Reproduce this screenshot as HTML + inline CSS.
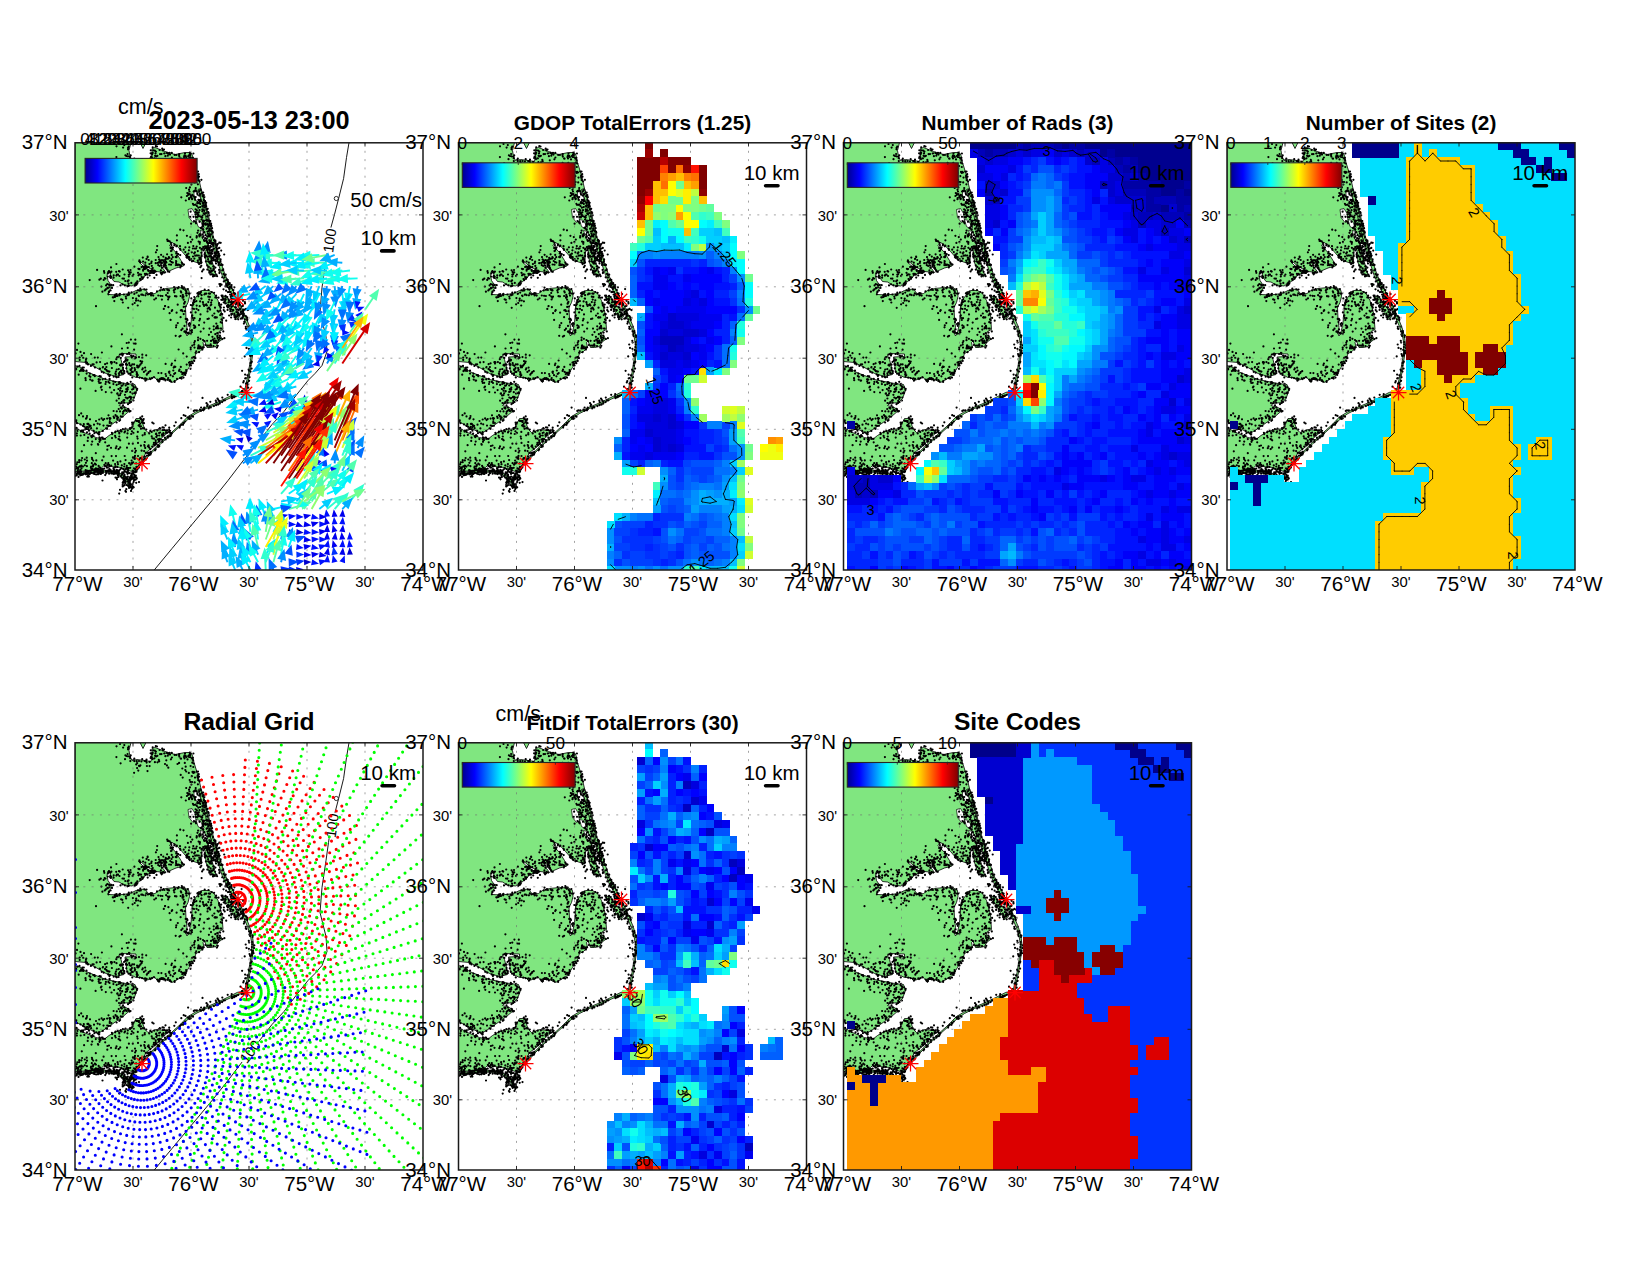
<!DOCTYPE html><html><head><meta charset="utf-8"><title>HFR totals</title><style>html,body{margin:0;padding:0;background:#fff}svg{display:block}text{font-family:"Liberation Sans", sans-serif;fill:#000}</style></head><body><svg width="1650" height="1275" viewBox="0 0 1650 1275"><defs><linearGradient id="jet" x1="0" x2="1" y1="0" y2="0"><stop offset="0.0000" stop-color="#00008f"/><stop offset="0.1094" stop-color="#0000ff"/><stop offset="0.3594" stop-color="#00ffff"/><stop offset="0.6094" stop-color="#ffff00"/><stop offset="0.8594" stop-color="#ff0000"/><stop offset="1.0000" stop-color="#7f0000"/></linearGradient><g id="land"><path d="M65,0 71,0 68,6Z M0,0 56,0 54,8 55,14 57,18 62,17 70,18 76,19 77,12 77,6 80,5 90,9 100,12 110,10 116,10 117.5,13 119,20 123,33 126,46 130,62 134,80 137.5,95 136,99 133,100 135,112 139,125 141,133 140,134.5 134,129 131,120 130,108 128,104 127,108 126.5,119 125.5,121 120,119.5 114,117 107,109 101,102.5 97,100 94.5,103 101,110 106,118 108.5,123.5 101,125.5 93,129 90,124 86,119 84,119.5 88,126 91,130 81,129 75,126 70,123 65,118.5 63.5,119 69,124.5 75,128 80,130 71,132 69,135 63,140 57,143.5 49,142.5 44,139.5 39,139 35.5,134 35,129 33,128.5 32,133 33,138 37,144 34,149 33,151 34,152 43,152.5 55,151 61,148 69,146.5 72,149 74,152 80,151 84,148 91,146 101,145 110,145.5 114,148 114.5,154 113,160 110.5,165 111,176 112,185 110.5,190 112,193.5 114,190 116,180 117,170 117,162 120,156 123,152 122.5,150 127,148 134,148 139,151 143,158 145,165 147,172 147.5,180 148,187 144,189 143,192 146,194 147,197 143,200 141,204 136,205 132,205 129.5,198.5 128,200 129,205 125,209 121,211 119,217 114,225 109,233 101,238 97,240 91,237 86,236 84,240 79,234 74,237 70,238 67,235 61,235 57,233 52,230 51,220 50,214.5 61,214 61,211.5 46,211 44,213 46,217 48,225 49,232 41,234 31,231 21,225 11,220 0,219Z M0,223 6,225 11,229 21,233 31,237 41,239 51,241 60,242 62,248 59,256 55,260 46,261 44,263 51,265 55,268 48,274 41,279 31,286 23,291 11,285 0,279Z M0,285 9,290 21,295 29,297 34,293 41,289 49,287 57,286 59,280 61,276 67,276 68,282 70,287 73,290 81,287 91,288 93,290 86,296 79,304 71,310 67,318 61,326 57,329 50,327 46,325 40,324.5 29,323 27,325 28,327.5 20,328 10,328.5 0,329Z M147,153.5 152,155 156,160 162,168 165,174 161,177 157,170 153,163 149,157Z M126,46 131,62 135,80 141,105 146,120 150,132 154,141 158,148 163,158 167,166 171,175 175,185 177.5,194 178.5,202 178,210 176.5,220 175,230 173,240 171.5,250 163,252 153,256.5 141,262 131,266 121,271 114,276 106,283 96,292 86,301 76,311 69,319 61,327.5 57,333 55,340 54,346 53.5,345.9 53.4,339.6 55.8,332.4 60.1,326.7 68.1,318.2 75.1,310.2 85.2,300.1 95.2,291.1 105.2,282.1 112.6,274.3 120.2,269.7 130.5,264.8 140.4,260.7 152.3,255 162.3,249.9 169.6,248.4 171.4,239.7 173.6,229.8 175.1,219.8 176.5,209.8 176.9,202 175.7,194.4 173.1,185.6 169,175.9 164.8,167 160.7,159.2 155.3,149.4 151.3,142.3 147.2,133.1 143.2,120.9 138.1,105.8 132.1,80.7 128.1,62.8 123.1,46.9Z M54,346 52,340 49,336 44,332.5 36,330 26,329.5 16,330.5 8,331.5 0,333 -0.4,331 7.7,329.5 15.8,328.5 26,327.5 36.3,328 44.8,330.7 50.5,334.4 53.8,339.1 54.5,345.8Z" fill="#80e680" stroke="#000" stroke-width="0.8" stroke-linejoin="round"/><path d="M119,49 124,50 126,58 125,61 121,58 119,54Z M113,67 117,66 120,71 121,78 118,80 114,75Z M121,77 125,78 129,85 128,87 123,84Z M125,88 129,89 133,97 132,100 128,97Z" fill="#fff" stroke="#000" stroke-width="0.7"/><path d="M53.7,4.2h.01M45,1.5h.01M48.1,5.1h.01M53.1,5.3h.01M49.3,2.6h.01M53,6.8h.01M41.5,3.8h.01M53,13.8h.01M52.6,11.5h.01M41.4,14.6h.01M55.7,12.9h.01M51.4,13.5h.01M50.4,12.8h.01M58.4,17.4h.01M55.2,15.7h.01M50,16.7h.01M45.6,20.8h.01M55.3,18.6h.01M54.9,14.3h.01M59.1,30.3h.01M61.7,18.7h.01M61.2,21.9h.01M62.2,20.5h.01M59.3,18.6h.01M59.3,16.2h.01M65.4,22.8h.01M64.7,23.7h.01M67.2,16.7h.01M69.6,18.5h.01M64,18.5h.01M66.4,19h.01M62.2,20.6h.01M62.1,25.6h.01M63.9,23.3h.01M63.3,28.1h.01M71.9,23.5h.01M71.5,17h.01M72.5,28.6h.01M74.6,23.6h.01M71.2,18.4h.01M71.6,20.1h.01M74.6,19.4h.01M80.1,13.3h.01M84.2,18.8h.01M76.9,14.9h.01M79.9,19.7h.01M90,21.5h.01M90.4,13.7h.01M76.1,14.1h.01M79.4,15.8h.01M77.5,16.6h.01M77,10.5h.01M86.5,11.6h.01M75.8,7.8h.01M77.1,11.8h.01M80.2,8.5h.01M75.6,10.8h.01M87.2,6.2h.01M77.7,10.4h.01M77.7,4.8h.01M80.5,10.9h.01M78.2,7.8h.01M81.2,14h.01M82.4,13.3h.01M84.6,7.5h.01M79.8,8h.01M89.6,10.8h.01M80.9,9h.01M82.5,19.8h.01M85.1,11.7h.01M80.8,3.7h.01M82,4h.01M75.6,15.5h.01M83.8,17.4h.01M89,7h.01M87.9,8h.01M92.8,13.2h.01M91.9,10.4h.01M93.3,11.3h.01M94.5,10.3h.01M91.3,17.8h.01M95.9,16.8h.01M91.9,22.9h.01M93.3,25.2h.01M96.8,10.4h.01M95,12.1h.01M99.7,12.4h.01M96.9,15h.01M89.2,11h.01M104.1,20.4h.01M105.6,16.1h.01M108.9,14.5h.01M109.4,13h.01M104.2,11.7h.01M111.2,29h.01M101.4,12.5h.01M110.7,24.2h.01M104,12.6h.01M102.5,21.5h.01M106,16.2h.01M104.3,14.1h.01M110,11h.01M114.8,10.1h.01M110.3,27.5h.01M114.9,11.1h.01M115.3,11.4h.01M113.3,13.5h.01M112.5,16.9h.01M111.4,14.6h.01M118.4,11h.01M110.6,14.1h.01M114.4,12.4h.01M110.6,13.3h.01M115.4,12.6h.01M114.1,14.5h.01M116.7,15.8h.01M118.1,17.9h.01M117.9,15.3h.01M118.1,17.9h.01M109.8,20.4h.01M115.3,14.5h.01M117.9,17.5h.01M109.5,16h.01M117.5,29.4h.01M121.7,29.1h.01M113.8,30.4h.01M118.9,29.4h.01M115.6,23.5h.01M119.5,30h.01M123.7,31.7h.01M117.3,20.2h.01M105.7,32.4h.01M123,29.1h.01M116.8,33.7h.01M107.7,35.1h.01M118.6,29.8h.01M118.7,21h.01M118.3,30.4h.01M118.3,24.5h.01M107.3,26h.01M119.7,39.9h.01M114.7,37.5h.01M122.9,35.4h.01M124,34.2h.01M124.6,39h.01M117.1,39.5h.01M126.4,37.3h.01M120,35.1h.01M123.8,37.8h.01M115.4,39.4h.01M123.1,37.6h.01M122.9,41.8h.01M120.7,45.6h.01M122.6,33.2h.01M111.2,45.5h.01M116.4,42.1h.01M122.5,34.5h.01M115.9,53.1h.01M122.5,52.1h.01M122.7,59.7h.01M128.1,60.6h.01M126,58.5h.01M124.9,58.4h.01M128.8,52.7h.01M120.7,54.5h.01M117,53.1h.01M128,61h.01M125,51.5h.01M130.7,60.3h.01M120.7,47.7h.01M121.7,48.7h.01M106.3,54.8h.01M119.8,55.3h.01M127.6,53.7h.01M129.1,60h.01M113.3,52.3h.01M117.4,52.3h.01M132.5,77.9h.01M120.6,66.8h.01M127.3,66.9h.01M129,62.8h.01M125.1,73.8h.01M132.1,73.9h.01M128.4,67.9h.01M115.6,69.2h.01M130.3,80.8h.01M115.2,74.3h.01M123.8,73.5h.01M133.8,78.1h.01M123.3,65.2h.01M134.2,72.8h.01M131,70.5h.01M131.5,66.8h.01M131.2,63.7h.01M131.3,77.7h.01M128.7,70.8h.01M132.7,78.3h.01M131.9,77.3h.01M130.7,62.1h.01M134.7,80.7h.01M130.1,95.7h.01M135.9,82.1h.01M129.8,81.2h.01M125.9,85.3h.01M132.3,81.5h.01M127.7,95.1h.01M128.3,94h.01M134.7,87.5h.01M124.1,92.6h.01M121.7,93.7h.01M131.6,86.3h.01M133.8,88.5h.01M135.4,91.9h.01M131.7,86.2h.01M121.6,95.1h.01M132.4,89h.01M121.8,94.2h.01M125.3,92.7h.01M122.5,90.3h.01M134.9,98.9h.01M134.9,98h.01M137.9,94.6h.01M135.8,100.6h.01M132.5,94.1h.01M128.1,80.2h.01M134.5,98.1h.01M136.2,110.8h.01M129.6,112.2h.01M124.8,101.3h.01M121.9,112.8h.01M131.7,106.5h.01M133.6,111.2h.01M132.8,100.9h.01M117.9,106h.01M133.1,103.1h.01M132.5,108.3h.01M126.3,110.3h.01M131.9,107.5h.01M130,103.8h.01M114.3,104.8h.01M132.7,104.1h.01M138.2,123.9h.01M135.1,121.1h.01M134.3,119.9h.01M133.1,116.7h.01M133.1,118.8h.01M128.3,127.2h.01M136.7,115.8h.01M130.9,118.9h.01M134.3,119.4h.01M135.6,126.1h.01M134,114.1h.01M124.5,117h.01M136.5,117.6h.01M126,120.7h.01M133.1,116.6h.01M126.3,123.3h.01M134.5,128.3h.01M138.1,127.8h.01M138,133.9h.01M126.6,135.6h.01M127.1,128.9h.01M139.5,132.9h.01M140.1,129.3h.01M128.6,127.1h.01M136.6,129.1h.01M137.4,131.8h.01M139.5,132.8h.01M142.1,133.7h.01M135.6,129.3h.01M134.5,128.8h.01M136.1,132h.01M135.4,132h.01M136.8,128.1h.01M137.7,128h.01M134.3,130.2h.01M144.1,127.4h.01M134.7,130.3h.01M138.8,132.3h.01M145.5,118.6h.01M132.3,127.1h.01M143.8,121.2h.01M133.8,124.4h.01M138.8,123.9h.01M135.6,125.8h.01M132.3,122.9h.01M140.4,125.1h.01M136.8,121.2h.01M142.3,118.5h.01M146.3,121.8h.01M137.2,117.8h.01M129.7,113.8h.01M134.8,113.9h.01M135.3,113.1h.01M138.8,117.8h.01M142.7,109.2h.01M137.2,108.4h.01M137.1,111.2h.01M131.2,113.3h.01M130,115.1h.01M129.8,110.7h.01M133.9,113.9h.01M130.5,113.6h.01M135.2,119.2h.01M131.4,113.2h.01M128.4,104.5h.01M130.5,105.4h.01M131.1,103.8h.01M136.2,101h.01M136,104.2h.01M126.5,107h.01M126.8,106.3h.01M120,106.1h.01M118.3,103.6h.01M124.9,105.3h.01M119.2,110.9h.01M119.4,116.1h.01M120.2,113.2h.01M124.3,115.3h.01M121.3,113h.01M122.8,108.6h.01M128.5,107.9h.01M126.6,113.7h.01M119.9,109.9h.01M126.6,112.9h.01M125.5,116.6h.01M125,115.2h.01M125.8,118.8h.01M122.7,118h.01M126.5,119.9h.01M123,119.9h.01M123.8,113h.01M124.1,121.6h.01M129.2,106.2h.01M123.9,120.3h.01M125.6,117.4h.01M116.9,118.8h.01M121.1,106h.01M116.2,116.6h.01M118.2,118.4h.01M114.7,117.6h.01M122.4,113h.01M118,114h.01M123.6,99.1h.01M121.7,104h.01M113.4,111.2h.01M116.8,109.8h.01M113.5,114.5h.01M108.7,107.2h.01M114,116.6h.01M111.4,114.6h.01M111.6,112.8h.01M112.3,113.3h.01M110.3,109.6h.01M112,115.3h.01M113.9,107.8h.01M111.9,112h.01M114.2,114.7h.01M115.9,99.4h.01M101.3,103.8h.01M110.4,104.8h.01M111.9,93.3h.01M112.9,100.4h.01M115.3,94.6h.01M101.8,103.1h.01M105.4,107.3h.01M117.3,97.1h.01M105.1,106.3h.01M105,103.7h.01M101.9,92.9h.01M99.3,102.8h.01M105.2,87.2h.01M99.5,101.9h.01M108.5,87.8h.01M101.9,97.8h.01M92.2,97.1h.01M92.6,98.5h.01M96,100.4h.01M93.3,98.3h.01M94.7,98.9h.01M97.5,106.6h.01M96.5,108.2h.01M95.6,105.6h.01M96,108.6h.01M92.1,111.8h.01M86.1,112.3h.01M97,104.8h.01M92.1,116.3h.01M98,105h.01M93.9,114.6h.01M96.7,112.4h.01M96.4,102.6h.01M101.5,109.3h.01M89,123.3h.01M101.2,118.9h.01M101.2,111h.01M97.7,114.7h.01M100.8,114.6h.01M97.8,120.1h.01M103.2,111.6h.01M100.6,114.5h.01M96.5,116.5h.01M88.6,119.1h.01M86.6,122.9h.01M102.5,122.7h.01M105.7,122.8h.01M104.9,122.6h.01M108.8,122.1h.01M109,122.1h.01M107.3,121.2h.01M102.7,122.1h.01M100.8,122.6h.01M101.5,114.7h.01M103.6,122.2h.01M106.2,123.6h.01M101.9,113.3h.01M106.8,120.1h.01M105.3,124.9h.01M105.2,112.6h.01M101,120.6h.01M92.8,129h.01M90.4,119h.01M94.1,122h.01M88.3,114.1h.01M92.6,127.7h.01M95.2,118.5h.01M93.5,116.1h.01M94.3,129.3h.01M96,122.2h.01M90.8,123.1h.01M91,119.2h.01M102,121.8h.01M91.6,126.6h.01M101,118.5h.01M90.7,125.4h.01M96.5,119.5h.01M91.6,125.9h.01M91.3,125h.01M91.4,120h.01M89.4,121.8h.01M86.8,120.3h.01M90.3,117h.01M89.3,120.3h.01M94.3,115.3h.01M101.6,110.4h.01M86.2,120.8h.01M83.5,114.6h.01M82.2,103.6h.01M84.1,117.1h.01M79.6,129.2h.01M80.7,120.7h.01M75.1,128.5h.01M86.9,125.3h.01M84.5,119.4h.01M76.8,128.6h.01M78.8,129.8h.01M84.7,123.5h.01M83.5,120.1h.01M81.5,132.4h.01M79.3,135.3h.01M88.2,129.4h.01M86.6,131.8h.01M85.9,127.9h.01M87.6,130.8h.01M88.6,117.8h.01M85.5,118.8h.01M88.8,124.2h.01M85.1,117.8h.01M87,117.6h.01M85.8,130.4h.01M87.3,130.4h.01M84.3,117.1h.01M80.7,129.1h.01M82.8,120.4h.01M89.7,130.1h.01M90.7,115.3h.01M90.2,121.1h.01M77.8,125.5h.01M76.8,123.4h.01M78.2,128h.01M83.2,122.6h.01M80.7,117.5h.01M79.4,128h.01M77.2,126h.01M76.6,127.9h.01M81.9,107.5h.01M80.9,109.8h.01M71.6,124.2h.01M76.3,120.5h.01M71.1,124.2h.01M68.9,125.4h.01M76.6,119.1h.01M72.7,114.6h.01M72.6,114h.01M67.8,115.1h.01M70.3,122.8h.01M64.7,119.1h.01M71.5,116.4h.01M68.1,119h.01M65.1,119.8h.01M64.4,117.9h.01M49.5,132h.01M59.4,124.2h.01M66.6,124.6h.01M64.6,126.5h.01M63.4,126.3h.01M68.1,124.1h.01M64.4,118.6h.01M64.2,126.7h.01M55.5,127.5h.01M68.2,127.1h.01M69.3,124.7h.01M69.9,126.4h.01M62.3,141.1h.01M73.4,128.5h.01M65,136.5h.01M72.1,124.9h.01M70.6,126.2h.01M68.1,128.2h.01M77.7,129.5h.01M78.5,128.9h.01M74.7,133h.01M76.3,130h.01M79.8,128.4h.01M72.7,135.1h.01M71.2,131.3h.01M70.3,120.2h.01M72.9,127.5h.01M78.1,130.4h.01M73.8,124.6h.01M74.4,121.6h.01M73.7,117.5h.01M79,130.4h.01M74.8,130.6h.01M69.9,131.3h.01M70.3,132.5h.01M68.3,134.8h.01M72.3,132.2h.01M66,132.2h.01M64.7,131.8h.01M66.6,134.5h.01M65.6,137.7h.01M67.5,136.3h.01M62.3,138.8h.01M57.6,133.4h.01M65.4,136.6h.01M63,130.3h.01M63.5,132.8h.01M60.5,141.1h.01M61.4,142.3h.01M61.3,141.5h.01M56.3,140.4h.01M60.3,141.5h.01M54.2,129.7h.01M61.3,140h.01M59.8,143.3h.01M53.8,134h.01M53.1,138.1h.01M52.5,143.8h.01M53.8,143.3h.01M53.6,141.2h.01M52.7,138.8h.01M49.8,142.8h.01M58.4,132h.01M53.6,137.9h.01M47.6,141.8h.01M53.8,132.1h.01M48.9,136.2h.01M55.7,129.9h.01M50.3,138.5h.01M54.6,131.8h.01M47.5,136h.01M45.5,142.9h.01M44.4,128.8h.01M41.4,133.1h.01M44.7,129.1h.01M43,132.1h.01M44,128.7h.01M41.4,121.5h.01M35.7,135.4h.01M44.5,133.5h.01M38.6,135.2h.01M36.2,134.3h.01M47.7,127h.01M53.1,127.8h.01M42,132h.01M35.4,133.3h.01M35.3,130.2h.01M38.7,132.8h.01M35,134.5h.01M41.2,129.3h.01M36.4,129.2h.01M34,128.7h.01M33.7,129.3h.01M36,124.9h.01M22.1,127.4h.01M34.4,129.5h.01M29.3,130.3h.01M29,128.7h.01M32.9,130.9h.01M25.8,136.2h.01M30.5,136.1h.01M24.4,137.2h.01M32.8,134h.01M28.7,137.4h.01M29.7,135.6h.01M14.7,137.6h.01M34,142.2h.01M38.2,142.7h.01M29.8,147.9h.01M32.8,145.7h.01M27.4,149.2h.01M32.5,145.3h.01M34.7,143.4h.01M36.2,142.4h.01M33.9,149.2h.01M37,145.4h.01M31.1,142.9h.01M32.3,141.5h.01M26.4,144.1h.01M35.6,148h.01M34.5,144.7h.01M32.4,145.8h.01M30.8,146.9h.01M33.9,149.7h.01M21,163.7h.01M33.4,151.8h.01M40.3,152.1h.01M40.9,153.5h.01M41.6,151.7h.01M39.3,158.6h.01M39.7,153.1h.01M41.9,153.2h.01M40,154.5h.01M37.8,154.8h.01M38.5,154.8h.01M42.5,153.5h.01M44.9,151.3h.01M48.9,152h.01M53.2,165.3h.01M44.6,152.8h.01M44.2,151.9h.01M52.8,152.7h.01M52.6,152.3h.01M52.3,152.3h.01M53.8,150.2h.01M46.1,156.8h.01M50.8,154h.01M47.8,160h.01M51.1,155.9h.01M47.3,157.3h.01M54,152.2h.01M57.9,155.6h.01M61.2,156.2h.01M62.7,163h.01M59.7,160.5h.01M56.5,149.9h.01M59.3,151.5h.01M61.7,150.1h.01M59.5,151h.01M64,153.6h.01M63.6,153.1h.01M65.3,146h.01M65.4,158.8h.01M69.4,146.9h.01M65.8,148h.01M64.4,148.2h.01M63,147.8h.01M68.1,152.6h.01M67.3,152h.01M66.3,152.2h.01M71.5,147h.01M63.2,158h.01M57.6,161.8h.01M61,158.2h.01M73,151.9h.01M71.3,150.8h.01M70.4,152.8h.01M78.2,153.1h.01M74.7,151.3h.01M79.3,157h.01M75.9,151.3h.01M77.2,150.9h.01M76,150.7h.01M81,155.8h.01M76.1,152.9h.01M90,163.7h.01M87.4,153.5h.01M85.6,153.3h.01M82,148.9h.01M83.3,153h.01M86.9,157.1h.01M92.7,150.5h.01M86,145.2h.01M85.2,147.9h.01M87.5,147.3h.01M93.4,164.7h.01M90.1,163.6h.01M88.5,146.5h.01M89.4,147.5h.01M91.1,152.7h.01M92.8,154.1h.01M100.3,146.6h.01M99.3,149.8h.01M93.8,147.6h.01M99.1,144.5h.01M94.5,154.1h.01M98.8,148h.01M99.3,147.2h.01M102.7,162.2h.01M93.1,156.9h.01M93.4,148h.01M94,147.9h.01M92.2,147.2h.01M103.7,144.5h.01M109.1,145.2h.01M105.8,148.8h.01M106.8,143.6h.01M103.3,145.2h.01M102.8,145.8h.01M106.9,145.2h.01M108.4,145.2h.01M108.3,146.3h.01M107.8,144.6h.01M111.6,150.5h.01M111.3,148.5h.01M108.6,157.2h.01M110.3,147.4h.01M112.9,146.6h.01M105.6,153.5h.01M114.7,151.1h.01M100,153.7h.01M110.9,151h.01M106.2,149.9h.01M111.2,149.3h.01M113.5,151.1h.01M111.5,153.1h.01M107.8,152.3h.01M101.4,153.9h.01M116.3,155.9h.01M108.5,154.3h.01M107.9,153.9h.01M107.5,155.2h.01M108.4,153.9h.01M110.6,164h.01M109.5,160.3h.01M109.1,161.2h.01M109.9,159.4h.01M93.9,155.1h.01M109.6,160.3h.01M108.7,164.4h.01M107.5,168.7h.01M88.8,166.4h.01M109.9,168.7h.01M97.2,167.7h.01M105.8,167.8h.01M110.7,176.4h.01M94.6,170.7h.01M105.6,174.7h.01M108.7,171.6h.01M96.7,168.6h.01M101.6,170.2h.01M106.8,167.6h.01M95.6,177.4h.01M113.5,181.6h.01M109.5,183.4h.01M111.5,179.6h.01M112.5,177.6h.01M102.8,180.6h.01M101,184.8h.01M107.5,186.2h.01M111.9,176.4h.01M101.3,182.8h.01M106.3,187.6h.01M109.4,189.2h.01M109.8,188.8h.01M112.1,186.9h.01M111.3,189h.01M110.2,189.5h.01M104.4,194.1h.01M105.6,193.3h.01M105.1,193.5h.01M110.8,190.1h.01M100.7,193.3h.01M123,197.7h.01M115.8,191.2h.01M113.6,190.4h.01M113.7,191.1h.01M123.1,195.2h.01M125.7,189.1h.01M119.2,185.5h.01M116.9,189.7h.01M116,188.2h.01M124,182.6h.01M118.8,182.9h.01M120.2,184.9h.01M115.2,181.5h.01M114.6,180.5h.01M120.1,183.8h.01M114.2,183.3h.01M112.4,190.5h.01M116.9,187.7h.01M118.3,177.5h.01M119.5,175.7h.01M129.2,180.1h.01M117,173.6h.01M120.6,169.9h.01M125,176.4h.01M132.5,176.5h.01M125.5,171.9h.01M117.3,172.9h.01M117.7,175.5h.01M124.4,178h.01M135.1,167.1h.01M132.5,168.9h.01M115.9,169.9h.01M117.7,166h.01M121.5,166.3h.01M123.4,167.6h.01M121.7,163.1h.01M115.8,162.5h.01M117.6,163h.01M119,166.5h.01M118.2,159.8h.01M119.7,159.3h.01M118.3,160.3h.01M118.3,161.7h.01M125.1,158.9h.01M121.4,158.6h.01M124.7,163.7h.01M119.7,156.8h.01M118.7,157.7h.01M130.6,162.3h.01M134.6,166.1h.01M123.3,153.8h.01M119.3,154.5h.01M134,165.1h.01M126.5,156.2h.01M140,165.2h.01M122.4,150.9h.01M123.6,151.7h.01M125.3,150.8h.01M129.4,152h.01M126,149.4h.01M126.2,156h.01M125.1,151.1h.01M123.7,150h.01M129.1,163.5h.01M129.7,147.2h.01M133.5,147.6h.01M126.6,152.7h.01M133.3,159.6h.01M131.2,151.2h.01M130.1,151h.01M127.9,159.5h.01M133.8,151h.01M136.8,149.5h.01M133.3,154.2h.01M127.9,159.9h.01M135.1,151.1h.01M134.4,151.2h.01M131.3,161.8h.01M134.2,157.1h.01M143.5,155.2h.01M141.1,153h.01M139.1,150.3h.01M141.4,155h.01M128.4,161.9h.01M136.1,160.1h.01M134.9,154.4h.01M136.8,157.8h.01M140.3,154.9h.01M131.9,163h.01M144.1,161.5h.01M144.3,162.8h.01M144.1,160.7h.01M136.3,162.1h.01M145.3,164h.01M132.7,166.2h.01M135.7,162.8h.01M146.2,162.1h.01M139.3,171h.01M137.5,173.1h.01M142.6,168.3h.01M143.5,169.2h.01M133.8,176.1h.01M145.8,165.2h.01M145.2,168.1h.01M145.2,172.6h.01M147.2,177.5h.01M141.8,174.9h.01M147.2,171.7h.01M146.5,176.9h.01M148.6,175.4h.01M140.2,175.2h.01M139.6,175h.01M146.5,177.1h.01M145.7,179.7h.01M141,185.9h.01M143,185.7h.01M147,180.3h.01M128.6,186.1h.01M141.3,181.1h.01M142.5,183.4h.01M138.7,183.8h.01M141.4,184.9h.01M145.4,186h.01M145.1,190.1h.01M142.6,183.8h.01M140.1,174.6h.01M148.3,188.9h.01M143,186h.01M146.2,186.1h.01M142.3,190.7h.01M134.5,186.1h.01M140.3,191.7h.01M142.3,190.5h.01M142.3,193.4h.01M144.9,193.2h.01M139.8,199.1h.01M144.4,195.2h.01M142.6,195.6h.01M143.8,197.5h.01M147.4,196.6h.01M140.9,198.1h.01M140,199.6h.01M138.8,187.1h.01M144.7,195.3h.01M136,189.6h.01M142.8,199.8h.01M142.4,194.4h.01M145.1,196h.01M136,198.4h.01M142.8,203.3h.01M139.1,200.4h.01M141.8,205.1h.01M139.5,199.3h.01M136.1,203.3h.01M133.9,192.3h.01M140.9,200.4h.01M137.4,194.3h.01M138.5,203.6h.01M142,204.9h.01M132.1,198.3h.01M135.7,201.9h.01M134.9,203.2h.01M132.5,203.1h.01M138.9,199.1h.01M143.4,197.7h.01M137.8,197.2h.01M133.8,203.1h.01M139.5,196h.01M130.4,202.5h.01M141,199.4h.01M149.4,195.7h.01M138.7,198.1h.01M128,197.5h.01M129.5,198.7h.01M125.4,196.3h.01M115.7,206.8h.01M128.6,204.8h.01M125.3,204.2h.01M115.7,205h.01M117.3,203.1h.01M123.4,203.5h.01M124.3,205.8h.01M127.4,207.1h.01M123.2,205h.01M119.2,202.1h.01M125.9,205.7h.01M127.5,204.9h.01M123.6,202.9h.01M119.9,198.6h.01M119.3,200h.01M119.5,205.1h.01M123,205.9h.01M124,209.7h.01M121.2,208.8h.01M103.6,207h.01M118.9,214.6h.01M117.5,215.1h.01M119.3,214.5h.01M120.6,210.3h.01M120.4,215.7h.01M120.3,215.2h.01M117,215.6h.01M108.2,210.9h.01M115.6,221h.01M114.6,222.5h.01M116.7,219h.01M117.8,220.7h.01M111.7,222.1h.01M119.2,218.4h.01M115.5,226.3h.01M111.7,214.1h.01M114,220.2h.01M116,222.9h.01M114.8,219.6h.01M111.1,227.6h.01M110.2,232.4h.01M111.4,229.1h.01M106.2,229.4h.01M110.8,230.8h.01M96.4,222.6h.01M109.2,231.4h.01M107.2,231.6h.01M109.7,230.2h.01M108.1,230.4h.01M100.1,218h.01M105.8,224.4h.01M105,235.6h.01M98.7,225.1h.01M104.5,227.2h.01M104.1,228.4h.01M102,236.4h.01M108.5,235.1h.01M98.3,228h.01M106.6,236.1h.01M99.4,224.5h.01M100.3,224.3h.01M96.9,221.1h.01M106.1,235.1h.01M94.4,229h.01M95.5,232.7h.01M97.9,233.8h.01M99.6,239.5h.01M94.4,230.5h.01M99.7,238.5h.01M92.8,237.1h.01M96.1,239.1h.01M99.3,224.2h.01M92.9,236.8h.01M93.2,235.5h.01M94.9,237.7h.01M99.2,231.4h.01M95,238.3h.01M100.2,230.6h.01M88.4,237h.01M86.4,230.6h.01M89.3,236.3h.01M90.4,237.9h.01M90.6,221.4h.01M90.6,231.5h.01M84.3,238.7h.01M84.8,236.6h.01M85,236.4h.01M67.3,227h.01M83.2,238.6h.01M87.9,235.7h.01M86.4,235.7h.01M86.6,236.5h.01M79.1,234.8h.01M83.4,230.5h.01M86.2,236.2h.01M91.1,233.5h.01M82.3,237h.01M93.9,229.5h.01M79.1,234.8h.01M83.8,237.7h.01M73.7,229.6h.01M70.1,225.1h.01M75.5,236.6h.01M75.2,228.7h.01M77,235.7h.01M74.8,235.9h.01M73.3,230.5h.01M71.6,236.3h.01M70.6,228.1h.01M67.8,225.8h.01M70.4,238.2h.01M68.9,229.4h.01M71.8,232.2h.01M70.1,235.8h.01M69.3,236h.01M67.1,235.7h.01M71.4,236.8h.01M72.4,231h.01M62.1,223.1h.01M64.4,223.2h.01M62,233.9h.01M62.3,224.8h.01M62.8,232.6h.01M64.7,235.2h.01M61.6,229.6h.01M67.2,219.1h.01M61.7,231.9h.01M57.3,234.9h.01M66.7,220.5h.01M65.5,218.7h.01M59.8,228.1h.01M65.5,221.9h.01M55.5,230.8h.01M57.8,229.4h.01M59.1,221.9h.01M55.5,226.9h.01M60.1,227.2h.01M55.5,232.5h.01M53.6,231.2h.01M51.3,222.1h.01M56.3,226.6h.01M63.5,224.8h.01M56.9,229.3h.01M52.1,222.3h.01M51.3,221.2h.01M55.9,223.3h.01M51.2,222.2h.01M52.3,229.2h.01M51.3,225.8h.01M50.9,221.6h.01M63.9,223.8h.01M49,219.5h.01M52.5,217.3h.01M50.9,216.1h.01M67.3,215.2h.01M52.3,217.9h.01M61.1,215.1h.01M52.1,218.1h.01M57.1,225.4h.01M59.9,215.9h.01M57.2,213.8h.01M56.8,215.1h.01M56.1,213h.01M57.3,221.9h.01M59.6,225.5h.01M54.6,222.6h.01M62,230.9h.01M51.1,222.2h.01M54.2,220.7h.01M50.3,218.1h.01M50.3,218.3h.01M55.7,227.7h.01M71.2,212.8h.01M64,214.6h.01M67.3,212.2h.01M48.1,211.5h.01M46.9,191.8h.01M58.5,213.5h.01M47.7,211.4h.01M53.8,200.1h.01M60.3,197.2h.01M60.6,201.2h.01M47,206h.01M58.9,201h.01M47.5,213.1h.01M55.9,197.1h.01M54,210.3h.01M54.2,211.6h.01M51.7,200.5h.01M52.1,211.5h.01M59.1,207.2h.01M46.3,211.7h.01M52.7,205.4h.01M54.4,210.6h.01M44.9,212.1h.01M36.4,203.9h.01M47.1,211.1h.01M43.1,214.5h.01M41.9,215.2h.01M42,215h.01M41.3,216.7h.01M45.8,215.4h.01M46.5,222h.01M45,222.7h.01M45.9,223.2h.01M41.7,227h.01M48,222.2h.01M47.8,221.9h.01M41.5,220.7h.01M28,224.5h.01M39.4,219.6h.01M45.6,222h.01M46,228.2h.01M46.4,229.5h.01M48,227.5h.01M34.4,229.1h.01M45.1,229.3h.01M49.3,228.7h.01M48,225.4h.01M49.4,230.5h.01M47.5,231.2h.01M41,234.3h.01M41.7,234.8h.01M43.8,226.6h.01M40.9,229h.01M45.9,222.6h.01M43.6,234.5h.01M43.9,230.9h.01M46.7,231.2h.01M44.1,232.5h.01M34.4,233.6h.01M34.9,232.7h.01M36.5,221.1h.01M36.9,219.9h.01M36.9,225.5h.01M40.4,230.9h.01M33.3,228.8h.01M32.3,228.7h.01M38.7,234.2h.01M33.2,231.9h.01M34.7,233.2h.01M40.8,232.2h.01M25.1,219.6h.01M27.8,225h.01M35.9,219.7h.01M31.5,227.6h.01M31.4,224.5h.01M30.1,221.7h.01M25,226.3h.01M32.1,220.8h.01M26.7,229.3h.01M30.2,226.3h.01M20,225h.01M36.6,219.6h.01M24.7,226.2h.01M28.7,230.2h.01M30,226.6h.01M18.6,221.9h.01M16.1,211.6h.01M22.8,215.1h.01M19.8,215.1h.01M19.9,224.9h.01M13,221.9h.01M11.3,221.1h.01M15.9,223.4h.01M26.9,210h.01M17.5,221.9h.01M21.6,219.9h.01M12,220h.01M4.7,217.4h.01M11.3,216h.01M6.8,213.1h.01M5.5,209.4h.01M4.7,215h.01M10.7,219.2h.01M9,210.7h.01M3.4,201.1h.01M0.6,210.9h.01M2,207.4h.01M11,217.2h.01M8.2,215.3h.01M1.1,226.2h.01M4.5,223.4h.01M1.2,226.8h.01M2.5,224.2h.01M4.9,228.6h.01M6.8,228.2h.01M8.8,225h.01M8.2,227.3h.01M6.8,226.5h.01M6.1,226.9h.01M7.5,225h.01M8.5,228.5h.01M3.7,232.2h.01M15.2,237.1h.01M11.6,231.1h.01M17.1,238.2h.01M11.5,228.2h.01M17.6,238.1h.01M14.9,231.2h.01M19.4,232.5h.01M10.5,235.7h.01M5.4,246.2h.01M15.4,234.3h.01M14.3,233.6h.01M18.2,232.5h.01M19.8,233.7h.01M10.7,237.7h.01M25.7,233.9h.01M30.3,236.4h.01M24.4,233.7h.01M24.9,237.1h.01M27.7,236.8h.01M26.5,244h.01M25.9,244.9h.01M23.7,239h.01M23.6,236.9h.01M26.8,247.3h.01M24.3,240.5h.01M23.8,236.8h.01M20.6,248.4h.01M25.7,240.3h.01M40.2,239.5h.01M36.5,250h.01M34.6,236.3h.01M33.4,239.4h.01M34.5,240.5h.01M34.6,237.1h.01M30.8,249.6h.01M38.4,241.6h.01M30.9,239.4h.01M34.9,244.9h.01M39.1,247.6h.01M30.5,241.5h.01M38.3,239.1h.01M45.1,239.8h.01M44.1,239.7h.01M45.7,245.8h.01M47.1,249h.01M45.6,240.9h.01M41.6,242.4h.01M46.6,243.3h.01M45.4,245.4h.01M42.5,250.8h.01M42.2,251.2h.01M47.5,243h.01M43.4,246.5h.01M43.7,241.5h.01M48.3,258.1h.01M52.8,245h.01M50.8,255h.01M57.6,241.3h.01M58.5,243.9h.01M52.3,240.3h.01M53.2,241.4h.01M55.7,239.3h.01M57.2,242.9h.01M55.5,254.3h.01M52.4,241.6h.01M58.6,245.5h.01M51.3,246.7h.01M62.2,246.4h.01M58.3,246.5h.01M61.9,247.4h.01M43.6,252.9h.01M47.2,248.7h.01M60.6,244.8h.01M60.5,250.6h.01M55.3,249.7h.01M60.3,249.8h.01M49.9,252.3h.01M59.4,250.7h.01M57.1,247h.01M54.5,254.4h.01M58.8,255h.01M57.5,251.1h.01M50.7,242.9h.01M52.3,256h.01M55.8,256.4h.01M56.4,254.9h.01M54.7,260.5h.01M58.5,258h.01M54.7,258.4h.01M56.1,259.5h.01M45.6,250.8h.01M53,261.7h.01M49.1,260.1h.01M49.3,257.7h.01M52.7,246.9h.01M50.7,249.4h.01M45,248.2h.01M52,248.8h.01M48.4,241.4h.01M45,252.6h.01M52.8,255.5h.01M45.9,260.8h.01M41.6,258.2h.01M44,260.5h.01M46.9,265.8h.01M48.9,268.4h.01M49.3,264.9h.01M48.1,269.3h.01M46.8,265.5h.01M41.8,268.8h.01M43.7,266.5h.01M48,262.8h.01M53,266.4h.01M45.8,273.9h.01M55.5,268.6h.01M53.4,266.6h.01M42.2,276.6h.01M50.3,267h.01M47.7,274.1h.01M46.8,259.7h.01M53.8,267.9h.01M43.9,256h.01M47.9,271.2h.01M50.7,267.4h.01M51.8,268.5h.01M46.8,266.1h.01M51.3,268.4h.01M45,268.9h.01M45.9,265.3h.01M54.5,269.1h.01M43.1,275.2h.01M42.2,276.2h.01M41.4,273.9h.01M42,273.9h.01M45.1,277.6h.01M41.6,280h.01M38.6,274.1h.01M38.6,268.5h.01M40.5,272.6h.01M39.1,275.4h.01M44.3,278.3h.01M35.4,283.3h.01M32.1,276.1h.01M36.4,280.5h.01M34.8,278.8h.01M32.2,283h.01M35.4,275.9h.01M34.7,280.4h.01M33.5,272.8h.01M34.5,275.7h.01M32,286.3h.01M34.8,276.6h.01M28.1,277.6h.01M33.5,283.4h.01M31.1,285.8h.01M29.2,276.5h.01M24.7,281.8h.01M19,282.2h.01M24.2,277h.01M27.8,288.4h.01M15,276.8h.01M24.3,291.6h.01M22.6,281.1h.01M24,292.1h.01M21.9,285.9h.01M21,278.5h.01M28.5,283.1h.01M24.1,289.7h.01M19.4,290.7h.01M21.4,289.8h.01M15.6,283.4h.01M13.9,284.6h.01M18.7,288.4h.01M13.3,281.3h.01M14.3,282.7h.01M26.6,275.9h.01M13.3,286.8h.01M23,291.1h.01M16.1,285.7h.01M14,288.2h.01M11.1,285.5h.01M12.1,284.4h.01M11.6,286.5h.01M11.7,275.3h.01M6.2,270.9h.01M5.5,281.9h.01M10,286.9h.01M2,280.7h.01M8,273.9h.01M4,272.7h.01M1.3,277.8h.01M8,283.4h.01M11,276.2h.01M12,273.5h.01M8.8,281.7h.01M5.5,282h.01M9.4,284.2h.01M12.4,281.4h.01M1.1,278.9h.01M8.1,287.8h.01M5.7,293h.01M1.6,285.4h.01M6.4,288.1h.01M6,289.1h.01M2.4,288.4h.01M1.9,290.8h.01M1.9,293.1h.01M6.8,308.8h.01M12.7,298.4h.01M14.6,291.2h.01M12,289.8h.01M17.6,292.7h.01M18.5,293.5h.01M9.1,302.7h.01M16.8,294.7h.01M16.5,302.1h.01M9.3,292.4h.01M16.3,293.8h.01M13,295.2h.01M8.1,289.5h.01M17.2,299.1h.01M20.8,296.6h.01M24.5,299.3h.01M23.2,302.2h.01M27.5,295h.01M25.2,295.5h.01M25.5,297.6h.01M22.9,301.6h.01M26.9,295h.01M24.4,297.1h.01M24.4,294.9h.01M36,305.3h.01M30,296.3h.01M34,303h.01M28.1,296.2h.01M30.2,299.8h.01M37,295.6h.01M40.8,305.7h.01M43.6,306.5h.01M41.5,303.9h.01M40.7,295h.01M43.5,296.5h.01M40.1,293.4h.01M36.9,290.3h.01M40.2,289.8h.01M37.2,291.6h.01M40.5,289.1h.01M45.2,297.8h.01M44.5,297.2h.01M46.5,289h.01M49.5,289.9h.01M44.2,290.1h.01M45.6,288.3h.01M44.3,290.9h.01M45.8,287.5h.01M42.7,288.5h.01M47.9,286.5h.01M44.3,294h.01M50.1,288.8h.01M52,305.2h.01M55,285.5h.01M52.8,288h.01M52.5,290.9h.01M56.2,291.5h.01M50.3,286.5h.01M52.2,295.1h.01M55.1,286.6h.01M50.5,286.2h.01M53.9,301.2h.01M64.4,283.4h.01M63.6,283.1h.01M64.1,282.5h.01M67.9,285.7h.01M57.5,283.7h.01M58.8,286.3h.01M58.5,280.1h.01M56.6,285h.01M62.4,278.4h.01M60.9,278h.01M63.9,279.4h.01M61.3,278.5h.01M65.7,276.4h.01M67,277.6h.01M63.8,279.4h.01M67.2,273.9h.01M64.3,283h.01M65.3,275.1h.01M64.3,278.5h.01M63.4,278.7h.01M66.9,279.6h.01M68.1,280.6h.01M57.1,280.2h.01M68.2,278.2h.01M68.7,276.6h.01M65.3,281.1h.01M57.4,281.7h.01M69,280.7h.01M58.4,290.4h.01M56.9,288.8h.01M65,284.1h.01M69.2,285.9h.01M66,283.8h.01M66,286.3h.01M62.8,289.4h.01M69.8,290.5h.01M62.6,296.1h.01M71.3,287h.01M69.7,291.8h.01M57.8,301.2h.01M78.6,302h.01M80.9,291.6h.01M76.7,289.5h.01M79.2,288.2h.01M78.9,300.3h.01M81.2,291.1h.01M82.1,293.1h.01M74.2,290.9h.01M77.3,295.8h.01M75.3,288.4h.01M87,291.8h.01M84.1,290.5h.01M87.9,287.6h.01M81.4,294.6h.01M84.2,293h.01M89.5,287.3h.01M82.3,288h.01M85.3,286h.01M84.2,303.9h.01M82.8,302.9h.01M89.5,287.5h.01M83.8,286.7h.01M92.4,290.2h.01M92.1,287.7h.01M87.1,293.3h.01M77.3,280.1h.01M88.4,290.5h.01M78.6,281h.01M88.4,292.5h.01M91,290.4h.01M88.7,291.3h.01M90.9,288.3h.01M85.1,290h.01M88.8,285.1h.01M84.8,285.7h.01M87.5,284.9h.01M84,298.1h.01M80.7,297.8h.01M79.6,302.8h.01M85.7,296.8h.01M81.3,294.4h.01M84.2,298h.01M69.8,292h.01M79,296.2h.01M84.1,298.2h.01M83.9,299.3h.01M80.7,299.7h.01M76.7,293.8h.01M84.4,296.3h.01M70.2,305.4h.01M69.6,303.5h.01M74,310h.01M67.6,292.8h.01M75.3,306.6h.01M62.2,294.1h.01M72.9,303.8h.01M70.8,310.4h.01M69.2,302.5h.01M63,300.4h.01M69.8,299.5h.01M65.9,303.2h.01M73.6,302.8h.01M60.9,308.3h.01M63,313.5h.01M72.5,310.6h.01M57.2,308.4h.01M72,313h.01M66.6,308.2h.01M60.1,309.9h.01M67,317.1h.01M67.8,317.3h.01M65.2,315.6h.01M69.4,314h.01M61.1,320.9h.01M49.7,313.5h.01M56.4,320.6h.01M57.2,321h.01M58.2,319.8h.01M60,313.4h.01M58.4,315.7h.01M65.1,322.2h.01M61.4,324.4h.01M63.2,325.2h.01M64.5,320.8h.01M63.9,325.1h.01M55.6,322.2h.01M57.6,328.2h.01M61.1,326.8h.01M58.9,325.8h.01M55.2,325.3h.01M60.6,326.8h.01M53.3,327.6h.01M53.5,325.7h.01M52.4,325.3h.01M59.8,316.4h.01M57.9,314.8h.01M56.6,318.1h.01M59.2,315.5h.01M51.4,325.7h.01M54.1,320.7h.01M46.8,322.9h.01M49.2,324h.01M49.4,321.6h.01M50.6,317.6h.01M50.5,326.7h.01M51.8,323.4h.01M42.6,319.7h.01M43.7,306.6h.01M45.2,304.9h.01M43,321.7h.01M41,313.6h.01M40.2,324.7h.01M45.4,318.9h.01M29.4,322.3h.01M31.8,325.1h.01M32.4,322.3h.01M34.5,324h.01M33.3,320.6h.01M38.1,318.1h.01M40.4,323.6h.01M33.2,321.6h.01M32.4,303.5h.01M36.6,313.6h.01M34.1,322.4h.01M32.3,307.2h.01M38.5,325.7h.01M31.3,324h.01M21.3,317.9h.01M16.9,315.3h.01M17.2,316.7h.01M27.4,328.4h.01M23.1,327.3h.01M27.1,327.5h.01M24.7,327.1h.01M20.9,322.1h.01M25.6,326.5h.01M27.2,317.8h.01M22.4,328.1h.01M27.1,328.2h.01M27,327h.01M20.8,310.7h.01M24.6,327.8h.01M19.8,321.2h.01M24.5,324.9h.01M16.8,320.7h.01M18,323.8h.01M17.1,326.3h.01M10.9,320.3h.01M17.4,326.5h.01M9.8,317h.01M11.7,315.2h.01M12,318.2h.01M18.1,322.7h.01M18.2,318.1h.01M16.8,327.4h.01M18.1,327.7h.01M3.7,328.9h.01M7.1,315.5h.01M1.1,324h.01M2.3,319.8h.01M6.4,317.9h.01M2.3,330.8h.01M7.9,324.1h.01M6.4,323h.01M1.7,321.7h.01M10.9,330.1h.01M6,323.7h.01M4.2,317.7h.01M146.3,157.3h.01M147.8,155.6h.01M150.6,153.4h.01M146.6,153.1h.01M150.3,158.1h.01M149.5,159.4h.01M156.5,158.7h.01M148.9,165h.01M154,159.5h.01M150.4,157.2h.01M150.3,160.9h.01M150.3,156.1h.01M153.9,157.7h.01M161.6,167.2h.01M156.3,164.6h.01M146.1,171.3h.01M154.1,173h.01M157.8,168.3h.01M155.3,168.5h.01M152.6,167.4h.01M148.7,167.6h.01M152.1,164.1h.01M157.7,161.6h.01M153.3,162.7h.01M158.3,167.7h.01M149.7,168.9h.01M159.8,172.6h.01M157,171.6h.01M151.2,178.2h.01M156.1,175h.01M164,172.8h.01M153.4,160h.01M163.2,176.8h.01M159.3,171.2h.01M156.2,171.5h.01M159.5,174.5h.01M162.5,173.9h.01M156.4,172.3h.01M161.1,174.4h.01M160.3,176.6h.01M162.5,172.7h.01M165.8,169.7h.01M167.2,168.5h.01M164,171.5h.01M172.9,167.6h.01M160.7,162.1h.01M153.3,163.8h.01M162,160h.01M170,160.9h.01M168,158.3h.01M154.5,163.3h.01M155.2,166.6h.01M153,165h.01M155.3,168.8h.01M155.9,162.2h.01M150.8,156.8h.01M148,157.4h.01M148.7,160h.01M150.5,160.8h.01M153.7,159.5h.01M156.3,155.8h.01M156.3,160.2h.01M157.2,159.7h.01M166.6,146.6h.01M152.3,154.6h.01M152.9,149.6h.01M148.3,156.7h.01M150.3,153.7h.01M147.6,153.2h.01M125.2,47.5h.01M130.1,58.7h.01M125.6,52.1h.01M123.4,57.4h.01M126.7,50.5h.01M111.9,53.5h.01M124.2,53.1h.01M129.4,54.6h.01M130.7,60.4h.01M119.1,48.6h.01M128.2,50.1h.01M124.4,48.8h.01M128.7,57.6h.01M128.4,53.4h.01M131.2,60.3h.01M129.3,78.3h.01M119,78.6h.01M134.4,78.4h.01M129.8,64.8h.01M130.4,63.2h.01M127.5,64.1h.01M127.2,63.5h.01M135.3,78.5h.01M133.7,70.5h.01M132.7,66.3h.01M133.2,69.6h.01M129.4,71.7h.01M122.3,74.4h.01M128.1,78h.01M129.3,68.2h.01M116.1,81.2h.01M127.7,91.8h.01M133.5,93.9h.01M133.7,81.9h.01M132.1,99.3h.01M139.1,98.1h.01M135.9,92h.01M135.6,83.3h.01M141.2,104.9h.01M140.2,98h.01M137.1,85.7h.01M137.8,90.2h.01M127.7,81.9h.01M137.5,89h.01M136.4,83.4h.01M136.1,88.4h.01M133.7,82.7h.01M133.3,83.9h.01M134.7,86.1h.01M139.5,97.3h.01M138.2,102.4h.01M136.4,88.1h.01M124.5,94h.01M140.5,99.4h.01M138.8,101.3h.01M141.6,107.3h.01M141,121h.01M143,114.5h.01M141.9,108.8h.01M142.8,112.8h.01M141.2,113.1h.01M143.2,119.6h.01M145.6,116.9h.01M143.4,113.2h.01M141.6,106.9h.01M125.4,124.7h.01M143.9,111.4h.01M144.2,113h.01M143.8,111.2h.01M144,114h.01M147,122.5h.01M144.4,130.6h.01M147.5,122.4h.01M148.2,126.8h.01M143.5,122.5h.01M148.1,127.6h.01M148.5,131.4h.01M147.2,127.8h.01M141.4,132.1h.01M145.5,122.5h.01M144.6,129.7h.01M150.7,132.2h.01M153.1,139.3h.01M152.5,140.6h.01M151.9,136.9h.01M149.5,132.6h.01M152.9,137.5h.01M149.6,134.9h.01M150.6,138h.01M147.2,134.8h.01M158.4,147.6h.01M150.5,143.5h.01M157.8,147.4h.01M154,145h.01M154.5,146.4h.01M147.1,154.1h.01M154.7,140.7h.01M160.1,151.2h.01M160.4,153.4h.01M152.1,163.2h.01M162.1,157.4h.01M161.3,157h.01M155.7,149.5h.01M162.3,155.7h.01M158.2,156h.01M158.8,150.4h.01M155.7,159.6h.01M164.8,162.1h.01M162.2,166.9h.01M163,160.7h.01M164.3,161.2h.01M166.7,164h.01M161.5,160.9h.01M164.3,162.4h.01M163.7,160h.01M165.8,176.2h.01M168.8,173.3h.01M168.1,172.7h.01M167.4,175.9h.01M167.3,174.9h.01M168.6,171.4h.01M163.1,172.6h.01M170.8,173.5h.01M171.3,174.1h.01M172.1,175.1h.01M168.9,181.1h.01M172.3,176.9h.01M170.8,184.3h.01M170.8,186.1h.01M172.2,177.6h.01M169.3,179.3h.01M174.1,184.1h.01M171.4,186.4h.01M169.4,179.4h.01M175.1,193.6h.01M175.1,191.3h.01M174.1,188.9h.01M177.5,192.9h.01M174.4,192.1h.01M175.9,189.9h.01M175.9,188.5h.01M177.9,193.2h.01M174.1,200h.01M177.5,194.5h.01M170.7,202h.01M177.2,199.5h.01M173.8,198.3h.01M177.2,201.9h.01M174.2,200h.01M179.1,205.6h.01M177.3,209.7h.01M176.2,207.4h.01M179.3,202.9h.01M171.5,205.4h.01M173.9,206.3h.01M176.9,204.6h.01M178.1,208.4h.01M176.8,219.3h.01M177.1,211.4h.01M175,212.8h.01M175.3,213.7h.01M174.5,211.5h.01M176.6,219.1h.01M169.7,213.9h.01M178.5,210.7h.01M176.9,212.9h.01M176.4,220.1h.01M176,220.2h.01M175.4,223.1h.01M176.6,226.1h.01M173.6,227.1h.01M175.4,220.5h.01M167.1,228.3h.01M175.5,229.1h.01M173.9,228h.01M170.2,235.9h.01M174.5,234.7h.01M174.1,238.3h.01M170.1,232.1h.01M173.5,233h.01M168.8,238.6h.01M170.9,235.6h.01M172.4,232.8h.01M173.8,238.6h.01M172.6,245.2h.01M167,248.6h.01M172.2,240.3h.01M173.2,245.2h.01M171.2,248.1h.01M172.6,242.2h.01M171,241.2h.01M170.7,249.7h.01M168.3,239.9h.01M167.2,248.5h.01M168.8,246.6h.01M163.2,252.4h.01M168,250.6h.01M170.6,250.9h.01M168.7,251.7h.01M166.7,251.5h.01M165.5,244.2h.01M161.3,253.6h.01M157,255.7h.01M158.6,254.7h.01M156.7,253.9h.01M156.7,251.7h.01M159.3,253.3h.01M159.9,254.1h.01M161.2,253h.01M159.2,254.7h.01M152.7,252.3h.01M143.1,262.1h.01M142.5,256.1h.01M140.8,258.2h.01M141.3,259.9h.01M148.6,257.8h.01M144.3,258.5h.01M144.8,261.1h.01M147.3,255.1h.01M144.8,259.6h.01M147.1,259.6h.01M143.2,257.2h.01M149.9,257.8h.01M133.7,265.9h.01M127.5,255.4h.01M132.2,263.4h.01M135.3,259.3h.01M141.1,262.7h.01M134.7,264.7h.01M138.9,263.6h.01M131.5,260.7h.01M135.8,265h.01M132.6,262.2h.01M129.2,266.7h.01M128.5,267.8h.01M120,267.8h.01M126,268.3h.01M129.2,265.2h.01M126.1,265h.01M129.2,266.1h.01M124.9,267.1h.01M127.8,267.5h.01M121.9,267.8h.01M117.3,273.8h.01M114.6,276.5h.01M118,274.2h.01M118.8,268.4h.01M116.8,273.5h.01M115.8,275.8h.01M113.1,265.1h.01M114.7,274.2h.01M106.2,282.2h.01M110.5,273.4h.01M106.3,275.7h.01M108.8,280.7h.01M112.8,275h.01M110.2,279h.01M108.2,280.5h.01M108,282.3h.01M113.6,275.9h.01M108.7,272.7h.01M96.3,291.6h.01M90.5,282.8h.01M95.1,288.3h.01M100.8,279.8h.01M104.9,283.6h.01M104.6,285.1h.01M95.1,290.3h.01M96.8,290.7h.01M99.3,283.3h.01M94.1,289.2h.01M94.1,287.4h.01M94.2,285.2h.01M96.2,292.3h.01M92.8,295.2h.01M83,296.9h.01M90.7,297h.01M95.5,293.6h.01M94.2,293.8h.01M87.4,299.6h.01M89.9,295.1h.01M84.5,298.8h.01M92.7,293.8h.01M92.8,295.2h.01M87.4,297.7h.01M80,307.8h.01M77.2,304.1h.01M75.8,309.3h.01M81.4,301.2h.01M75.9,310.8h.01M83.1,304.5h.01M80.3,302h.01M80.6,306.9h.01M84.2,303.4h.01M80.1,307.8h.01M83.4,302.9h.01M74.1,304.9h.01M79.1,302.4h.01M74,312.7h.01M69.9,314.2h.01M71,317h.01M75.5,312.1h.01M73.7,311.1h.01M66.1,315.5h.01M69.5,316.2h.01M69.1,308.6h.01M60,306.1h.01M67.9,320.8h.01M62.4,326.8h.01M64.8,322.3h.01M59.5,315.8h.01M62.3,327.1h.01M60.2,326.3h.01M64.3,316.9h.01M65.4,321.6h.01M66.2,320.3h.01M59.6,314.7h.01M67.8,319.7h.01M56.8,331.4h.01M58.4,331.5h.01M56.8,330.8h.01M52.9,329h.01M58.1,328.7h.01M52.8,327.4h.01M51.9,335.5h.01M44.2,330.5h.01M53.7,336.6h.01M56.2,333h.01M56.2,336.6h.01M53.6,339.6h.01M47.7,343.9h.01M55.6,341.8h.01M54.8,341.9h.01M27.5,338h.01M54.4,340.4h.01M57.5,342.5h.01M57.7,341.1h.01M55.5,343.6h.01M54.8,344.9h.01M56.4,344.5h.01M52,336.5h.01M49.9,338.4h.01M55,335.1h.01M51.4,336.4h.01M45.7,333.8h.01M48.1,330.2h.01M47.8,335.4h.01M53,328.1h.01M49.5,332.2h.01M48.2,336.5h.01M42.7,331.2h.01M38.9,331h.01M38.9,331.6h.01M42.9,333h.01M39.5,328.2h.01M40.3,330.9h.01M36.3,330h.01M40.1,321.6h.01M27,328.9h.01M29.9,323.4h.01M34.7,328.5h.01M29.2,326h.01M30.7,320.7h.01M28.6,314.2h.01M26.9,328.2h.01M26.2,327.7h.01M35,328h.01M23,326.3h.01M18.3,322.8h.01M21.2,328.8h.01M19.7,326.8h.01M18.9,331h.01M18.3,330.8h.01M23.1,330.5h.01M18.6,331.2h.01M16.6,330.3h.01M9.8,322.8h.01M10.2,330.7h.01M12.9,328.7h.01M14,330.8h.01M10.8,331.8h.01M10.6,327.7h.01M8.9,330.9h.01M4.2,330.3h.01M4.8,331.5h.01M1.6,332.7h.01M6.1,331.7h.01M6,328.9h.01M5.3,332.8h.01M24.9,330h.01M0.3,326.6h.01M25.2,325h.01M14,328.3h.01M15.9,325.1h.01M61.4,335.1h.01M31.2,330.9h.01M4,331.2h.01M32.3,328.3h.01M19.9,327.5h.01M37.1,331.1h.01M25.5,330.3h.01M48.7,330.1h.01M25.2,328.7h.01M34.8,326.8h.01M26.7,329.5h.01M60.3,329.1h.01M20.2,328.6h.01M27.7,329h.01M58.4,331h.01M23,331.8h.01M4.8,323.9h.01M19.9,329.4h.01M59.4,337.2h.01M39.1,327h.01M21.2,328.7h.01M0.4,329.4h.01M43.1,328.5h.01M5.9,324.3h.01M34.7,327.9h.01M56.7,336h.01M61.2,340.3h.01M60.8,333.1h.01M60.6,337.2h.01M40,328.7h.01M15.8,328.3h.01M13,329.1h.01M13.4,332.7h.01M43.8,332h.01M5,329h.01M43.1,331.1h.01M59.7,333.7h.01M57.3,331h.01M33.4,329h.01M39.7,329.2h.01M40.5,335.1h.01M39.4,330.9h.01M27.9,329h.01M24.1,328.5h.01M4.2,319.7h.01M6.1,329.5h.01M49.8,334.1h.01M59.1,332.1h.01M39.3,327.2h.01M24.4,330.6h.01M28,329.3h.01M38.3,327.8h.01M3.3,324.9h.01M14,330.6h.01M49.5,332.9h.01M43.2,328h.01M25.1,328.8h.01M41.3,330.4h.01M25.9,331.4h.01M17.4,326.2h.01M56.2,334.4h.01M51.9,325.6h.01M38.1,329h.01M42.4,324.4h.01M32.7,325.1h.01M23.7,329.5h.01M21.6,326h.01M52.4,331.2h.01M32.9,328.2h.01M36.2,323.2h.01M3.5,334.4h.01M27.8,330.4h.01M27.4,326.5h.01M54.7,330.6h.01M48.2,326.6h.01M11.5,328.7h.01M10.8,328.4h.01M46.7,332.3h.01M11.9,323.7h.01M31.2,329.8h.01M39.8,329.7h.01M0.9,333.2h.01M19.4,329.6h.01M27.8,327.8h.01M31.5,330.7h.01M57.4,333.6h.01M21.4,328h.01M21.3,326.9h.01M61.5,329.2h.01M3,329.8h.01M48.7,336.4h.01M52.5,331.4h.01M40.9,329.6h.01M0.4,329.4h.01M11.4,330.9h.01M19.8,328.6h.01M49.6,328.2h.01M27,327.1h.01M36.3,331h.01M56.6,333.4h.01M46.7,331.5h.01M61.8,336.1h.01M30.8,328.5h.01M2.8,328.2h.01M15.6,330.6h.01M5.6,330.3h.01M42,336.8h.01M42.9,329h.01M52.7,334h.01M57.1,332.1h.01M30.9,329.1h.01M41.7,329.1h.01M60.6,329.7h.01M7.3,331.6h.01M35.7,327.7h.01M34.4,326.7h.01M51.1,329.5h.01M22.1,329.1h.01M19.1,331h.01M21.1,331.9h.01M19.8,328.7h.01M26.6,327h.01M21.8,327.6h.01M41.8,327.4h.01M46.4,325.8h.01M24.4,329.3h.01M6.8,332.4h.01M43.5,331.9h.01M6.5,326h.01M44.1,328.3h.01M59,334.8h.01M25.3,331.4h.01M39.2,330.3h.01M59,338h.01M8.5,331.6h.01M8,332.1h.01M47,332.2h.01M47.4,330.9h.01M30.2,332.6h.01M23.6,323.4h.01M12.9,330.2h.01M14.9,331.4h.01M1.9,331.6h.01M33.5,327.9h.01M3.3,326.4h.01M22.9,328.1h.01M46.2,325.7h.01M23.9,329.1h.01M36.1,329h.01M19.5,331.5h.01M39.5,330.9h.01M12,331.3h.01M16.3,326.4h.01M20.9,325.8h.01M2,325.8h.01M16.1,324h.01M34.1,331.2h.01M26.2,326.5h.01M14.9,328.3h.01M12.3,334.1h.01M13.9,334.1h.01M34.1,327.8h.01M12,328.1h.01M5.4,327.5h.01M43.9,328.7h.01M52.9,336.6h.01M58.1,331.6h.01M55.7,342.6h.01M49.3,340.1h.01M45,347.3h.01M47.7,340.3h.01M58.7,344.8h.01M50.4,340.6h.01M51.3,346.7h.01M55.1,340.8h.01M49,334.2h.01M45.2,326.8h.01M58,345.2h.01M41.7,335.3h.01M53,338.9h.01M54.9,335.1h.01M54.5,334.8h.01M58.5,329.8h.01M56.7,346.6h.01M43.4,334.4h.01M53.2,343.5h.01M48.8,337.4h.01M44.2,351.1h.01M51,349.3h.01M48.2,339.3h.01M48.1,330.8h.01M48.3,339.2h.01M50.7,334.6h.01M50.4,348.5h.01M49.5,342.6h.01M55.5,336h.01M58.6,339.5h.01M47.2,329.9h.01M58.5,336.3h.01M49,329.5h.01M64,339.6h.01M54.4,339.7h.01M57.7,344.4h.01M58,334.8h.01M53.9,337.9h.01M54.3,339.9h.01M56,348.4h.01M49.3,337h.01M56.6,336.8h.01M53.4,337.8h.01M47.6,342.5h.01M53,330.7h.01M59.5,335h.01M56.7,333.9h.01M50.1,339.6h.01M52,334.6h.01M48.2,340.3h.01M48.9,343.1h.01M50.2,338.5h.01M50.7,338.6h.01M49.8,336.3h.01M51.6,342.5h.01M54.9,338.2h.01M48.4,339.7h.01M46.7,335.1h.01M163.4,167.1h.01M153.5,142.1h.01M156.4,144h.01M152.4,144.5h.01M160.2,164.7h.01M168,170.4h.01M158.1,154.5h.01M171.1,166.4h.01M155.9,166.6h.01M160.8,173.9h.01M163.2,170.6h.01M151.2,141.8h.01M159.4,151.5h.01M165.4,171.9h.01M155.1,152.1h.01M151.5,137.4h.01M145.6,141.6h.01M156.8,151.7h.01M161.3,169.5h.01M167.4,163.5h.01M160.1,155.8h.01M162.1,170h.01M157.7,167.6h.01M163.7,168.1h.01M148.5,146.8h.01M161,164.8h.01M156.6,145.5h.01M154.7,141.5h.01M155.8,154.3h.01M163,161.1h.01M158.8,153.8h.01M163.8,163.1h.01M166.9,163.8h.01M162.3,172.3h.01M163.6,151.5h.01M165.2,166.2h.01M162.9,157.7h.01M160.8,156h.01M169.9,176.8h.01M160.6,158.3h.01M165.5,166.6h.01M153.5,156.9h.01M156.5,152.9h.01M157.7,163.6h.01M168.3,167.2h.01M168.2,168.6h.01M162.4,167h.01M159.4,144.8h.01M151.1,148.2h.01M150.5,144h.01M166.2,171.3h.01M158.7,159.4h.01M169.9,159.7h.01M152.5,142.9h.01M145.1,143.6h.01M168.2,173.5h.01M144.4,141.6h.01M169.7,167.2h.01M163.5,156.2h.01M158,159.6h.01M156.6,142.5h.01M153.4,149.4h.01M159.4,154.6h.01M159.4,160.2h.01M146.5,142.2h.01M155.1,144.3h.01M148.8,138.9h.01M168,163.3h.01M155,144.4h.01M154.4,149.3h.01M128.4,93.5h.01M120.2,47.8h.01M113,50.8h.01M124.5,67.7h.01M127.7,83h.01M132.9,91.1h.01M131.5,96.4h.01M132.3,114.3h.01M134.8,93.8h.01M126.5,74.7h.01M129,97.7h.01M121,80.8h.01M143.4,109.3h.01M126.1,85.7h.01M120.9,74.5h.01M123.8,69.9h.01M134.7,106.5h.01M129.4,89.7h.01M127.9,79h.01M114.9,44.9h.01M134.4,107.1h.01M144.3,105.4h.01M128.5,82.4h.01M117.9,61.3h.01M129.3,98.4h.01M132.6,106.6h.01M125,91.6h.01M115.9,54.3h.01M133.6,92.6h.01M126.6,85.8h.01M135.4,103.3h.01M123.1,88.1h.01M127.3,68.8h.01M120.1,57.1h.01M136.1,81.2h.01M114.1,55.5h.01M127.8,59.9h.01M112.3,50.6h.01M134.4,98.1h.01M120.6,79.7h.01M118.5,62.3h.01M135.4,104.6h.01M124.9,99.7h.01M117.3,56.1h.01M117.1,56.7h.01M135,108.1h.01M122.6,71.4h.01M110.8,58h.01M132.1,100.1h.01M120.5,62.1h.01M122.5,61h.01M133.7,105.3h.01M118.6,49h.01M126.7,84.9h.01M132.7,105.2h.01M138.5,106.7h.01M132.4,105.1h.01M131.2,97.8h.01M124.5,79.3h.01M132.7,106.2h.01M134.6,104.9h.01M127.6,73h.01M120.5,69.5h.01M137.4,108.9h.01M139.1,106h.01M136.3,110.6h.01M118.5,74.3h.01M121.9,63.5h.01M127.2,75.1h.01M122.2,70.2h.01M114,47.2h.01M121.9,67.8h.01M124,60.4h.01M128.3,87.3h.01M132,85.9h.01M134.5,110.5h.01M120.1,57.3h.01M126.5,77h.01M134.2,106.3h.01M122.2,60.5h.01M130.6,92.7h.01M125.3,61.4h.01M128,81h.01M114.5,49h.01M128.1,83.9h.01M123.4,72.4h.01M136.9,107.4h.01M137.4,100.4h.01M114.7,51.7h.01M130.9,82.3h.01M132.8,109.8h.01M120.1,62.3h.01M114,56.7h.01M127.9,86.8h.01M118.8,53.9h.01M119.6,48.7h.01M125.2,64.6h.01M128.6,90h.01M134.3,100.4h.01M120.6,71.9h.01M136.7,101.5h.01M116.1,55.1h.01M135.1,108.1h.01M122.8,73.7h.01M125.2,57.3h.01M136.3,109.8h.01M126.3,85.6h.01M122.3,50.8h.01M122.4,74.9h.01M137.2,108.9h.01M138.2,115.5h.01M140.8,101.6h.01M138.4,100.5h.01M141.6,108.4h.01M140.4,110.1h.01M136.1,113.9h.01M142.4,110.2h.01M140.7,111.7h.01M139.2,113.2h.01M141.2,111.1h.01M140.1,114.1h.01M139.4,110.6h.01M146.2,108.1h.01M138.6,116.4h.01M144.7,119.9h.01M144.3,100.2h.01M142.7,114.9h.01M140.7,117h.01M136.1,119.2h.01M136.5,116h.01M142,103.3h.01M144.6,113.1h.01M149.2,112h.01M141.8,110h.01M140.7,118.9h.01M141.1,109.6h.01M137.8,114.8h.01M138.5,126.3h.01M139.3,114.1h.01M145.7,100.3h.01M142.1,106.4h.01M142.9,106h.01M141.5,115.7h.01M142.7,101.5h.01M141.6,103h.01M135.6,112.5h.01M143.1,112.6h.01M140.4,98.1h.01M138.6,103.4h.01M142.8,116.6h.01" stroke="#000" stroke-width="2.2" stroke-linecap="round" fill="none"/></g><clipPath id="cp1"><rect x="75" y="142.5" width="348" height="427.5"/></clipPath><clipPath id="cp2"><rect x="458.5" y="142.5" width="348" height="427.5"/></clipPath><clipPath id="cp3"><rect x="843.5" y="142.5" width="348" height="427.5"/></clipPath><clipPath id="cp4"><rect x="1227" y="142.5" width="348" height="427.5"/></clipPath><clipPath id="cp5"><rect x="75" y="742.5" width="348" height="427.5"/></clipPath><clipPath id="cp6"><rect x="458.5" y="742.5" width="348" height="427.5"/></clipPath><clipPath id="cp7"><rect x="843.5" y="742.5" width="348" height="427.5"/></clipPath></defs><rect width="1650" height="1275" fill="#fff"/><g clip-path="url(#cp1)"><use href="#land" x="75" y="142.5"/><path d="M133.0,142.5V570.0M191.0,142.5V570.0M249.0,142.5V570.0M307.0,142.5V570.0M365.0,142.5V570.0M75.0,214.9H423.0M75.0,286.8H423.0M75.0,358.2H423.0M75.0,429.3H423.0M75.0,499.8H423.0" stroke="#6e6e6e" stroke-width="0.8" stroke-dasharray="2,6.3" fill="none" opacity="0.8"/><path d="M349.2,141.5 346.5,157.5 343.6,178.5 339.0,197.0 334.5,214.5 330.5,229.0 328.5,242.5 326.0,260.5 322.0,287.5 320.0,312.5 323.0,324.5 326.0,336.5 327.0,351.5 322.0,365.5 315.0,373.5 308.0,380.5 296.0,395.5 284.0,411.5 272.0,424.5 258.0,442.5 244.0,459.5 228.0,480.5 212.0,500.5 192.0,524.5 172.0,548.5 153.0,571.5" fill="none" stroke="#000" stroke-width="0.9"/><circle cx="336.3" cy="198.5" r="2.1" fill="#fff" stroke="#000" stroke-width="0.8"/><g transform="translate(329.5,240.5) rotate(-82)"><rect x="-13" y="-7" width="26" height="14" fill="#fff"/><text x="0" y="5.2" text-anchor="middle" font-size="14.5">100</text></g><g transform="translate(75,142.5)"><path fill="#008fff" d="M184.0,112.5L184.3,109.3L187.9,109.5L184.2,97.7L178.7,108.8L182.4,109.1L182.1,112.4ZM191.7,112.6L192.1,109.8L195.7,110.4L192.9,98.3L186.6,109.0L190.2,109.5L189.8,112.3ZM213.7,111.5L212.0,111.6L211.8,108.0L200.5,113.2L212.3,117.2L212.1,113.5L213.8,113.4ZM184.0,120.2L184.0,118.4L187.6,118.3L182.8,106.9L178.4,118.6L182.1,118.5L182.1,120.3Z"/><path fill="#30ffcf" d="M198.5,111.5L186.6,110.4L186.9,106.8L175.1,110.2L186.1,115.9L186.4,112.3L198.3,113.4ZM206.0,111.5L194.9,112.4L194.6,108.7L183.5,114.2L195.3,117.9L195.0,114.3L206.1,113.4ZM198.5,119.3L187.0,118.6L187.3,114.9L175.5,118.8L186.7,124.1L186.9,120.5L198.3,121.2Z"/><path fill="#50ffaf" d="M221.4,111.5L209.2,111.6L209.1,108.0L197.7,112.7L209.2,117.2L209.2,113.5L221.4,113.4ZM252.0,119.3L239.7,119.2L239.7,115.6L228.2,120.1L239.6,124.8L239.6,121.1L252.0,121.2ZM236.6,127.1L224.0,127.8L223.8,124.2L212.6,129.5L224.4,133.4L224.1,129.7L236.7,129.0ZM259.5,127.1L247.5,129.1L246.9,125.6L236.3,132.0L248.4,134.6L247.8,131.0L259.8,129.0Z"/><path fill="#10ffef" d="M229.0,111.5L218.9,112.0L218.7,108.4L207.4,113.6L219.2,117.6L219.0,113.9L229.1,113.4ZM244.3,111.5L235.4,111.9L235.3,108.3L224.0,113.4L235.7,117.5L235.5,113.8L244.4,113.4ZM206.0,119.3L196.8,119.6L196.7,116.0L185.4,121.0L197.1,125.2L196.9,121.5L206.1,121.2ZM244.2,119.3L234.9,121.1L234.2,117.5L223.8,124.2L236.0,126.6L235.3,123.0L244.5,121.2ZM198.3,127.1L188.6,127.8L188.3,124.2L177.2,129.7L189.0,133.4L188.7,129.7L198.5,129.0ZM244.0,127.1L235.6,130.5L234.3,127.1L225.3,135.7L237.7,135.7L236.3,132.3L244.7,128.9ZM267.1,127.1L257.6,129.4L256.7,125.9L246.6,133.1L258.9,134.8L258.0,131.3L267.5,129.0ZM274.8,127.1L265.6,128.3L265.2,124.6L254.3,130.7L266.3,133.8L265.9,130.1L275.1,129.0Z"/><path fill="#00efff" d="M236.4,111.6L229.7,113.5L228.7,110.0L218.9,117.7L231.2,118.8L230.2,115.3L236.9,113.4ZM191.7,120.1L190.5,111.8L194.1,111.3L187.9,100.5L185.0,112.6L188.6,112.1L189.8,120.4ZM213.5,119.3L205.3,121.6L204.3,118.0L194.4,125.5L206.7,126.9L205.8,123.4L214.0,121.2ZM229.0,119.3L221.8,119.6L221.7,116.0L210.4,121.0L222.1,125.1L221.9,121.5L229.1,121.2ZM236.4,119.3L229.4,121.2L228.5,117.7L218.5,125.1L230.8,126.6L229.9,123.0L236.9,121.2ZM259.3,119.4L252.0,121.9L250.8,118.4L241.4,126.5L253.8,127.1L252.6,123.7L260.0,121.1ZM176.4,128.0L176.1,119.9L179.7,119.7L174.6,108.4L170.5,120.1L174.2,120.0L174.5,128.1ZM205.8,127.1L198.1,129.7L196.9,126.2L187.5,134.3L199.9,135.0L198.7,131.5L206.4,128.9ZM213.5,127.1L206.1,129.1L205.2,125.6L195.3,133.1L207.6,134.5L206.6,130.9L214.0,128.9Z"/><path fill="#70ff8f" d="M251.8,111.5L237.5,114.2L236.8,110.7L226.3,117.3L238.5,119.7L237.8,116.1L252.2,113.4ZM221.2,127.1L206.4,129.6L205.8,126.0L195.2,132.5L207.3,135.1L206.7,131.5L221.5,129.0Z"/><path fill="#00afff" d="M259.3,111.6L254.6,113.5L253.2,110.1L244.2,118.7L256.6,118.6L255.3,115.3L260.0,113.3ZM267.4,119.3L262.6,118.9L262.9,115.3L251.0,118.9L262.1,124.4L262.4,120.8L267.2,121.2ZM191.7,127.9L191.1,124.3L194.7,123.7L188.5,113.0L185.7,125.1L189.3,124.5L189.8,128.2ZM184.0,135.8L183.8,131.2L187.4,131.0L182.2,119.8L178.3,131.5L181.9,131.3L182.1,135.9Z"/><path fill="#00cfff" d="M221.3,119.3L215.1,119.9L214.7,116.3L203.7,121.9L215.6,125.4L215.3,121.8L221.5,121.2ZM229.0,127.1L222.5,126.9L222.6,123.3L211.0,127.7L222.4,132.5L222.5,128.8L229.0,129.0ZM252.0,127.1L246.1,126.9L246.2,123.3L234.6,127.6L245.9,132.5L246.0,128.8L252.0,129.0ZM176.4,135.6L175.5,130.5L179.1,129.8L172.6,119.3L170.0,131.4L173.6,130.8L174.5,136.0Z"/><path fill="#0050ff" d="M187.3,127.5L181.8,117.6L178.9,128.6Z"/><path fill="#0070ff" d="M195.3,135.8L190.9,124.3L186.1,135.7Z"/><path fill="#00afff" d="M198.2,134.9L193.9,135.9L193.0,132.4L182.9,139.6L195.2,141.3L194.3,137.8L198.6,136.7ZM175.0,142.7L171.0,144.9L169.3,141.7L161.3,151.1L173.6,149.8L171.9,146.5L175.9,144.4ZM197.8,142.9L195.2,145.2L192.7,142.6L187.4,153.8L199.0,149.3L196.5,146.6L199.0,144.3ZM235.8,143.2L234.3,146.7L230.9,145.2L230.5,157.6L239.3,148.9L236.0,147.4L237.5,144.0ZM258.7,143.7L259.1,147.7L255.5,148.1L261.1,159.1L264.6,147.2L261.0,147.5L260.6,143.5ZM205.4,150.6L202.5,153.2L200.1,150.4L194.3,161.3L206.1,157.4L203.7,154.6L206.7,152.1ZM213.0,150.7L210.1,153.8L207.4,151.3L202.9,162.8L214.2,157.6L211.5,155.1L214.4,152.0ZM235.8,150.9L233.9,154.9L230.6,153.3L229.7,165.7L238.8,157.4L235.6,155.7L237.5,151.7ZM251.1,151.0L249.7,154.3L246.4,152.9L246.1,165.3L254.8,156.4L251.5,155.0L252.9,151.7Z"/><path fill="#10ffef" d="M206.0,134.9L197.1,134.9L197.1,131.3L185.6,136.0L197.2,140.5L197.1,136.8L206.1,136.8ZM221.1,134.9L211.9,137.2L211.0,133.7L201.0,141.0L213.2,142.6L212.3,139.1L221.6,136.7ZM267.1,134.9L258.1,137.2L257.2,133.6L247.2,140.9L259.4,142.5L258.5,139.0L267.5,136.7ZM275.0,134.9L264.8,134.9L264.8,131.2L253.3,135.8L264.8,140.4L264.8,136.8L275.0,136.8ZM282.6,134.9L272.8,135.3L272.7,131.6L261.4,136.7L273.1,140.8L272.9,137.2L282.6,136.8Z"/><path fill="#00cfff" d="M213.7,134.9L207.6,135.2L207.4,131.5L196.1,136.7L207.8,140.7L207.7,137.1L213.8,136.7ZM190.2,142.8L185.1,146.5L183.0,143.5L176.4,154.0L188.4,151.0L186.2,148.0L191.3,144.3ZM243.4,143.2L241.2,149.1L237.8,147.8L238.0,160.2L246.4,151.1L243.0,149.8L245.2,143.9ZM190.2,150.5L185.6,153.7L183.5,150.7L176.7,161.0L188.7,158.3L186.7,155.3L191.3,152.1ZM220.7,150.7L216.2,155.5L213.5,153.1L209.0,164.6L220.2,159.3L217.6,156.8L222.1,152.0Z"/><path fill="#50ffaf" d="M229.0,134.9L216.4,135.6L216.2,132.0L205.0,137.3L216.8,141.2L216.6,137.5L229.1,136.7Z"/><path fill="#30ffcf" d="M236.4,134.9L225.6,138.3L224.5,134.8L214.9,142.6L227.2,143.6L226.1,140.1L237.0,136.7ZM259.6,134.9L248.6,135.9L248.2,132.2L237.2,137.9L249.1,141.4L248.8,137.8L259.7,136.7Z"/><path fill="#00efff" d="M244.1,134.9L236.3,137.1L235.3,133.6L225.5,141.2L237.8,142.4L236.8,138.9L244.6,136.7ZM251.9,134.9L243.7,135.7L243.3,132.1L232.4,137.9L244.3,141.3L243.9,137.6L252.1,136.7ZM274.0,143.4L272.7,150.4L269.1,149.7L271.5,161.9L278.1,151.5L274.5,150.8L275.9,143.7ZM175.2,150.4L167.2,152.1L166.4,148.6L156.1,155.5L168.4,157.6L167.6,154.0L175.6,152.3ZM228.2,150.9L225.0,157.7L221.7,156.1L221.0,168.5L230.1,160.0L226.8,158.5L229.9,151.7ZM243.5,150.9L239.8,158.7L236.5,157.1L235.7,169.5L244.8,161.1L241.5,159.5L245.2,151.7ZM266.4,151.5L267.3,158.6L263.7,159.0L269.7,169.8L272.8,157.8L269.2,158.3L268.2,151.2Z"/><path fill="#0050ff" d="M181.2,139.8L173.6,148.4L185.0,147.4ZM203.6,140.5L198.4,149.8L208.6,146.6ZM195.6,148.7L191.8,158.5L201.3,154.0Z"/><path fill="#0070ff" d="M210.4,140.5L206.0,152.0L217.1,146.6ZM228.4,142.9L228.0,143.2L225.6,140.5L220.1,151.6L231.7,147.3L229.3,144.6L229.7,144.3Z"/><path fill="#008fff" d="M220.7,142.9L219.4,144.4L216.6,141.9L212.4,153.6L223.5,148.1L220.8,145.7L222.1,144.2ZM251.1,143.4L250.7,145.6L247.1,145.0L249.6,157.1L256.1,146.6L252.5,145.9L252.9,143.7ZM266.4,143.3L265.8,145.2L262.3,144.1L263.5,156.4L271.2,146.7L267.7,145.7L268.2,143.8ZM281.7,143.4L281.2,146.2L277.6,145.6L280.5,157.7L286.7,147.0L283.1,146.5L283.5,143.7ZM182.7,150.5L180.4,151.6L178.8,148.3L170.5,157.5L182.9,156.6L181.3,153.3L183.5,152.2ZM258.7,151.4L258.9,153.9L255.2,154.2L260.6,165.3L264.4,153.5L260.8,153.8L260.6,151.3Z"/><path fill="#00cfff" d="M274.1,151.0L271.8,156.3L268.4,154.9L268.1,167.2L276.9,158.5L273.5,157.1L275.8,151.7ZM190.2,158.3L185.3,162.1L183.1,159.2L176.9,169.9L188.8,166.5L186.5,163.6L191.3,159.8ZM266.3,159.1L266.4,164.3L262.8,164.4L267.6,175.8L272.0,164.2L268.3,164.3L268.2,159.1ZM197.8,166.1L193.6,169.2L191.5,166.3L185.0,176.9L197.0,173.7L194.8,170.7L199.0,167.6ZM251.2,166.3L247.8,171.9L244.7,170.0L242.6,182.2L252.5,174.8L249.4,172.9L252.8,167.3ZM258.7,166.7L257.8,172.0L254.2,171.3L256.7,183.5L263.2,172.9L259.6,172.3L260.6,167.0ZM190.1,173.9L186.1,177.7L183.6,175.0L178.4,186.3L189.9,181.7L187.4,179.0L191.4,175.3ZM197.9,173.8L193.4,176.4L191.6,173.3L184.0,183.1L196.2,181.2L194.4,178.1L198.9,175.4ZM258.7,174.5L258.1,180.8L254.5,180.5L258.0,192.4L263.6,181.3L260.0,181.0L260.6,174.7Z"/><path fill="#00afff" d="M281.7,151.2L280.9,155.9L277.3,155.4L280.1,167.4L286.4,156.8L282.8,156.2L283.5,151.5ZM182.6,158.3L178.8,160.9L176.7,157.9L169.9,168.2L181.9,165.5L179.9,162.5L183.6,159.9ZM198.0,158.2L194.1,160.1L192.6,156.8L184.2,165.9L196.5,165.1L195.0,161.8L198.8,159.9ZM228.4,158.4L225.9,160.7L223.4,158.0L218.0,169.1L229.6,164.8L227.1,162.1L229.7,159.8ZM235.9,158.5L233.4,161.9L230.5,159.7L227.2,171.6L237.8,165.2L234.9,163.0L237.4,159.7ZM212.9,166.3L210.2,170.3L207.2,168.3L204.6,180.4L214.8,173.4L211.8,171.4L214.5,167.4ZM228.5,166.1L225.6,168.1L223.5,165.2L216.8,175.6L228.8,172.6L226.7,169.7L229.6,167.6Z"/><path fill="#00efff" d="M205.2,158.6L201.2,165.4L198.1,163.6L196.2,175.8L206.0,168.2L202.9,166.4L206.9,159.6ZM235.9,166.3L232.1,172.5L229.0,170.6L227.0,182.9L236.9,175.4L233.8,173.5L237.5,167.3ZM228.3,174.0L223.0,180.3L220.2,177.9L216.3,189.7L227.3,183.8L224.5,181.5L229.7,175.2ZM243.5,174.2L240.2,181.1L236.9,179.6L236.2,192.0L245.3,183.5L241.9,181.9L245.2,175.0Z"/><path fill="#0070ff" d="M210.5,155.8L205.0,166.8L216.7,162.6ZM270.4,158.9L274.1,170.7L279.5,159.6ZM240.0,165.1L238.8,177.4L248.2,169.4ZM262.7,167.0L267.2,178.5L271.9,167.0Z"/><path fill="#008fff" d="M220.6,158.5L219.1,160.6L216.2,158.4L213.0,170.4L223.6,163.8L220.6,161.7L222.1,159.7ZM243.4,158.8L242.9,160.7L239.4,159.6L240.5,172.0L248.2,162.2L244.7,161.2L245.2,159.4ZM251.1,158.8L250.5,161.0L247.0,160.1L248.4,172.4L255.8,162.5L252.3,161.5L252.9,159.3ZM190.4,166.0L187.8,166.9L186.5,163.5L177.4,171.9L189.8,172.1L188.5,168.7L191.1,167.7ZM205.6,166.0L202.8,167.4L201.2,164.2L193.0,173.5L205.3,172.4L203.7,169.1L206.5,167.7ZM220.7,166.2L218.8,168.2L216.1,165.8L211.7,177.4L222.9,172.0L220.2,169.5L222.1,167.5ZM274.0,166.7L273.6,169.8L270.0,169.2L272.9,181.3L279.1,170.6L275.5,170.0L275.9,167.0ZM251.1,174.2L250.1,176.2L246.9,174.5L245.7,186.8L255.1,178.7L251.8,177.0L252.8,175.0Z"/><path fill="#10ffef" d="M258.8,158.7L254.8,167.4L251.5,165.9L250.9,178.3L259.9,169.7L256.5,168.2L260.5,159.5ZM213.0,173.9L206.6,180.8L204.0,178.3L199.4,189.8L210.7,184.6L208.0,182.1L214.4,175.2ZM220.6,174.1L215.2,182.1L212.2,180.0L209.6,192.1L219.8,185.1L216.8,183.1L222.2,175.1ZM235.9,174.1L231.1,181.4L228.1,179.4L225.7,191.6L235.8,184.4L232.7,182.4L237.5,175.1Z"/><path fill="#0010ff" d="M279.7,158.6L281.3,166.5L285.6,159.6ZM283.7,169.6L289.6,164.2L281.5,164.0Z"/><path fill="#50ffaf" d="M291.0,167.4L298.6,156.3L301.6,158.4L304.2,146.3L294.0,153.2L297.0,155.3L289.5,166.3Z"/><path fill="#0050ff" d="M203.4,171.1L197.3,181.1L208.7,178.1Z"/><path fill="#008fff" d="M266.4,174.5L266.1,177.1L262.5,176.7L265.9,188.6L271.6,177.6L268.0,177.2L268.2,174.7ZM182.7,181.5L180.1,182.7L178.6,179.4L170.2,188.6L182.6,187.7L181.0,184.4L183.5,183.2ZM190.3,181.5L188.1,182.7L186.3,179.5L178.5,189.1L190.8,187.6L189.0,184.4L191.2,183.2ZM243.5,181.9L242.2,184.5L238.9,182.8L237.7,195.1L247.1,187.0L243.8,185.3L245.2,182.8ZM258.7,190.0L258.5,193.0L254.8,192.7L258.5,204.6L264.0,193.4L260.4,193.2L260.6,190.1Z"/><path fill="#0030ff" d="M272.8,177.4L282.1,180.1L277.2,171.7ZM263.6,183.1L269.2,191.6L271.0,181.6ZM276.0,185.5L282.9,179.8L273.9,179.2ZM255.8,197.6L259.2,207.3L263.4,198.0Z"/><path fill="#0010ff" d="M284.9,176.5L287.5,168.9L280.3,172.6ZM267.3,193.1L274.8,190.2L267.3,187.1Z"/><path fill="#00afff" d="M197.8,181.6L194.5,184.3L192.2,181.5L186.3,192.4L198.1,188.6L195.7,185.8L199.0,183.1ZM213.1,181.6L209.4,184.9L207.0,182.1L201.4,193.2L213.1,189.0L210.7,186.3L214.3,183.0ZM182.9,189.1L177.9,190.2L177.1,186.7L166.9,193.7L179.1,195.7L178.3,192.1L183.3,191.0ZM213.0,189.4L210.2,192.5L207.5,190.0L203.2,201.6L214.3,196.2L211.6,193.8L214.4,190.7ZM212.9,197.4L211.2,201.0L207.9,199.4L207.2,211.8L216.2,203.3L212.9,201.8L214.6,198.2Z"/><path fill="#00efff" d="M205.4,181.7L199.4,187.6L196.9,185.1L192.0,196.5L203.4,191.6L200.8,189.0L206.7,183.0ZM228.2,181.9L224.4,188.9L221.2,187.2L219.8,199.5L229.3,191.5L226.1,189.8L229.9,182.8ZM235.8,182.0L233.0,188.4L229.7,187.0L229.4,199.4L238.1,190.6L234.8,189.2L237.6,182.7ZM258.7,182.3L258.4,189.6L254.8,189.5L259.0,201.2L264.0,189.8L260.3,189.7L260.6,182.4ZM205.5,189.3L198.6,194.3L196.5,191.3L189.8,201.8L201.9,198.8L199.7,195.8L206.6,190.8ZM235.9,189.6L231.9,196.2L228.8,194.4L226.9,206.6L236.7,199.0L233.6,197.2L237.5,190.5ZM220.7,197.1L215.4,202.7L212.7,200.2L208.2,211.7L219.4,206.5L216.8,204.0L222.1,198.4ZM228.4,197.1L222.9,202.5L220.3,199.9L215.4,211.2L226.8,206.4L224.2,203.8L229.7,198.5Z"/><path fill="#00cfff" d="M220.7,181.7L216.3,186.5L213.6,184.0L209.3,195.7L220.4,190.2L217.7,187.8L222.1,183.0ZM251.1,182.0L249.4,187.4L245.9,186.3L246.8,198.6L254.7,189.1L251.2,188.0L252.9,182.6ZM228.3,189.5L224.5,194.5L221.6,192.3L218.3,204.3L228.9,197.9L226.0,195.7L229.8,190.6ZM251.1,189.6L248.6,194.6L245.3,193.0L244.2,205.3L253.5,197.2L250.3,195.5L252.8,190.5ZM182.8,196.9L176.4,198.9L175.3,195.4L165.8,203.3L178.1,204.2L177.0,200.7L183.4,198.7ZM197.9,197.0L193.2,199.9L191.3,196.7L183.8,206.6L196.0,204.6L194.1,201.5L198.9,198.6Z"/><path fill="#30ffcf" d="M190.1,189.4L182.3,196.9L179.7,194.3L174.6,205.6L186.1,200.9L183.6,198.3L191.4,190.7Z"/><path fill="#0070ff" d="M197.8,189.4L197.3,189.8L194.9,187.0L189.3,198.1L201.0,193.9L198.6,191.2L199.0,190.8ZM243.5,189.6L242.9,190.6L239.8,188.6L237.6,200.8L247.6,193.5L244.5,191.6L245.1,190.6ZM235.8,197.3L235.2,198.6L232.0,196.9L230.6,209.2L240.1,201.2L236.9,199.5L237.5,198.2ZM239.8,197.2L241.6,209.4L248.7,199.3ZM251.2,197.2L250.6,198.2L247.6,196.1L244.7,208.1L255.1,201.4L252.1,199.3L252.8,198.3Z"/><path fill="#10ffef" d="M220.7,189.4L213.8,195.9L211.3,193.2L206.1,204.5L217.7,199.9L215.1,197.3L222.0,190.8ZM190.2,197.0L182.7,201.9L180.7,198.9L173.6,209.0L185.7,206.6L183.7,203.5L191.3,198.6ZM205.3,197.2L199.9,203.9L197.1,201.7L193.5,213.5L204.2,207.4L201.4,205.1L206.8,198.4Z"/><path fill="#50ffaf" d="M275.7,190.6L283.0,179.9L286.0,181.9L288.7,169.8L278.4,176.8L281.5,178.8L274.2,189.5Z"/><path fill="#0070ff" d="M270.4,201.2L276.8,190.5L264.9,193.9ZM261.9,209.5L269.7,199.9L257.4,201.5ZM187.7,209.8L181.8,220.7L193.6,216.9ZM234.2,217.1L227.2,227.2L239.2,224.8Z"/><path fill="#efff10" d="M275.7,198.3L287.5,180.9L290.5,183.0L293.1,170.9L282.9,177.8L285.9,179.9L274.2,197.3Z"/><path fill="#00afff" d="M182.6,204.7L178.8,206.8L177.0,203.6L169.1,213.2L181.4,211.7L179.7,208.5L183.5,206.4ZM197.8,204.8L194.7,207.3L192.4,204.4L186.3,215.2L198.1,211.6L195.8,208.8L199.0,206.3ZM243.4,205.4L242.7,210.0L239.1,209.4L241.8,221.5L248.1,210.8L244.5,210.3L245.3,205.7ZM212.9,212.7L210.6,216.1L207.6,214.0L204.9,226.1L215.2,219.2L212.2,217.1L214.5,213.8ZM228.2,212.7L225.7,216.8L222.6,214.9L220.4,227.1L230.4,219.8L227.3,217.8L229.8,213.7ZM235.8,212.8L234.2,216.1L230.9,214.5L230.1,226.9L239.2,218.5L235.9,217.0L237.5,213.7ZM190.2,220.2L186.0,222.8L184.1,219.7L176.8,229.7L189.0,227.5L187.0,224.4L191.3,221.8ZM221.2,227.7L217.2,228.4L216.6,224.8L206.0,231.2L218.1,233.9L217.5,230.3L221.5,229.6Z"/><path fill="#00efff" d="M190.4,204.6L183.9,207.2L182.6,203.9L173.6,212.4L186.0,212.4L184.6,209.0L191.1,206.4ZM197.8,212.5L191.4,217.7L189.1,214.9L183.2,225.8L195.0,222.0L192.6,219.2L199.0,214.0ZM197.9,220.2L191.0,224.5L189.1,221.5L181.8,231.5L194.0,229.2L192.0,226.1L198.9,221.8ZM205.7,220.1L198.0,223.7L196.5,220.4L188.1,229.5L200.4,228.7L198.9,225.4L206.5,221.8ZM220.8,220.2L214.5,225.0L212.3,222.1L205.9,232.7L217.8,229.4L215.6,226.5L221.9,221.7Z"/><path fill="#0050ff" d="M202.7,203.3L200.4,213.8L209.4,207.8ZM202.4,211.4L201.6,222.5L209.8,215.0Z"/><path fill="#10ffef" d="M213.1,204.8L205.9,211.2L203.5,208.4L197.9,219.5L209.6,215.3L207.2,212.6L214.3,206.2ZM220.6,212.7L215.3,220.4L212.3,218.4L209.5,230.5L219.8,223.6L216.8,221.5L222.2,213.8ZM260.4,213.8L266.2,206.2L269.1,208.4L272.5,196.5L261.8,202.8L264.7,205.1L258.9,212.7ZM197.9,227.9L189.9,232.9L188.0,229.8L180.7,239.8L192.9,237.6L190.9,234.5L198.9,229.5Z"/><path fill="#30ffcf" d="M220.8,204.8L212.2,211.7L209.9,208.9L203.8,219.7L215.6,216.0L213.4,213.2L222.0,206.3ZM260.4,221.5L267.0,211.3L270.1,213.3L272.4,201.1L262.3,208.3L265.4,210.3L258.8,220.4ZM213.2,227.9L204.4,234.1L202.3,231.1L195.6,241.5L207.6,238.6L205.5,235.6L214.3,229.4Z"/><path fill="#008fff" d="M228.2,205.0L226.4,207.8L223.4,205.8L221.1,218.0L231.1,210.8L228.1,208.8L229.8,206.0ZM252.8,221.4L254.5,218.6L257.6,220.4L259.5,208.2L249.7,215.8L252.8,217.6L251.2,220.5Z"/><path fill="#00cfff" d="M235.9,205.0L232.2,210.4L229.2,208.4L226.5,220.5L236.8,213.5L233.8,211.5L237.5,206.1ZM213.3,220.1L207.4,223.2L205.7,220.0L197.7,229.4L210.0,228.1L208.3,224.9L214.2,221.8ZM205.6,227.8L200.5,230.7L198.7,227.5L190.9,237.1L203.2,235.5L201.4,232.3L206.5,229.5Z"/><path fill="#0010ff" d="M249.5,203.8L247.7,211.7L254.4,207.2Z"/><path fill="#ffaf00" d="M268.1,206.1L283.1,183.8L286.1,185.8L288.7,173.7L278.5,180.7L281.5,182.7L266.5,205.0Z"/><path fill="#0030ff" d="M241.0,212.4L242.2,221.6L247.7,214.1Z"/><path fill="#0000ef" d="M251.6,216.2L259.4,214.1L252.3,210.3ZM243.8,218.0L237.0,222.4L244.9,223.9Z"/><path fill="#8fff70" d="M268.1,213.8L276.9,200.7L279.9,202.8L282.5,190.7L272.3,197.6L275.3,199.7L266.5,212.7Z"/><path fill="#50ffaf" d="M228.6,220.1L217.7,225.8L216.0,222.6L208.0,232.0L220.3,230.7L218.6,227.5L229.5,221.8Z"/><path fill="#d40000" d="M268.1,221.5L289.6,189.7L292.6,191.7L295.2,179.6L284.9,186.6L288.0,188.6L266.5,220.4Z"/><path fill="#00efff" d="M228.6,227.8L222.0,230.6L220.6,227.3L211.8,236.0L224.2,235.7L222.8,232.4L229.4,229.5ZM205.7,235.5L199.0,237.9L197.7,234.5L188.5,242.8L200.9,243.2L199.6,239.7L206.4,237.3ZM220.7,235.7L214.8,241.6L212.2,239.0L207.3,250.4L218.7,245.5L216.1,242.9L222.0,237.0ZM182.9,250.8L174.9,252.3L174.3,248.7L163.7,255.2L175.9,257.7L175.2,254.1L183.3,252.7ZM167.5,258.6L160.9,260.8L159.8,257.3L150.4,265.4L162.7,266.0L161.6,262.6L168.1,260.4Z"/><path fill="#00cfff" d="M236.2,227.8L231.0,230.8L229.2,227.6L221.4,237.2L233.7,235.6L231.9,232.4L237.1,229.5ZM197.6,235.8L193.6,241.1L190.7,238.9L187.4,250.8L198.1,244.4L195.2,242.2L199.2,236.9ZM213.2,243.2L208.3,246.1L206.4,243.0L198.8,252.8L211.1,250.9L209.2,247.8L214.2,244.9ZM221.1,243.1L214.8,244.7L213.9,241.2L203.8,248.3L216.1,250.1L215.2,246.5L221.6,245.0ZM205.6,250.9L200.5,253.4L198.9,250.2L190.6,259.4L202.9,258.4L201.3,255.1L206.5,252.6ZM175.5,258.5L168.9,258.4L169.0,254.7L157.4,259.1L168.8,263.9L168.9,260.3L175.4,260.4ZM167.6,266.2L161.4,267.4L160.7,263.8L150.3,270.6L162.5,272.9L161.8,269.3L168.0,268.1ZM167.5,273.9L161.7,275.9L160.5,272.4L151.1,280.5L163.5,281.1L162.3,277.7L168.1,275.7Z"/><path fill="#70ff8f" d="M252.8,229.2L261.1,216.9L264.1,218.9L266.7,206.8L256.5,213.8L259.5,215.8L251.2,228.1Z"/><path fill="#10ffef" d="M213.3,235.5L205.0,239.6L203.4,236.4L195.1,245.6L207.5,244.6L205.8,241.3L214.1,237.2ZM197.9,243.3L190.0,248.8L187.9,245.8L181.2,256.2L193.2,253.4L191.1,250.4L199.0,244.8ZM205.8,258.5L197.4,261.2L196.3,257.8L186.7,265.7L199.1,266.5L198.0,263.1L206.3,260.4Z"/><path fill="#00afff" d="M205.5,243.3L201.3,246.0L199.3,242.9L192.1,253.0L204.3,250.7L202.3,247.6L206.6,244.9ZM220.9,251.0L217.3,253.2L215.3,250.2L208.0,260.2L220.2,257.9L218.3,254.9L221.9,252.6ZM182.9,266.2L179.0,267.2L178.1,263.7L168.1,271.0L180.4,272.6L179.5,269.0L183.3,268.1Z"/><path fill="#30ffcf" d="M175.5,250.8L164.6,249.7L165.0,246.1L153.0,249.4L164.0,255.2L164.4,251.6L175.3,252.7Z"/><path fill="#008fff" d="M190.6,250.8L188.2,251.2L187.6,247.6L177.1,254.1L189.2,256.7L188.6,253.1L190.9,252.7ZM198.1,250.9L195.7,251.6L194.6,248.1L184.9,255.9L197.3,256.9L196.2,253.4L198.7,252.7ZM213.2,258.7L211.8,259.6L209.8,256.5L202.8,266.8L214.9,264.2L212.9,261.2L214.2,260.2ZM175.7,273.9L174.1,273.4L175.1,269.9L162.8,271.0L172.5,278.7L173.5,275.2L175.2,275.7Z"/><path fill="#0070ff" d="M213.5,250.8L212.4,251.1L211.5,247.6L201.4,254.7L213.6,256.5L212.8,253.0L213.9,252.7ZM183.6,254.9L171.8,258.2L182.6,264.0ZM175.0,266.3L174.1,266.7L172.5,263.5L164.2,272.7L176.6,271.7L175.0,268.4L175.9,268.0Z"/><path fill="#0010ff" d="M189.6,256.5L183.5,262.3L191.9,262.4ZM232.1,267.3L229.3,259.3L225.9,267.0ZM192.5,277.3L196.9,270.5L189.0,272.3Z"/><path fill="#0000cf" d="M197.4,256.6L191.4,262.1L199.4,262.3Z"/><path fill="#0050ff" d="M218.8,256.2L213.1,266.0L224.0,262.8ZM196.8,263.2L188.6,271.3L200.0,271.0ZM219.4,263.3L211.9,272.0L223.3,270.9ZM183.8,271.0L173.5,272.9L182.3,278.7Z"/><path fill="#0000ef" d="M232.0,259.8L229.8,252.0L226.0,259.1ZM189.9,264.3L183.5,269.2L191.6,270.0ZM206.6,264.2L198.7,265.9L205.6,270.1Z"/><path fill="#50ffaf" d="M214.2,267.9L224.9,260.8L226.9,263.8L233.9,253.6L221.8,256.2L223.9,259.2L213.2,266.3Z"/><path fill="#0000ef" d="M200.5,277.0L203.8,269.7L196.3,272.6ZM168.5,294.9L160.5,296.0L167.0,300.7Z"/><path fill="#0050ff" d="M208.5,278.1L214.2,268.8L203.6,271.6ZM278.2,285.3L282.0,274.5L271.8,279.7ZM168.5,286.3L158.2,288.3L167.0,294.0ZM175.8,285.9L164.9,289.1L175.0,294.4Z"/><path fill="#10ffef" d="M214.3,275.6L221.2,269.9L223.5,272.8L229.6,261.9L217.7,265.6L220.0,268.5L213.1,274.1Z"/><path fill="#70ff8f" d="M222.1,275.5L232.2,264.5L234.9,267.0L239.4,255.5L228.2,260.8L230.8,263.2L220.7,274.2Z"/><path fill="#8fff70" d="M229.8,275.3L238.8,262.0L241.8,264.0L244.5,251.9L234.2,258.9L237.2,260.9L228.2,274.3ZM206.6,283.3L220.4,273.4L222.5,276.3L229.1,265.9L217.1,268.9L219.2,271.8L205.5,281.7ZM268.2,282.9L274.5,267.7L277.8,269.1L278.0,256.7L269.4,265.6L272.7,267.0L266.4,282.1ZM260.5,290.5L267.3,275.0L270.6,276.5L271.0,264.1L262.2,272.8L265.5,274.3L258.8,289.8Z"/><path fill="#f10000" d="M237.5,275.3L258.3,244.5L261.3,246.6L263.9,234.4L253.7,241.4L256.7,243.4L235.9,274.3Z"/><path fill="#008fff" d="M167.7,281.5L164.6,281.8L164.3,278.2L153.3,283.9L165.1,287.4L164.8,283.7L167.9,283.4ZM175.6,281.6L173.7,281.2L174.3,277.6L162.2,280.2L172.7,286.7L173.3,283.1L175.3,283.4ZM183.6,298.6L185.8,297.2L187.8,300.2L194.9,290.1L182.8,292.5L184.8,295.6L182.6,297.0Z"/><path fill="#0010ff" d="M184.3,279.7L176.2,279.5L181.9,285.2ZM192.6,284.9L196.6,277.9L188.9,280.1Z"/><path fill="#00cfff" d="M198.9,283.3L203.9,280.3L205.8,283.4L213.3,273.5L201.1,275.5L202.9,278.6L197.9,281.7Z"/><path fill="#ffcf00" d="M214.4,283.2L232.3,265.8L234.8,268.5L239.9,257.2L228.5,261.8L231.0,264.5L213.1,281.8ZM237.5,290.7L251.8,269.5L254.8,271.5L257.4,259.4L247.2,266.4L250.2,268.4L235.9,289.6Z"/><path fill="#ff7000" d="M222.1,283.1L240.7,259.1L243.6,261.3L247.0,249.4L236.3,255.7L239.2,257.9L220.6,281.9Z"/><path fill="#ff8f00" d="M229.8,283.0L245.7,259.4L248.8,261.4L251.4,249.3L241.1,256.3L244.2,258.3L228.2,282.0Z"/><path fill="#9c0000" d="M237.5,283.0L261.2,247.9L264.2,249.9L266.8,237.8L256.5,244.8L259.6,246.8L235.9,282.0Z"/><path fill="#ff3000" d="M245.1,283.0L263.7,255.5L266.7,257.5L269.3,245.4L259.1,252.4L262.1,254.4L243.5,282.0Z"/><path fill="#50ffaf" d="M252.8,283.0L260.1,271.4L263.2,273.3L265.5,261.1L255.4,268.4L258.5,270.4L251.2,282.0Z"/><path fill="#ffaf00" d="M260.5,282.9L271.6,257.9L274.9,259.4L275.3,247.0L266.5,255.7L269.8,257.1L258.8,282.1Z"/><path fill="#0070ff" d="M183.7,290.9L184.7,290.1L187.0,292.9L193.0,282.1L181.2,285.8L183.5,288.6L182.5,289.4ZM275.8,290.5L276.1,289.9L279.5,291.2L279.2,278.8L270.9,288.0L274.3,289.2L274.1,289.8Z"/><path fill="#30ffcf" d="M191.2,291.0L201.1,286.0L202.8,289.3L211.0,280.0L198.6,281.0L200.3,284.3L190.3,289.3Z"/><path fill="#cfff30" d="M198.9,291.0L215.5,280.1L217.5,283.2L224.6,273.1L212.5,275.5L214.5,278.5L197.9,289.4Z"/><path fill="#ff5000" d="M206.7,290.9L231.3,269.3L233.7,272.0L239.3,260.9L227.6,265.1L230.0,267.8L205.4,289.4ZM222.2,290.7L240.1,264.1L243.1,266.2L245.7,254.0L235.5,261.0L238.5,263.0L220.6,289.6ZM268.2,290.5L280.6,260.1L284.0,261.5L284.1,249.1L275.5,258.0L278.9,259.4L266.4,289.8Z"/><path fill="#00efff" d="M214.5,290.7L219.6,284.2L222.5,286.5L226.0,274.6L215.3,280.8L218.1,283.0L213.0,289.6Z"/><path fill="#ff1000" d="M229.8,290.7L249.5,261.4L252.6,263.5L255.2,251.4L244.9,258.3L248.0,260.4L228.2,289.6Z"/><path fill="#efff10" d="M245.1,290.7L257.1,272.8L260.2,274.9L262.8,262.8L252.5,269.7L255.6,271.8L243.5,289.6Z"/><path fill="#00afff" d="M252.8,290.6L254.8,286.5L258.1,288.2L259.1,275.8L249.9,284.1L253.1,285.7L251.1,289.7ZM160.2,296.9L156.1,296.4L156.5,292.8L144.5,296.0L155.4,301.9L155.8,298.3L160.0,298.8Z"/><path fill="#0000cf" d="M177.7,295.8L170.5,292.2L173.2,299.8Z"/><path fill="#8fff70" d="M191.2,298.6L205.8,290.1L207.6,293.3L215.2,283.5L202.9,285.3L204.8,288.5L190.3,297.0Z"/><path fill="#ff8f00" d="M199.0,298.6L221.9,280.2L224.2,283.1L230.3,272.3L218.5,275.9L220.7,278.7L197.8,297.1ZM191.4,313.8L212.7,294.9L215.1,297.7L220.7,286.6L209.0,290.8L211.4,293.5L190.1,312.4Z"/><path fill="#ffaf00" d="M206.8,298.5L225.8,278.1L228.4,280.6L232.9,269.1L221.7,274.3L224.4,276.8L205.4,297.2ZM237.5,306.0L252.2,284.2L255.2,286.2L257.8,274.1L247.6,281.1L250.6,283.1L235.9,305.0Z"/><path fill="#800000" d="M214.5,298.4L240.2,261.4L243.2,263.5L246.0,251.5L235.6,258.3L238.6,260.4L212.9,297.3ZM229.8,298.4L255.9,259.6L259.0,261.7L261.6,249.6L251.3,256.5L254.4,258.6L228.2,297.3ZM260.5,298.2L280.1,252.0L283.4,253.4L283.7,241.0L274.9,249.8L278.3,251.2L258.8,297.5ZM214.5,306.0L242.4,264.6L245.5,266.6L248.1,254.5L237.8,261.5L240.9,263.5L212.9,305.0ZM222.2,306.0L247.3,268.8L250.3,270.8L252.9,258.7L242.7,265.7L245.7,267.7L220.6,305.0ZM229.8,306.0L264.8,254.1L267.9,256.1L270.5,244.0L260.2,251.0L263.3,253.0L228.2,305.0ZM206.8,313.7L238.9,266.1L242.0,268.1L244.6,256.0L234.3,263.0L237.4,265.0L205.3,312.6ZM222.2,313.7L257.1,261.8L260.2,263.9L262.8,251.7L252.5,258.7L255.6,260.8L220.6,312.6Z"/><path fill="#d40000" d="M222.2,298.4L243.6,266.5L246.7,268.6L249.3,256.5L239.0,263.4L242.1,265.5L220.6,297.3Z"/><path fill="#cfff30" d="M237.5,298.4L249.0,281.3L252.0,283.3L254.6,271.2L244.4,278.2L247.4,280.2L235.9,297.3ZM183.5,306.3L201.9,296.7L203.6,299.9L211.6,290.5L199.3,291.8L201.0,295.0L182.7,304.6ZM268.2,305.8L275.7,287.6L279.1,288.9L279.2,276.6L270.6,285.4L274.0,286.8L266.4,305.1Z"/><path fill="#70ff8f" d="M245.1,298.4L253.5,285.8L256.6,287.9L259.1,275.7L248.9,282.7L251.9,284.8L243.5,297.3ZM245.1,306.0L253.6,293.4L256.6,295.4L259.2,283.3L249.0,290.3L252.0,292.3L243.5,305.0Z"/><path fill="#30ffcf" d="M252.8,298.3L257.8,289.1L261.0,290.8L262.4,278.5L252.9,286.5L256.1,288.2L251.2,297.4ZM175.9,314.0L186.3,308.8L187.9,312.0L196.1,302.7L183.8,303.8L185.4,307.1L175.0,312.3Z"/><path fill="#ff7000" d="M268.2,298.2L279.9,269.2L283.3,270.6L283.4,258.2L274.8,267.1L278.2,268.5L266.4,297.5ZM191.3,306.3L215.3,288.8L217.5,291.7L224.1,281.3L212.1,284.3L214.2,287.3L190.2,304.7Z"/><path fill="#0070ff" d="M275.8,298.2L276.1,297.4L279.5,298.7L279.3,286.3L270.9,295.4L274.3,296.7L274.1,297.5Z"/><path fill="#0010ff" d="M161.2,302.6L152.9,302.9L159.1,308.4ZM169.0,302.7L160.9,302.5L166.6,308.2Z"/><path fill="#008fff" d="M176.0,306.2L177.8,304.8L180.1,307.6L186.2,296.8L174.3,300.5L176.6,303.3L174.8,304.7ZM283.4,305.9L284.8,303.4L288.0,305.1L289.3,292.8L279.8,300.8L283.1,302.5L281.8,305.0ZM168.3,313.9L170.4,312.6L172.4,315.6L179.5,305.5L167.3,307.9L169.3,311.0L167.3,312.3Z"/><path fill="#ff3000" d="M199.1,306.2L223.1,282.8L225.6,285.4L230.7,274.1L219.2,278.8L221.7,281.4L197.7,304.8ZM214.5,313.7L233.2,285.9L236.2,288.0L238.9,275.9L228.6,282.8L231.6,284.9L212.9,312.6Z"/><path fill="#b80000" d="M206.8,306.1L231.4,274.0L234.3,276.2L237.7,264.3L227.0,270.6L229.9,272.8L205.3,304.9ZM183.6,313.9L218.6,290.9L220.6,294.0L227.7,283.8L215.6,286.3L217.6,289.4L182.6,312.3ZM229.8,313.7L252.9,279.5L255.9,281.5L258.5,269.4L248.3,276.4L251.3,278.4L228.2,312.6Z"/><path fill="#00afff" d="M252.9,305.8L254.4,301.5L257.9,302.7L257.5,290.3L249.2,299.6L252.7,300.8L251.1,305.2Z"/><path fill="#9c0000" d="M260.5,305.8L276.7,267.0L280.0,268.4L280.2,256.1L271.5,264.9L274.9,266.3L258.8,305.1Z"/><path fill="#0050ff" d="M278.3,307.7L280.4,297.1L271.6,303.3ZM162.6,309.4L150.7,307.0L157.7,316.9Z"/><path fill="#ffcf00" d="M199.1,313.7L215.0,295.0L217.8,297.3L221.7,285.6L210.7,291.4L213.5,293.8L197.7,312.5Z"/><path fill="#afff50" d="M237.5,313.7L247.4,299.0L250.4,301.0L253.0,288.9L242.8,295.9L245.8,297.9L235.9,312.6Z"/><path fill="#0070ff" d="M245.2,313.5L245.6,312.5L249.0,313.9L249.3,301.6L240.5,310.3L243.9,311.8L243.5,312.8ZM275.8,313.5L276.4,311.9L279.8,313.2L279.5,300.8L271.2,310.0L274.6,311.3L274.1,312.8ZM286.4,315.7L289.9,303.9L279.2,310.1ZM240.9,330.3L242.4,318.0L232.8,325.9Z"/><path fill="#0000ef" d="M254.6,311.7L248.4,306.5L249.3,314.6ZM246.5,318.7L239.2,315.3L242.1,322.8Z"/><path fill="#ffaf00" d="M260.5,313.5L270.7,289.2L274.1,290.6L274.3,278.3L265.6,287.1L269.0,288.5L258.8,312.8Z"/><path fill="#30ffcf" d="M268.2,313.5L272.8,302.8L276.1,304.3L276.4,291.9L267.7,300.6L271.0,302.1L266.4,312.8ZM268.2,321.2L272.7,310.6L276.0,312.0L276.3,299.6L267.6,308.4L270.9,309.8L266.4,320.4ZM229.8,328.9L235.3,320.1L238.4,322.0L240.5,309.8L230.6,317.1L233.7,319.1L228.2,327.9ZM252.7,336.7L260.5,328.0L263.2,330.4L267.4,318.7L256.3,324.3L259.0,326.7L251.3,335.4Z"/><path fill="#008fff" d="M168.3,321.6L170.7,320.1L172.6,323.3L180.1,313.4L167.9,315.4L169.8,318.5L167.3,320.0ZM260.6,320.9L260.8,318.1L264.4,318.3L260.6,306.5L255.2,317.7L258.9,317.9L258.7,320.7Z"/><path fill="#00afff" d="M176.0,321.5L179.6,318.8L181.8,321.7L188.1,311.1L176.2,314.4L178.4,317.3L174.9,320.0Z"/><path fill="#ffef00" d="M183.7,321.5L202.1,306.7L204.4,309.5L210.5,298.7L198.6,302.4L200.9,305.2L182.5,320.0ZM222.2,329.0L235.6,309.0L238.7,311.0L241.3,298.9L231.0,305.9L234.1,307.9L220.6,327.9Z"/><path fill="#b80000" d="M191.4,321.4L219.3,291.4L222.0,293.9L226.4,282.4L215.2,287.7L217.9,290.1L190.1,320.1Z"/><path fill="#800000" d="M199.2,321.3L227.9,279.7L230.9,281.8L233.7,269.7L223.3,276.6L226.4,278.7L197.6,320.2ZM206.8,321.3L249.5,258.0L252.6,260.1L255.2,248.0L244.9,254.9L248.0,257.0L205.3,320.3ZM214.5,321.3L244.3,277.1L247.4,279.1L250.0,267.0L239.7,274.0L242.8,276.0L212.9,320.3ZM206.8,329.0L251.2,263.2L254.2,265.2L256.8,253.1L246.6,260.1L249.6,262.1L205.3,327.9ZM214.5,336.6L247.6,287.5L250.7,289.5L253.3,277.4L243.0,284.4L246.1,286.4L212.9,335.5ZM214.5,344.2L241.1,304.8L244.2,306.8L246.8,294.7L236.5,301.7L239.6,303.7L212.9,343.2Z"/><path fill="#f10000" d="M222.2,321.3L243.2,290.2L246.2,292.2L248.8,280.1L238.6,287.0L241.6,289.1L220.6,320.3Z"/><path fill="#ff3000" d="M229.8,321.3L248.9,293.0L251.9,295.1L254.5,283.0L244.3,289.9L247.3,292.0L228.2,320.3Z"/><path fill="#cfff30" d="M237.5,321.3L248.4,305.0L251.5,307.1L254.1,295.0L243.8,301.9L246.9,304.0L235.9,320.3Z"/><path fill="#0050ff" d="M251.5,316.9L242.3,322.0L252.5,324.7ZM246.4,324.6L234.9,323.3L242.3,332.2ZM278.4,330.2L279.3,319.8L271.5,326.7Z"/><path fill="#ff7000" d="M214.5,329.0L231.9,303.1L234.9,305.2L237.6,293.1L227.3,300.0L230.3,302.1L212.9,327.9Z"/><path fill="#0030ff" d="M251.8,324.8L242.8,329.0L252.2,332.1Z"/><path fill="#0010ff" d="M261.6,326.1L253.9,323.6L257.7,330.7Z"/><path fill="#00cfff" d="M268.2,328.8L271.1,322.7L274.4,324.3L275.2,311.9L266.1,320.3L269.4,321.9L266.4,328.0Z"/><path fill="#ff1000" d="M222.2,336.6L242.3,306.8L245.3,308.8L247.9,296.7L237.7,303.7L240.7,305.7L220.6,335.5ZM206.8,344.2L226.4,315.3L229.4,317.3L232.0,305.2L221.8,312.2L224.8,314.2L205.3,343.2Z"/><path fill="#8fff70" d="M229.8,336.6L238.8,323.2L241.9,325.3L244.5,313.1L234.2,320.1L237.3,322.1L228.2,335.5Z"/><path fill="#00efff" d="M237.5,336.6L242.0,330.2L245.0,332.2L247.8,320.2L237.4,327.0L240.4,329.1L235.9,335.5ZM245.1,336.7L250.2,330.2L253.1,332.5L256.7,320.7L245.9,326.8L248.8,329.0L243.6,335.5Z"/><path fill="#70ff8f" d="M260.5,336.5L266.6,323.0L270.0,324.5L270.5,312.1L261.6,320.7L264.9,322.2L258.8,335.7Z"/><path fill="#50ffaf" d="M268.1,336.6L275.8,326.5L278.7,328.7L282.0,316.7L271.3,323.1L274.3,325.3L266.5,335.5Z"/><path fill="#cfff30" d="M222.2,344.2L232.9,328.2L236.0,330.3L238.6,318.2L228.3,325.1L231.4,327.2L220.6,343.2Z"/><path fill="#50ffaf" d="M229.7,344.3L238.0,334.7L240.7,337.1L244.7,325.4L233.7,331.1L236.5,333.5L228.3,343.1ZM245.0,344.4L253.7,335.3L256.4,337.8L261.0,326.4L249.7,331.4L252.4,334.0L243.6,343.0ZM237.5,351.8L244.0,341.4L247.1,343.3L249.3,331.1L239.3,338.5L242.4,340.4L235.9,350.8ZM244.9,352.1L255.9,343.6L258.1,346.5L264.4,335.8L252.5,339.2L254.7,342.1L243.8,350.6ZM237.5,359.4L244.4,347.7L247.5,349.6L249.4,337.3L239.6,344.9L242.7,346.7L235.9,358.5ZM214.0,367.5L226.3,363.7L227.3,367.2L237.0,359.5L224.6,358.4L225.7,361.9L213.4,365.7ZM229.8,367.1L237.5,355.6L240.5,357.6L243.0,345.5L232.8,352.5L235.9,354.6L228.2,366.0Z"/><path fill="#8fff70" d="M237.4,344.4L248.6,332.8L251.2,335.4L255.9,323.9L244.6,329.0L247.2,331.5L236.0,343.0ZM229.6,359.7L242.3,349.9L244.5,352.8L250.8,342.2L238.9,345.6L241.1,348.4L228.4,358.2ZM237.5,367.0L245.3,353.0L248.5,354.7L250.1,342.4L240.5,350.3L243.7,352.0L235.8,366.1Z"/><path fill="#30ffcf" d="M252.8,344.2L258.7,335.5L261.7,337.6L264.4,325.5L254.1,332.4L257.2,334.4L251.2,343.2ZM206.8,352.0L213.9,343.9L216.7,346.3L220.9,334.6L209.8,340.2L212.5,342.6L205.3,350.7ZM229.8,351.9L236.3,343.2L239.2,345.3L242.4,333.4L231.9,339.8L234.8,342.0L228.3,350.8ZM275.7,359.6L282.9,350.8L285.7,353.1L289.4,341.3L278.6,347.3L281.4,349.6L274.2,358.4ZM252.6,367.3L261.3,360.0L263.7,362.8L269.5,351.9L257.8,355.7L260.1,358.5L251.4,365.8ZM260.4,367.2L267.3,359.0L270.1,361.4L274.0,349.6L263.0,355.4L265.8,357.8L258.9,366.0Z"/><path fill="#10ffef" d="M260.4,344.3L266.2,336.1L269.2,338.2L272.1,326.2L261.7,332.9L264.6,335.0L258.9,343.2ZM260.4,351.9L266.4,343.9L269.3,346.1L272.5,334.1L261.9,340.6L264.9,342.8L258.9,350.8ZM213.5,359.9L222.7,361.7L222.0,365.3L234.1,363.1L223.8,356.3L223.1,359.9L213.9,358.0Z"/><path fill="#00efff" d="M268.0,344.3L272.5,339.0L275.3,341.4L279.3,329.7L268.3,335.4L271.1,337.8L266.6,343.1ZM214.3,352.1L220.8,347.6L222.9,350.6L229.8,340.2L217.7,343.0L219.8,346.0L213.2,350.5ZM222.1,351.9L226.8,345.8L229.7,348.0L233.1,336.1L222.4,342.4L225.3,344.7L220.6,350.7ZM252.3,352.2L258.9,349.6L260.3,353.0L269.3,344.4L256.9,344.4L258.2,347.8L251.6,350.4ZM198.6,367.5L206.9,365.6L207.7,369.2L217.9,362.2L205.7,360.2L206.5,363.8L198.2,365.6ZM176.4,374.2L176.2,366.2L179.8,366.1L175.0,354.8L170.6,366.4L174.3,366.3L174.5,374.2ZM191.6,373.8L188.7,366.2L192.1,364.9L183.6,355.9L183.5,368.3L186.9,366.9L189.9,374.5Z"/><path fill="#00cfff" d="M206.2,359.9L212.5,358.8L213.1,362.4L223.6,355.8L211.5,353.3L212.2,356.9L205.9,358.0ZM222.1,359.6L225.9,355.2L228.6,357.7L232.8,346.0L221.8,351.6L224.5,354.0L220.7,358.3ZM244.9,367.3L249.9,363.2L252.2,366.0L258.2,355.2L246.4,358.9L248.7,361.7L243.7,365.8ZM199.3,373.8L197.1,368.8L200.5,367.4L191.8,358.6L192.0,371.0L195.4,369.6L197.5,374.6Z"/><path fill="#70ff8f" d="M267.7,359.8L280.9,352.7L282.7,355.9L290.6,346.3L278.3,347.8L280.0,351.0L266.8,358.1ZM222.2,367.1L230.5,354.7L233.6,356.7L236.2,344.6L225.9,351.6L229.0,353.6L220.6,366.0Z"/><path fill="#0050ff" d="M207.0,371.0L217.1,364.3L205.1,362.2Z"/><path fill="#00afff" d="M268.0,367.2L270.8,364.2L273.5,366.7L277.9,355.1L266.7,360.4L269.4,362.9L266.6,365.9Z"/><path fill="#0070ff" d="M184.0,374.1L183.9,373.1L187.5,372.6L181.4,361.9L178.4,373.9L182.0,373.4L182.2,374.3Z"/><path fill="#0000ef" d="M206.8,377.1L213.3,372.3L205.3,371.3ZM229.7,377.1L236.3,372.5L228.3,371.3Z"/><path fill="#0010ff" d="M214.1,377.2L221.2,373.2L213.3,371.2ZM221.3,377.2L228.9,374.4L221.4,371.2Z"/><path fill="#0010ff" d="M236.0,377.1L244.0,375.9L237.3,371.3ZM255.0,373.8L251.1,366.7L249.0,374.5ZM206.4,384.8L213.5,380.9L205.7,378.8ZM213.7,384.8L221.2,381.9L213.7,378.8ZM244.4,384.8L251.8,381.6L244.3,378.8ZM262.6,381.5L259.0,374.3L256.7,382.1ZM270.3,382.0L267.9,374.3L264.3,381.6ZM213.1,392.3L221.1,390.9L214.3,386.5ZM228.6,392.4L236.4,390.5L229.5,386.4ZM236.6,392.4L244.2,389.7L236.8,386.4Z"/><path fill="#0000ef" d="M244.3,377.2L251.8,374.4L244.4,371.2ZM262.6,373.9L258.8,366.7L256.7,374.5ZM270.3,374.4L267.8,366.7L264.3,374.0ZM220.4,384.6L228.4,384.3L222.4,379.0ZM228.5,384.8L236.4,383.0L229.5,378.8ZM237.5,384.7L243.9,379.8L235.9,378.9ZM254.9,381.1L250.3,374.5L249.1,382.5ZM244.6,392.4L251.8,388.6L244.0,386.4ZM255.0,389.5L252.3,381.9L249.0,389.3ZM262.5,388.6L257.7,382.2L256.7,390.2ZM270.3,389.7L268.1,381.9L264.3,389.1Z"/><path fill="#10ffef" d="M161.0,381.6L158.9,372.7L162.4,371.9L155.2,361.8L153.5,374.1L157.0,373.2L159.2,382.0ZM184.0,381.6L182.4,372.8L186.0,372.1L179.3,361.7L176.9,373.8L180.5,373.1L182.2,382.0ZM176.4,389.3L175.0,380.3L178.6,379.7L172.3,369.1L169.5,381.1L173.1,380.6L174.5,389.5Z"/><path fill="#0050ff" d="M172.2,381.2L166.3,370.6L163.3,382.4Z"/><path fill="#008fff" d="M176.3,381.5L175.8,379.8L179.2,378.6L171.2,369.1L170.5,381.5L174.0,380.4L174.5,382.1ZM191.7,381.7L191.6,379.0L195.2,378.8L190.0,367.6L186.0,379.3L189.7,379.1L189.8,381.8Z"/><path fill="#00afff" d="M199.3,381.4L197.5,377.3L200.8,375.8L191.9,367.2L192.4,379.6L195.7,378.1L197.5,382.2Z"/><path fill="#00efff" d="M153.3,389.0L150.6,382.7L153.9,381.2L145.1,372.5L145.5,384.9L148.8,383.4L151.6,389.8ZM199.2,389.9L202.9,383.5L206.0,385.4L207.8,373.1L198.1,380.8L201.2,382.6L197.6,388.9Z"/><path fill="#0070ff" d="M161.1,389.2L160.9,388.3L164.5,387.6L157.8,377.2L155.4,389.3L159.0,388.6L159.2,389.6ZM176.3,396.5L175.8,395.6L179.0,393.9L169.4,386.0L170.9,398.3L174.1,396.5L174.6,397.5Z"/><path fill="#00cfff" d="M168.7,389.2L167.6,384.0L171.1,383.2L164.2,372.9L162.2,385.2L165.7,384.4L166.9,389.6ZM207.0,389.6L207.9,384.2L211.5,384.9L208.9,372.7L202.4,383.3L206.0,383.9L205.1,389.2ZM153.3,396.6L150.8,390.7L154.2,389.2L145.5,380.4L145.7,392.8L149.1,391.4L151.6,397.4ZM161.1,396.8L159.9,390.8L163.5,390.1L156.8,379.7L154.4,391.9L158.0,391.2L159.2,397.2ZM168.7,396.9L168.4,391.4L172.0,391.2L166.7,380.0L162.8,391.8L166.5,391.6L166.8,397.1Z"/><path fill="#30ffcf" d="M184.0,389.0L179.5,378.1L182.9,376.7L174.3,367.8L174.4,380.2L177.7,378.8L182.2,389.8Z"/><path fill="#70ff8f" d="M191.7,389.6L194.1,374.5L197.7,375.1L195.0,363.0L188.6,373.6L192.3,374.2L189.8,389.2Z"/><path fill="#0000cf" d="M221.0,392.4L228.8,390.3L221.7,386.4Z"/><path fill="#10ffef" d="M184.0,396.9L182.8,388.3L186.4,387.8L180.2,377.0L177.3,389.1L180.9,388.6L182.2,397.1ZM176.3,404.3L173.3,395.5L176.8,394.3L168.7,384.9L168.1,397.3L171.5,396.1L174.5,404.9ZM207.0,412.3L208.7,402.8L212.3,403.4L209.8,391.3L203.2,401.8L206.8,402.5L205.1,412.0Z"/><path fill="#70ff8f" d="M191.6,397.3L196.8,383.1L200.2,384.3L199.8,371.9L191.5,381.2L195.0,382.4L189.9,396.7Z"/><path fill="#cfff30" d="M199.3,397.3L205.0,377.8L208.5,378.8L207.3,366.5L199.6,376.3L203.1,377.3L197.5,396.7ZM199.3,412.4L204.0,392.7L207.6,393.5L205.7,381.3L198.6,391.4L202.2,392.2L197.5,412.0Z"/><path fill="#008fff" d="M207.0,397.2L207.6,394.0L211.2,394.7L209.0,382.5L202.2,392.9L205.8,393.6L205.1,396.8ZM214.6,397.3L215.2,395.7L218.6,396.8L218.0,384.5L209.9,393.9L213.4,395.0L212.8,396.7ZM161.1,404.5L160.7,402.0L164.3,401.5L158.1,390.8L155.2,402.8L158.8,402.3L159.2,404.7ZM176.4,411.9L175.8,409.9L179.3,408.9L171.8,399.1L170.4,411.4L174.0,410.4L174.5,412.4Z"/><path fill="#0050ff" d="M222.7,400.8L230.8,393.6L220.0,393.2ZM217.8,413.3L216.5,402.0L209.6,411.1Z"/><path fill="#0000ef" d="M228.7,400.0L236.5,397.7L229.3,394.0ZM255.0,397.1L252.3,389.5L249.0,396.9ZM262.6,397.3L260.5,389.5L256.7,396.7ZM270.3,396.7L266.6,389.5L264.3,397.3ZM229.5,407.5L236.4,403.3L228.5,401.6ZM262.5,403.8L257.7,397.4L256.7,405.4ZM228.9,415.2L236.5,412.6L229.2,409.2Z"/><path fill="#0010ff" d="M236.9,400.0L244.2,396.6L236.5,394.0ZM244.4,400.0L251.8,396.9L244.3,394.0ZM277.9,396.9L274.6,389.5L272.0,397.1ZM221.0,407.6L228.8,405.6L221.8,401.6ZM236.1,407.5L244.0,406.0L237.2,401.6ZM245.1,407.5L251.6,402.6L243.5,401.7ZM254.9,405.2L253.4,397.2L249.0,404.0ZM270.3,404.8L267.8,397.1L264.3,404.4ZM277.9,404.2L274.0,397.1L272.0,405.0Z"/><path fill="#00efff" d="M168.7,404.5L168.2,396.2L171.9,395.9L166.6,384.7L162.7,396.5L166.3,396.3L166.8,404.6ZM214.6,404.9L217.0,398.3L220.4,399.6L220.1,387.2L211.8,396.4L215.2,397.7L212.8,404.3ZM161.0,411.8L158.2,404.5L161.6,403.2L153.1,394.1L153.0,406.5L156.4,405.2L159.2,412.5ZM191.6,412.7L195.6,406.3L198.7,408.2L200.9,396.1L190.9,403.3L194.0,405.3L189.9,411.7Z"/><path fill="#50ffaf" d="M184.0,404.4L181.0,391.9L184.5,391.0L177.4,381.0L175.6,393.2L179.2,392.4L182.2,404.8Z"/><path fill="#ffef00" d="M191.6,405.1L203.2,384.3L206.4,386.1L208.0,373.8L198.4,381.6L201.6,383.4L189.9,404.1Z"/><path fill="#efff10" d="M199.3,405.0L208.7,385.0L212.0,386.6L212.7,374.2L203.6,382.7L206.9,384.2L197.5,404.2Z"/><path fill="#30ffcf" d="M207.0,404.7L208.6,394.1L212.2,394.7L209.4,382.6L203.1,393.3L206.7,393.8L205.1,404.4Z"/><path fill="#00afff" d="M153.3,411.8L151.4,407.5L154.7,405.9L145.7,397.4L146.3,409.8L149.6,408.3L151.6,412.6ZM184.0,411.8L182.1,407.5L185.5,406.1L176.7,397.3L177.0,409.7L180.4,408.2L182.2,412.6Z"/><path fill="#00cfff" d="M168.7,411.9L167.0,406.0L170.5,405.0L162.9,395.2L161.7,407.5L165.2,406.5L166.9,412.4Z"/><path fill="#0030ff" d="M221.5,415.3L229.3,411.9L221.3,409.0Z"/><path fill="#0000ef" d="M237.1,415.2L244.1,411.2L236.3,409.2ZM243.8,415.1L251.7,413.5L244.8,409.2ZM254.9,412.7L253.4,404.8L249.0,411.6ZM270.3,412.5L268.0,404.7L264.3,411.9ZM221.6,430.3L228.8,426.7L221.1,424.4Z"/><path fill="#0030ff" d="M262.9,411.6L258.3,404.1L256.4,412.7ZM186.5,426.4L180.7,418.7L179.6,428.3ZM206.6,431.0L215.3,426.0L205.5,423.7ZM213.6,430.9L222.7,427.7L213.9,423.7ZM222.0,423.1L229.8,418.3L220.8,416.4Z"/><path fill="#0000cf" d="M277.9,412.0L274.6,404.7L272.0,412.3ZM229.2,422.8L236.5,419.4L228.9,416.8Z"/><path fill="#00afff" d="M153.4,419.4L151.8,415.0L155.2,413.8L147.0,404.5L146.6,416.9L150.0,415.7L151.6,420.1ZM168.7,419.6L168.0,415.5L171.6,414.8L165.0,404.3L162.5,416.4L166.1,415.8L166.8,419.9ZM168.6,426.9L166.6,423.0L169.9,421.3L160.5,413.2L161.7,425.6L164.9,423.9L166.9,427.8Z"/><path fill="#00cfff" d="M161.0,419.4L159.1,414.2L162.6,413.0L154.4,403.7L153.9,416.0L157.4,414.8L159.2,420.1ZM161.0,427.0L158.8,421.8L162.1,420.3L153.3,411.6L153.7,424.0L157.0,422.5L159.3,427.7Z"/><path fill="#00efff" d="M176.3,419.3L172.7,412.4L176.0,410.8L166.6,402.6L167.8,415.0L171.1,413.3L174.6,420.2ZM176.3,426.9L172.4,419.9L175.5,418.1L165.9,410.3L167.5,422.6L170.7,420.8L174.6,427.8Z"/><path fill="#10ffef" d="M183.9,419.3L179.8,411.6L183.0,409.9L173.5,402.0L174.9,414.3L178.1,412.5L182.3,420.2Z"/><path fill="#30ffcf" d="M191.6,420.1L195.7,409.3L199.1,410.6L198.9,398.2L190.5,407.4L193.9,408.7L189.9,419.4ZM191.7,427.3L191.1,416.3L194.8,416.1L189.6,404.9L185.6,416.6L189.2,416.4L189.8,427.4Z"/><path fill="#50ffaf" d="M199.3,420.0L202.7,407.8L206.2,408.7L204.8,396.4L197.4,406.3L200.9,407.2L197.5,419.5Z"/><path fill="#0070ff" d="M199.3,427.0L198.8,425.8L202.2,424.5L193.6,415.5L193.7,427.9L197.1,426.5L197.5,427.7Z"/><path fill="#008fff" d="M207.0,420.0L207.6,417.6L211.1,418.4L209.4,406.2L202.2,416.3L205.7,417.1L205.1,419.5Z"/><path fill="#0050ff" d="M213.9,423.9L224.0,419.3L213.5,415.7Z"/><path fill="#0010ff" d="M236.1,422.7L244.0,421.2L237.2,416.8ZM245.0,422.7L251.6,418.0L243.6,416.8ZM255.0,420.1L252.7,412.3L249.0,419.5ZM262.6,419.0L257.8,412.5L256.7,420.5ZM270.1,420.7L269.7,412.7L264.5,418.8Z"/></g><rect x="85.1" y="158.4" width="112.0" height="24.6" fill="url(#jet)" stroke="#262626" stroke-width="1.1"/><path d="" stroke="#262626" stroke-width="0.8"/><text x="350.3" y="206.8" font-size="20.5">50 cm/s</text><text x="360.5" y="244.5" font-size="20.5">10 km</text><path d="M381.6,250.9h12.4" stroke="#000" stroke-width="3.6" stroke-linecap="round"/><path d="M238.0,291.5L238.0,307.5M243.7,293.8L232.3,305.2M246.0,299.5L230.0,299.5M243.7,305.2L232.3,293.8" stroke="#f00" stroke-width="1.25" fill="none"/><path d="M246.5,384.5L246.5,400.5M252.2,386.8L240.8,398.2M254.5,392.5L238.5,392.5M252.2,398.2L240.8,386.8" stroke="#f00" stroke-width="1.25" fill="none"/><path d="M142.0,455.5L142.0,471.5M147.7,457.8L136.3,469.2M150.0,463.5L134.0,463.5M147.7,469.2L136.3,457.8" stroke="#f00" stroke-width="1.25" fill="none"/></g><rect x="75" y="142.8" width="348" height="427.2" fill="none" stroke="#1a1a1a" stroke-width="1.5"/><path d="M133.0,142.5v4M133.0,570.0v-4M191.0,142.5v4M191.0,570.0v-4M249.0,142.5v4M249.0,570.0v-4M307.0,142.5v4M307.0,570.0v-4M365.0,142.5v4M365.0,570.0v-4M75.0,214.9h4M423.0,214.9h-4M75.0,286.8h4M423.0,286.8h-4M75.0,358.2h4M423.0,358.2h-4M75.0,429.3h4M423.0,429.3h-4M75.0,499.8h4M423.0,499.8h-4" stroke="#1a1a1a" stroke-width="0.9" fill="none"/><text x="67.5" y="149.1" text-anchor="end" font-size="20.5">37°N</text><text x="67.5" y="293.4" text-anchor="end" font-size="20.5">36°N</text><text x="67.5" y="435.9" text-anchor="end" font-size="20.5">35°N</text><text x="67.5" y="576.6" text-anchor="end" font-size="20.5">34°N</text><text x="68.5" y="220.5" text-anchor="end" font-size="14.8">30'</text><text x="68.5" y="363.8" text-anchor="end" font-size="14.8">30'</text><text x="68.5" y="505.4" text-anchor="end" font-size="14.8">30'</text><text x="77.5" y="591.0" text-anchor="middle" font-size="20.5">77°W</text><text x="193.5" y="591.0" text-anchor="middle" font-size="20.5">76°W</text><text x="309.5" y="591.0" text-anchor="middle" font-size="20.5">75°W</text><text x="425.5" y="591.0" text-anchor="middle" font-size="20.5">74°W</text><text x="133.0" y="586.5" text-anchor="middle" font-size="14.8">30'</text><text x="249.0" y="586.5" text-anchor="middle" font-size="14.8">30'</text><text x="365.0" y="586.5" text-anchor="middle" font-size="14.8">30'</text><text x="249.0" y="129.2" text-anchor="middle" font-size="25.3" font-weight="bold">2023-05-13 23:00</text><text x="118" y="114.2" font-size="21.5" fill="#262626">cm/s</text><text x="85.1" y="145.0" text-anchor="middle" font-size="17.2" fill="#262626">0</text><text x="89.6" y="145.0" text-anchor="middle" font-size="17.2" fill="#262626">4</text><text x="94.1" y="145.0" text-anchor="middle" font-size="17.2" fill="#262626">8</text><text x="98.5" y="145.0" text-anchor="middle" font-size="17.2" fill="#262626">12</text><text x="103.0" y="145.0" text-anchor="middle" font-size="17.2" fill="#262626">16</text><text x="107.5" y="145.0" text-anchor="middle" font-size="17.2" fill="#262626">20</text><text x="112.0" y="145.0" text-anchor="middle" font-size="17.2" fill="#262626">24</text><text x="116.5" y="145.0" text-anchor="middle" font-size="17.2" fill="#262626">28</text><text x="120.9" y="145.0" text-anchor="middle" font-size="17.2" fill="#262626">32</text><text x="125.4" y="145.0" text-anchor="middle" font-size="17.2" fill="#262626">36</text><text x="129.9" y="145.0" text-anchor="middle" font-size="17.2" fill="#262626">40</text><text x="134.4" y="145.0" text-anchor="middle" font-size="17.2" fill="#262626">44</text><text x="138.9" y="145.0" text-anchor="middle" font-size="17.2" fill="#262626">48</text><text x="143.3" y="145.0" text-anchor="middle" font-size="17.2" fill="#262626">52</text><text x="147.8" y="145.0" text-anchor="middle" font-size="17.2" fill="#262626">56</text><text x="152.3" y="145.0" text-anchor="middle" font-size="17.2" fill="#262626">60</text><text x="156.8" y="145.0" text-anchor="middle" font-size="17.2" fill="#262626">64</text><text x="161.3" y="145.0" text-anchor="middle" font-size="17.2" fill="#262626">68</text><text x="165.7" y="145.0" text-anchor="middle" font-size="17.2" fill="#262626">72</text><text x="170.2" y="145.0" text-anchor="middle" font-size="17.2" fill="#262626">76</text><text x="174.7" y="145.0" text-anchor="middle" font-size="17.2" fill="#262626">80</text><text x="179.2" y="145.0" text-anchor="middle" font-size="17.2" fill="#262626">84</text><text x="183.7" y="145.0" text-anchor="middle" font-size="17.2" fill="#262626">88</text><text x="188.1" y="145.0" text-anchor="middle" font-size="17.2" fill="#262626">92</text><text x="192.6" y="145.0" text-anchor="middle" font-size="17.2" fill="#262626">96</text><text x="197.1" y="145.0" text-anchor="middle" font-size="17.2" fill="#262626">100</text><g clip-path="url(#cp2)"><use href="#land" x="458.5" y="142.5"/><path d="M516.5,142.5V570.0M574.5,142.5V570.0M632.5,142.5V570.0M690.5,142.5V570.0M748.5,142.5V570.0M458.5,214.9H806.5M458.5,286.8H806.5M458.5,358.2H806.5M458.5,429.3H806.5M458.5,499.8H806.5" stroke="#6e6e6e" stroke-width="0.8" stroke-dasharray="2,6.3" fill="none" opacity="0.8"/><g transform="translate(458.5,142.5)" shape-rendering="crispEdges"><path fill="#800000" d="M186.5,-1.0H194.5V7.1H186.5ZM201.8,6.8H209.8V15.0H201.8ZM178.9,14.7H202.1V22.9H178.9ZM209.5,14.7H232.8V22.9H209.5ZM178.9,22.6H202.1V30.7H178.9ZM209.5,22.6H217.4V30.7H209.5ZM240.1,22.6H248.1V30.7H240.1ZM178.9,30.4H202.1V38.5H178.9ZM240.1,30.4H248.1V38.5H240.1ZM178.9,38.2H194.5V46.4H178.9ZM240.1,38.2H248.1V46.4H240.1ZM178.9,46.1H186.8V54.2H178.9Z"/><path fill="#9c0000" d="M186.5,6.8H194.5V15.0H186.5ZM186.5,46.1H194.5V54.2H186.5Z"/><path fill="#b80000" d="M201.8,14.7H209.8V22.9H201.8Z"/><path fill="#ff4000" d="M201.8,22.6H209.8V30.7H201.8Z"/><path fill="#ff7000" d="M217.1,22.6H225.1V30.7H217.1ZM232.5,30.4H240.4V38.5H232.5ZM201.8,38.2H209.8V46.4H201.8Z"/><path fill="#8e0000" d="M224.8,22.6H232.8V30.7H224.8ZM240.1,46.1H248.1V54.2H240.1ZM178.9,53.9H186.8V62.0H178.9Z"/><path fill="#ff1000" d="M232.5,22.6H240.4V30.7H232.5Z"/><path fill="#ff8000" d="M201.8,30.4H209.8V38.5H201.8ZM224.8,30.4H232.8V38.5H224.8Z"/><path fill="#ff9f00" d="M209.5,30.4H217.4V38.5H209.5ZM232.5,38.2H240.4V46.4H232.5ZM217.1,69.6H225.1V77.7H217.1ZM316.7,294.0H324.6V302.0H316.7Z"/><path fill="#ffbf00" d="M217.1,30.4H225.1V38.5H217.1ZM194.2,38.2H202.1V46.4H194.2ZM224.8,38.2H232.8V46.4H224.8ZM194.2,46.1H209.8V54.2H194.2ZM194.2,53.9H202.1V62.0H194.2ZM240.1,53.9H248.1V62.0H240.1ZM186.5,61.7H194.5V69.9H186.5ZM186.5,69.6H194.5V77.7H186.5ZM178.9,77.4H186.8V85.5H178.9ZM224.8,85.2H232.8V93.3H224.8Z"/><path fill="#ffff00" d="M209.5,38.2H217.4V46.4H209.5ZM209.5,46.1H217.4V54.2H209.5ZM217.1,61.7H225.1V69.9H217.1ZM224.8,69.6H232.8V77.7H224.8ZM224.8,77.4H240.4V85.5H224.8ZM178.9,85.2H186.8V93.3H178.9ZM301.3,301.7H309.3V309.6H301.3Z"/><path fill="#70ff8f" d="M217.1,38.2H225.1V46.4H217.1ZM209.5,53.9H225.1V62.0H209.5ZM194.2,61.7H202.1V69.9H194.2ZM240.1,61.7H248.1V69.9H240.1ZM186.5,77.4H194.5V85.5H186.5ZM217.1,77.4H225.1V85.5H217.1ZM186.5,85.2H194.5V93.3H186.5ZM178.9,93.0H186.8V101.1H178.9ZM286.0,131.9H294.0V140.0H286.0ZM293.7,163.0H301.6V171.0H293.7ZM224.8,232.5H240.4V240.5H224.8ZM286.0,301.7H294.0V309.6H286.0ZM278.4,332.2H286.3V340.2H278.4ZM278.4,385.6H286.3V393.5H278.4Z"/><path fill="#dfff20" d="M217.1,46.1H225.1V54.2H217.1ZM270.7,263.3H278.7V271.3H270.7ZM278.4,278.7H286.3V286.6H278.4ZM286.0,324.6H294.0V332.5H286.0ZM286.0,355.1H294.0V363.1H286.0Z"/><path fill="#ffef00" d="M224.8,46.1H232.8V54.2H224.8ZM224.8,53.9H232.8V62.0H224.8ZM316.7,301.7H324.6V309.6H316.7Z"/><path fill="#bfff40" d="M232.5,46.1H240.4V54.2H232.5ZM240.1,100.8H248.1V108.9H240.1ZM278.4,263.3H286.3V271.3H278.4ZM270.7,271.0H278.7V279.0H270.7ZM286.0,393.2H294.0V401.1H286.0Z"/><path fill="#ff0000" d="M186.5,53.9H194.5V62.0H186.5Z"/><path fill="#ffdf00" d="M201.8,53.9H209.8V62.0H201.8ZM240.1,224.8H248.1V232.8H240.1Z"/><path fill="#80ff80" d="M232.5,53.9H240.4V62.0H232.5ZM201.8,61.7H217.4V69.9H201.8ZM224.8,61.7H240.4V69.9H224.8ZM201.8,69.6H209.8V77.7H201.8ZM255.4,69.6H263.4V77.7H255.4ZM263.1,77.4H271.0V85.5H263.1ZM232.5,100.8H240.4V108.9H232.5ZM278.4,108.6H286.3V116.7H278.4ZM278.4,193.9H286.3V202.0H278.4ZM270.7,217.1H278.7V225.1H270.7ZM263.1,224.8H271.0V232.8H263.1ZM286.0,309.3H294.0V317.3H286.0ZM278.4,339.9H286.3V347.8H278.4ZM278.4,370.4H286.3V378.3H278.4ZM278.4,378.0H286.3V385.9H278.4ZM286.0,400.8H294.0V408.7H286.0ZM278.4,416.0H286.3V423.9H278.4Z"/><path fill="#aa0000" d="M178.9,61.7H186.8V69.9H178.9Z"/><path fill="#60ff9f" d="M247.8,61.7H255.7V69.9H247.8ZM286.0,170.7H294.0V178.8H286.0Z"/><path fill="#c60000" d="M178.9,69.6H186.8V77.7H178.9Z"/><path fill="#8fff70" d="M194.2,69.6H202.1V77.7H194.2ZM209.5,69.6H217.4V77.7H209.5ZM232.5,255.6H240.4V263.6H232.5ZM278.4,271.0H286.3V279.0H278.4ZM278.4,347.5H286.3V355.4H278.4Z"/><path fill="#50ffaf" d="M232.5,69.6H240.4V77.7H232.5ZM209.5,77.4H217.4V85.5H209.5ZM186.5,93.0H194.5V101.1H186.5ZM278.4,286.3H286.3V294.3H278.4ZM232.5,423.6H240.4V431.4H232.5Z"/><path fill="#30ffcf" d="M240.1,69.6H248.1V77.7H240.1ZM232.5,93.0H240.4V101.1H232.5ZM224.8,240.2H232.8V248.2H224.8ZM232.5,263.3H240.4V271.3H232.5ZM224.8,423.6H232.8V431.4H224.8Z"/><path fill="#40ffbf" d="M247.8,69.6H255.7V77.7H247.8ZM255.4,77.4H263.4V85.5H255.4ZM232.5,85.2H240.4V93.3H232.5ZM263.1,85.2H271.0V93.3H263.1ZM224.8,93.0H232.8V101.1H224.8ZM171.2,100.8H179.2V108.9H171.2ZM278.4,294.0H286.3V302.0H278.4ZM194.2,339.9H202.1V347.8H194.2Z"/><path fill="#00efff" d="M194.2,77.4H202.1V85.5H194.2ZM247.8,77.4H255.7V85.5H247.8ZM270.7,93.0H278.7V101.1H270.7ZM224.8,100.8H232.8V108.9H224.8ZM270.7,116.4H278.7V124.4H270.7ZM255.4,224.8H263.4V232.8H255.4ZM194.2,347.5H202.1V355.4H194.2ZM270.7,347.5H278.7V355.4H270.7ZM278.4,355.1H286.3V363.1H278.4ZM240.1,423.6H248.1V431.4H240.1Z"/><path fill="#00ffff" d="M201.8,77.4H209.8V85.5H201.8ZM240.1,77.4H248.1V85.5H240.1ZM201.8,85.2H209.8V93.3H201.8ZM201.8,93.0H209.8V101.1H201.8ZM217.1,93.0H225.1V101.1H217.1ZM270.7,100.8H278.7V108.9H270.7ZM171.2,108.6H179.2V116.7H171.2ZM270.7,108.6H278.7V116.7H270.7ZM278.4,116.4H286.3V124.4H278.4ZM278.4,124.1H286.3V132.2H278.4ZM286.0,139.7H294.0V147.8H286.0ZM286.0,147.5H294.0V155.5H286.0Z"/><path fill="#00bfff" d="M194.2,85.2H202.1V93.3H194.2ZM255.4,85.2H263.4V93.3H255.4ZM263.1,93.0H271.0V101.1H263.1ZM201.8,100.8H225.1V108.9H201.8ZM255.4,100.8H263.4V108.9H255.4ZM263.1,108.6H271.0V116.7H263.1ZM171.2,155.2H179.2V163.3H171.2ZM178.9,209.4H186.8V217.4H178.9ZM163.6,247.9H171.5V255.9H163.6ZM270.7,332.2H278.7V340.2H270.7ZM194.2,355.1H202.1V363.1H194.2ZM270.7,378.0H278.7V385.9H270.7ZM278.4,393.2H286.3V401.1H278.4ZM270.7,416.0H278.7V423.9H270.7ZM247.8,423.6H271.0V431.4H247.8Z"/><path fill="#10ffef" d="M209.5,85.2H225.1V93.3H209.5ZM240.1,93.0H248.1V101.1H240.1ZM278.4,186.2H286.3V194.2H278.4ZM270.7,201.7H278.7V209.7H270.7ZM163.6,324.6H171.5V332.5H163.6ZM270.7,423.6H278.7V431.4H270.7Z"/><path fill="#00cfff" d="M240.1,85.2H255.7V93.3H240.1ZM194.2,93.0H202.1V101.1H194.2ZM247.8,93.0H263.4V101.1H247.8ZM186.5,100.8H202.1V108.9H186.5ZM263.1,100.8H271.0V108.9H263.1ZM171.2,116.4H179.2V124.4H171.2ZM270.7,317.0H278.7V324.9H270.7ZM278.4,324.6H286.3V332.5H278.4ZM270.7,385.6H278.7V393.5H270.7ZM278.4,408.4H286.3V416.3H278.4Z"/><path fill="#00afff" d="M209.5,93.0H217.4V101.1H209.5ZM178.9,170.7H186.8V178.8H178.9ZM186.5,240.2H194.5V248.2H186.5ZM155.9,309.3H163.9V317.3H155.9ZM201.8,332.2H209.8V340.2H201.8ZM240.1,347.5H248.1V355.4H240.1ZM263.1,347.5H271.0V355.4H263.1ZM240.1,355.1H271.0V363.1H240.1ZM270.7,362.8H278.7V370.7H270.7ZM163.6,370.4H171.5V378.3H163.6ZM148.2,400.8H156.2V408.7H148.2Z"/><path fill="#20ffdf" d="M178.9,100.8H186.8V108.9H178.9ZM286.0,155.2H294.0V163.3H286.0ZM278.4,178.5H286.3V186.5H278.4ZM270.7,209.4H278.7V217.4H270.7ZM224.8,247.9H232.8V255.9H224.8ZM171.2,324.6H179.2V332.5H171.2Z"/><path fill="#008fff" d="M247.8,100.8H255.7V108.9H247.8ZM194.2,108.6H202.1V116.7H194.2ZM240.1,108.6H248.1V116.7H240.1ZM278.4,131.9H286.3V140.0H278.4ZM286.0,163.0H294.0V171.0H286.0ZM224.8,255.6H232.8V263.6H224.8ZM155.9,294.0H163.9V302.0H155.9ZM278.4,301.7H286.3V309.6H278.4ZM278.4,309.3H286.3V317.3H278.4ZM201.8,324.6H209.8V332.5H201.8ZM263.1,332.2H271.0V340.2H263.1ZM201.8,339.9H209.8V347.8H201.8ZM232.5,347.5H240.4V355.4H232.5ZM255.4,347.5H263.4V355.4H255.4ZM232.5,355.1H240.4V363.1H232.5ZM148.2,385.6H156.2V393.5H148.2ZM209.5,385.6H217.4V393.5H209.5ZM148.2,393.2H156.2V401.1H148.2ZM148.2,416.0H156.2V423.9H148.2ZM232.5,416.0H240.4V423.9H232.5ZM155.9,423.6H171.5V431.4H155.9ZM178.9,423.6H186.8V431.4H178.9ZM194.2,423.6H202.1V431.4H194.2ZM209.5,423.6H225.1V431.4H209.5Z"/><path fill="#0080ff" d="M178.9,108.6H194.5V116.7H178.9ZM201.8,108.6H240.4V116.7H201.8ZM255.4,108.6H263.4V116.7H255.4ZM263.1,116.4H271.0V124.4H263.1ZM270.7,124.1H278.7V132.2H270.7ZM278.4,147.5H286.3V155.5H278.4ZM270.7,186.2H278.7V194.2H270.7ZM224.8,263.3H232.8V271.3H224.8ZM232.5,271.0H240.4V279.0H232.5ZM247.8,278.7H263.4V286.6H247.8ZM270.7,278.7H278.7V286.6H270.7ZM263.1,317.0H271.0V324.9H263.1ZM270.7,324.6H278.7V332.5H270.7ZM240.1,339.9H255.7V347.8H240.1ZM224.8,355.1H232.8V363.1H224.8ZM240.1,362.8H263.4V370.7H240.1ZM171.2,370.4H179.2V378.3H171.2ZM224.8,370.4H232.8V378.3H224.8ZM263.1,370.4H271.0V378.3H263.1ZM263.1,378.0H271.0V385.9H263.1ZM263.1,385.6H271.0V393.5H263.1ZM270.7,393.2H278.7V401.1H270.7ZM270.7,400.8H278.7V408.7H270.7ZM148.2,408.4H156.2V416.3H148.2ZM270.7,408.4H278.7V416.3H270.7ZM263.1,416.0H271.0V423.9H263.1ZM171.2,423.6H179.2V431.4H171.2Z"/><path fill="#0060ff" d="M247.8,108.6H255.7V116.7H247.8ZM255.4,116.4H263.4V124.4H255.4ZM171.2,131.9H179.2V140.0H171.2ZM171.2,139.7H179.2V147.8H171.2ZM278.4,139.7H286.3V147.8H278.4ZM171.2,147.5H179.2V155.5H171.2ZM178.9,155.2H186.8V163.3H178.9ZM270.7,178.5H278.7V186.5H270.7ZM178.9,186.2H186.8V194.2H178.9ZM270.7,193.9H278.7V202.0H270.7ZM178.9,201.7H186.8V209.7H178.9ZM194.2,224.8H202.1V232.8H194.2ZM217.1,247.9H225.1V255.9H217.1ZM163.6,255.6H171.5V263.6H163.6ZM163.6,263.3H171.5V271.3H163.6ZM163.6,286.3H171.5V294.3H163.6ZM155.9,301.7H163.9V309.6H155.9ZM186.5,317.0H194.5V324.9H186.5ZM255.4,317.0H263.4V324.9H255.4ZM209.5,324.6H217.4V332.5H209.5ZM224.8,332.2H232.8V340.2H224.8ZM255.4,332.2H263.4V340.2H255.4ZM224.8,339.9H232.8V347.8H224.8ZM217.1,347.5H225.1V355.4H217.1ZM201.8,355.1H209.8V363.1H201.8ZM224.8,362.8H232.8V370.7H224.8ZM247.8,370.4H255.7V378.3H247.8ZM224.8,378.0H232.8V385.9H224.8ZM247.8,378.0H263.4V385.9H247.8ZM217.1,393.2H225.1V401.1H217.1ZM255.4,393.2H271.0V401.1H255.4ZM232.5,400.8H240.4V408.7H232.5ZM247.8,400.8H255.7V408.7H247.8ZM155.9,408.4H163.9V416.3H155.9ZM232.5,408.4H240.4V416.3H232.5ZM247.8,416.0H255.7V423.9H247.8Z"/><path fill="#0050ff" d="M178.9,116.4H186.8V124.4H178.9ZM247.8,116.4H255.7V124.4H247.8ZM171.2,124.1H179.2V132.2H171.2ZM186.5,163.0H194.5V171.0H186.5ZM178.9,178.5H186.8V186.5H178.9ZM178.9,193.9H186.8V202.0H178.9ZM163.6,271.0H171.5V279.0H163.6ZM163.6,278.7H171.5V286.6H163.6ZM263.1,286.3H271.0V294.3H263.1ZM263.1,309.3H278.7V317.3H263.1ZM232.5,317.0H255.7V324.9H232.5ZM224.8,324.6H232.8V332.5H224.8ZM209.5,332.2H217.4V340.2H209.5ZM232.5,332.2H240.4V340.2H232.5ZM247.8,332.2H255.7V340.2H247.8ZM209.5,339.9H217.4V347.8H209.5ZM209.5,355.1H225.1V363.1H209.5ZM201.8,362.8H209.8V370.7H201.8ZM217.1,362.8H225.1V370.7H217.1ZM240.1,370.4H248.1V378.3H240.1ZM155.9,378.0H163.9V385.9H155.9ZM209.5,378.0H217.4V385.9H209.5ZM232.5,378.0H240.4V385.9H232.5ZM201.8,385.6H209.8V393.5H201.8ZM240.1,385.6H248.1V393.5H240.1ZM155.9,393.2H163.9V401.1H155.9ZM201.8,393.2H209.8V401.1H201.8ZM232.5,393.2H248.1V401.1H232.5ZM209.5,400.8H217.4V408.7H209.5ZM224.8,400.8H232.8V408.7H224.8ZM255.4,400.8H263.4V408.7H255.4ZM224.8,408.4H232.8V416.3H224.8ZM240.1,408.4H271.0V416.3H240.1ZM163.6,416.0H171.5V423.9H163.6ZM217.1,416.0H225.1V423.9H217.1Z"/><path fill="#0020ff" d="M186.5,116.4H232.8V124.4H186.5ZM240.1,116.4H248.1V124.4H240.1ZM263.1,124.1H271.0V132.2H263.1ZM186.5,131.9H194.5V140.0H186.5ZM263.1,131.9H271.0V140.0H263.1ZM270.7,139.7H278.7V147.8H270.7ZM178.9,147.5H186.8V155.5H178.9ZM255.4,147.5H271.0V155.5H255.4ZM263.1,170.7H271.0V178.8H263.1ZM263.1,178.5H271.0V186.5H263.1ZM255.4,186.2H271.0V194.2H255.4ZM263.1,193.9H271.0V202.0H263.1ZM194.2,217.1H202.1V225.1H194.2ZM247.8,217.1H255.7V225.1H247.8ZM201.8,232.5H209.8V240.5H201.8ZM209.5,240.2H217.4V248.2H209.5ZM171.2,263.3H179.2V271.3H171.2ZM217.1,263.3H225.1V271.3H217.1ZM240.1,286.3H255.7V294.3H240.1ZM163.6,294.0H171.5V302.0H163.6ZM240.1,294.0H255.7V302.0H240.1ZM163.6,301.7H171.5V309.6H163.6ZM255.4,301.7H263.4V309.6H255.4ZM224.8,309.3H240.4V317.3H224.8ZM178.9,317.0H186.8V324.9H178.9ZM201.8,317.0H209.8V324.9H201.8ZM194.2,370.4H202.1V378.3H194.2ZM186.5,378.0H194.5V385.9H186.5ZM178.9,385.6H194.5V393.5H178.9ZM186.5,400.8H194.5V408.7H186.5ZM217.1,408.4H225.1V416.3H217.1ZM201.8,416.0H209.8V423.9H201.8Z"/><path fill="#0030ff" d="M232.5,116.4H240.4V124.4H232.5ZM178.9,124.1H186.8V132.2H178.9ZM217.1,124.1H225.1V132.2H217.1ZM178.9,131.9H186.8V140.0H178.9ZM270.7,155.2H278.7V163.3H270.7ZM278.4,163.0H286.3V171.0H278.4ZM255.4,201.7H263.4V209.7H255.4ZM255.4,209.4H263.4V217.4H255.4ZM194.2,240.2H202.1V248.2H194.2ZM209.5,247.9H217.4V255.9H209.5ZM217.1,255.6H225.1V263.6H217.1ZM224.8,271.0H232.8V279.0H224.8ZM240.1,278.7H248.1V286.6H240.1ZM255.4,286.3H263.4V294.3H255.4ZM255.4,294.0H263.4V302.0H255.4ZM263.1,301.7H271.0V309.6H263.1ZM255.4,309.3H263.4V317.3H255.4ZM217.1,324.6H225.1V332.5H217.1ZM217.1,332.2H225.1V340.2H217.1ZM201.8,370.4H225.1V378.3H201.8ZM194.2,378.0H209.8V385.9H194.2ZM171.2,385.6H179.2V393.5H171.2ZM163.6,393.2H194.5V401.1H163.6ZM171.2,400.8H186.8V408.7H171.2ZM194.2,400.8H202.1V408.7H194.2ZM217.1,400.8H225.1V408.7H217.1ZM163.6,408.4H171.5V416.3H163.6ZM186.5,408.4H202.1V416.3H186.5ZM209.5,408.4H217.4V416.3H209.5ZM155.9,416.0H163.9V423.9H155.9ZM194.2,416.0H202.1V423.9H194.2ZM209.5,416.0H217.4V423.9H209.5Z"/><path fill="#0010ff" d="M186.5,124.1H194.5V132.2H186.5ZM224.8,124.1H240.4V132.2H224.8ZM255.4,124.1H263.4V132.2H255.4ZM209.5,131.9H225.1V140.0H209.5ZM178.9,139.7H194.5V147.8H178.9ZM217.1,139.7H225.1V147.8H217.1ZM232.5,139.7H240.4V147.8H232.5ZM255.4,139.7H271.0V147.8H255.4ZM194.2,147.5H202.1V155.5H194.2ZM240.1,147.5H248.1V155.5H240.1ZM255.4,155.2H271.0V163.3H255.4ZM186.5,170.7H194.5V178.8H186.5ZM270.7,170.7H278.7V178.8H270.7ZM186.5,178.5H194.5V186.5H186.5ZM240.1,193.9H248.1V202.0H240.1ZM186.5,209.4H194.5V217.4H186.5ZM247.8,209.4H255.7V217.4H247.8ZM255.4,217.1H263.4V225.1H255.4ZM201.8,224.8H209.8V232.8H201.8ZM232.5,224.8H240.4V232.8H232.5ZM171.2,255.6H179.2V263.6H171.2ZM171.2,271.0H179.2V279.0H171.2ZM171.2,278.7H179.2V286.6H171.2ZM224.8,286.3H240.4V294.3H224.8ZM232.5,294.0H240.4V302.0H232.5ZM224.8,301.7H248.1V309.6H224.8ZM163.6,309.3H171.5V317.3H163.6ZM240.1,309.3H255.7V317.3H240.1ZM209.5,317.0H225.1V324.9H209.5ZM194.2,385.6H202.1V393.5H194.2Z"/><path fill="#0000ef" d="M194.2,124.1H202.1V132.2H194.2ZM209.5,124.1H217.4V132.2H209.5ZM247.8,124.1H255.7V132.2H247.8ZM194.2,131.9H209.8V140.0H194.2ZM224.8,131.9H232.8V140.0H224.8ZM194.2,139.7H209.8V147.8H194.2ZM224.8,147.5H232.8V155.5H224.8ZM194.2,155.2H202.1V163.3H194.2ZM232.5,155.2H240.4V163.3H232.5ZM201.8,163.0H209.8V171.0H201.8ZM217.1,163.0H248.1V171.0H217.1ZM194.2,170.7H209.8V178.8H194.2ZM240.1,170.7H263.4V178.8H240.1ZM232.5,178.5H255.7V186.5H232.5ZM247.8,193.9H255.7V202.0H247.8ZM194.2,201.7H202.1V209.7H194.2ZM240.1,201.7H248.1V209.7H240.1ZM194.2,209.4H202.1V217.4H194.2ZM240.1,209.4H248.1V217.4H240.1ZM217.1,217.1H225.1V225.1H217.1ZM232.5,217.1H240.4V225.1H232.5ZM209.5,224.8H225.1V232.8H209.5ZM209.5,232.5H217.4V240.5H209.5ZM186.5,247.9H202.1V255.9H186.5ZM186.5,255.6H194.5V263.6H186.5ZM209.5,255.6H217.4V263.6H209.5ZM178.9,263.3H194.5V271.3H178.9ZM209.5,263.3H217.4V271.3H209.5ZM171.2,286.3H186.8V294.3H171.2ZM217.1,286.3H225.1V294.3H217.1ZM171.2,294.0H179.2V302.0H171.2ZM186.5,294.0H194.5V302.0H186.5ZM217.1,294.0H225.1V302.0H217.1ZM178.9,301.7H186.8V309.6H178.9ZM171.2,309.3H186.8V317.3H171.2ZM194.2,309.3H217.4V317.3H194.2Z"/><path fill="#0000ff" d="M201.8,124.1H209.8V132.2H201.8ZM240.1,124.1H248.1V132.2H240.1ZM232.5,131.9H263.4V140.0H232.5ZM209.5,139.7H217.4V147.8H209.5ZM224.8,139.7H232.8V147.8H224.8ZM240.1,139.7H255.7V147.8H240.1ZM186.5,147.5H194.5V155.5H186.5ZM201.8,147.5H225.1V155.5H201.8ZM247.8,147.5H255.7V155.5H247.8ZM186.5,155.2H194.5V163.3H186.5ZM201.8,155.2H225.1V163.3H201.8ZM247.8,155.2H255.7V163.3H247.8ZM194.2,163.0H202.1V171.0H194.2ZM209.5,163.0H217.4V171.0H209.5ZM247.8,163.0H278.7V171.0H247.8ZM194.2,178.5H202.1V186.5H194.2ZM255.4,178.5H263.4V186.5H255.4ZM186.5,186.2H202.1V194.2H186.5ZM247.8,186.2H255.7V194.2H247.8ZM186.5,193.9H194.5V202.0H186.5ZM232.5,193.9H240.4V202.0H232.5ZM255.4,193.9H263.4V202.0H255.4ZM186.5,201.7H194.5V209.7H186.5ZM247.8,201.7H255.7V209.7H247.8ZM232.5,209.4H240.4V217.4H232.5ZM240.1,217.1H248.1V225.1H240.1ZM224.8,224.8H232.8V232.8H224.8ZM217.1,232.5H225.1V240.5H217.1ZM201.8,240.2H209.8V248.2H201.8ZM201.8,247.9H209.8V255.9H201.8ZM178.9,255.6H186.8V263.6H178.9ZM217.1,271.0H225.1V279.0H217.1ZM178.9,278.7H186.8V286.6H178.9ZM224.8,278.7H240.4V286.6H224.8ZM178.9,294.0H186.8V302.0H178.9ZM224.8,294.0H232.8V302.0H224.8ZM171.2,301.7H179.2V309.6H171.2ZM186.5,301.7H194.5V309.6H186.5ZM217.1,309.3H225.1V317.3H217.1Z"/><path fill="#0040ff" d="M270.7,131.9H278.7V140.0H270.7ZM270.7,147.5H278.7V155.5H270.7ZM194.2,232.5H202.1V240.5H194.2ZM178.9,247.9H186.8V255.9H178.9ZM263.1,278.7H271.0V286.6H263.1ZM263.1,294.0H271.0V302.0H263.1ZM247.8,301.7H255.7V309.6H247.8ZM171.2,317.0H179.2V324.9H171.2ZM224.8,317.0H232.8V324.9H224.8ZM232.5,324.6H255.7V332.5H232.5ZM240.1,332.2H248.1V340.2H240.1ZM217.1,339.9H225.1V347.8H217.1ZM209.5,362.8H217.4V370.7H209.5ZM163.6,378.0H186.8V385.9H163.6ZM217.1,378.0H225.1V385.9H217.1ZM240.1,378.0H248.1V385.9H240.1ZM155.9,385.6H171.5V393.5H155.9ZM224.8,385.6H240.4V393.5H224.8ZM194.2,393.2H202.1V401.1H194.2ZM224.8,393.2H232.8V401.1H224.8ZM247.8,393.2H255.7V401.1H247.8ZM155.9,400.8H171.5V408.7H155.9ZM201.8,400.8H209.8V408.7H201.8ZM240.1,400.8H248.1V408.7H240.1ZM171.2,408.4H186.8V416.3H171.2ZM201.8,408.4H209.8V416.3H201.8ZM171.2,416.0H194.5V423.9H171.2Z"/><path fill="#0000df" d="M232.5,147.5H240.4V155.5H232.5ZM224.8,155.2H232.8V163.3H224.8ZM240.1,155.2H248.1V163.3H240.1ZM217.1,170.7H240.4V178.8H217.1ZM201.8,178.5H209.8V186.5H201.8ZM224.8,178.5H232.8V186.5H224.8ZM209.5,186.2H225.1V194.2H209.5ZM240.1,186.2H248.1V194.2H240.1ZM194.2,193.9H202.1V202.0H194.2ZM224.8,193.9H232.8V202.0H224.8ZM201.8,201.7H209.8V209.7H201.8ZM224.8,201.7H240.4V209.7H224.8ZM209.5,209.4H225.1V217.4H209.5ZM201.8,217.1H217.4V225.1H201.8ZM224.8,217.1H232.8V225.1H224.8ZM194.2,255.6H209.8V263.6H194.2ZM194.2,263.3H209.8V271.3H194.2ZM178.9,271.0H194.5V279.0H178.9ZM201.8,271.0H209.8V279.0H201.8ZM186.5,278.7H209.8V286.6H186.5ZM217.1,278.7H225.1V286.6H217.1ZM194.2,286.3H217.4V294.3H194.2ZM201.8,294.0H217.4V302.0H201.8ZM201.8,301.7H209.8V309.6H201.8ZM217.1,301.7H225.1V309.6H217.1ZM186.5,309.3H194.5V317.3H186.5Z"/><path fill="#0070ff" d="M278.4,155.2H286.3V163.3H278.4ZM278.4,170.7H286.3V178.8H278.4ZM263.1,201.7H271.0V209.7H263.1ZM263.1,209.4H271.0V217.4H263.1ZM263.1,217.1H271.0V225.1H263.1ZM217.1,240.2H225.1V248.2H217.1ZM171.2,247.9H179.2V255.9H171.2ZM270.7,301.7H278.7V309.6H270.7ZM194.2,317.0H202.1V324.9H194.2ZM255.4,324.6H271.0V332.5H255.4ZM232.5,339.9H240.4V347.8H232.5ZM255.4,339.9H263.4V347.8H255.4ZM201.8,347.5H217.4V355.4H201.8ZM224.8,347.5H232.8V355.4H224.8ZM178.9,370.4H194.5V378.3H178.9ZM232.5,370.4H240.4V378.3H232.5ZM255.4,370.4H263.4V378.3H255.4ZM217.1,385.6H225.1V393.5H217.1ZM247.8,385.6H263.4V393.5H247.8ZM209.5,393.2H217.4V401.1H209.5ZM263.1,400.8H271.0V408.7H263.1ZM224.8,416.0H232.8V423.9H224.8ZM240.1,416.0H248.1V423.9H240.1ZM255.4,416.0H263.4V423.9H255.4ZM186.5,423.6H194.5V431.4H186.5ZM201.8,423.6H209.8V431.4H201.8Z"/><path fill="#0000cf" d="M209.5,170.7H217.4V178.8H209.5ZM209.5,178.5H225.1V186.5H209.5ZM201.8,186.2H209.8V194.2H201.8ZM224.8,186.2H240.4V194.2H224.8ZM217.1,201.7H225.1V209.7H217.1ZM201.8,209.4H209.8V217.4H201.8ZM224.8,209.4H232.8V217.4H224.8ZM194.2,271.0H202.1V279.0H194.2ZM209.5,271.0H217.4V279.0H209.5ZM209.5,278.7H217.4V286.6H209.5ZM186.5,286.3H194.5V294.3H186.5ZM194.2,294.0H202.1V302.0H194.2ZM194.2,301.7H202.1V309.6H194.2ZM209.5,301.7H217.4V309.6H209.5Z"/><path fill="#0000bf" d="M201.8,193.9H225.1V202.0H201.8ZM209.5,201.7H217.4V209.7H209.5Z"/><path fill="#009fff" d="M186.5,217.1H194.5V225.1H186.5ZM247.8,224.8H255.7V232.8H247.8ZM270.7,286.3H278.7V294.3H270.7ZM270.7,294.0H278.7V302.0H270.7ZM163.6,317.0H171.5V324.9H163.6ZM263.1,339.9H271.0V347.8H263.1ZM247.8,347.5H255.7V355.4H247.8ZM270.7,355.1H278.7V363.1H270.7ZM194.2,362.8H202.1V370.7H194.2ZM232.5,362.8H240.4V370.7H232.5ZM263.1,362.8H271.0V370.7H263.1Z"/><path fill="#cfff30" d="M240.1,232.5H248.1V240.5H240.1ZM263.1,263.3H271.0V271.3H263.1ZM178.9,324.6H186.8V332.5H178.9ZM286.0,362.8H294.0V370.7H286.0ZM286.0,408.4H294.0V416.3H286.0ZM278.4,423.6H286.3V431.4H278.4Z"/><path fill="#9fff60" d="M240.1,271.0H248.1V279.0H240.1ZM263.1,271.0H271.0V279.0H263.1ZM278.4,317.0H286.3V324.9H278.4Z"/><path fill="#ff8f00" d="M309.0,294.0H317.0V302.0H309.0Z"/><path fill="#efff10" d="M309.0,301.7H317.0V309.6H309.0ZM301.3,309.3H324.6V317.3H301.3Z"/><path fill="#00dfff" d="M270.7,339.9H278.7V347.8H270.7ZM278.4,362.8H286.3V370.7H278.4ZM155.9,370.4H163.9V378.3H155.9ZM270.7,370.4H278.7V378.3H270.7ZM148.2,378.0H156.2V385.9H148.2ZM278.4,400.8H286.3V408.7H278.4ZM148.2,423.6H156.2V431.4H148.2Z"/></g><path transform="translate(458.5,142.5)" d="M251.6,101.0L250.8,104.7M256.1,104.7L251.6,101.0M182.7,110.5L180.4,112.5M190.3,108.0L182.7,110.5M198.0,109.1L190.3,108.0M205.7,107.6L198.0,109.1M213.3,107.8L205.7,107.6M221.0,107.5L213.3,107.8M228.6,109.9L221.0,107.5M236.3,111.2L228.6,109.9M243.9,111.6L236.3,111.2M250.8,104.7L243.9,111.6M256.1,104.7L259.2,107.1M264.7,112.5L259.2,107.1M180.4,112.5L177.4,120.2M264.7,112.5L266.9,115.0M269.7,120.2L266.9,115.0M177.4,120.2L175.0,122.5M269.7,120.2L274.6,124.7M277.4,128.0L274.6,124.7M277.4,128.0L282.2,133.7M283.3,135.8L285.7,143.6M285.7,143.6L284.9,151.3M176.8,159.1L175.0,157.3M284.9,151.3L284.5,159.1M284.5,159.1L289.9,165.1M289.9,168.1L284.1,174.6M182.8,174.6L182.7,174.7M282.2,177.1L277.5,182.3M277.5,182.3L276.9,190.1M276.9,190.1L276.4,197.8M274.6,201.1L270.1,205.5M183.5,213.2L182.7,211.8M270.1,205.5L269.3,213.2M269.3,213.2L268.4,221.0M243.9,223.3L238.5,228.7M251.2,228.7L243.9,223.3M259.2,226.3L253.4,228.7M266.9,222.5L259.2,226.3M228.6,232.3L224.6,236.4M236.3,232.0L228.6,232.3M238.5,228.7L236.3,232.0M224.6,236.4L223.3,244.1M223.3,244.1L223.7,251.8M169.3,251.8L167.4,253.2M223.7,251.8L228.6,258.1M229.4,259.5L230.9,267.1M230.9,267.1L236.3,272.6M237.6,274.8L243.9,279.8M274.6,281.3L266.9,280.1M275.6,282.5L274.6,281.3M275.6,282.5L275.3,290.2M275.3,290.2L275.4,297.8M275.4,297.8L282.2,304.4M283.1,305.5L283.3,313.1M274.6,319.1L271.5,320.8M282.2,314.1L274.6,319.1M175.0,324.5L167.4,321.7M182.7,323.2L175.0,324.5M271.5,320.8L274.6,324.0M278.3,328.4L274.6,324.0M206.1,336.1L205.7,335.0M274.6,333.2L271.6,336.1M278.3,328.4L274.6,333.2M206.1,336.1L205.7,337.4M271.6,336.1L267.9,343.7M204.5,343.7L202.3,351.3M266.9,346.8L264.9,351.3M267.9,343.7L266.9,346.8M202.3,351.3L199.3,359.0M243.9,355.9L243.1,359.0M251.6,354.3L243.9,355.9M257.8,359.0L251.6,354.3M264.9,351.3L266.9,356.9M274.6,357.9L266.9,356.9M275.7,359.0L274.6,357.9M199.3,359.0L198.0,362.6M243.1,359.0L243.9,359.5M251.6,360.7L243.9,359.5M257.8,359.0L251.6,360.7M275.7,359.0L274.6,366.6M274.6,366.7L270.3,374.2M274.6,366.6L274.6,366.7M167.0,374.2L159.7,376.8M270.3,374.2L272.6,381.8M154.8,381.8L152.1,386.6M272.6,381.8L271.2,389.4M271.2,389.4L274.6,392.7M279.3,397.0L274.6,392.7M152.2,404.6L152.1,404.1M279.3,397.0L278.2,404.6M152.2,404.6L152.1,404.9M278.2,404.6L279.2,412.2M274.6,418.2L272.9,419.8M279.2,412.2L274.6,418.2M157.1,427.3L152.1,422.2M228.6,422.3L222.0,427.3M236.3,421.1L228.6,422.3M243.9,423.4L236.3,421.1M251.6,425.8L243.9,423.4M259.2,425.8L251.6,425.8M266.9,424.8L259.2,425.8M272.9,419.8L266.9,424.8" fill="none" stroke="#000" stroke-width="0.9" stroke-linecap="round"/><text transform="translate(724.5,254.5) rotate(52)" text-anchor="middle" font-size="14.5" y="5">1.25</text><text transform="translate(654.5,390.5) rotate(72)" text-anchor="middle" font-size="14.5" y="5">1.25</text><text transform="translate(701.5,562.5) rotate(-38)" text-anchor="middle" font-size="14.5" y="5">1.25</text><text x="743.7" y="179.6" font-size="20.5">10 km</text><path d="M765.6,185.7h12.4" stroke="#000" stroke-width="3.6" stroke-linecap="round"/><path d="M621.5,291.5L621.5,307.5M627.2,293.8L615.8,305.2M629.5,299.5L613.5,299.5M627.2,305.2L615.8,293.8" stroke="#f00" stroke-width="1.25" fill="none"/><path d="M630.0,384.5L630.0,400.5M635.7,386.8L624.3,398.2M638.0,392.5L622.0,392.5M635.7,398.2L624.3,386.8" stroke="#f00" stroke-width="1.25" fill="none"/><path d="M525.5,455.5L525.5,471.5M531.2,457.8L519.8,469.2M533.5,463.5L517.5,463.5M531.2,469.2L519.8,457.8" stroke="#f00" stroke-width="1.25" fill="none"/></g><rect x="458.5" y="142.8" width="348" height="427.2" fill="none" stroke="#1a1a1a" stroke-width="1.5"/><path d="M516.5,142.5v4M516.5,570.0v-4M574.5,142.5v4M574.5,570.0v-4M632.5,142.5v4M632.5,570.0v-4M690.5,142.5v4M690.5,570.0v-4M748.5,142.5v4M748.5,570.0v-4M458.5,214.9h4M806.5,214.9h-4M458.5,286.8h4M806.5,286.8h-4M458.5,358.2h4M806.5,358.2h-4M458.5,429.3h4M806.5,429.3h-4M458.5,499.8h4M806.5,499.8h-4" stroke="#1a1a1a" stroke-width="0.9" fill="none"/><text x="451.0" y="149.1" text-anchor="end" font-size="20.5">37°N</text><text x="451.0" y="293.4" text-anchor="end" font-size="20.5">36°N</text><text x="451.0" y="435.9" text-anchor="end" font-size="20.5">35°N</text><text x="451.0" y="576.6" text-anchor="end" font-size="20.5">34°N</text><text x="452.0" y="220.5" text-anchor="end" font-size="14.8">30'</text><text x="452.0" y="363.8" text-anchor="end" font-size="14.8">30'</text><text x="452.0" y="505.4" text-anchor="end" font-size="14.8">30'</text><text x="461.0" y="591.0" text-anchor="middle" font-size="20.5">77°W</text><text x="577.0" y="591.0" text-anchor="middle" font-size="20.5">76°W</text><text x="693.0" y="591.0" text-anchor="middle" font-size="20.5">75°W</text><text x="809.0" y="591.0" text-anchor="middle" font-size="20.5">74°W</text><text x="516.5" y="586.5" text-anchor="middle" font-size="14.8">30'</text><text x="632.5" y="586.5" text-anchor="middle" font-size="14.8">30'</text><text x="748.5" y="586.5" text-anchor="middle" font-size="14.8">30'</text><text x="632.5" y="130.3" text-anchor="middle" font-size="20.8" font-weight="bold">GDOP TotalErrors (1.25)</text><text x="462.3" y="149.2" text-anchor="middle" font-size="17.2" fill="#262626">0</text><text x="518.3" y="149.2" text-anchor="middle" font-size="17.2" fill="#262626">2</text><text x="574.3" y="149.2" text-anchor="middle" font-size="17.2" fill="#262626">4</text><rect x="462.3" y="162.8" width="112.8" height="24.6" fill="url(#jet)" stroke="#262626" stroke-width="1.1"/><path d="M462.3,162.8v2.2M518.3,162.8v2.2M574.3,162.8v2.2" stroke="#262626" stroke-width="0.8"/><g clip-path="url(#cp3)"><use href="#land" x="843.5" y="142.5"/><path d="M901.5,142.5V570.0M959.5,142.5V570.0M1017.5,142.5V570.0M1075.5,142.5V570.0M1133.5,142.5V570.0M843.5,214.9H1191.5M843.5,286.8H1191.5M843.5,358.2H1191.5M843.5,429.3H1191.5M843.5,499.8H1191.5" stroke="#6e6e6e" stroke-width="0.8" stroke-dasharray="2,6.3" fill="none" opacity="0.8"/><g transform="translate(843.5,142.5)" shape-rendering="crispEdges"><path fill="#00008f" d="M126.0,-1.0H172.3V7.1H126.0ZM217.9,-1.0H225.8V7.1H217.9ZM240.9,-1.0H348.3V7.1H240.9ZM256.2,6.8H264.1V15.0H256.2ZM271.5,6.8H348.3V15.0H271.5ZM294.4,14.7H348.3V22.9H294.4ZM294.4,22.6H348.3V30.7H294.4ZM302.1,30.4H348.3V38.5H302.1ZM317.4,38.2H340.7V46.4H317.4ZM317.4,46.1H333.0V54.2H317.4ZM340.4,46.1H348.3V54.2H340.4ZM317.4,61.7H325.4V69.9H317.4Z"/><path fill="#0000ba" d="M172.0,-1.0H179.9V7.1H172.0ZM187.3,-1.0H210.5V7.1H187.3ZM133.7,6.8H141.6V15.0H133.7ZM149.0,6.8H164.6V15.0H149.0ZM233.2,6.8H241.2V15.0H233.2ZM248.5,14.7H256.5V22.9H248.5ZM263.8,14.7H271.8V22.9H263.8ZM279.1,14.7H287.1V22.9H279.1ZM271.5,22.6H279.4V30.7H271.5ZM286.8,22.6H294.7V30.7H286.8ZM279.1,30.4H287.1V38.5H279.1ZM141.3,38.2H149.3V46.4H141.3ZM256.2,38.2H264.1V46.4H256.2ZM279.1,46.1H302.4V54.2H279.1ZM149.0,53.9H157.0V62.0H149.0ZM309.8,53.9H333.0V62.0H309.8ZM286.8,61.7H294.7V69.9H286.8ZM340.4,61.7H348.3V69.9H340.4ZM294.4,69.6H310.1V77.7H294.4ZM317.4,69.6H340.7V77.7H317.4ZM294.4,77.4H302.4V85.5H294.4ZM340.4,77.4H348.3V85.5H340.4ZM317.4,85.2H325.4V93.3H317.4ZM340.4,93.0H348.3V101.1H340.4ZM18.9,332.2H26.8V340.2H18.9ZM11.2,339.9H26.8V347.8H11.2ZM11.2,347.5H19.2V355.4H11.2ZM26.5,347.5H34.5V355.4H26.5Z"/><path fill="#0000a5" d="M179.6,-1.0H187.6V7.1H179.6ZM210.2,-1.0H218.2V7.1H210.2ZM225.5,-1.0H241.2V7.1H225.5ZM141.3,6.8H149.3V15.0H141.3ZM263.8,6.8H271.8V15.0H263.8ZM271.5,14.7H279.4V22.9H271.5ZM286.8,14.7H294.7V22.9H286.8ZM279.1,22.6H287.1V30.7H279.1ZM294.4,30.4H302.4V38.5H294.4ZM279.1,38.2H317.7V46.4H279.1ZM340.4,38.2H348.3V46.4H340.4ZM141.3,46.1H149.3V54.2H141.3ZM302.1,46.1H317.7V54.2H302.1ZM332.7,46.1H340.7V54.2H332.7ZM302.1,53.9H310.1V62.0H302.1ZM332.7,53.9H348.3V62.0H332.7ZM302.1,61.7H317.7V69.9H302.1ZM332.7,61.7H340.7V69.9H332.7ZM340.4,69.6H348.3V77.7H340.4ZM3.5,278.7H11.5V286.6H3.5Z"/><path fill="#0000e4" d="M126.0,6.8H134.0V15.0H126.0ZM172.0,6.8H179.9V15.0H172.0ZM187.3,6.8H202.9V15.0H187.3ZM217.9,6.8H225.8V15.0H217.9ZM133.7,14.7H141.6V22.9H133.7ZM149.0,14.7H164.6V22.9H149.0ZM256.2,14.7H264.1V22.9H256.2ZM164.3,22.6H172.3V30.7H164.3ZM256.2,22.6H271.8V30.7H256.2ZM133.7,30.4H149.3V38.5H133.7ZM156.7,30.4H164.6V38.5H156.7ZM271.5,38.2H279.4V46.4H271.5ZM149.0,46.1H157.0V54.2H149.0ZM271.5,46.1H279.4V54.2H271.5ZM248.5,53.9H256.5V62.0H248.5ZM263.8,53.9H271.8V62.0H263.8ZM141.3,61.7H157.0V69.9H141.3ZM141.3,69.6H157.0V77.7H141.3ZM279.1,69.6H287.1V77.7H279.1ZM141.3,77.4H149.3V85.5H141.3ZM286.8,77.4H294.7V85.5H286.8ZM302.1,77.4H317.7V85.5H302.1ZM279.1,85.2H294.7V93.3H279.1ZM309.8,85.2H317.7V93.3H309.8ZM325.1,85.2H340.7V93.3H325.1ZM286.8,93.0H294.7V101.1H286.8ZM332.7,93.0H340.7V101.1H332.7ZM302.1,100.8H310.1V108.9H302.1ZM332.7,100.8H348.3V108.9H332.7ZM325.1,108.6H340.7V116.7H325.1ZM340.4,116.4H348.3V124.4H340.4ZM294.4,124.1H302.4V132.2H294.4ZM317.4,124.1H325.4V132.2H317.4ZM340.4,131.9H348.3V140.0H340.4ZM332.7,139.7H348.3V147.8H332.7ZM340.4,155.2H348.3V163.3H340.4ZM309.8,163.0H317.7V171.0H309.8ZM332.7,163.0H340.7V171.0H332.7ZM332.7,170.7H348.3V178.8H332.7ZM309.8,178.5H317.7V186.5H309.8ZM332.7,178.5H348.3V186.5H332.7ZM332.7,201.7H340.7V209.7H332.7ZM317.4,209.4H333.0V217.4H317.4ZM340.4,224.8H348.3V232.8H340.4ZM340.4,232.5H348.3V240.5H340.4ZM325.1,240.2H333.0V248.2H325.1ZM317.4,247.9H325.4V255.9H317.4ZM340.4,255.6H348.3V263.6H340.4ZM317.4,263.3H333.0V271.3H317.4ZM340.4,271.0H348.3V279.0H340.4ZM302.1,278.7H310.1V286.6H302.1ZM302.1,286.3H310.1V294.3H302.1ZM340.4,294.0H348.3V302.0H340.4ZM286.8,301.7H294.7V309.6H286.8ZM317.4,301.7H325.4V309.6H317.4ZM317.4,309.3H325.4V317.3H317.4ZM332.7,309.3H348.3V317.3H332.7ZM302.1,317.0H310.1V324.9H302.1ZM340.4,317.0H348.3V324.9H340.4ZM3.5,324.6H11.5V332.5H3.5ZM210.2,324.6H218.2V332.5H210.2ZM309.8,324.6H317.7V332.5H309.8ZM325.1,324.6H333.0V332.5H325.1ZM26.5,332.2H34.5V340.2H26.5ZM256.2,332.2H264.1V340.2H256.2ZM286.8,332.2H302.4V340.2H286.8ZM26.5,339.9H49.8V347.8H26.5ZM217.9,339.9H225.8V347.8H217.9ZM332.7,339.9H340.7V347.8H332.7ZM3.5,347.5H11.5V355.4H3.5ZM49.5,347.5H57.4V355.4H49.5ZM302.1,347.5H310.1V355.4H302.1ZM325.1,347.5H333.0V355.4H325.1ZM3.5,355.1H26.8V363.1H3.5ZM317.4,362.8H325.4V370.7H317.4ZM332.7,362.8H348.3V370.7H332.7ZM302.1,370.4H310.1V378.3H302.1ZM317.4,378.0H325.4V385.9H317.4ZM317.4,385.6H325.4V393.5H317.4ZM294.4,393.2H302.4V401.1H294.4ZM317.4,393.2H325.4V401.1H317.4ZM340.4,393.2H348.3V401.1H340.4ZM317.4,400.8H333.0V408.7H317.4ZM294.4,408.4H302.4V416.3H294.4ZM302.1,416.0H317.7V423.9H302.1ZM325.1,416.0H333.0V423.9H325.1ZM340.4,423.6H348.3V431.4H340.4Z"/><path fill="#0000cf" d="M164.3,6.8H172.3V15.0H164.3ZM179.6,6.8H187.6V15.0H179.6ZM210.2,6.8H218.2V15.0H210.2ZM225.5,6.8H233.5V15.0H225.5ZM240.9,6.8H256.5V15.0H240.9ZM141.3,14.7H149.3V22.9H141.3ZM240.9,14.7H248.8V22.9H240.9ZM133.7,22.6H141.6V30.7H133.7ZM263.8,30.4H279.4V38.5H263.8ZM286.8,30.4H294.7V38.5H286.8ZM149.0,38.2H157.0V46.4H149.0ZM263.8,38.2H271.8V46.4H263.8ZM156.7,46.1H164.6V54.2H156.7ZM263.8,46.1H271.8V54.2H263.8ZM141.3,53.9H149.3V62.0H141.3ZM271.5,53.9H302.4V62.0H271.5ZM294.4,61.7H302.4V69.9H294.4ZM325.1,61.7H333.0V69.9H325.1ZM286.8,69.6H294.7V77.7H286.8ZM309.8,69.6H317.7V77.7H309.8ZM149.0,77.4H157.0V85.5H149.0ZM317.4,77.4H333.0V85.5H317.4ZM325.1,93.0H333.0V101.1H325.1ZM340.4,124.1H348.3V132.2H340.4ZM340.4,163.0H348.3V171.0H340.4ZM332.7,232.5H340.7V240.5H332.7ZM325.1,255.6H333.0V263.6H325.1ZM340.4,278.7H348.3V286.6H340.4ZM332.7,294.0H340.7V302.0H332.7ZM325.1,309.3H333.0V317.3H325.1ZM3.5,332.2H19.2V340.2H3.5ZM34.2,332.2H49.8V340.2H34.2ZM3.5,339.9H11.5V347.8H3.5ZM18.9,347.5H26.8V355.4H18.9Z"/><path fill="#0000fa" d="M202.6,6.8H210.5V15.0H202.6ZM164.3,14.7H179.9V22.9H164.3ZM210.2,14.7H218.2V22.9H210.2ZM141.3,22.6H164.6V30.7H141.3ZM248.5,22.6H256.5V30.7H248.5ZM149.0,30.4H157.0V38.5H149.0ZM240.9,30.4H264.1V38.5H240.9ZM156.7,38.2H164.6V46.4H156.7ZM240.9,38.2H256.5V46.4H240.9ZM133.7,46.1H141.6V54.2H133.7ZM248.5,46.1H256.5V54.2H248.5ZM156.7,61.7H164.6V69.9H156.7ZM256.2,61.7H287.1V69.9H256.2ZM156.7,69.6H164.6V77.7H156.7ZM263.8,69.6H279.4V77.7H263.8ZM164.3,77.4H172.3V85.5H164.3ZM279.1,77.4H287.1V85.5H279.1ZM332.7,77.4H340.7V85.5H332.7ZM141.3,85.2H149.3V93.3H141.3ZM156.7,85.2H164.6V93.3H156.7ZM271.5,85.2H279.4V93.3H271.5ZM302.1,85.2H310.1V93.3H302.1ZM340.4,85.2H348.3V93.3H340.4ZM279.1,93.0H287.1V101.1H279.1ZM302.1,93.0H310.1V101.1H302.1ZM317.4,93.0H325.4V101.1H317.4ZM149.0,100.8H157.0V108.9H149.0ZM294.4,100.8H302.4V108.9H294.4ZM309.8,100.8H333.0V108.9H309.8ZM340.4,108.6H348.3V116.7H340.4ZM302.1,116.4H310.1V124.4H302.1ZM317.4,116.4H340.7V124.4H317.4ZM325.1,124.1H340.7V132.2H325.1ZM294.4,131.9H340.7V140.0H294.4ZM309.8,139.7H317.7V147.8H309.8ZM325.1,139.7H333.0V147.8H325.1ZM340.4,147.5H348.3V155.5H340.4ZM317.4,155.2H333.0V163.3H317.4ZM317.4,170.7H333.0V178.8H317.4ZM317.4,178.5H333.0V186.5H317.4ZM317.4,186.2H325.4V194.2H317.4ZM332.7,186.2H348.3V194.2H332.7ZM302.1,193.9H325.4V202.0H302.1ZM332.7,193.9H348.3V202.0H332.7ZM317.4,201.7H325.4V209.7H317.4ZM340.4,201.7H348.3V209.7H340.4ZM302.1,209.4H310.1V217.4H302.1ZM332.7,209.4H348.3V217.4H332.7ZM317.4,217.1H325.4V225.1H317.4ZM332.7,217.1H340.7V225.1H332.7ZM317.4,224.8H340.7V232.8H317.4ZM317.4,232.5H333.0V240.5H317.4ZM302.1,240.2H317.7V248.2H302.1ZM332.7,240.2H348.3V248.2H332.7ZM294.4,247.9H302.4V255.9H294.4ZM325.1,247.9H348.3V255.9H325.1ZM309.8,255.6H325.4V263.6H309.8ZM279.1,263.3H287.1V271.3H279.1ZM309.8,263.3H317.7V271.3H309.8ZM332.7,263.3H348.3V271.3H332.7ZM294.4,271.0H302.4V279.0H294.4ZM309.8,271.0H317.7V279.0H309.8ZM325.1,271.0H333.0V279.0H325.1ZM248.5,278.7H256.5V286.6H248.5ZM309.8,278.7H317.7V286.6H309.8ZM332.7,278.7H340.7V286.6H332.7ZM294.4,286.3H302.4V294.3H294.4ZM317.4,286.3H348.3V294.3H317.4ZM225.5,294.0H233.5V302.0H225.5ZM294.4,294.0H333.0V302.0H294.4ZM217.9,301.7H225.8V309.6H217.9ZM325.1,301.7H348.3V309.6H325.1ZM217.9,309.3H225.8V317.3H217.9ZM233.2,309.3H241.2V317.3H233.2ZM256.2,309.3H264.1V317.3H256.2ZM294.4,309.3H302.4V317.3H294.4ZM309.8,309.3H317.7V317.3H309.8ZM217.9,317.0H248.8V324.9H217.9ZM309.8,317.0H325.4V324.9H309.8ZM332.7,317.0H340.7V324.9H332.7ZM217.9,324.6H225.8V332.5H217.9ZM233.2,324.6H241.2V332.5H233.2ZM279.1,324.6H287.1V332.5H279.1ZM302.1,324.6H310.1V332.5H302.1ZM317.4,324.6H325.4V332.5H317.4ZM332.7,324.6H348.3V332.5H332.7ZM49.5,332.2H57.4V340.2H49.5ZM179.6,332.2H187.6V340.2H179.6ZM194.9,332.2H202.9V340.2H194.9ZM210.2,332.2H218.2V340.2H210.2ZM233.2,332.2H256.5V340.2H233.2ZM263.8,332.2H271.8V340.2H263.8ZM279.1,332.2H287.1V340.2H279.1ZM309.8,332.2H333.0V340.2H309.8ZM225.5,339.9H241.2V347.8H225.5ZM279.1,339.9H294.7V347.8H279.1ZM309.8,339.9H325.4V347.8H309.8ZM340.4,339.9H348.3V347.8H340.4ZM34.2,347.5H49.8V355.4H34.2ZM149.0,347.5H157.0V355.4H149.0ZM172.0,347.5H179.9V355.4H172.0ZM202.6,347.5H210.5V355.4H202.6ZM256.2,347.5H264.1V355.4H256.2ZM294.4,347.5H302.4V355.4H294.4ZM309.8,347.5H325.4V355.4H309.8ZM332.7,347.5H348.3V355.4H332.7ZM26.5,355.1H34.5V363.1H26.5ZM187.3,355.1H195.2V363.1H187.3ZM248.5,355.1H256.5V363.1H248.5ZM286.8,355.1H294.7V363.1H286.8ZM302.1,355.1H310.1V363.1H302.1ZM325.1,355.1H333.0V363.1H325.1ZM187.3,362.8H195.2V370.7H187.3ZM225.5,362.8H233.5V370.7H225.5ZM240.9,362.8H248.8V370.7H240.9ZM271.5,362.8H279.4V370.7H271.5ZM325.1,362.8H333.0V370.7H325.1ZM194.9,370.4H202.9V378.3H194.9ZM317.4,370.4H340.7V378.3H317.4ZM279.1,378.0H287.1V385.9H279.1ZM294.4,378.0H310.1V385.9H294.4ZM332.7,378.0H340.7V385.9H332.7ZM286.8,385.6H294.7V393.5H286.8ZM302.1,385.6H317.7V393.5H302.1ZM325.1,385.6H333.0V393.5H325.1ZM340.4,385.6H348.3V393.5H340.4ZM302.1,393.2H317.7V401.1H302.1ZM325.1,393.2H340.7V401.1H325.1ZM302.1,400.8H310.1V408.7H302.1ZM340.4,400.8H348.3V408.7H340.4ZM279.1,408.4H294.7V416.3H279.1ZM309.8,408.4H317.7V416.3H309.8ZM325.1,408.4H340.7V416.3H325.1ZM271.5,416.0H279.4V423.9H271.5ZM286.8,416.0H294.7V423.9H286.8ZM317.4,416.0H325.4V423.9H317.4ZM332.7,416.0H348.3V423.9H332.7ZM26.5,423.6H34.5V431.4H26.5ZM57.1,423.6H65.1V431.4H57.1ZM103.1,423.6H111.0V431.4H103.1ZM126.0,423.6H134.0V431.4H126.0ZM263.8,423.6H279.4V431.4H263.8ZM286.8,423.6H302.4V431.4H286.8ZM309.8,423.6H317.7V431.4H309.8ZM325.1,423.6H333.0V431.4H325.1Z"/><path fill="#0010ff" d="M179.6,14.7H187.6V22.9H179.6ZM202.6,14.7H210.5V22.9H202.6ZM217.9,14.7H225.8V22.9H217.9ZM233.2,14.7H241.2V22.9H233.2ZM172.0,22.6H179.9V30.7H172.0ZM233.2,22.6H248.8V30.7H233.2ZM172.0,30.4H179.9V38.5H172.0ZM225.5,30.4H241.2V38.5H225.5ZM133.7,38.2H141.6V46.4H133.7ZM164.3,38.2H172.3V46.4H164.3ZM225.5,38.2H241.2V46.4H225.5ZM164.3,46.1H179.9V54.2H164.3ZM240.9,46.1H248.8V54.2H240.9ZM156.7,53.9H172.3V62.0H156.7ZM240.9,53.9H248.8V62.0H240.9ZM256.2,53.9H264.1V62.0H256.2ZM240.9,61.7H248.8V69.9H240.9ZM233.2,69.6H248.8V77.7H233.2ZM256.2,69.6H264.1V77.7H256.2ZM156.7,77.4H164.6V85.5H156.7ZM256.2,77.4H279.4V85.5H256.2ZM248.5,85.2H264.1V93.3H248.5ZM294.4,85.2H302.4V93.3H294.4ZM149.0,93.0H164.6V101.1H149.0ZM256.2,93.0H264.1V101.1H256.2ZM294.4,93.0H302.4V101.1H294.4ZM309.8,93.0H317.7V101.1H309.8ZM271.5,100.8H294.7V108.9H271.5ZM286.8,108.6H325.4V116.7H286.8ZM294.4,116.4H302.4V124.4H294.4ZM309.8,116.4H317.7V124.4H309.8ZM279.1,124.1H294.7V132.2H279.1ZM302.1,124.1H317.7V132.2H302.1ZM294.4,139.7H310.1V147.8H294.4ZM317.4,139.7H325.4V147.8H317.4ZM309.8,147.5H340.7V155.5H309.8ZM309.8,155.2H317.7V163.3H309.8ZM332.7,155.2H340.7V163.3H332.7ZM294.4,163.0H310.1V171.0H294.4ZM325.1,163.0H333.0V171.0H325.1ZM294.4,170.7H302.4V178.8H294.4ZM309.8,170.7H317.7V178.8H309.8ZM302.1,186.2H317.7V194.2H302.1ZM325.1,186.2H333.0V194.2H325.1ZM294.4,193.9H302.4V202.0H294.4ZM325.1,193.9H333.0V202.0H325.1ZM294.4,201.7H302.4V209.7H294.4ZM325.1,201.7H333.0V209.7H325.1ZM294.4,209.4H302.4V217.4H294.4ZM309.8,209.4H317.7V217.4H309.8ZM271.5,217.1H279.4V225.1H271.5ZM294.4,217.1H302.4V225.1H294.4ZM309.8,217.1H317.7V225.1H309.8ZM325.1,217.1H333.0V225.1H325.1ZM340.4,217.1H348.3V225.1H340.4ZM286.8,224.8H317.7V232.8H286.8ZM263.8,232.5H271.8V240.5H263.8ZM286.8,232.5H317.7V240.5H286.8ZM279.1,240.2H287.1V248.2H279.1ZM317.4,240.2H325.4V248.2H317.4ZM286.8,247.9H294.7V255.9H286.8ZM248.5,255.6H256.5V263.6H248.5ZM271.5,255.6H294.7V263.6H271.5ZM332.7,255.6H340.7V263.6H332.7ZM263.8,263.3H271.8V271.3H263.8ZM286.8,263.3H294.7V271.3H286.8ZM302.1,263.3H310.1V271.3H302.1ZM225.5,271.0H233.5V279.0H225.5ZM248.5,271.0H256.5V279.0H248.5ZM263.8,271.0H279.4V279.0H263.8ZM302.1,271.0H310.1V279.0H302.1ZM332.7,271.0H340.7V279.0H332.7ZM240.9,278.7H248.8V286.6H240.9ZM271.5,278.7H279.4V286.6H271.5ZM286.8,278.7H302.4V286.6H286.8ZM317.4,278.7H333.0V286.6H317.4ZM217.9,286.3H225.8V294.3H217.9ZM240.9,286.3H248.8V294.3H240.9ZM263.8,286.3H294.7V294.3H263.8ZM309.8,286.3H317.7V294.3H309.8ZM233.2,294.0H241.2V302.0H233.2ZM248.5,294.0H264.1V302.0H248.5ZM286.8,294.0H294.7V302.0H286.8ZM240.9,301.7H256.5V309.6H240.9ZM263.8,301.7H287.1V309.6H263.8ZM294.4,301.7H317.7V309.6H294.4ZM210.2,309.3H218.2V317.3H210.2ZM225.5,309.3H233.5V317.3H225.5ZM248.5,309.3H256.5V317.3H248.5ZM271.5,309.3H294.7V317.3H271.5ZM302.1,309.3H310.1V317.3H302.1ZM202.6,317.0H210.5V324.9H202.6ZM263.8,317.0H279.4V324.9H263.8ZM286.8,317.0H294.7V324.9H286.8ZM325.1,317.0H333.0V324.9H325.1ZM187.3,324.6H202.9V332.5H187.3ZM225.5,324.6H233.5V332.5H225.5ZM240.9,324.6H248.8V332.5H240.9ZM271.5,324.6H279.4V332.5H271.5ZM294.4,324.6H302.4V332.5H294.4ZM187.3,332.2H195.2V340.2H187.3ZM202.6,332.2H210.5V340.2H202.6ZM217.9,332.2H225.8V340.2H217.9ZM271.5,332.2H279.4V340.2H271.5ZM302.1,332.2H310.1V340.2H302.1ZM332.7,332.2H348.3V340.2H332.7ZM49.5,339.9H57.4V347.8H49.5ZM141.3,339.9H149.3V347.8H141.3ZM172.0,339.9H179.9V347.8H172.0ZM187.3,339.9H218.2V347.8H187.3ZM240.9,339.9H279.4V347.8H240.9ZM294.4,339.9H310.1V347.8H294.4ZM325.1,339.9H333.0V347.8H325.1ZM179.6,347.5H195.2V355.4H179.6ZM217.9,347.5H225.8V355.4H217.9ZM233.2,347.5H241.2V355.4H233.2ZM248.5,347.5H256.5V355.4H248.5ZM286.8,347.5H294.7V355.4H286.8ZM34.2,355.1H42.1V363.1H34.2ZM49.5,355.1H65.1V363.1H49.5ZM87.8,355.1H95.7V363.1H87.8ZM110.7,355.1H118.7V363.1H110.7ZM149.0,355.1H164.6V363.1H149.0ZM210.2,355.1H233.5V363.1H210.2ZM240.9,355.1H248.8V363.1H240.9ZM271.5,355.1H279.4V363.1H271.5ZM294.4,355.1H302.4V363.1H294.4ZM309.8,355.1H325.4V363.1H309.8ZM332.7,355.1H348.3V363.1H332.7ZM3.5,362.8H19.2V370.7H3.5ZM26.5,362.8H34.5V370.7H26.5ZM41.8,362.8H49.8V370.7H41.8ZM156.7,362.8H164.6V370.7H156.7ZM179.6,362.8H187.6V370.7H179.6ZM194.9,362.8H210.5V370.7H194.9ZM217.9,362.8H225.8V370.7H217.9ZM256.2,362.8H271.8V370.7H256.2ZM279.1,362.8H287.1V370.7H279.1ZM294.4,362.8H317.7V370.7H294.4ZM34.2,370.4H42.1V378.3H34.2ZM149.0,370.4H157.0V378.3H149.0ZM164.3,370.4H172.3V378.3H164.3ZM187.3,370.4H195.2V378.3H187.3ZM225.5,370.4H233.5V378.3H225.5ZM256.2,370.4H264.1V378.3H256.2ZM271.5,370.4H279.4V378.3H271.5ZM294.4,370.4H302.4V378.3H294.4ZM309.8,370.4H317.7V378.3H309.8ZM340.4,370.4H348.3V378.3H340.4ZM133.7,378.0H141.6V385.9H133.7ZM263.8,378.0H271.8V385.9H263.8ZM286.8,378.0H294.7V385.9H286.8ZM325.1,378.0H333.0V385.9H325.1ZM340.4,378.0H348.3V385.9H340.4ZM187.3,385.6H195.2V393.5H187.3ZM271.5,385.6H287.1V393.5H271.5ZM294.4,385.6H302.4V393.5H294.4ZM332.7,385.6H340.7V393.5H332.7ZM271.5,393.2H294.7V401.1H271.5ZM133.7,400.8H141.6V408.7H133.7ZM263.8,400.8H302.4V408.7H263.8ZM309.8,400.8H317.7V408.7H309.8ZM332.7,400.8H340.7V408.7H332.7ZM26.5,408.4H34.5V416.3H26.5ZM64.8,408.4H72.7V416.3H64.8ZM256.2,408.4H264.1V416.3H256.2ZM271.5,408.4H279.4V416.3H271.5ZM302.1,408.4H310.1V416.3H302.1ZM340.4,408.4H348.3V416.3H340.4ZM87.8,416.0H95.7V423.9H87.8ZM118.4,416.0H126.3V423.9H118.4ZM133.7,416.0H157.0V423.9H133.7ZM217.9,416.0H225.8V423.9H217.9ZM256.2,416.0H271.8V423.9H256.2ZM294.4,416.0H302.4V423.9H294.4ZM3.5,423.6H11.5V431.4H3.5ZM64.8,423.6H72.7V431.4H64.8ZM87.8,423.6H103.4V431.4H87.8ZM133.7,423.6H141.6V431.4H133.7ZM172.0,423.6H195.2V431.4H172.0ZM225.5,423.6H233.5V431.4H225.5ZM256.2,423.6H264.1V431.4H256.2ZM302.1,423.6H310.1V431.4H302.1ZM317.4,423.6H325.4V431.4H317.4ZM332.7,423.6H340.7V431.4H332.7Z"/><path fill="#0025ff" d="M187.3,14.7H195.2V22.9H187.3ZM225.5,14.7H233.5V22.9H225.5ZM187.3,22.6H195.2V30.7H187.3ZM210.2,22.6H218.2V30.7H210.2ZM225.5,22.6H233.5V30.7H225.5ZM164.3,30.4H172.3V38.5H164.3ZM179.6,30.4H187.6V38.5H179.6ZM217.9,30.4H225.8V38.5H217.9ZM172.0,38.2H179.9V46.4H172.0ZM225.5,46.1H241.2V54.2H225.5ZM256.2,46.1H264.1V54.2H256.2ZM217.9,53.9H225.8V62.0H217.9ZM233.2,53.9H241.2V62.0H233.2ZM164.3,61.7H179.9V69.9H164.3ZM225.5,61.7H241.2V69.9H225.5ZM248.5,61.7H256.5V69.9H248.5ZM164.3,69.6H172.3V77.7H164.3ZM248.5,69.6H256.5V77.7H248.5ZM233.2,77.4H256.5V85.5H233.2ZM149.0,85.2H157.0V93.3H149.0ZM240.9,85.2H248.8V93.3H240.9ZM263.8,85.2H271.8V93.3H263.8ZM248.5,93.0H256.5V101.1H248.5ZM271.5,93.0H279.4V101.1H271.5ZM156.7,100.8H164.6V108.9H156.7ZM240.9,100.8H271.8V108.9H240.9ZM156.7,108.6H164.6V116.7H156.7ZM263.8,108.6H271.8V116.7H263.8ZM279.1,108.6H287.1V116.7H279.1ZM263.8,116.4H294.7V124.4H263.8ZM279.1,131.9H294.7V140.0H279.1ZM286.8,139.7H294.7V147.8H286.8ZM271.5,147.5H302.4V155.5H271.5ZM286.8,155.2H294.7V163.3H286.8ZM302.1,155.2H310.1V163.3H302.1ZM317.4,163.0H325.4V171.0H317.4ZM302.1,170.7H310.1V178.8H302.1ZM294.4,178.5H310.1V186.5H294.4ZM286.8,193.9H294.7V202.0H286.8ZM286.8,201.7H294.7V209.7H286.8ZM302.1,201.7H317.7V209.7H302.1ZM279.1,209.4H294.7V217.4H279.1ZM286.8,217.1H294.7V225.1H286.8ZM279.1,224.8H287.1V232.8H279.1ZM279.1,232.5H287.1V240.5H279.1ZM256.2,240.2H279.4V248.2H256.2ZM286.8,240.2H294.7V248.2H286.8ZM240.9,247.9H248.8V255.9H240.9ZM263.8,247.9H287.1V255.9H263.8ZM302.1,247.9H317.7V255.9H302.1ZM240.9,255.6H248.8V263.6H240.9ZM256.2,255.6H271.8V263.6H256.2ZM294.4,255.6H310.1V263.6H294.4ZM156.7,263.3H164.6V271.3H156.7ZM233.2,263.3H241.2V271.3H233.2ZM248.5,263.3H264.1V271.3H248.5ZM271.5,263.3H279.4V271.3H271.5ZM294.4,263.3H302.4V271.3H294.4ZM233.2,271.0H248.8V279.0H233.2ZM256.2,271.0H264.1V279.0H256.2ZM279.1,271.0H294.7V279.0H279.1ZM317.4,271.0H325.4V279.0H317.4ZM126.0,278.7H134.0V286.6H126.0ZM233.2,278.7H241.2V286.6H233.2ZM256.2,278.7H271.8V286.6H256.2ZM279.1,278.7H287.1V286.6H279.1ZM210.2,286.3H218.2V294.3H210.2ZM233.2,286.3H241.2V294.3H233.2ZM248.5,286.3H264.1V294.3H248.5ZM202.6,294.0H225.8V302.0H202.6ZM240.9,294.0H248.8V302.0H240.9ZM263.8,294.0H287.1V302.0H263.8ZM179.6,301.7H187.6V309.6H179.6ZM202.6,301.7H218.2V309.6H202.6ZM225.5,301.7H241.2V309.6H225.5ZM256.2,301.7H264.1V309.6H256.2ZM179.6,309.3H195.2V317.3H179.6ZM240.9,309.3H248.8V317.3H240.9ZM263.8,309.3H271.8V317.3H263.8ZM179.6,317.0H187.6V324.9H179.6ZM194.9,317.0H202.9V324.9H194.9ZM210.2,317.0H218.2V324.9H210.2ZM248.5,317.0H256.5V324.9H248.5ZM279.1,317.0H287.1V324.9H279.1ZM294.4,317.0H302.4V324.9H294.4ZM172.0,324.6H187.6V332.5H172.0ZM202.6,324.6H210.5V332.5H202.6ZM248.5,324.6H256.5V332.5H248.5ZM263.8,324.6H271.8V332.5H263.8ZM286.8,324.6H294.7V332.5H286.8ZM149.0,332.2H164.6V340.2H149.0ZM172.0,332.2H179.9V340.2H172.0ZM225.5,332.2H233.5V340.2H225.5ZM57.1,339.9H65.1V347.8H57.1ZM118.4,339.9H126.3V347.8H118.4ZM179.6,339.9H187.6V347.8H179.6ZM57.1,347.5H72.7V355.4H57.1ZM103.1,347.5H111.0V355.4H103.1ZM118.4,347.5H126.3V355.4H118.4ZM133.7,347.5H149.3V355.4H133.7ZM164.3,347.5H172.3V355.4H164.3ZM194.9,347.5H202.9V355.4H194.9ZM210.2,347.5H218.2V355.4H210.2ZM240.9,347.5H248.8V355.4H240.9ZM263.8,347.5H287.1V355.4H263.8ZM41.8,355.1H49.8V363.1H41.8ZM95.4,355.1H103.4V363.1H95.4ZM118.4,355.1H126.3V363.1H118.4ZM164.3,355.1H187.6V363.1H164.3ZM194.9,355.1H210.5V363.1H194.9ZM233.2,355.1H241.2V363.1H233.2ZM256.2,355.1H271.8V363.1H256.2ZM279.1,355.1H287.1V363.1H279.1ZM18.9,362.8H26.8V370.7H18.9ZM34.2,362.8H42.1V370.7H34.2ZM95.4,362.8H103.4V370.7H95.4ZM118.4,362.8H141.6V370.7H118.4ZM172.0,362.8H179.9V370.7H172.0ZM210.2,362.8H218.2V370.7H210.2ZM233.2,362.8H241.2V370.7H233.2ZM248.5,362.8H256.5V370.7H248.5ZM286.8,362.8H294.7V370.7H286.8ZM3.5,370.4H34.5V378.3H3.5ZM72.4,370.4H80.4V378.3H72.4ZM126.0,370.4H134.0V378.3H126.0ZM156.7,370.4H164.6V378.3H156.7ZM172.0,370.4H187.6V378.3H172.0ZM210.2,370.4H218.2V378.3H210.2ZM263.8,370.4H271.8V378.3H263.8ZM279.1,370.4H294.7V378.3H279.1ZM11.2,378.0H19.2V385.9H11.2ZM141.3,378.0H172.3V385.9H141.3ZM179.6,378.0H187.6V385.9H179.6ZM194.9,378.0H210.5V385.9H194.9ZM217.9,378.0H225.8V385.9H217.9ZM240.9,378.0H264.1V385.9H240.9ZM271.5,378.0H279.4V385.9H271.5ZM309.8,378.0H317.7V385.9H309.8ZM3.5,385.6H11.5V393.5H3.5ZM126.0,385.6H134.0V393.5H126.0ZM149.0,385.6H157.0V393.5H149.0ZM172.0,385.6H179.9V393.5H172.0ZM210.2,385.6H218.2V393.5H210.2ZM225.5,385.6H233.5V393.5H225.5ZM240.9,385.6H271.8V393.5H240.9ZM3.5,393.2H11.5V401.1H3.5ZM18.9,393.2H34.5V401.1H18.9ZM103.1,393.2H118.7V401.1H103.1ZM126.0,393.2H141.6V401.1H126.0ZM256.2,393.2H271.8V401.1H256.2ZM11.2,400.8H26.8V408.7H11.2ZM103.1,400.8H118.7V408.7H103.1ZM126.0,400.8H134.0V408.7H126.0ZM141.3,400.8H149.3V408.7H141.3ZM187.3,400.8H195.2V408.7H187.3ZM233.2,400.8H241.2V408.7H233.2ZM248.5,400.8H256.5V408.7H248.5ZM3.5,408.4H19.2V416.3H3.5ZM41.8,408.4H49.8V416.3H41.8ZM72.4,408.4H80.4V416.3H72.4ZM95.4,408.4H103.4V416.3H95.4ZM110.7,408.4H141.6V416.3H110.7ZM248.5,408.4H256.5V416.3H248.5ZM263.8,408.4H271.8V416.3H263.8ZM317.4,408.4H325.4V416.3H317.4ZM3.5,416.0H34.5V423.9H3.5ZM57.1,416.0H80.4V423.9H57.1ZM179.6,416.0H195.2V423.9H179.6ZM210.2,416.0H218.2V423.9H210.2ZM225.5,416.0H233.5V423.9H225.5ZM248.5,416.0H256.5V423.9H248.5ZM279.1,416.0H287.1V423.9H279.1ZM11.2,423.6H26.8V431.4H11.2ZM41.8,423.6H49.8V431.4H41.8ZM72.4,423.6H80.4V431.4H72.4ZM110.7,423.6H126.3V431.4H110.7ZM141.3,423.6H149.3V431.4H141.3ZM194.9,423.6H210.5V431.4H194.9ZM217.9,423.6H225.8V431.4H217.9ZM248.5,423.6H256.5V431.4H248.5ZM279.1,423.6H287.1V431.4H279.1Z"/><path fill="#003aff" d="M194.9,14.7H202.9V22.9H194.9ZM179.6,22.6H187.6V30.7H179.6ZM217.9,22.6H225.8V30.7H217.9ZM210.2,30.4H218.2V38.5H210.2ZM179.6,38.2H187.6V46.4H179.6ZM217.9,38.2H225.8V46.4H217.9ZM217.9,46.1H225.8V54.2H217.9ZM172.0,53.9H187.6V62.0H172.0ZM225.5,53.9H233.5V62.0H225.5ZM179.6,61.7H187.6V69.9H179.6ZM217.9,61.7H225.8V69.9H217.9ZM217.9,69.6H225.8V77.7H217.9ZM225.5,77.4H233.5V85.5H225.5ZM164.3,85.2H172.3V93.3H164.3ZM233.2,85.2H241.2V93.3H233.2ZM164.3,93.0H179.9V101.1H164.3ZM233.2,93.0H248.8V101.1H233.2ZM263.8,93.0H271.8V101.1H263.8ZM164.3,108.6H172.3V116.7H164.3ZM233.2,108.6H248.8V116.7H233.2ZM256.2,108.6H264.1V116.7H256.2ZM271.5,108.6H279.4V116.7H271.5ZM156.7,116.4H164.6V124.4H156.7ZM256.2,116.4H264.1V124.4H256.2ZM271.5,124.1H279.4V132.2H271.5ZM263.8,131.9H279.4V140.0H263.8ZM279.1,139.7H287.1V147.8H279.1ZM302.1,147.5H310.1V155.5H302.1ZM294.4,155.2H302.4V163.3H294.4ZM279.1,163.0H294.7V171.0H279.1ZM279.1,170.7H294.7V178.8H279.1ZM279.1,178.5H294.7V186.5H279.1ZM279.1,186.2H302.4V194.2H279.1ZM279.1,201.7H287.1V209.7H279.1ZM271.5,209.4H279.4V217.4H271.5ZM263.8,217.1H271.8V225.1H263.8ZM279.1,217.1H287.1V225.1H279.1ZM302.1,217.1H310.1V225.1H302.1ZM256.2,224.8H279.4V232.8H256.2ZM256.2,232.5H264.1V240.5H256.2ZM271.5,232.5H279.4V240.5H271.5ZM294.4,240.2H302.4V248.2H294.4ZM233.2,247.9H241.2V255.9H233.2ZM248.5,247.9H264.1V255.9H248.5ZM149.0,255.6H164.6V263.6H149.0ZM225.5,255.6H241.2V263.6H225.5ZM141.3,263.3H157.0V271.3H141.3ZM225.5,263.3H233.5V271.3H225.5ZM240.9,263.3H248.8V271.3H240.9ZM126.0,271.0H134.0V279.0H126.0ZM141.3,271.0H149.3V279.0H141.3ZM156.7,271.0H164.6V279.0H156.7ZM217.9,271.0H225.8V279.0H217.9ZM210.2,278.7H233.5V286.6H210.2ZM225.5,286.3H233.5V294.3H225.5ZM103.1,294.0H118.7V302.0H103.1ZM187.3,301.7H202.9V309.6H187.3ZM172.0,309.3H179.9V317.3H172.0ZM202.6,309.3H210.5V317.3H202.6ZM164.3,317.0H172.3V324.9H164.3ZM187.3,317.0H195.2V324.9H187.3ZM256.2,317.0H264.1V324.9H256.2ZM156.7,324.6H164.6V332.5H156.7ZM256.2,324.6H264.1V332.5H256.2ZM133.7,332.2H149.3V340.2H133.7ZM164.3,332.2H172.3V340.2H164.3ZM95.4,339.9H103.4V347.8H95.4ZM110.7,339.9H118.7V347.8H110.7ZM126.0,339.9H141.6V347.8H126.0ZM149.0,339.9H172.3V347.8H149.0ZM80.1,347.5H103.4V355.4H80.1ZM110.7,347.5H118.7V355.4H110.7ZM126.0,347.5H134.0V355.4H126.0ZM156.7,347.5H164.6V355.4H156.7ZM225.5,347.5H233.5V355.4H225.5ZM64.8,355.1H80.4V363.1H64.8ZM103.1,355.1H111.0V363.1H103.1ZM126.0,355.1H149.3V363.1H126.0ZM49.5,362.8H57.4V370.7H49.5ZM80.1,362.8H95.7V370.7H80.1ZM110.7,362.8H118.7V370.7H110.7ZM141.3,362.8H157.0V370.7H141.3ZM164.3,362.8H172.3V370.7H164.3ZM64.8,370.4H72.7V378.3H64.8ZM133.7,370.4H149.3V378.3H133.7ZM202.6,370.4H210.5V378.3H202.6ZM217.9,370.4H225.8V378.3H217.9ZM233.2,370.4H256.5V378.3H233.2ZM3.5,378.0H11.5V385.9H3.5ZM18.9,378.0H26.8V385.9H18.9ZM34.2,378.0H42.1V385.9H34.2ZM80.1,378.0H88.1V385.9H80.1ZM110.7,378.0H118.7V385.9H110.7ZM172.0,378.0H179.9V385.9H172.0ZM187.3,378.0H195.2V385.9H187.3ZM210.2,378.0H218.2V385.9H210.2ZM225.5,378.0H233.5V385.9H225.5ZM133.7,385.6H141.6V393.5H133.7ZM156.7,385.6H172.3V393.5H156.7ZM179.6,385.6H187.6V393.5H179.6ZM217.9,385.6H225.8V393.5H217.9ZM11.2,393.2H19.2V401.1H11.2ZM34.2,393.2H42.1V401.1H34.2ZM64.8,393.2H80.4V401.1H64.8ZM95.4,393.2H103.4V401.1H95.4ZM141.3,393.2H157.0V401.1H141.3ZM172.0,393.2H179.9V401.1H172.0ZM187.3,393.2H195.2V401.1H187.3ZM202.6,393.2H210.5V401.1H202.6ZM233.2,393.2H241.2V401.1H233.2ZM248.5,393.2H256.5V401.1H248.5ZM3.5,400.8H11.5V408.7H3.5ZM34.2,400.8H42.1V408.7H34.2ZM49.5,400.8H57.4V408.7H49.5ZM80.1,400.8H88.1V408.7H80.1ZM95.4,400.8H103.4V408.7H95.4ZM149.0,400.8H157.0V408.7H149.0ZM179.6,400.8H187.6V408.7H179.6ZM202.6,400.8H210.5V408.7H202.6ZM240.9,400.8H248.8V408.7H240.9ZM256.2,400.8H264.1V408.7H256.2ZM18.9,408.4H26.8V416.3H18.9ZM34.2,408.4H42.1V416.3H34.2ZM57.1,408.4H65.1V416.3H57.1ZM87.8,408.4H95.7V416.3H87.8ZM103.1,408.4H111.0V416.3H103.1ZM141.3,408.4H157.0V416.3H141.3ZM187.3,408.4H233.5V416.3H187.3ZM240.9,408.4H248.8V416.3H240.9ZM34.2,416.0H49.8V423.9H34.2ZM80.1,416.0H88.1V423.9H80.1ZM95.4,416.0H118.7V423.9H95.4ZM126.0,416.0H134.0V423.9H126.0ZM172.0,416.0H179.9V423.9H172.0ZM202.6,416.0H210.5V423.9H202.6ZM233.2,416.0H241.2V423.9H233.2ZM34.2,423.6H42.1V431.4H34.2ZM49.5,423.6H57.4V431.4H49.5ZM80.1,423.6H88.1V431.4H80.1ZM149.0,423.6H172.3V431.4H149.0ZM210.2,423.6H218.2V431.4H210.2ZM233.2,423.6H248.8V431.4H233.2Z"/><path fill="#0050ff" d="M194.9,22.6H210.5V30.7H194.9ZM179.6,46.1H187.6V54.2H179.6ZM172.0,69.6H179.9V77.7H172.0ZM225.5,69.6H233.5V77.7H225.5ZM172.0,77.4H179.9V85.5H172.0ZM217.9,77.4H225.8V85.5H217.9ZM225.5,85.2H233.5V93.3H225.5ZM217.9,93.0H233.5V101.1H217.9ZM164.3,100.8H172.3V108.9H164.3ZM233.2,100.8H241.2V108.9H233.2ZM248.5,108.6H256.5V116.7H248.5ZM156.7,124.1H164.6V132.2H156.7ZM248.5,124.1H256.5V132.2H248.5ZM263.8,124.1H271.8V132.2H263.8ZM256.2,131.9H264.1V140.0H256.2ZM263.8,139.7H279.4V147.8H263.8ZM279.1,155.2H287.1V163.3H279.1ZM271.5,193.9H287.1V202.0H271.5ZM271.5,201.7H279.4V209.7H271.5ZM256.2,209.4H271.8V217.4H256.2ZM248.5,232.5H256.5V240.5H248.5ZM240.9,240.2H256.5V248.2H240.9ZM164.3,247.9H172.3V255.9H164.3ZM225.5,247.9H233.5V255.9H225.5ZM164.3,255.6H172.3V263.6H164.3ZM217.9,255.6H225.8V263.6H217.9ZM217.9,263.3H225.8V271.3H217.9ZM133.7,271.0H141.6V279.0H133.7ZM164.3,271.0H172.3V279.0H164.3ZM133.7,278.7H141.6V286.6H133.7ZM149.0,278.7H164.6V286.6H149.0ZM110.7,286.3H126.3V294.3H110.7ZM133.7,286.3H141.6V294.3H133.7ZM202.6,286.3H210.5V294.3H202.6ZM118.4,294.0H126.3V302.0H118.4ZM156.7,294.0H164.6V302.0H156.7ZM172.0,294.0H179.9V302.0H172.0ZM194.9,294.0H202.9V302.0H194.9ZM95.4,301.7H111.0V309.6H95.4ZM141.3,301.7H149.3V309.6H141.3ZM156.7,301.7H164.6V309.6H156.7ZM156.7,309.3H164.6V317.3H156.7ZM194.9,309.3H202.9V317.3H194.9ZM156.7,317.0H164.6V324.9H156.7ZM172.0,317.0H179.9V324.9H172.0ZM133.7,324.6H149.3V332.5H133.7ZM164.3,324.6H172.3V332.5H164.3ZM126.0,332.2H134.0V340.2H126.0ZM103.1,339.9H111.0V347.8H103.1ZM72.4,347.5H80.4V355.4H72.4ZM80.1,355.1H88.1V363.1H80.1ZM57.1,362.8H80.4V370.7H57.1ZM103.1,362.8H111.0V370.7H103.1ZM41.8,370.4H49.8V378.3H41.8ZM57.1,370.4H65.1V378.3H57.1ZM80.1,370.4H88.1V378.3H80.1ZM95.4,370.4H126.3V378.3H95.4ZM41.8,378.0H49.8V385.9H41.8ZM72.4,378.0H80.4V385.9H72.4ZM95.4,378.0H103.4V385.9H95.4ZM118.4,378.0H134.0V385.9H118.4ZM233.2,378.0H241.2V385.9H233.2ZM11.2,385.6H42.1V393.5H11.2ZM57.1,385.6H72.7V393.5H57.1ZM87.8,385.6H95.7V393.5H87.8ZM103.1,385.6H126.3V393.5H103.1ZM141.3,385.6H149.3V393.5H141.3ZM194.9,385.6H202.9V393.5H194.9ZM233.2,385.6H241.2V393.5H233.2ZM41.8,393.2H65.1V401.1H41.8ZM87.8,393.2H95.7V401.1H87.8ZM179.6,393.2H187.6V401.1H179.6ZM194.9,393.2H202.9V401.1H194.9ZM210.2,393.2H225.8V401.1H210.2ZM240.9,393.2H248.8V401.1H240.9ZM26.5,400.8H34.5V408.7H26.5ZM41.8,400.8H49.8V408.7H41.8ZM57.1,400.8H80.4V408.7H57.1ZM87.8,400.8H95.7V408.7H87.8ZM118.4,400.8H126.3V408.7H118.4ZM172.0,400.8H179.9V408.7H172.0ZM194.9,400.8H202.9V408.7H194.9ZM210.2,400.8H233.5V408.7H210.2ZM49.5,408.4H57.4V416.3H49.5ZM80.1,408.4H88.1V416.3H80.1ZM179.6,408.4H187.6V416.3H179.6ZM233.2,408.4H241.2V416.3H233.2ZM49.5,416.0H57.4V423.9H49.5ZM194.9,416.0H202.9V423.9H194.9ZM240.9,416.0H248.8V423.9H240.9Z"/><path fill="#0065ff" d="M187.3,30.4H195.2V38.5H187.3ZM202.6,30.4H210.5V38.5H202.6ZM202.6,38.2H210.5V46.4H202.6ZM210.2,46.1H218.2V54.2H210.2ZM179.6,69.6H187.6V77.7H179.6ZM210.2,69.6H218.2V77.7H210.2ZM179.6,77.4H187.6V85.5H179.6ZM210.2,77.4H218.2V85.5H210.2ZM172.0,85.2H179.9V93.3H172.0ZM217.9,85.2H225.8V93.3H217.9ZM172.0,100.8H179.9V108.9H172.0ZM225.5,100.8H233.5V108.9H225.5ZM225.5,108.6H233.5V116.7H225.5ZM233.2,116.4H256.5V124.4H233.2ZM164.3,124.1H172.3V132.2H164.3ZM240.9,124.1H248.8V132.2H240.9ZM256.2,124.1H264.1V132.2H256.2ZM240.9,131.9H256.5V140.0H240.9ZM271.5,155.2H279.4V163.3H271.5ZM271.5,170.7H279.4V178.8H271.5ZM271.5,178.5H279.4V186.5H271.5ZM271.5,186.2H279.4V194.2H271.5ZM263.8,193.9H271.8V202.0H263.8ZM263.8,201.7H271.8V209.7H263.8ZM248.5,224.8H256.5V232.8H248.5ZM240.9,232.5H248.8V240.5H240.9ZM225.5,240.2H241.2V248.2H225.5ZM217.9,247.9H225.8V255.9H217.9ZM164.3,263.3H172.3V271.3H164.3ZM149.0,271.0H157.0V279.0H149.0ZM118.4,278.7H126.3V286.6H118.4ZM141.3,278.7H149.3V286.6H141.3ZM141.3,286.3H157.0V294.3H141.3ZM164.3,286.3H172.3V294.3H164.3ZM179.6,286.3H187.6V294.3H179.6ZM194.9,286.3H202.9V294.3H194.9ZM126.0,294.0H149.3V302.0H126.0ZM164.3,294.0H172.3V302.0H164.3ZM179.6,294.0H195.2V302.0H179.6ZM110.7,301.7H118.7V309.6H110.7ZM149.0,301.7H157.0V309.6H149.0ZM164.3,301.7H172.3V309.6H164.3ZM149.0,309.3H157.0V317.3H149.0ZM164.3,309.3H172.3V317.3H164.3ZM126.0,317.0H134.0V324.9H126.0ZM141.3,317.0H157.0V324.9H141.3ZM126.0,324.6H134.0V332.5H126.0ZM149.0,324.6H157.0V332.5H149.0ZM103.1,332.2H126.3V340.2H103.1ZM64.8,339.9H72.7V347.8H64.8ZM49.5,370.4H57.4V378.3H49.5ZM87.8,370.4H95.7V378.3H87.8ZM26.5,378.0H34.5V385.9H26.5ZM49.5,378.0H72.7V385.9H49.5ZM87.8,378.0H95.7V385.9H87.8ZM49.5,385.6H57.4V393.5H49.5ZM72.4,385.6H88.1V393.5H72.4ZM95.4,385.6H103.4V393.5H95.4ZM202.6,385.6H210.5V393.5H202.6ZM80.1,393.2H88.1V401.1H80.1ZM118.4,393.2H126.3V401.1H118.4ZM156.7,393.2H172.3V401.1H156.7ZM225.5,393.2H233.5V401.1H225.5ZM156.7,400.8H164.6V408.7H156.7ZM156.7,416.0H164.6V423.9H156.7Z"/><path fill="#007aff" d="M194.9,30.4H202.9V38.5H194.9ZM187.3,38.2H202.9V46.4H187.3ZM210.2,38.2H218.2V46.4H210.2ZM210.2,53.9H218.2V62.0H210.2ZM210.2,61.7H218.2V69.9H210.2ZM187.3,77.4H195.2V85.5H187.3ZM179.6,85.2H187.6V93.3H179.6ZM217.9,100.8H225.8V108.9H217.9ZM172.0,108.6H179.9V116.7H172.0ZM164.3,116.4H172.3V124.4H164.3ZM233.2,124.1H241.2V132.2H233.2ZM164.3,131.9H172.3V140.0H164.3ZM248.5,139.7H264.1V147.8H248.5ZM263.8,147.5H271.8V155.5H263.8ZM263.8,155.2H271.8V163.3H263.8ZM263.8,163.0H271.8V171.0H263.8ZM263.8,186.2H271.8V194.2H263.8ZM248.5,217.1H264.1V225.1H248.5ZM240.9,224.8H248.8V232.8H240.9ZM217.9,232.5H225.8V240.5H217.9ZM233.2,232.5H241.2V240.5H233.2ZM217.9,240.2H225.8V248.2H217.9ZM210.2,255.6H218.2V263.6H210.2ZM210.2,271.0H218.2V279.0H210.2ZM164.3,278.7H187.6V286.6H164.3ZM194.9,278.7H202.9V286.6H194.9ZM126.0,286.3H134.0V294.3H126.0ZM156.7,286.3H164.6V294.3H156.7ZM172.0,286.3H179.9V294.3H172.0ZM187.3,286.3H195.2V294.3H187.3ZM149.0,294.0H157.0V302.0H149.0ZM118.4,301.7H134.0V309.6H118.4ZM172.0,301.7H179.9V309.6H172.0ZM103.1,309.3H118.7V317.3H103.1ZM133.7,317.0H141.6V324.9H133.7ZM103.1,378.0H111.0V385.9H103.1ZM41.8,385.6H49.8V393.5H41.8ZM172.0,408.4H179.9V416.3H172.0Z"/><path fill="#008fff" d="M187.3,46.1H210.5V54.2H187.3ZM187.3,53.9H202.9V62.0H187.3ZM187.3,61.7H202.9V69.9H187.3ZM210.2,85.2H218.2V93.3H210.2ZM179.6,93.0H187.6V101.1H179.6ZM179.6,100.8H187.6V108.9H179.6ZM256.2,147.5H264.1V155.5H256.2ZM256.2,155.2H264.1V163.3H256.2ZM271.5,163.0H279.4V171.0H271.5ZM263.8,170.7H271.8V178.8H263.8ZM263.8,178.5H271.8V186.5H263.8ZM248.5,201.7H264.1V209.7H248.5ZM248.5,209.4H256.5V217.4H248.5ZM233.2,224.8H241.2V232.8H233.2ZM210.2,263.3H218.2V271.3H210.2ZM172.0,271.0H179.9V279.0H172.0ZM202.6,278.7H210.5V286.6H202.6ZM87.8,309.3H95.7V317.3H87.8ZM133.7,309.3H149.3V317.3H133.7ZM118.4,317.0H126.3V324.9H118.4ZM118.4,324.6H126.3V332.5H118.4ZM87.8,339.9H95.7V347.8H87.8ZM164.3,416.0H172.3V423.9H164.3Z"/><path fill="#00a5ff" d="M202.6,53.9H210.5V62.0H202.6ZM202.6,61.7H210.5V69.9H202.6ZM187.3,69.6H195.2V77.7H187.3ZM202.6,69.6H210.5V77.7H202.6ZM202.6,77.4H210.5V85.5H202.6ZM187.3,85.2H195.2V93.3H187.3ZM202.6,85.2H210.5V93.3H202.6ZM210.2,100.8H218.2V108.9H210.2ZM179.6,108.6H187.6V116.7H179.6ZM202.6,108.6H225.8V116.7H202.6ZM172.0,116.4H179.9V124.4H172.0ZM217.9,116.4H233.5V124.4H217.9ZM225.5,124.1H233.5V132.2H225.5ZM233.2,131.9H241.2V140.0H233.2ZM225.5,139.7H248.8V147.8H225.5ZM240.9,147.5H256.5V155.5H240.9ZM248.5,155.2H256.5V163.3H248.5ZM256.2,170.7H264.1V178.8H256.2ZM256.2,178.5H264.1V186.5H256.2ZM256.2,186.2H264.1V194.2H256.2ZM179.6,193.9H187.6V202.0H179.6ZM256.2,193.9H264.1V202.0H256.2ZM179.6,209.4H187.6V217.4H179.6ZM179.6,217.1H187.6V225.1H179.6ZM233.2,217.1H248.8V225.1H233.2ZM225.5,232.5H233.5V240.5H225.5ZM210.2,247.9H218.2V255.9H210.2ZM172.0,263.3H179.9V271.3H172.0ZM202.6,263.3H210.5V271.3H202.6ZM202.6,271.0H210.5V279.0H202.6ZM133.7,301.7H141.6V309.6H133.7ZM118.4,309.3H134.0V317.3H118.4ZM110.7,317.0H118.7V324.9H110.7ZM72.4,339.9H80.4V347.8H72.4ZM164.3,400.8H172.3V408.7H164.3ZM156.7,408.4H164.6V416.3H156.7Z"/><path fill="#00cfff" d="M194.9,69.6H202.9V77.7H194.9ZM194.9,77.4H202.9V85.5H194.9ZM194.9,85.2H202.9V93.3H194.9ZM202.6,93.0H210.5V101.1H202.6ZM187.3,100.8H210.5V108.9H187.3ZM194.9,108.6H202.9V116.7H194.9ZM210.2,116.4H218.2V124.4H210.2ZM225.5,147.5H233.5V155.5H225.5ZM233.2,155.2H248.8V163.3H233.2ZM240.9,163.0H256.5V171.0H240.9ZM240.9,170.7H256.5V178.8H240.9ZM179.6,178.5H187.6V186.5H179.6ZM240.9,178.5H248.8V186.5H240.9ZM179.6,186.2H187.6V194.2H179.6ZM248.5,186.2H256.5V194.2H248.5ZM248.5,193.9H256.5V202.0H248.5ZM179.6,201.7H195.2V209.7H179.6ZM240.9,201.7H248.8V209.7H240.9ZM233.2,209.4H241.2V217.4H233.2ZM194.9,224.8H202.9V232.8H194.9ZM210.2,224.8H233.5V232.8H210.2ZM210.2,232.5H218.2V240.5H210.2ZM210.2,240.2H218.2V248.2H210.2ZM172.0,255.6H179.9V263.6H172.0ZM194.9,271.0H202.9V279.0H194.9ZM103.1,317.0H111.0V324.9H103.1ZM103.1,324.6H111.0V332.5H103.1Z"/><path fill="#00baff" d="M187.3,93.0H202.9V101.1H187.3ZM210.2,93.0H218.2V101.1H210.2ZM172.0,124.1H179.9V132.2H172.0ZM217.9,124.1H225.8V132.2H217.9ZM225.5,131.9H233.5V140.0H225.5ZM164.3,139.7H172.3V147.8H164.3ZM256.2,163.0H264.1V171.0H256.2ZM248.5,178.5H256.5V186.5H248.5ZM240.9,209.4H248.8V217.4H240.9ZM179.6,224.8H187.6V232.8H179.6ZM179.6,271.0H187.6V279.0H179.6ZM187.3,278.7H195.2V286.6H187.3ZM95.4,309.3H103.4V317.3H95.4ZM110.7,324.6H118.7V332.5H110.7ZM80.1,339.9H88.1V347.8H80.1ZM164.3,408.4H172.3V416.3H164.3Z"/><path fill="#00e4ff" d="M187.3,108.6H195.2V116.7H187.3ZM210.2,124.1H218.2V132.2H210.2ZM172.0,131.9H179.9V140.0H172.0ZM217.9,131.9H225.8V140.0H217.9ZM217.9,139.7H225.8V147.8H217.9ZM233.2,147.5H241.2V155.5H233.2ZM225.5,155.2H233.5V163.3H225.5ZM233.2,163.0H241.2V171.0H233.2ZM187.3,186.2H195.2V194.2H187.3ZM240.9,186.2H248.8V194.2H240.9ZM187.3,193.9H195.2V202.0H187.3ZM240.9,193.9H248.8V202.0H240.9ZM187.3,209.4H195.2V217.4H187.3ZM187.3,217.1H202.9V225.1H187.3ZM217.9,217.1H225.8V225.1H217.9ZM187.3,271.0H195.2V279.0H187.3ZM95.4,332.2H103.4V340.2H95.4Z"/><path fill="#00faff" d="M179.6,116.4H187.6V124.4H179.6ZM202.6,124.1H210.5V132.2H202.6ZM217.9,147.5H225.8V155.5H217.9ZM225.5,170.7H241.2V178.8H225.5ZM233.2,186.2H241.2V194.2H233.2ZM194.9,201.7H202.9V209.7H194.9ZM225.5,201.7H241.2V209.7H225.5ZM194.9,209.4H202.9V217.4H194.9ZM217.9,209.4H233.5V217.4H217.9ZM202.6,217.1H210.5V225.1H202.6ZM225.5,217.1H233.5V225.1H225.5ZM202.6,224.8H210.5V232.8H202.6ZM202.6,240.2H210.5V248.2H202.6ZM172.0,247.9H179.9V255.9H172.0ZM202.6,247.9H210.5V255.9H202.6ZM202.6,255.6H210.5V263.6H202.6ZM179.6,263.3H187.6V271.3H179.6ZM80.1,317.0H88.1V324.9H80.1ZM72.4,324.6H80.4V332.5H72.4Z"/><path fill="#10ffef" d="M187.3,116.4H195.2V124.4H187.3ZM202.6,116.4H210.5V124.4H202.6ZM210.2,131.9H218.2V140.0H210.2ZM210.2,139.7H218.2V147.8H210.2ZM217.9,163.0H233.5V171.0H217.9ZM179.6,170.7H187.6V178.8H179.6ZM187.3,178.5H195.2V186.5H187.3ZM194.9,193.9H210.5V202.0H194.9ZM225.5,193.9H241.2V202.0H225.5ZM217.9,201.7H225.8V209.7H217.9ZM202.6,209.4H218.2V217.4H202.6ZM210.2,217.1H218.2V225.1H210.2ZM187.3,224.8H195.2V232.8H187.3ZM202.6,232.5H210.5V240.5H202.6Z"/><path fill="#3affc5" d="M194.9,116.4H202.9V124.4H194.9ZM187.3,124.1H202.9V132.2H187.3ZM202.6,139.7H210.5V147.8H202.6ZM210.2,155.2H218.2V163.3H210.2ZM210.2,163.0H218.2V171.0H210.2ZM194.9,178.5H210.5V186.5H194.9ZM233.2,178.5H241.2V186.5H233.2ZM202.6,186.2H225.8V194.2H202.6ZM210.2,201.7H218.2V209.7H210.2ZM194.9,263.3H202.9V271.3H194.9ZM95.4,317.0H103.4V324.9H95.4ZM72.4,332.2H80.4V340.2H72.4Z"/><path fill="#25ffda" d="M179.6,124.1H187.6V132.2H179.6ZM172.0,139.7H179.9V147.8H172.0ZM210.2,147.5H218.2V155.5H210.2ZM217.9,155.2H225.8V163.3H217.9ZM172.0,163.0H179.9V171.0H172.0ZM210.2,170.7H225.8V178.8H210.2ZM217.9,178.5H233.5V186.5H217.9ZM194.9,186.2H202.9V194.2H194.9ZM225.5,186.2H233.5V194.2H225.5ZM202.6,201.7H210.5V209.7H202.6Z"/><path fill="#50ffaf" d="M179.6,131.9H187.6V140.0H179.6ZM202.6,131.9H210.5V140.0H202.6ZM194.9,170.7H210.5V178.8H194.9ZM210.2,193.9H225.8V202.0H210.2ZM194.9,232.5H202.9V240.5H194.9ZM87.8,317.0H95.7V324.9H87.8Z"/><path fill="#7aff85" d="M187.3,131.9H195.2V140.0H187.3ZM202.6,147.5H210.5V155.5H202.6ZM202.6,163.0H210.5V171.0H202.6ZM187.3,263.3H195.2V271.3H187.3Z"/><path fill="#8fff70" d="M194.9,131.9H202.9V140.0H194.9ZM194.9,255.6H202.9V263.6H194.9ZM87.8,332.2H95.7V340.2H87.8Z"/><path fill="#baff45" d="M179.6,139.7H187.6V147.8H179.6ZM194.9,139.7H202.9V147.8H194.9ZM179.6,163.0H187.6V171.0H179.6Z"/><path fill="#e4ff1b" d="M187.3,139.7H195.2V147.8H187.3ZM194.9,147.5H202.9V155.5H194.9ZM187.3,163.0H195.2V171.0H187.3Z"/><path fill="#65ff9a" d="M172.0,147.5H179.9V155.5H172.0ZM172.0,155.2H179.9V163.3H172.0ZM202.6,155.2H210.5V163.3H202.6ZM187.3,170.7H195.2V178.8H187.3ZM210.2,178.5H218.2V186.5H210.2ZM95.4,324.6H103.4V332.5H95.4Z"/><path fill="#ffc500" d="M179.6,147.5H187.6V155.5H179.6ZM87.8,324.6H95.7V332.5H87.8Z"/><path fill="#ffaf00" d="M187.3,147.5H195.2V155.5H187.3Z"/><path fill="#ff8500" d="M179.6,155.2H195.2V163.3H179.6Z"/><path fill="#faff05" d="M194.9,155.2H202.9V163.3H194.9ZM194.9,240.2H202.9V248.2H194.9ZM80.1,324.6H88.1V332.5H80.1Z"/><path fill="#a5ff5a" d="M194.9,163.0H202.9V171.0H194.9ZM179.6,232.5H187.6V240.5H179.6Z"/><path fill="#ffda00" d="M187.3,232.5H195.2V240.5H187.3ZM179.6,255.6H187.6V263.6H179.6Z"/><path fill="#ff1b00" d="M179.6,240.2H187.6V248.2H179.6Z"/><path fill="#800000" d="M187.3,240.2H195.2V248.2H187.3ZM187.3,247.9H195.2V255.9H187.3Z"/><path fill="#f10000" d="M179.6,247.9H187.6V255.9H179.6Z"/><path fill="#ffef00" d="M194.9,247.9H202.9V255.9H194.9Z"/><path fill="#ff4500" d="M187.3,255.6H195.2V263.6H187.3Z"/><path fill="#cfff30" d="M80.1,332.2H88.1V340.2H80.1Z"/></g><path transform="translate(843.5,142.5)" d="M133.8,10.8L129.9,8.6M168.1,9.0L163.1,10.8M175.8,7.2L168.1,9.0M183.4,7.7L175.8,7.2M191.1,5.9L183.4,7.7M198.8,6.1L191.1,5.9M206.4,5.1L198.8,6.1M214.1,8.4L206.4,5.1M221.7,8.9L214.1,8.4M229.4,7.9L221.7,8.9M233.0,10.8L229.4,7.9M252.3,9.9L245.5,10.8M253.6,10.8L252.3,9.9M145.2,18.0L137.5,13.6M152.8,13.6L145.2,18.0M160.5,12.6L152.8,13.6M163.1,10.8L160.5,12.6M233.0,10.8L237.0,12.7M244.7,11.6L237.0,12.7M245.5,10.8L252.3,15.4M249.4,18.6L244.7,11.6M253.6,10.8L260.0,16.2M254.1,18.6L252.3,15.4M265.8,18.6L260.0,16.2M249.4,18.6L252.3,19.6M254.1,18.6L252.3,19.6M265.8,18.6L267.6,20.2M273.1,26.5L267.6,20.2M273.1,26.5L275.3,30.8M279.5,34.3L275.3,30.8M145.2,38.1L143.2,42.2M151.6,42.2L145.2,38.1M260.0,40.8L258.8,42.2M263.3,42.2L260.0,40.8M279.5,34.3L278.1,42.2M143.2,42.2L142.4,50.0M151.6,42.2L148.3,50.0M258.8,42.2L260.0,42.9M263.3,42.2L260.0,42.9M278.1,42.2L280.7,50.0M148.3,50.0L152.8,57.2M145.7,57.8L145.2,57.7M153.2,57.8L152.8,57.2M280.7,50.0L283.0,53.8M289.7,57.8L283.0,53.8M298.3,56.1L292.1,57.8M299.2,57.8L298.3,56.1M145.7,57.8L152.8,58.7M153.2,57.8L152.8,58.7M289.7,57.8L289.7,65.6M292.1,57.8L293.3,65.6M299.2,57.8L299.8,65.6M328.9,65.3L328.8,65.6M329.0,65.6L328.9,65.3M289.7,65.6L290.5,73.5M293.3,65.6L298.3,68.8M299.8,65.6L298.3,68.8M313.6,71.0L308.2,73.5M317.9,73.5L313.6,71.0M328.8,65.6L328.9,65.8M329.0,65.6L328.9,65.8M290.5,73.5L290.6,73.6M296.7,81.3L290.6,73.6M305.9,74.7L300.1,81.3M308.2,73.5L305.9,74.7M317.9,73.5L321.2,78.4M328.9,80.2L321.2,78.4M336.5,75.4L328.9,80.2M342.0,81.3L336.5,75.4M296.7,81.3L298.3,82.2M300.1,81.3L298.3,82.2M321.2,83.3L318.6,89.1M324.1,89.1L321.2,83.3M342.0,81.3L344.2,83.4M318.6,89.1L321.2,91.4M324.1,89.1L321.2,91.4M344.2,95.7L342.6,96.9M342.6,96.9L344.2,98.3M15.0,338.6L10.4,343.7M17.5,336.1L15.0,338.6M24.5,336.1L23.8,343.7M10.4,343.7L13.4,351.3M22.7,345.6L16.9,351.3M23.8,343.7L30.3,350.2M28.5,351.3L22.7,345.6M31.2,351.3L30.3,350.2M13.4,351.3L15.0,352.4M16.9,351.3L15.0,352.4M28.5,351.3L30.3,352.1M31.2,351.3L30.3,352.1" fill="none" stroke="#000" stroke-width="0.9" stroke-linecap="round"/><text transform="translate(1046.5,150.5) rotate(0)" text-anchor="middle" font-size="14.5" y="5">3</text><text transform="translate(998.5,200.5) rotate(-80)" text-anchor="middle" font-size="14.5" y="5">3</text><text transform="translate(870.5,509.5) rotate(0)" text-anchor="middle" font-size="14.5" y="5">3</text><text x="1128.7" y="179.6" font-size="20.5">10 km</text><path d="M1150.6,185.7h12.4" stroke="#000" stroke-width="3.6" stroke-linecap="round"/><path d="M1006.5,291.5L1006.5,307.5M1012.2,293.8L1000.8,305.2M1014.5,299.5L998.5,299.5M1012.2,305.2L1000.8,293.8" stroke="#f00" stroke-width="1.25" fill="none"/><path d="M1015.0,384.5L1015.0,400.5M1020.7,386.8L1009.3,398.2M1023.0,392.5L1007.0,392.5M1020.7,398.2L1009.3,386.8" stroke="#f00" stroke-width="1.25" fill="none"/><path d="M910.5,455.5L910.5,471.5M916.2,457.8L904.8,469.2M918.5,463.5L902.5,463.5M916.2,469.2L904.8,457.8" stroke="#f00" stroke-width="1.25" fill="none"/></g><rect x="843.5" y="142.8" width="348" height="427.2" fill="none" stroke="#1a1a1a" stroke-width="1.5"/><path d="M901.5,142.5v4M901.5,570.0v-4M959.5,142.5v4M959.5,570.0v-4M1017.5,142.5v4M1017.5,570.0v-4M1075.5,142.5v4M1075.5,570.0v-4M1133.5,142.5v4M1133.5,570.0v-4M843.5,214.9h4M1191.5,214.9h-4M843.5,286.8h4M1191.5,286.8h-4M843.5,358.2h4M1191.5,358.2h-4M843.5,429.3h4M1191.5,429.3h-4M843.5,499.8h4M1191.5,499.8h-4" stroke="#1a1a1a" stroke-width="0.9" fill="none"/><text x="836.0" y="149.1" text-anchor="end" font-size="20.5">37°N</text><text x="836.0" y="293.4" text-anchor="end" font-size="20.5">36°N</text><text x="836.0" y="435.9" text-anchor="end" font-size="20.5">35°N</text><text x="836.0" y="576.6" text-anchor="end" font-size="20.5">34°N</text><text x="837.0" y="220.5" text-anchor="end" font-size="14.8">30'</text><text x="837.0" y="363.8" text-anchor="end" font-size="14.8">30'</text><text x="837.0" y="505.4" text-anchor="end" font-size="14.8">30'</text><text x="846.0" y="591.0" text-anchor="middle" font-size="20.5">77°W</text><text x="962.0" y="591.0" text-anchor="middle" font-size="20.5">76°W</text><text x="1078.0" y="591.0" text-anchor="middle" font-size="20.5">75°W</text><text x="1194.0" y="591.0" text-anchor="middle" font-size="20.5">74°W</text><text x="901.5" y="586.5" text-anchor="middle" font-size="14.8">30'</text><text x="1017.5" y="586.5" text-anchor="middle" font-size="14.8">30'</text><text x="1133.5" y="586.5" text-anchor="middle" font-size="14.8">30'</text><text x="1017.5" y="130.3" text-anchor="middle" font-size="20.8" font-weight="bold">Number of Rads (3)</text><text x="847.3" y="149.2" text-anchor="middle" font-size="17.2" fill="#262626">0</text><text x="947.8" y="149.2" text-anchor="middle" font-size="17.2" fill="#262626">50</text><rect x="847.3" y="162.8" width="111.0" height="24.6" fill="url(#jet)" stroke="#262626" stroke-width="1.1"/><path d="M847.3,162.8v2.2M947.8,162.8v2.2" stroke="#262626" stroke-width="0.8"/><g clip-path="url(#cp4)"><use href="#land" x="1227" y="142.5"/><path d="M1285.0,142.5V570.0M1343.0,142.5V570.0M1401.0,142.5V570.0M1459.0,142.5V570.0M1517.0,142.5V570.0M1227.0,214.9H1575.0M1227.0,286.8H1575.0M1227.0,358.2H1575.0M1227.0,429.3H1575.0M1227.0,499.8H1575.0" stroke="#6e6e6e" stroke-width="0.8" stroke-dasharray="2,6.3" fill="none" opacity="0.8"/><g transform="translate(1227,142.5)" shape-rendering="crispEdges"><path fill="#00dfff" d="M2.9,385.6H148.6V393.5H2.9ZM286.1,385.6H347.6V393.5H286.1ZM178.9,224.8H194.5V232.8H178.9ZM270.8,224.8H347.6V232.8H270.8ZM87.1,309.3H156.2V317.3H87.1ZM293.7,309.3H301.7V317.3H293.7ZM324.4,309.3H347.6V317.3H324.4ZM2.9,400.8H148.6V408.7H2.9ZM293.7,400.8H347.6V408.7H293.7ZM79.4,317.0H163.9V324.9H79.4ZM286.1,317.0H347.6V324.9H286.1ZM148.3,255.6H163.9V263.6H148.3ZM240.2,255.6H347.6V263.6H240.2ZM286.1,193.9H347.6V202.0H286.1ZM2.9,408.4H148.6V416.3H2.9ZM293.7,408.4H347.6V416.3H293.7ZM2.9,347.5H26.1V355.4H2.9ZM33.5,347.5H194.5V355.4H33.5ZM286.1,347.5H347.6V355.4H286.1ZM293.7,170.7H347.6V178.8H293.7ZM155.9,108.6H171.6V116.7H155.9ZM286.1,108.6H347.6V116.7H286.1ZM2.9,355.1H26.1V363.1H2.9ZM33.5,355.1H194.5V363.1H33.5ZM293.7,355.1H347.6V363.1H293.7ZM2.9,378.0H148.6V385.9H2.9ZM286.1,378.0H347.6V385.9H286.1ZM155.9,116.4H171.6V124.4H155.9ZM286.1,116.4H347.6V124.4H286.1ZM148.3,53.9H179.2V62.0H148.3ZM247.8,53.9H347.6V62.0H247.8ZM2.9,370.4H156.2V378.3H2.9ZM286.1,370.4H347.6V378.3H286.1ZM163.6,139.7H171.6V147.8H163.6ZM293.7,139.7H347.6V147.8H293.7ZM171.3,163.0H186.9V171.0H171.3ZM301.4,163.0H347.6V171.0H301.4ZM10.5,339.9H26.1V347.8H10.5ZM33.5,339.9H194.5V347.8H33.5ZM286.1,339.9H347.6V347.8H286.1ZM140.6,77.4H179.2V85.5H140.6ZM270.8,77.4H347.6V85.5H270.8ZM133.0,14.7H179.2V22.9H133.0ZM232.5,14.7H294.0V22.9H232.5ZM309.1,14.7H317.0V22.9H309.1ZM324.4,14.7H347.6V22.9H324.4ZM110.0,286.3H163.9V294.3H110.0ZM286.1,286.3H347.6V294.3H286.1ZM133.0,22.6H179.2V30.7H133.0ZM247.8,22.6H309.4V30.7H247.8ZM324.4,22.6H347.6V30.7H324.4ZM2.9,423.6H148.6V431.4H2.9ZM286.1,423.6H347.6V431.4H286.1ZM2.9,362.8H194.5V370.7H2.9ZM293.7,362.8H347.6V370.7H293.7ZM140.6,69.6H179.2V77.7H140.6ZM263.1,69.6H347.6V77.7H263.1ZM133.0,46.1H179.2V54.2H133.0ZM247.8,46.1H347.6V54.2H247.8ZM2.9,332.2H18.5V340.2H2.9ZM41.1,332.2H56.7V340.2H41.1ZM71.7,332.2H202.2V340.2H71.7ZM286.1,332.2H347.6V340.2H286.1ZM163.6,131.9H171.6V140.0H163.6ZM293.7,131.9H347.6V140.0H293.7ZM117.7,278.7H163.9V286.6H117.7ZM286.1,278.7H347.6V286.6H286.1ZM178.9,217.1H186.9V225.1H178.9ZM278.4,217.1H347.6V225.1H278.4ZM148.3,100.8H171.6V108.9H148.3ZM278.4,100.8H347.6V108.9H278.4ZM286.1,186.2H347.6V194.2H286.1ZM155.9,124.1H171.6V132.2H155.9ZM286.1,124.1H347.6V132.2H286.1ZM133.0,38.2H179.2V46.4H133.0ZM247.8,38.2H347.6V46.4H247.8ZM2.9,416.0H148.6V423.9H2.9ZM286.1,416.0H347.6V423.9H286.1ZM148.3,93.0H179.2V101.1H148.3ZM278.4,93.0H347.6V101.1H278.4ZM232.5,247.9H347.6V255.9H232.5ZM2.9,393.2H148.6V401.1H2.9ZM293.7,393.2H347.6V401.1H293.7ZM125.3,271.0H163.9V279.0H125.3ZM247.8,271.0H263.4V279.0H247.8ZM286.1,271.0H347.6V279.0H286.1ZM171.3,6.8H186.9V15.0H171.3ZM194.2,6.8H202.2V15.0H194.2ZM209.5,6.8H286.4V15.0H209.5ZM301.4,6.8H340.0V15.0H301.4ZM2.9,324.6H10.8V332.5H2.9ZM71.7,324.6H163.9V332.5H71.7ZM186.6,324.6H202.2V332.5H186.6ZM293.7,324.6H347.6V332.5H293.7ZM94.7,301.7H156.2V309.6H94.7ZM293.7,301.7H301.7V309.6H293.7ZM324.4,301.7H347.6V309.6H324.4ZM178.9,240.2H194.5V248.2H178.9ZM232.5,240.2H347.6V248.2H232.5ZM278.4,209.4H347.6V217.4H278.4ZM293.7,155.2H347.6V163.3H293.7ZM133.0,30.4H179.2V38.5H133.0ZM247.8,30.4H324.7V38.5H247.8ZM339.7,30.4H347.6V38.5H339.7ZM286.1,178.5H347.6V186.5H286.1ZM140.6,61.7H179.2V69.9H140.6ZM255.5,61.7H347.6V69.9H255.5ZM171.3,-1.0H186.9V7.1H171.3ZM194.2,-1.0H271.1V7.1H194.2ZM293.7,-1.0H332.3V7.1H293.7ZM102.4,294.0H156.2V302.0H102.4ZM286.1,294.0H309.4V302.0H286.1ZM324.4,294.0H347.6V302.0H324.4ZM293.7,147.5H347.6V155.5H293.7ZM178.9,232.5H194.5V240.5H178.9ZM247.8,232.5H347.6V240.5H247.8ZM278.4,201.7H347.6V209.7H278.4ZM140.6,85.2H179.2V93.3H140.6ZM270.8,85.2H347.6V93.3H270.8ZM140.6,263.3H163.9V271.3H140.6ZM240.2,263.3H263.4V271.3H240.2ZM286.1,263.3H347.6V271.3H286.1Z"/><path fill="#ffcc00" d="M148.3,385.6H286.4V393.5H148.3ZM194.2,224.8H209.8V232.8H194.2ZM240.2,224.8H255.8V232.8H240.2ZM155.9,309.3H294.0V317.3H155.9ZM301.4,309.3H324.7V317.3H301.4ZM148.3,400.8H294.0V408.7H148.3ZM163.6,317.0H286.4V324.9H163.6ZM163.6,255.6H240.5V263.6H163.6ZM201.9,193.9H209.8V202.0H201.9ZM232.5,193.9H286.4V202.0H232.5ZM148.3,408.4H294.0V416.3H148.3ZM194.2,347.5H286.4V355.4H194.2ZM178.9,170.7H209.8V178.8H178.9ZM217.2,170.7H294.0V178.8H217.2ZM171.3,108.6H286.4V116.7H171.3ZM194.2,355.1H294.0V363.1H194.2ZM148.3,378.0H286.4V385.9H148.3ZM171.3,116.4H286.4V124.4H171.3ZM178.9,53.9H248.1V62.0H178.9ZM155.9,370.4H286.4V378.3H155.9ZM171.3,139.7H294.0V147.8H171.3ZM186.6,163.0H202.2V171.0H186.6ZM224.8,163.0H301.7V171.0H224.8ZM194.2,339.9H286.4V347.8H194.2ZM178.9,77.4H271.1V85.5H178.9ZM178.9,14.7H232.8V22.9H178.9ZM163.6,286.3H286.4V294.3H163.6ZM178.9,22.6H248.1V30.7H178.9ZM148.3,423.6H286.4V431.4H148.3ZM194.2,362.8H294.0V370.7H194.2ZM178.9,69.6H263.4V77.7H178.9ZM178.9,46.1H248.1V54.2H178.9ZM201.9,332.2H286.4V340.2H201.9ZM171.3,131.9H294.0V140.0H171.3ZM163.6,278.7H286.4V286.6H163.6ZM194.2,217.1H209.8V225.1H194.2ZM240.2,217.1H248.1V225.1H240.2ZM171.3,100.8H278.7V108.9H171.3ZM178.9,186.2H286.4V194.2H178.9ZM171.3,124.1H286.4V132.2H171.3ZM178.9,38.2H248.1V46.4H178.9ZM148.3,416.0H286.4V423.9H148.3ZM178.9,93.0H278.7V101.1H178.9ZM163.6,247.9H232.8V255.9H163.6ZM148.3,393.2H294.0V401.1H148.3ZM163.6,271.0H248.1V279.0H163.6ZM263.1,271.0H286.4V279.0H263.1ZM186.6,6.8H194.5V15.0H186.6ZM201.9,6.8H209.8V15.0H201.9ZM163.6,324.6H186.9V332.5H163.6ZM201.9,324.6H294.0V332.5H201.9ZM155.9,301.7H294.0V309.6H155.9ZM301.4,301.7H324.7V309.6H301.4ZM194.2,240.2H232.8V248.2H194.2ZM240.2,209.4H248.1V217.4H240.2ZM171.3,155.2H202.2V163.3H171.3ZM224.8,155.2H294.0V163.3H224.8ZM178.9,30.4H248.1V38.5H178.9ZM178.9,178.5H286.4V186.5H178.9ZM178.9,61.7H255.8V69.9H178.9ZM186.6,-1.0H194.5V7.1H186.6ZM155.9,294.0H286.4V302.0H155.9ZM309.1,294.0H324.7V302.0H309.1ZM171.3,147.5H209.8V155.5H171.3ZM217.2,147.5H294.0V155.5H217.2ZM194.2,232.5H217.5V240.5H194.2ZM224.8,232.5H248.1V240.5H224.8ZM232.5,201.7H255.8V209.7H232.5ZM270.8,201.7H278.7V209.7H270.8ZM178.9,85.2H271.1V93.3H178.9ZM163.6,263.3H240.5V271.3H163.6ZM263.1,263.3H286.4V271.3H263.1Z"/><path fill="#800000" d="M209.5,224.8H240.5V232.8H209.5ZM255.5,224.8H271.1V232.8H255.5ZM178.9,193.9H202.2V202.0H178.9ZM209.5,193.9H232.8V202.0H209.5ZM209.5,170.7H217.5V178.8H209.5ZM201.9,163.0H225.1V171.0H201.9ZM186.6,217.1H194.5V225.1H186.6ZM209.5,217.1H240.5V225.1H209.5ZM247.8,217.1H278.7V225.1H247.8ZM178.9,209.4H240.5V217.4H178.9ZM247.8,209.4H278.7V217.4H247.8ZM201.9,155.2H225.1V163.3H201.9ZM209.5,147.5H217.5V155.5H209.5ZM217.2,232.5H225.1V240.5H217.2ZM178.9,201.7H232.8V209.7H178.9ZM255.5,201.7H271.1V209.7H255.5Z"/><path fill="#00008b" d="M25.8,347.5H33.8V355.4H25.8ZM25.8,355.1H33.8V363.1H25.8ZM140.6,53.9H148.6V62.0H140.6ZM2.9,339.9H10.8V347.8H2.9ZM25.8,339.9H33.8V347.8H25.8ZM293.7,14.7H309.4V22.9H293.7ZM316.7,14.7H324.7V22.9H316.7ZM309.1,22.6H324.7V30.7H309.1ZM18.2,332.2H41.4V340.2H18.2ZM2.9,278.7H10.8V286.6H2.9ZM125.3,6.8H171.6V15.0H125.3ZM286.1,6.8H301.7V15.0H286.1ZM339.7,6.8H347.6V15.0H339.7ZM324.4,30.4H340.0V38.5H324.4ZM125.3,-1.0H171.6V7.1H125.3ZM270.8,-1.0H294.0V7.1H270.8ZM332.0,-1.0H347.6V7.1H332.0Z"/></g><path transform="translate(1227,142.5)" d="M259.3,232.6L251.6,228.8M320.7,313.1L320.5,313.3M152.0,381.8L152.0,389.4M197.9,343.7L197.9,351.3M274.6,224.9L270.9,228.7M152.0,404.6L152.0,412.2M290.1,135.8L289.9,135.6M197.9,366.6L190.4,374.0M267.1,81.3L266.9,81.1M244.0,26.3L236.3,26.3M197.9,228.7L190.4,224.9M290.1,366.6L289.9,366.7M305.1,305.5L305.1,313.1M297.7,166.8L297.6,166.7M190.6,10.8L198.1,18.5M274.8,104.7L282.3,112.3M197.9,244.1L190.4,251.6M320.7,297.8L320.7,305.5M320.7,305.5L320.7,313.1M152.0,389.4L152.0,397.0M197.9,351.3L197.9,359.0M167.3,290.2L159.8,297.7M282.4,112.5L282.4,120.2M282.4,343.7L282.4,351.3M290.1,359.0L289.9,358.8M270.9,228.7L266.9,232.6M282.4,197.8L282.3,197.9M152.0,412.2L152.0,419.8M167.3,320.8L159.8,313.3M228.8,18.6L236.3,26.3M289.9,366.7L282.4,374.2M197.9,228.7L197.9,236.4M236.5,259.5L236.5,267.1M290.1,397.0L290.1,404.6M190.2,166.8L182.7,174.4M205.9,10.8L213.4,18.5M167.3,282.5L167.3,290.2M289.9,328.6L282.4,336.1M259.3,282.3L251.6,282.3M182.6,34.3L182.6,42.2M197.9,359.0L197.9,366.6M282.4,120.2L282.4,128.0M251.8,65.6L251.6,65.5M259.4,73.5L259.3,73.3M282.4,351.3L289.9,358.8M290.1,359.0L290.1,366.6M186.5,221.0L182.7,217.2M182.6,57.8L182.6,65.6M274.8,205.5L278.5,213.2M282.4,374.2L282.4,381.8M236.5,267.1L244.0,274.7M182.6,81.3L182.6,89.1M190.4,320.9L182.9,328.4M244.1,26.5L244.0,26.3M282.4,112.5L282.3,112.3M244.1,42.2L244.1,50.0M244.1,274.8L251.6,282.3M205.6,328.4L205.6,336.1M251.8,65.6L259.3,73.3M159.6,305.5L159.6,313.1M205.6,336.1L198.1,343.5M228.7,18.5L221.0,18.5M174.9,128.0L174.9,135.8M182.6,65.6L182.6,73.5M278.5,213.2L278.5,221.0M244.0,236.5L236.3,236.5M267.1,81.3L267.1,89.1M244.1,26.5L244.1,34.3M244.1,50.0L244.1,57.8M205.6,328.4L198.1,320.9M290.1,313.1L289.9,313.3M152.1,381.6L152.0,381.8M198.1,343.5L197.9,343.7M167.3,274.8L167.3,282.5M221.0,18.5L213.4,18.5M290.1,328.4L289.9,328.6M266.8,274.8L259.3,282.3M174.9,135.8L174.9,143.6M282.4,182.3L282.4,190.1M152.0,397.0L152.0,404.6M167.4,374.0L159.8,374.0M236.3,236.5L228.8,244.1M244.1,274.8L244.0,274.7M282.4,290.2L282.4,297.8M290.1,305.5L289.9,305.3M190.2,2.9L190.2,10.8M198.1,320.9L190.4,320.9M167.3,259.5L167.3,267.1M289.9,313.3L282.4,320.8M290.1,328.4L289.9,328.3M266.9,267.0L266.8,267.1M182.6,18.6L182.6,26.5M282.4,336.1L282.4,343.7M282.4,190.1L282.4,197.8M159.8,374.0L159.6,374.2M182.6,42.2L182.6,50.0M282.4,419.8L282.4,427.3M228.8,18.6L228.7,18.5M228.8,244.1L228.8,251.8M236.5,259.5L236.3,259.3M282.4,297.8L289.9,305.3M244.1,236.4L244.0,236.5M190.2,166.8L182.7,159.2M167.3,267.1L167.3,274.8M282.4,320.8L289.9,328.3M266.8,267.1L266.8,274.8M182.6,26.5L182.6,34.3M290.1,143.6L290.1,151.3M305.1,313.1L305.2,313.3M282.3,267.0L274.6,267.0M174.9,112.5L174.9,120.2M159.6,374.2L152.1,381.6M182.6,50.0L182.6,57.8M297.7,166.8L297.6,167.0M228.8,251.8L236.3,259.3M175.1,374.0L167.4,374.0M182.7,159.2L175.1,159.2M305.2,305.3L305.1,305.5M152.0,419.8L152.0,427.3M175.1,104.5L174.9,104.7M175.1,328.6L167.4,328.6M190.6,2.9L190.6,10.8M290.1,151.3L290.1,159.1M274.6,267.0L266.9,267.0M320.5,297.7L312.9,297.7M174.9,120.2L174.9,128.0M297.6,167.0L290.1,174.6M290.1,174.6L289.9,174.7M290.1,404.6L290.1,412.2M251.6,228.8L244.1,236.4M320.5,313.3L312.9,313.3M282.4,274.8L282.4,282.5M282.4,128.0L289.9,135.6M190.4,374.0L182.7,374.0M290.1,135.8L290.1,143.6M259.4,73.5L266.9,81.1M186.5,221.0L190.4,224.9M290.1,305.5L290.1,313.1M174.9,104.7L174.9,112.5M167.3,328.4L167.4,328.6M290.1,159.1L297.6,166.7M190.2,10.8L182.7,18.5M282.4,381.8L282.4,389.4M290.1,397.0L289.9,396.8M190.4,251.6L182.7,251.6M312.9,297.7L312.7,297.8M182.6,89.1L182.6,96.9M289.9,174.7L282.4,182.3M182.9,328.4L182.7,328.6M205.9,10.8L205.7,10.6M274.8,96.9L274.6,96.7M290.1,412.2L289.9,412.3M312.9,313.3L305.2,313.3M282.4,267.1L282.3,267.0M159.8,297.7L159.6,297.8M282.4,282.5L282.4,290.2M266.9,232.6L259.3,232.6M282.3,197.9L274.8,205.5M182.7,374.0L175.1,374.0M159.6,313.1L159.8,313.3M167.3,320.8L167.3,328.4M182.6,73.5L182.6,81.3M278.5,221.0L274.6,224.9M182.7,18.5L182.6,18.6M282.4,389.4L289.9,396.8M312.7,297.8L305.2,305.3M182.6,96.9L175.1,104.5M182.7,328.6L175.1,328.6M205.7,10.6L205.6,10.8M267.1,89.1L274.6,96.7M274.8,96.9L274.8,104.7M289.9,412.3L282.4,419.8M244.1,34.3L244.1,42.2M205.6,10.8L198.1,18.5M197.9,236.4L197.9,244.1M282.4,267.1L282.4,274.8M320.7,297.8L320.5,297.7M159.6,297.8L159.6,305.5M244.1,57.8L251.6,65.5" fill="none" stroke="#000" stroke-width="0.9" stroke-linecap="round"/><text transform="translate(1474.0,212.5) rotate(60)" text-anchor="middle" font-size="14.5" y="5">2</text><text transform="translate(1397.0,280.5) rotate(90)" text-anchor="middle" font-size="14.5" y="5">2</text><text transform="translate(1416.0,387.5) rotate(70)" text-anchor="middle" font-size="14.5" y="5">2</text><text transform="translate(1451.0,394.5) rotate(70)" text-anchor="middle" font-size="14.5" y="5">2</text><text transform="translate(1420.0,500.5) rotate(90)" text-anchor="middle" font-size="14.5" y="5">2</text><text transform="translate(1540.0,445.5) rotate(80)" text-anchor="middle" font-size="14.5" y="5">2</text><text transform="translate(1513.0,555.5) rotate(90)" text-anchor="middle" font-size="14.5" y="5">2</text><text x="1512.2" y="179.6" font-size="20.5">10 km</text><path d="M1534.1,185.7h12.4" stroke="#000" stroke-width="3.6" stroke-linecap="round"/><path d="M1390.0,291.5L1390.0,307.5M1395.7,293.8L1384.3,305.2M1398.0,299.5L1382.0,299.5M1395.7,305.2L1384.3,293.8" stroke="#f00" stroke-width="1.25" fill="none"/><path d="M1398.5,384.5L1398.5,400.5M1404.2,386.8L1392.8,398.2M1406.5,392.5L1390.5,392.5M1404.2,398.2L1392.8,386.8" stroke="#f00" stroke-width="1.25" fill="none"/><path d="M1294.0,455.5L1294.0,471.5M1299.7,457.8L1288.3,469.2M1302.0,463.5L1286.0,463.5M1299.7,469.2L1288.3,457.8" stroke="#f00" stroke-width="1.25" fill="none"/></g><rect x="1227" y="142.8" width="348" height="427.2" fill="none" stroke="#1a1a1a" stroke-width="1.5"/><path d="M1285.0,142.5v4M1285.0,570.0v-4M1343.0,142.5v4M1343.0,570.0v-4M1401.0,142.5v4M1401.0,570.0v-4M1459.0,142.5v4M1459.0,570.0v-4M1517.0,142.5v4M1517.0,570.0v-4M1227.0,214.9h4M1575.0,214.9h-4M1227.0,286.8h4M1575.0,286.8h-4M1227.0,358.2h4M1575.0,358.2h-4M1227.0,429.3h4M1575.0,429.3h-4M1227.0,499.8h4M1575.0,499.8h-4" stroke="#1a1a1a" stroke-width="0.9" fill="none"/><text x="1219.5" y="149.1" text-anchor="end" font-size="20.5">37°N</text><text x="1219.5" y="293.4" text-anchor="end" font-size="20.5">36°N</text><text x="1219.5" y="435.9" text-anchor="end" font-size="20.5">35°N</text><text x="1219.5" y="576.6" text-anchor="end" font-size="20.5">34°N</text><text x="1220.5" y="220.5" text-anchor="end" font-size="14.8">30'</text><text x="1220.5" y="363.8" text-anchor="end" font-size="14.8">30'</text><text x="1220.5" y="505.4" text-anchor="end" font-size="14.8">30'</text><text x="1229.5" y="591.0" text-anchor="middle" font-size="20.5">77°W</text><text x="1345.5" y="591.0" text-anchor="middle" font-size="20.5">76°W</text><text x="1461.5" y="591.0" text-anchor="middle" font-size="20.5">75°W</text><text x="1577.5" y="591.0" text-anchor="middle" font-size="20.5">74°W</text><text x="1285.0" y="586.5" text-anchor="middle" font-size="14.8">30'</text><text x="1401.0" y="586.5" text-anchor="middle" font-size="14.8">30'</text><text x="1517.0" y="586.5" text-anchor="middle" font-size="14.8">30'</text><text x="1401.0" y="130.3" text-anchor="middle" font-size="20.8" font-weight="bold">Number of Sites (2)</text><text x="1230.8" y="149.2" text-anchor="middle" font-size="17.2" fill="#262626">0</text><text x="1267.8" y="149.2" text-anchor="middle" font-size="17.2" fill="#262626">1</text><text x="1304.8" y="149.2" text-anchor="middle" font-size="17.2" fill="#262626">2</text><text x="1341.8" y="149.2" text-anchor="middle" font-size="17.2" fill="#262626">3</text><rect x="1230.8" y="162.8" width="111.0" height="24.6" fill="url(#jet)" stroke="#262626" stroke-width="1.1"/><path d="M1230.8,162.8v2.2M1267.8,162.8v2.2M1304.8,162.8v2.2M1341.8,162.8v2.2" stroke="#262626" stroke-width="0.8"/><g clip-path="url(#cp5)"><use href="#land" x="75" y="742.5"/><path d="M133.0,742.5V1170.0M191.0,742.5V1170.0M249.0,742.5V1170.0M307.0,742.5V1170.0M365.0,742.5V1170.0M75.0,814.9H423.0M75.0,886.8H423.0M75.0,958.2H423.0M75.0,1029.3H423.0M75.0,1099.8H423.0" stroke="#6e6e6e" stroke-width="0.8" stroke-dasharray="2,6.3" fill="none" opacity="0.8"/><path d="M349.2,741.5 346.5,757.5 343.6,778.5 339.0,797.0 334.5,814.5 330.5,829.0 328.5,842.5 326.0,860.5 322.0,887.5 320.0,912.5 323.0,924.5 326.0,936.5 327.0,951.5 322.0,965.5 315.0,973.5 308.0,980.5 296.0,995.5 284.0,1011.5 272.0,1024.5 258.0,1042.5 244.0,1059.5 228.0,1080.5 212.0,1100.5 192.0,1124.5 172.0,1148.5 153.0,1171.5" fill="none" stroke="#000" stroke-width="0.9"/><circle cx="336.3" cy="798.5" r="2.1" fill="#fff" stroke="#000" stroke-width="0.8"/><g transform="translate(332.0,825.5) rotate(-82)"><rect x="-13" y="-7" width="26" height="14" fill="#fff"/><text x="0" y="5.2" text-anchor="middle" font-size="14.5">100</text></g><g transform="translate(250.0,1051.5) rotate(-52)"><rect x="-13" y="-7" width="26" height="14" fill="#fff"/><text x="0" y="5.2" text-anchor="middle" font-size="14.5">100</text></g><g transform="translate(75,742.5)" fill="none" stroke-linecap="round" stroke-width="3.1"><path stroke="#f00" d="M160.9,150.0h.01M161.5,149.8h.01M162.1,149.7h.01M162.7,149.7h.01M163.4,149.7h.01M164.0,149.7h.01M164.7,149.8h.01M165.3,150.0h.01M165.9,150.2h.01M166.5,150.5h.01M167.0,150.8h.01M167.5,151.2h.01M168.0,151.6h.01M168.5,152.1h.01M168.9,152.6h.01M169.2,153.1h.01M169.5,153.7h.01M169.8,154.2h.01M170.0,154.9h.01M170.2,155.5h.01M170.3,156.1h.01M170.3,156.7h.01M170.3,157.4h.01M170.3,158.0h.01M170.2,158.7h.01M170.0,159.3h.01M169.8,159.9h.01M169.5,160.5h.01M169.2,161.0h.01M168.8,161.5h.01M168.4,162.0h.01M167.9,162.5h.01M167.4,162.9h.01M158.7,142.9h.01M159.9,142.6h.01M161.2,142.4h.01M162.5,142.3h.01M163.8,142.3h.01M165.0,142.4h.01M166.3,142.7h.01M167.5,143.0h.01M168.7,143.5h.01M169.9,144.0h.01M171.0,144.7h.01M172.1,145.4h.01M173.0,146.2h.01M173.9,147.2h.01M174.7,148.2h.01M175.5,149.2h.01M176.1,150.3h.01M176.6,151.5h.01M177.1,152.7h.01M177.4,153.9h.01M177.6,155.2h.01M177.7,156.5h.01M177.7,157.8h.01M177.6,159.0h.01M177.3,160.3h.01M177.0,161.5h.01M176.5,162.7h.01M176.0,163.9h.01M175.3,165.0h.01M174.6,166.1h.01M173.8,167.0h.01M172.8,167.9h.01M171.8,168.7h.01M170.8,169.5h.01M156.6,135.9h.01M158.4,135.4h.01M160.3,135.1h.01M162.2,135.0h.01M164.2,135.0h.01M166.1,135.2h.01M168.0,135.5h.01M169.8,136.0h.01M171.6,136.7h.01M173.4,137.5h.01M175.0,138.5h.01M176.6,139.6h.01M178.0,140.9h.01M179.4,142.2h.01M180.6,143.7h.01M181.7,145.3h.01M182.6,147.0h.01M183.4,148.7h.01M184.1,150.6h.01M184.6,152.4h.01M184.9,154.3h.01M185.0,156.2h.01M185.0,158.2h.01M184.8,160.1h.01M184.5,162.0h.01M184.0,163.8h.01M183.3,165.6h.01M182.5,167.4h.01M181.5,169.0h.01M180.4,170.6h.01M179.1,172.0h.01M177.8,173.4h.01M176.3,174.6h.01M174.7,175.7h.01M154.4,128.9h.01M156.9,128.2h.01M159.4,127.8h.01M162.0,127.6h.01M164.5,127.6h.01M167.1,127.9h.01M169.6,128.4h.01M172.1,129.0h.01M174.5,129.9h.01M176.8,131.0h.01M179.0,132.3h.01M181.1,133.8h.01M183.1,135.5h.01M184.8,137.3h.01M186.5,139.3h.01M187.9,141.4h.01M189.2,143.7h.01M190.3,146.0h.01M191.1,148.4h.01M191.8,150.9h.01M192.2,153.4h.01M192.4,156.0h.01M192.4,158.5h.01M192.1,161.1h.01M191.6,163.6h.01M191.0,166.1h.01M190.1,168.5h.01M189.0,170.8h.01M187.7,173.0h.01M186.2,175.1h.01M184.5,177.1h.01M182.7,178.8h.01M180.7,180.5h.01M178.6,181.9h.01M176.3,183.2h.01M152.3,121.9h.01M155.4,121.1h.01M158.5,120.5h.01M161.7,120.3h.01M164.9,120.3h.01M168.1,120.6h.01M171.3,121.2h.01M174.4,122.0h.01M177.4,123.2h.01M180.3,124.6h.01M183.0,126.2h.01M185.6,128.0h.01M188.1,130.1h.01M190.3,132.4h.01M192.3,134.9h.01M194.2,137.5h.01M195.7,140.3h.01M197.1,143.2h.01M198.1,146.3h.01M198.9,149.4h.01M199.5,152.5h.01M199.7,155.7h.01M199.7,158.9h.01M199.4,162.1h.01M198.8,165.3h.01M198.0,168.4h.01M196.8,171.4h.01M195.4,174.3h.01M193.8,177.0h.01M192.0,179.6h.01M189.9,182.1h.01M187.6,184.3h.01M185.1,186.3h.01M182.5,188.2h.01M179.7,189.7h.01M150.1,114.8h.01M153.8,113.9h.01M157.6,113.2h.01M161.5,112.9h.01M165.3,113.0h.01M169.1,113.3h.01M172.9,114.0h.01M176.6,115.1h.01M180.2,116.4h.01M183.7,118.1h.01M187.0,120.0h.01M190.2,122.2h.01M193.1,124.7h.01M195.8,127.5h.01M198.2,130.5h.01M200.4,133.6h.01M202.3,137.0h.01M203.9,140.5h.01M205.2,144.1h.01M206.1,147.8h.01M206.8,151.6h.01M207.1,155.5h.01M207.0,159.3h.01M206.7,163.1h.01M206.0,166.9h.01M204.9,170.6h.01M203.6,174.2h.01M201.9,177.7h.01M200.0,181.0h.01M197.8,184.2h.01M195.3,187.1h.01M192.5,189.8h.01M189.5,192.2h.01M186.4,194.4h.01M183.0,196.3h.01M148.0,107.8h.01M152.3,106.7h.01M156.7,105.9h.01M161.2,105.6h.01M165.7,105.6h.01M170.2,106.1h.01M174.6,106.9h.01M178.9,108.1h.01M183.1,109.6h.01M187.2,111.6h.01M191.0,113.9h.01M194.7,116.5h.01M198.1,119.4h.01M201.2,122.6h.01M204.1,126.0h.01M206.6,129.7h.01M208.8,133.6h.01M210.7,137.7h.01M212.2,142.0h.01M213.3,146.3h.01M214.1,150.7h.01M214.4,155.2h.01M214.4,159.7h.01M213.9,164.2h.01M213.1,168.6h.01M211.9,172.9h.01M210.4,177.1h.01M208.4,181.2h.01M206.1,185.0h.01M203.5,188.7h.01M200.6,192.1h.01M197.4,195.2h.01M194.0,198.1h.01M190.3,200.6h.01M186.4,202.8h.01M145.8,100.8h.01M150.8,99.5h.01M155.8,98.6h.01M160.9,98.2h.01M166.1,98.3h.01M171.2,98.8h.01M176.2,99.7h.01M181.2,101.1h.01M186.0,102.9h.01M190.6,105.1h.01M195.0,107.7h.01M199.2,110.7h.01M203.1,114.0h.01M206.7,117.7h.01M210.0,121.6h.01M212.9,125.8h.01M215.4,130.3h.01M217.5,135.0h.01M219.2,139.8h.01M220.5,144.8h.01M221.4,149.8h.01M221.8,154.9h.01M221.7,160.1h.01M221.2,165.2h.01M220.3,170.2h.01M218.9,175.2h.01M217.1,180.0h.01M214.9,184.6h.01M212.3,189.0h.01M209.3,193.2h.01M206.0,197.1h.01M202.3,200.7h.01M198.4,204.0h.01M194.2,206.9h.01M189.7,209.4h.01M143.7,93.7h.01M149.2,92.3h.01M154.9,91.3h.01M160.7,90.9h.01M166.5,90.9h.01M172.2,91.5h.01M177.9,92.5h.01M183.4,94.1h.01M188.8,96.1h.01M194.1,98.6h.01M199.0,101.5h.01M203.7,104.9h.01M208.1,108.6h.01M212.2,112.7h.01M215.8,117.2h.01M219.1,121.9h.01M221.9,127.0h.01M224.3,132.2h.01M226.3,137.7h.01M227.7,143.2h.01M228.7,148.9h.01M229.1,154.7h.01M229.1,160.5h.01M228.5,166.2h.01M227.5,171.9h.01M225.9,177.4h.01M223.9,182.8h.01M221.4,188.1h.01M218.5,193.0h.01M215.1,197.7h.01M211.4,202.1h.01M207.3,206.2h.01M202.8,209.8h.01M198.1,213.1h.01M193.0,215.9h.01M141.5,86.7h.01M147.7,85.1h.01M154.0,84.0h.01M160.4,83.5h.01M166.8,83.6h.01M173.2,84.2h.01M179.5,85.4h.01M185.7,87.1h.01M191.7,89.3h.01M197.5,92.1h.01M203.0,95.4h.01M208.3,99.1h.01M213.1,103.2h.01M217.6,107.8h.01M221.7,112.8h.01M225.3,118.1h.01M228.5,123.6h.01M231.1,129.5h.01M233.3,135.5h.01M234.9,141.7h.01M236.0,148.0h.01M236.5,154.4h.01M236.4,160.8h.01M235.8,167.2h.01M234.6,173.5h.01M232.9,179.7h.01M230.7,185.7h.01M227.9,191.5h.01M224.6,197.0h.01M220.9,202.3h.01M216.8,207.1h.01M212.2,211.6h.01M207.2,215.7h.01M201.9,219.3h.01M196.4,222.5h.01M139.4,79.7h.01M146.2,77.9h.01M153.1,76.8h.01M160.2,76.2h.01M167.2,76.3h.01M174.3,76.9h.01M181.2,78.2h.01M188.0,80.1h.01M194.6,82.6h.01M201.0,85.6h.01M207.0,89.2h.01M212.8,93.3h.01M218.1,97.9h.01M223.1,102.9h.01M227.6,108.3h.01M231.6,114.2h.01M235.0,120.3h.01M238.0,126.7h.01M240.3,133.4h.01M242.1,140.2h.01M243.2,147.1h.01M243.8,154.2h.01M243.7,161.2h.01M243.1,168.3h.01M241.8,175.2h.01M239.9,182.0h.01M237.4,188.6h.01M234.4,195.0h.01M230.8,201.0h.01M226.7,206.8h.01M222.1,212.1h.01M217.1,217.1h.01M211.7,221.6h.01M205.8,225.6h.01M199.7,229.0h.01M137.2,72.7h.01M144.7,70.7h.01M152.3,69.5h.01M159.9,68.9h.01M167.6,68.9h.01M175.3,69.7h.01M182.8,71.1h.01M190.3,73.1h.01M197.5,75.8h.01M204.4,79.1h.01M211.0,83.0h.01M217.3,87.5h.01M223.2,92.5h.01M228.5,98.0h.01M233.4,103.9h.01M237.8,110.3h.01M241.6,117.0h.01M244.8,124.0h.01M247.3,131.2h.01M249.3,138.7h.01M250.5,146.3h.01M251.1,153.9h.01M251.1,161.6h.01M250.3,169.3h.01M248.9,176.8h.01M246.9,184.3h.01M244.2,191.5h.01M240.9,198.4h.01M237.0,205.0h.01M232.5,211.3h.01M227.5,217.2h.01M222.0,222.5h.01M216.1,227.4h.01M209.7,231.8h.01M203.0,235.6h.01M135.1,65.6h.01M143.1,63.5h.01M151.4,62.2h.01M159.7,61.5h.01M168.0,61.6h.01M176.3,62.4h.01M184.5,63.9h.01M192.5,66.1h.01M200.3,69.0h.01M207.9,72.6h.01M215.0,76.9h.01M221.8,81.7h.01M228.2,87.1h.01M234.0,93.1h.01M239.3,99.5h.01M244.0,106.4h.01M248.1,113.6h.01M251.6,121.2h.01M254.4,129.1h.01M256.5,137.1h.01M257.8,145.4h.01M258.5,153.7h.01M258.4,162.0h.01M257.6,170.3h.01M256.1,178.5h.01M253.9,186.5h.01M251.0,194.3h.01M247.4,201.9h.01M243.1,209.0h.01M238.3,215.8h.01M232.9,222.2h.01M226.9,228.0h.01M220.5,233.3h.01M213.6,238.0h.01M206.4,242.1h.01M132.9,58.6h.01M141.6,56.3h.01M150.5,54.9h.01M159.4,54.2h.01M168.4,54.2h.01M177.3,55.1h.01M186.1,56.7h.01M194.8,59.1h.01M203.2,62.3h.01M211.3,66.1h.01M219.0,70.7h.01M226.4,75.9h.01M233.2,81.7h.01M239.5,88.1h.01M245.2,95.1h.01M250.3,102.5h.01M254.7,110.3h.01M258.4,118.5h.01M261.4,126.9h.01M263.7,135.6h.01M265.1,144.5h.01M265.8,153.4h.01M265.8,162.4h.01M264.9,171.3h.01M263.3,180.1h.01M260.9,188.8h.01M257.7,197.2h.01M253.9,205.3h.01M249.3,213.0h.01M244.1,220.4h.01M238.3,227.2h.01M231.9,233.5h.01M224.9,239.2h.01M217.5,244.3h.01M209.7,248.7h.01M130.8,51.6h.01M140.1,49.2h.01M149.6,47.6h.01M159.2,46.8h.01M168.8,46.9h.01M178.3,47.8h.01M187.8,49.6h.01M197.1,52.1h.01M206.1,55.5h.01M214.8,59.7h.01M223.0,64.5h.01M230.9,70.1h.01M238.2,76.4h.01M244.9,83.2h.01M251.0,90.6h.01M256.5,98.6h.01M261.2,106.9h.01M265.2,115.7h.01M268.4,124.8h.01M270.8,134.1h.01M272.4,143.6h.01M273.2,153.2h.01M273.1,162.8h.01M272.2,172.3h.01M270.4,181.8h.01M267.9,191.1h.01M264.5,200.1h.01M260.3,208.8h.01M255.5,217.0h.01M249.9,224.9h.01M243.6,232.2h.01M236.8,238.9h.01M229.4,245.0h.01M221.4,250.5h.01M213.1,255.2h.01M128.6,44.5h.01M138.5,42.0h.01M148.7,40.3h.01M158.9,39.5h.01M169.2,39.6h.01M179.4,40.5h.01M189.5,42.4h.01M199.3,45.2h.01M208.9,48.7h.01M218.2,53.2h.01M227.0,58.4h.01M235.4,64.3h.01M243.2,71.0h.01M250.4,78.3h.01M256.9,86.2h.01M262.7,94.7h.01M267.8,103.6h.01M272.0,112.9h.01M275.5,122.6h.01M278.0,132.5h.01M279.7,142.7h.01M280.5,152.9h.01M280.4,163.2h.01M279.5,173.4h.01M277.6,183.5h.01M274.8,193.3h.01M271.3,202.9h.01M266.8,212.2h.01M261.6,221.0h.01M255.7,229.4h.01M249.0,237.2h.01M241.7,244.4h.01M233.8,250.9h.01M225.3,256.7h.01M216.4,261.8h.01M126.5,37.5h.01M137.0,34.8h.01M147.8,33.0h.01M158.6,32.1h.01M169.5,32.2h.01M180.4,33.3h.01M191.1,35.3h.01M201.6,38.2h.01M211.8,42.0h.01M221.7,46.7h.01M231.1,52.2h.01M239.9,58.5h.01M248.2,65.6h.01M255.9,73.4h.01M262.8,81.8h.01M269.0,90.8h.01M274.3,100.3h.01M278.9,110.2h.01M282.5,120.5h.01M169.9,24.9h.01M181.4,26.0h.01M192.8,28.1h.01M203.9,31.2h.01M214.7,35.2h.01M225.1,40.2h.01M235.1,46.0h.01M244.5,52.7h.01M253.2,60.2h.01M261.3,68.5h.01M268.7,77.4h.01M275.2,86.9h.01M280.9,96.9h.01M170.3,17.5h.01M182.4,18.7h.01M194.4,20.9h.01M206.2,24.2h.01M217.6,28.5h.01M228.6,33.7h.01M239.1,39.9h.01M249.0,47.0h.01M258.2,54.9h.01M266.8,63.6h.01M274.5,73.0h.01M281.4,83.0h.01"/><path stroke="#0f0" d="M174.4,243.2h.01M175.0,243.5h.01M175.5,243.8h.01M176.0,244.2h.01M176.5,244.6h.01M177.0,245.1h.01M177.4,245.6h.01M177.7,246.1h.01M178.0,246.7h.01M178.3,247.2h.01M178.5,247.9h.01M178.7,248.5h.01M178.8,249.1h.01M178.8,249.7h.01M178.8,250.4h.01M178.8,251.0h.01M178.7,251.7h.01M178.5,252.3h.01M178.3,252.9h.01M178.0,253.5h.01M177.7,254.0h.01M177.3,254.5h.01M176.9,255.0h.01M176.4,255.5h.01M175.9,255.9h.01M175.4,256.2h.01M174.8,256.5h.01M174.3,256.8h.01M173.6,257.0h.01M173.0,257.2h.01M172.4,257.3h.01M171.8,257.3h.01M171.1,257.3h.01M170.5,257.3h.01M169.8,257.2h.01M169.2,257.0h.01M168.6,256.8h.01M176.0,236.0h.01M177.2,236.5h.01M178.4,237.0h.01M179.5,237.7h.01M180.6,238.4h.01M181.5,239.2h.01M182.4,240.2h.01M183.2,241.2h.01M184.0,242.2h.01M184.6,243.3h.01M185.1,244.5h.01M185.6,245.7h.01M185.9,246.9h.01M186.1,248.2h.01M186.2,249.5h.01M186.2,250.8h.01M186.1,252.0h.01M185.8,253.3h.01M185.5,254.5h.01M185.0,255.7h.01M184.5,256.9h.01M183.8,258.0h.01M183.1,259.1h.01M182.3,260.0h.01M181.3,260.9h.01M180.3,261.7h.01M179.3,262.5h.01M178.2,263.1h.01M177.0,263.6h.01M175.8,264.1h.01M174.6,264.4h.01M173.3,264.6h.01M172.0,264.7h.01M170.7,264.7h.01M169.5,264.6h.01M168.2,264.3h.01M167.0,264.0h.01M165.8,263.5h.01M178.3,229.0h.01M180.1,229.7h.01M181.9,230.5h.01M183.5,231.5h.01M185.1,232.6h.01M186.5,233.9h.01M187.9,235.2h.01M189.1,236.7h.01M190.2,238.3h.01M191.1,240.0h.01M191.9,241.7h.01M192.6,243.6h.01M193.1,245.4h.01M193.4,247.3h.01M193.5,249.2h.01M193.5,251.2h.01M193.3,253.1h.01M193.0,255.0h.01M192.5,256.8h.01M191.8,258.6h.01M191.0,260.4h.01M190.0,262.0h.01M188.9,263.6h.01M187.6,265.0h.01M186.3,266.4h.01M184.8,267.6h.01M183.2,268.7h.01M181.5,269.6h.01M179.8,270.4h.01M177.9,271.1h.01M176.1,271.6h.01M174.2,271.9h.01M172.3,272.0h.01M170.3,272.0h.01M168.4,271.8h.01M166.5,271.5h.01M164.7,271.0h.01M162.9,270.3h.01M178.1,221.4h.01M180.6,222.0h.01M183.0,222.9h.01M185.3,224.0h.01M187.5,225.3h.01M189.6,226.8h.01M191.6,228.5h.01M193.3,230.3h.01M195.0,232.3h.01M196.4,234.4h.01M197.7,236.7h.01M198.8,239.0h.01M199.6,241.4h.01M200.3,243.9h.01M200.7,246.4h.01M200.9,249.0h.01M200.9,251.5h.01M200.6,254.1h.01M200.1,256.6h.01M199.5,259.1h.01M198.6,261.5h.01M197.5,263.8h.01M196.2,266.0h.01M194.7,268.1h.01M193.0,270.1h.01M191.2,271.8h.01M189.2,273.5h.01M187.1,274.9h.01M184.8,276.2h.01M182.5,277.3h.01M180.1,278.1h.01M177.6,278.8h.01M175.1,279.2h.01M172.5,279.4h.01M170.0,279.4h.01M167.4,279.1h.01M164.9,278.6h.01M162.4,278.0h.01M160.0,277.1h.01M179.8,214.2h.01M182.9,215.0h.01M185.9,216.2h.01M188.8,217.6h.01M191.5,219.2h.01M194.1,221.0h.01M196.6,223.1h.01M198.8,225.4h.01M200.8,227.9h.01M202.7,230.5h.01M204.2,233.3h.01M205.6,236.2h.01M206.6,239.3h.01M207.4,242.4h.01M208.0,245.5h.01M208.2,248.7h.01M208.2,251.9h.01M207.9,255.1h.01M207.3,258.3h.01M206.5,261.4h.01M205.3,264.4h.01M203.9,267.3h.01M202.3,270.0h.01M200.5,272.6h.01M198.4,275.1h.01M196.1,277.3h.01M193.6,279.3h.01M191.0,281.2h.01M188.2,282.7h.01M185.3,284.1h.01M182.2,285.1h.01M179.1,285.9h.01M176.0,286.5h.01M172.8,286.7h.01M169.6,286.7h.01M166.4,286.4h.01M163.2,285.8h.01M160.1,285.0h.01M157.1,283.8h.01M181.4,207.0h.01M185.1,208.1h.01M188.7,209.4h.01M192.2,211.1h.01M195.5,213.0h.01M198.7,215.2h.01M201.6,217.7h.01M204.3,220.5h.01M206.7,223.5h.01M208.9,226.6h.01M210.8,230.0h.01M212.4,233.5h.01M213.7,237.1h.01M214.6,240.8h.01M215.3,244.6h.01M215.6,248.5h.01M215.5,252.3h.01M215.2,256.1h.01M214.5,259.9h.01M213.4,263.6h.01M212.1,267.2h.01M210.4,270.7h.01M208.5,274.0h.01M206.3,277.2h.01M203.8,280.1h.01M201.0,282.8h.01M198.0,285.2h.01M194.9,287.4h.01M191.5,289.3h.01M188.0,290.9h.01M184.4,292.2h.01M180.7,293.1h.01M176.9,293.8h.01M173.0,294.1h.01M169.2,294.0h.01M165.4,293.7h.01M161.6,293.0h.01M157.9,291.9h.01M154.3,290.6h.01M183.1,199.9h.01M187.4,201.1h.01M191.6,202.6h.01M195.7,204.6h.01M199.5,206.9h.01M203.2,209.5h.01M206.6,212.4h.01M209.7,215.6h.01M212.6,219.0h.01M215.1,222.7h.01M217.3,226.6h.01M219.2,230.7h.01M220.7,235.0h.01M221.8,239.3h.01M222.6,243.7h.01M222.9,248.2h.01M222.9,252.7h.01M222.4,257.2h.01M221.6,261.6h.01M220.4,265.9h.01M218.9,270.1h.01M216.9,274.2h.01M214.6,278.0h.01M212.0,281.7h.01M209.1,285.1h.01M205.9,288.2h.01M202.5,291.1h.01M198.8,293.6h.01M194.9,295.8h.01M190.8,297.7h.01M186.5,299.2h.01M182.2,300.3h.01M177.8,301.1h.01M173.3,301.4h.01M168.8,301.4h.01M164.3,300.9h.01M159.9,300.1h.01M155.6,298.9h.01M151.4,297.4h.01M179.7,191.8h.01M184.7,192.7h.01M189.7,194.1h.01M194.5,195.9h.01M199.1,198.1h.01M203.5,200.7h.01M207.7,203.7h.01M211.6,207.0h.01M215.2,210.7h.01M218.5,214.6h.01M221.4,218.8h.01M223.9,223.3h.01M226.0,228.0h.01M227.7,232.8h.01M229.0,237.8h.01M229.9,242.8h.01M230.3,247.9h.01M230.2,253.1h.01M229.7,258.2h.01M228.8,263.2h.01M227.4,268.2h.01M225.6,273.0h.01M223.4,277.6h.01M220.8,282.0h.01M217.8,286.2h.01M214.5,290.1h.01M210.8,293.7h.01M206.9,297.0h.01M202.7,299.9h.01M198.2,302.4h.01M193.5,304.5h.01M188.7,306.2h.01M183.7,307.5h.01M178.7,308.4h.01M173.6,308.8h.01M168.4,308.7h.01M163.3,308.2h.01M158.3,307.3h.01M153.3,305.9h.01M148.5,304.1h.01M180.7,184.5h.01M186.4,185.5h.01M191.9,187.1h.01M197.3,189.1h.01M202.6,191.6h.01M207.5,194.5h.01M212.2,197.9h.01M216.6,201.6h.01M220.7,205.7h.01M224.3,210.2h.01M227.6,214.9h.01M230.4,220.0h.01M232.8,225.2h.01M234.8,230.7h.01M236.2,236.2h.01M237.2,241.9h.01M237.6,247.7h.01M237.6,253.5h.01M237.0,259.2h.01M236.0,264.9h.01M234.4,270.4h.01M232.4,275.8h.01M229.9,281.1h.01M227.0,286.0h.01M223.6,290.7h.01M219.9,295.1h.01M215.8,299.2h.01M211.3,302.8h.01M206.6,306.1h.01M201.5,308.9h.01M196.3,311.3h.01M190.8,313.3h.01M185.3,314.7h.01M179.6,315.7h.01M173.8,316.1h.01M168.0,316.1h.01M162.3,315.5h.01M156.6,314.5h.01M151.1,312.9h.01M145.7,310.9h.01M175.3,176.6h.01M181.7,177.2h.01M188.0,178.4h.01M194.2,180.1h.01M200.2,182.3h.01M206.0,185.1h.01M211.5,188.4h.01M216.8,192.1h.01M221.6,196.2h.01M226.1,200.8h.01M230.2,205.8h.01M233.8,211.1h.01M237.0,216.6h.01M239.6,222.5h.01M241.8,228.5h.01M243.4,234.7h.01M244.5,241.0h.01M245.0,247.4h.01M244.9,253.8h.01M244.3,260.2h.01M243.1,266.5h.01M241.4,272.7h.01M239.2,278.7h.01M236.4,284.5h.01M233.1,290.0h.01M229.4,295.3h.01M225.3,300.1h.01M220.7,304.6h.01M215.7,308.7h.01M210.4,312.3h.01M204.9,315.5h.01M199.0,318.1h.01M193.0,320.3h.01M186.8,321.9h.01M180.5,323.0h.01M174.1,323.5h.01M167.7,323.4h.01M161.3,322.8h.01M155.0,321.6h.01M148.8,319.9h.01M142.8,317.7h.01M175.7,169.3h.01M182.8,169.9h.01M189.7,171.2h.01M196.5,173.1h.01M203.1,175.6h.01M209.5,178.6h.01M215.5,182.2h.01M221.3,186.3h.01M226.6,190.9h.01M231.6,195.9h.01M236.1,201.3h.01M240.1,207.2h.01M243.5,213.3h.01M246.5,219.7h.01M248.8,226.4h.01M250.6,233.2h.01M251.7,240.1h.01M252.3,247.2h.01M252.2,254.2h.01M251.6,261.3h.01M250.3,268.2h.01M248.4,275.0h.01M245.9,281.6h.01M242.9,288.0h.01M239.3,294.0h.01M235.2,299.8h.01M230.6,305.1h.01M225.6,310.1h.01M220.2,314.6h.01M214.3,318.6h.01M208.2,322.0h.01M201.8,325.0h.01M195.1,327.3h.01M188.3,329.1h.01M181.4,330.2h.01M174.3,330.8h.01M167.3,330.7h.01M160.2,330.1h.01M153.3,328.8h.01M146.5,326.9h.01M139.9,324.4h.01M176.1,161.9h.01M183.8,162.7h.01M191.3,164.1h.01M198.8,166.1h.01M206.0,168.8h.01M212.9,172.1h.01M219.5,176.0h.01M225.8,180.5h.01M231.7,185.5h.01M237.0,191.0h.01M241.9,196.9h.01M246.3,203.3h.01M250.1,210.0h.01M253.3,217.0h.01M255.8,224.2h.01M257.8,231.7h.01M259.0,239.3h.01M259.6,246.9h.01M259.6,254.6h.01M258.8,262.3h.01M257.4,269.8h.01M255.4,277.3h.01M252.7,284.5h.01M249.4,291.4h.01M245.5,298.0h.01M241.0,304.3h.01M236.0,310.2h.01M230.5,315.5h.01M224.6,320.4h.01M218.2,324.8h.01M211.5,328.6h.01M204.5,331.8h.01M197.3,334.3h.01M189.8,336.3h.01M182.2,337.5h.01M174.6,338.1h.01M166.9,338.1h.01M159.2,337.3h.01M151.7,335.9h.01M144.2,333.9h.01M137.0,331.2h.01M176.5,154.6h.01M184.8,155.4h.01M193.0,156.9h.01M201.0,159.1h.01M208.8,162.0h.01M216.4,165.6h.01M223.5,169.9h.01M230.3,174.7h.01M236.7,180.1h.01M242.5,186.1h.01M247.8,192.5h.01M252.5,199.4h.01M256.6,206.6h.01M260.1,214.2h.01M262.9,222.1h.01M265.0,230.1h.01M266.3,238.4h.01M267.0,246.7h.01M266.9,255.0h.01M266.1,263.3h.01M264.6,271.5h.01M262.4,279.5h.01M259.5,287.3h.01M255.9,294.9h.01M251.6,302.0h.01M246.8,308.8h.01M241.4,315.2h.01M235.4,321.0h.01M229.0,326.3h.01M222.1,331.0h.01M214.9,335.1h.01M207.3,338.6h.01M199.4,341.4h.01M191.4,343.5h.01M183.1,344.8h.01M174.8,345.5h.01M166.5,345.4h.01M158.2,344.6h.01M150.0,343.1h.01M142.0,340.9h.01M134.2,338.0h.01M176.9,147.2h.01M185.8,148.1h.01M194.6,149.7h.01M203.3,152.1h.01M211.7,155.3h.01M219.8,159.1h.01M227.5,163.7h.01M234.9,168.9h.01M241.7,174.7h.01M248.0,181.1h.01M253.7,188.1h.01M258.8,195.5h.01M263.2,203.3h.01M266.9,211.5h.01M269.9,219.9h.01M272.2,228.6h.01M273.6,237.5h.01M274.3,246.4h.01M274.3,255.4h.01M273.4,264.3h.01M271.8,273.1h.01M269.4,281.8h.01M266.2,290.2h.01M262.4,298.3h.01M257.8,306.0h.01M252.6,313.4h.01M246.8,320.2h.01M240.4,326.5h.01M233.4,332.2h.01M226.0,337.3h.01M218.2,341.7h.01M210.0,345.4h.01M201.6,348.4h.01M192.9,350.7h.01M184.0,352.1h.01M175.1,352.8h.01M166.1,352.8h.01M157.2,351.9h.01M148.4,350.3h.01M139.7,347.9h.01M131.3,344.7h.01M177.3,139.9h.01M186.8,140.8h.01M196.3,142.6h.01M205.6,145.1h.01M214.6,148.5h.01M223.3,152.7h.01M231.5,157.5h.01M239.4,163.1h.01M246.7,169.4h.01M253.4,176.2h.01M259.5,183.6h.01M265.0,191.6h.01M269.7,199.9h.01M273.7,208.7h.01M276.9,217.8h.01M279.3,227.1h.01M280.9,236.6h.01M281.7,246.2h.01M281.6,255.8h.01M280.7,265.3h.01M278.9,274.8h.01M276.4,284.1h.01M273.0,293.1h.01M268.8,301.8h.01M264.0,310.0h.01M258.4,317.9h.01M252.1,325.2h.01M245.3,331.9h.01M237.9,338.0h.01M229.9,343.5h.01M221.6,348.2h.01M212.8,352.2h.01M203.7,355.4h.01M194.4,357.8h.01M184.9,359.4h.01M175.3,360.2h.01M165.7,360.1h.01M156.2,359.2h.01M146.7,357.4h.01M137.4,354.9h.01M128.4,351.5h.01M177.7,132.6h.01M187.9,133.5h.01M198.0,135.4h.01M207.8,138.2h.01M217.4,141.7h.01M226.7,146.2h.01M235.5,151.4h.01M243.9,157.3h.01M251.7,164.0h.01M258.9,171.3h.01M265.4,179.2h.01M271.2,187.7h.01M276.3,196.6h.01M280.5,205.9h.01M284.0,215.6h.01M286.5,225.5h.01M288.2,235.7h.01M289.0,245.9h.01M288.9,256.2h.01M288.0,266.4h.01M286.1,276.5h.01M283.3,286.3h.01M279.8,295.9h.01M275.3,305.2h.01M270.1,314.0h.01M264.2,322.4h.01M257.5,330.2h.01M250.2,337.4h.01M242.3,343.9h.01M233.8,349.7h.01M224.9,354.8h.01M215.6,359.0h.01M205.9,362.5h.01M196.0,365.0h.01M185.8,366.7h.01M175.6,367.5h.01M165.3,367.4h.01M155.1,366.5h.01M145.0,364.6h.01M135.2,361.8h.01M125.6,358.3h.01M178.0,125.2h.01M188.9,126.3h.01M199.6,128.3h.01M210.1,131.2h.01M220.3,135.0h.01M230.2,139.7h.01M239.6,145.2h.01M248.4,151.5h.01M256.7,158.6h.01M264.4,166.4h.01M271.3,174.8h.01M277.5,183.8h.01M282.8,193.3h.01M287.4,203.2h.01M291.0,213.5h.01M293.7,224.0h.01M295.5,234.8h.01M296.4,245.6h.01M296.3,256.5h.01M295.2,267.4h.01M293.2,278.1h.01M290.3,288.6h.01M286.5,298.8h.01M281.8,308.7h.01M276.3,318.1h.01M270.0,326.9h.01M262.9,335.2h.01M255.1,342.9h.01M246.7,349.8h.01M237.7,356.0h.01M228.2,361.3h.01M218.3,365.9h.01M208.0,369.5h.01M197.5,372.2h.01M186.7,374.0h.01M175.9,374.9h.01M165.0,374.8h.01M154.1,373.7h.01M143.4,371.7h.01M132.9,368.8h.01M122.7,365.0h.01M178.4,117.9h.01M189.9,119.0h.01M201.3,121.1h.01M212.4,124.2h.01M223.2,128.2h.01M233.6,133.2h.01M243.6,139.0h.01M253.0,145.7h.01M261.7,153.2h.01M269.8,161.5h.01M277.2,170.4h.01M283.7,179.9h.01M289.4,189.9h.01M294.2,200.4h.01M298.0,211.3h.01M300.9,222.5h.01M302.8,233.9h.01M303.7,245.4h.01M303.6,256.9h.01M302.5,268.4h.01M300.4,279.8h.01M297.3,290.9h.01M293.3,301.7h.01M288.3,312.1h.01M282.5,322.1h.01M275.8,331.5h.01M268.3,340.2h.01M260.0,348.3h.01M251.1,355.7h.01M241.6,362.2h.01M231.6,367.9h.01M221.1,372.7h.01M210.2,376.5h.01M199.0,379.4h.01M187.6,381.3h.01M176.1,382.2h.01M164.6,382.1h.01M153.1,381.0h.01M141.7,378.9h.01M130.6,375.8h.01M119.8,371.8h.01M178.8,110.5h.01M190.9,111.7h.01M202.9,113.9h.01M214.7,117.2h.01M226.1,121.5h.01M237.1,126.7h.01M247.6,132.9h.01M257.5,140.0h.01M266.7,147.9h.01M275.3,156.6h.01M283.0,166.0h.01M289.9,176.0h.01M295.9,186.6h.01M301.0,197.7h.01M305.0,209.2h.01M308.1,221.0h.01M310.1,233.0h.01M311.1,245.1h.01M311.0,257.3h.01M309.8,269.4h.01M307.6,281.4h.01M304.3,293.2h.01M300.0,304.6h.01M294.8,315.6h.01M288.6,326.1h.01M281.5,336.0h.01M273.6,345.2h.01M264.9,353.8h.01M255.5,361.5h.01M245.5,368.4h.01M234.9,374.4h.01M223.8,379.5h.01M212.3,383.5h.01M200.5,386.6h.01M188.5,388.6h.01M176.4,389.6h.01M164.2,389.5h.01M152.1,388.3h.01M140.1,386.1h.01M128.3,382.8h.01M116.9,378.5h.01M179.2,103.2h.01M192.0,104.4h.01M204.6,106.8h.01M216.9,110.2h.01M228.9,114.7h.01M240.5,120.2h.01M251.6,126.7h.01M262.0,134.2h.01M271.8,142.5h.01M280.7,151.6h.01M288.9,161.5h.01M296.2,172.1h.01M302.5,183.3h.01M307.8,194.9h.01M312.1,207.0h.01M315.3,219.4h.01M317.4,232.1h.01M318.4,244.9h.01M318.3,257.7h.01M317.1,270.5h.01M314.7,283.1h.01M311.3,295.4h.01M306.8,307.4h.01M301.3,319.0h.01M294.8,330.1h.01M287.3,340.5h.01M279.0,350.3h.01M269.9,359.2h.01M260.0,367.4h.01M249.4,374.7h.01M238.2,381.0h.01M226.6,386.3h.01M214.5,390.6h.01M202.1,393.8h.01M189.4,395.9h.01M176.6,396.9h.01M163.8,396.8h.01M151.0,395.6h.01M138.4,393.2h.01M126.1,389.8h.01M114.1,385.3h.01M179.6,95.9h.01M193.0,97.2h.01M206.2,99.6h.01M219.2,103.2h.01M231.8,107.9h.01M244.0,113.7h.01M255.6,120.6h.01M266.5,128.4h.01M276.8,137.1h.01M286.2,146.7h.01M294.8,157.1h.01M302.4,168.2h.01M309.0,179.9h.01M314.6,192.2h.01M319.1,204.9h.01M322.5,217.9h.01M324.7,231.2h.01M325.8,244.6h.01M325.6,258.1h.01M324.3,271.5h.01M321.9,284.7h.01M318.3,297.7h.01M313.6,310.3h.01M307.8,322.5h.01M300.9,334.1h.01M293.1,345.0h.01M284.4,355.3h.01M274.8,364.7h.01M264.4,373.3h.01M253.3,380.9h.01M241.6,387.5h.01M229.3,393.1h.01M216.6,397.6h.01M203.6,401.0h.01M190.3,403.2h.01M176.9,404.3h.01M163.4,404.1h.01M150.0,402.8h.01M136.8,400.4h.01M123.8,396.8h.01M111.2,392.1h.01M180.0,88.5h.01M194.0,89.9h.01M207.9,92.4h.01M221.5,96.2h.01M234.7,101.2h.01M247.4,107.2h.01M259.6,114.4h.01M271.1,122.6h.01M281.8,131.7h.01M291.7,141.8h.01M300.6,152.7h.01M308.6,164.3h.01M315.6,176.6h.01M321.4,189.4h.01M326.1,202.7h.01M329.7,216.4h.01M332.0,230.3h.01M333.1,244.4h.01M333.0,258.5h.01M331.6,272.5h.01M329.1,286.4h.01M325.3,300.0h.01M320.3,313.2h.01M314.3,325.9h.01M307.1,338.1h.01M298.9,349.6h.01M289.8,360.3h.01M279.7,370.2h.01M268.8,379.1h.01M257.2,387.1h.01M244.9,394.1h.01M232.1,399.9h.01M218.8,404.6h.01M205.1,408.2h.01M191.2,410.5h.01M177.1,411.6h.01M163.0,411.5h.01M149.0,410.1h.01M135.1,407.6h.01M121.5,403.8h.01M108.3,398.8h.01M180.3,81.2h.01M195.0,82.6h.01M209.5,85.3h.01M223.7,89.2h.01M237.6,94.4h.01M250.9,100.7h.01M263.6,108.2h.01M275.6,116.8h.01M286.8,126.4h.01M297.1,136.9h.01M306.5,148.3h.01M314.9,160.4h.01M322.1,173.3h.01M328.2,186.7h.01M333.2,200.6h.01M336.9,214.9h.01M339.3,229.4h.01M340.4,244.1h.01M340.3,258.8h.01M338.9,273.5h.01M336.2,288.0h.01M332.3,302.2h.01M327.1,316.1h.01M320.8,329.4h.01M313.3,342.1h.01M304.7,354.1h.01M295.1,365.3h.01M284.6,375.6h.01M273.2,385.0h.01M261.1,393.4h.01M248.2,400.6h.01M234.8,406.7h.01M220.9,411.7h.01M206.6,415.4h.01M192.1,417.8h.01M177.4,418.9h.01M162.7,418.8h.01M148.0,417.4h.01M133.5,414.7h.01M119.3,410.8h.01M105.4,405.6h.01M180.7,73.8h.01M196.1,75.3h.01M211.2,78.1h.01M226.0,82.2h.01M240.4,87.6h.01M254.3,94.2h.01M267.6,102.1h.01M280.1,111.0h.01M291.8,121.0h.01M302.6,132.0h.01M312.4,143.8h.01M321.1,156.5h.01M328.7,169.9h.01M335.1,183.9h.01M340.2,198.4h.01M344.0,213.3h.01M346.6,228.5h.01M347.8,243.8h.01M347.7,259.2h.01M346.2,274.6h.01M343.4,289.7h.01M339.3,304.5h.01M333.9,318.9h.01M327.3,332.8h.01M319.4,346.1h.01M310.5,358.6h.01M300.5,370.3h.01M289.5,381.1h.01M277.7,390.9h.01M265.0,399.6h.01M251.6,407.2h.01M237.6,413.6h.01M223.1,418.7h.01M208.2,422.5h.01M193.0,425.1h.01M177.7,426.3h.01M162.3,426.2h.01M146.9,424.7h.01M131.8,421.9h.01M117.0,417.8h.01M102.6,412.4h.01M181.1,66.5h.01M197.1,68.0h.01M212.8,71.0h.01M228.3,75.2h.01M243.3,80.9h.01M257.8,87.8h.01M271.6,95.9h.01M284.6,105.2h.01M296.8,115.6h.01M308.1,127.0h.01M318.2,139.4h.01M327.3,152.6h.01M335.2,166.6h.01M341.9,181.2h.01M347.2,196.3h.01M346.3,306.8h.01M340.6,321.8h.01M333.7,336.3h.01M325.6,350.1h.01M316.3,363.1h.01M305.9,375.3h.01M294.5,386.6h.01M282.1,396.7h.01M268.9,405.8h.01M254.9,413.7h.01M240.3,420.4h.01M225.2,425.7h.01M114.7,424.8h.01M99.7,419.1h.01M181.5,59.2h.01M198.1,60.8h.01M214.5,63.8h.01M230.6,68.3h.01M246.2,74.1h.01M261.2,81.3h.01M275.6,89.7h.01M289.2,99.4h.01M301.8,110.2h.01M313.5,122.1h.01M324.1,135.0h.01M333.6,148.7h.01M341.8,163.2h.01M348.7,178.4h.01M347.4,324.7h.01M340.2,339.7h.01M331.8,354.1h.01M322.1,367.7h.01M311.3,380.3h.01M299.4,392.0h.01M286.5,402.6h.01M272.8,412.1h.01M258.3,420.3h.01M243.1,427.2h.01M96.8,425.9h.01M181.9,51.8h.01M199.1,53.5h.01M216.1,56.6h.01M232.8,61.3h.01M249.0,67.3h.01M264.7,74.8h.01M279.6,83.6h.01M293.7,93.6h.01M306.8,104.9h.01M319.0,117.2h.01M330.0,130.6h.01M339.8,144.8h.01M348.3,159.9h.01M346.7,343.2h.01M337.9,358.1h.01M327.9,372.2h.01M316.6,385.3h.01M304.3,397.5h.01M290.9,408.5h.01M276.7,418.3h.01M261.6,426.8h.01M182.3,44.5h.01M200.1,46.2h.01M217.8,49.5h.01M235.1,54.3h.01M251.9,60.6h.01M268.1,68.3h.01M283.6,77.4h.01M298.2,87.8h.01M311.9,99.5h.01M324.4,112.3h.01M335.9,126.1h.01M346.0,140.9h.01M344.1,362.1h.01M333.7,376.7h.01M322.0,390.4h.01M309.2,402.9h.01M295.4,414.4h.01M280.6,424.5h.01M182.7,37.1h.01M201.2,38.9h.01M219.4,42.3h.01M237.4,47.3h.01M254.8,53.8h.01M271.6,61.8h.01M287.6,71.2h.01M302.7,82.0h.01M316.9,94.1h.01M329.9,107.4h.01M341.7,121.7h.01M339.5,381.2h.01M327.4,395.4h.01M314.1,408.4h.01M299.8,420.2h.01M183.0,29.8h.01M202.2,31.6h.01M221.1,35.2h.01M239.6,40.3h.01M257.7,47.0h.01M275.0,55.3h.01M291.6,65.1h.01M307.3,76.2h.01M321.9,88.7h.01M335.4,102.5h.01M347.6,117.3h.01M345.3,385.8h.01M332.8,400.4h.01M319.0,413.9h.01M304.2,426.1h.01M183.4,22.5h.01M203.2,24.4h.01M222.8,28.0h.01M241.9,33.3h.01M260.5,40.3h.01M278.5,48.8h.01M295.6,58.9h.01M311.8,70.5h.01M326.9,83.4h.01M340.8,97.5h.01M338.1,405.4h.01M324.0,419.3h.01M183.8,15.1h.01M204.2,17.1h.01M224.4,20.8h.01M244.2,26.3h.01M263.4,33.5h.01M281.9,42.3h.01M299.6,52.7h.01M316.3,64.7h.01M331.9,78.0h.01M346.3,92.6h.01M343.5,410.4h.01M328.9,424.8h.01M184.2,7.8h.01M205.3,9.8h.01M226.1,13.7h.01M246.5,19.3h.01M266.3,26.7h.01M285.4,35.8h.01M303.6,46.6h.01M320.8,58.9h.01M336.9,72.6h.01M348.9,415.4h.01M184.6,0.4h.01M206.3,2.5h.01M227.7,6.5h.01M248.7,12.3h.01M269.1,20.0h.01M288.8,29.4h.01M307.6,40.4h.01M325.4,53.1h.01M341.9,67.2h.01M229.4,-0.7h.01M251.0,5.3h.01M272.0,13.2h.01M292.3,22.9h.01M311.6,34.3h.01M329.9,47.3h.01M346.9,61.9h.01M274.9,6.4h.01M295.7,16.4h.01M315.6,28.1h.01M334.4,41.5h.01M277.8,-0.3h.01M299.2,9.9h.01M319.6,21.9h.01M338.9,35.7h.01M302.6,3.4h.01M323.6,15.8h.01M343.5,29.9h.01M327.6,9.6h.01M348.0,24.1h.01M331.6,3.4h.01"/><path stroke="#00f" d="M72.8,316.5h.01M73.2,317.0h.01M73.5,317.5h.01M73.8,318.1h.01M74.0,318.7h.01M74.2,319.3h.01M74.3,320.0h.01M74.3,320.6h.01M74.3,321.3h.01M74.3,321.9h.01M74.2,322.5h.01M74.0,323.1h.01M73.8,323.8h.01M73.5,324.3h.01M73.2,324.9h.01M72.9,325.4h.01M72.5,325.9h.01M72.0,326.4h.01M71.5,326.8h.01M71.0,327.2h.01M70.5,327.5h.01M69.9,327.8h.01M69.3,328.0h.01M68.7,328.2h.01M68.0,328.3h.01M67.4,328.3h.01M66.7,328.3h.01M66.1,328.3h.01M65.5,328.2h.01M64.9,328.0h.01M64.2,327.8h.01M63.7,327.5h.01M63.1,327.2h.01M77.8,311.0h.01M78.6,311.9h.01M79.3,313.0h.01M80.0,314.1h.01M80.5,315.3h.01M81.0,316.5h.01M81.3,317.7h.01M81.6,319.0h.01M81.7,320.2h.01M81.7,321.5h.01M81.6,322.8h.01M81.4,324.1h.01M81.1,325.3h.01M80.6,326.5h.01M80.1,327.7h.01M79.5,328.8h.01M78.7,329.8h.01M77.9,330.8h.01M77.0,331.8h.01M76.1,332.6h.01M75.0,333.3h.01M73.9,334.0h.01M72.7,334.5h.01M71.5,335.0h.01M70.3,335.3h.01M69.0,335.6h.01M67.8,335.7h.01M66.5,335.7h.01M65.2,335.6h.01M63.9,335.4h.01M62.7,335.1h.01M61.5,334.6h.01M60.3,334.1h.01M59.2,333.5h.01M83.1,306.0h.01M84.4,307.4h.01M85.5,309.0h.01M86.5,310.6h.01M87.3,312.4h.01M88.0,314.2h.01M88.5,316.0h.01M88.8,317.9h.01M89.0,319.8h.01M89.0,321.8h.01M88.9,323.7h.01M88.6,325.6h.01M88.1,327.4h.01M87.4,329.3h.01M86.6,331.0h.01M85.7,332.7h.01M84.6,334.3h.01M83.4,335.8h.01M82.0,337.1h.01M80.6,338.4h.01M79.0,339.5h.01M77.4,340.5h.01M75.6,341.3h.01M73.8,342.0h.01M72.0,342.5h.01M70.1,342.8h.01M68.2,343.0h.01M66.2,343.0h.01M64.3,342.9h.01M62.4,342.6h.01M60.6,342.1h.01M58.7,341.4h.01M57.0,340.6h.01M88.5,300.9h.01M90.2,302.9h.01M91.7,305.0h.01M93.0,307.2h.01M94.1,309.5h.01M95.0,311.9h.01M95.6,314.4h.01M96.1,316.9h.01M96.4,319.5h.01M96.4,322.0h.01M96.2,324.6h.01M95.8,327.1h.01M95.1,329.6h.01M94.3,332.0h.01M93.2,334.3h.01M91.9,336.6h.01M90.5,338.7h.01M88.8,340.7h.01M87.1,342.5h.01M85.1,344.2h.01M83.0,345.7h.01M80.8,347.0h.01M78.5,348.1h.01M76.1,349.0h.01M73.6,349.6h.01M71.1,350.1h.01M68.5,350.4h.01M66.0,350.4h.01M63.4,350.2h.01M60.9,349.8h.01M58.4,349.1h.01M56.0,348.3h.01M53.7,347.2h.01M93.9,295.9h.01M96.0,298.4h.01M97.8,301.0h.01M99.4,303.7h.01M100.8,306.6h.01M102.0,309.6h.01M102.8,312.7h.01M103.4,315.9h.01M103.7,319.1h.01M103.7,322.3h.01M103.5,325.5h.01M102.9,328.6h.01M102.1,331.7h.01M101.1,334.8h.01M99.7,337.7h.01M98.2,340.5h.01M96.3,343.1h.01M94.3,345.6h.01M92.1,347.9h.01M89.6,350.0h.01M87.0,351.8h.01M84.3,353.4h.01M81.4,354.8h.01M78.4,356.0h.01M75.3,356.8h.01M72.1,357.4h.01M68.9,357.7h.01M65.7,357.7h.01M62.5,357.5h.01M59.4,356.9h.01M56.3,356.1h.01M53.2,355.1h.01M50.3,353.7h.01M47.5,352.2h.01M44.9,350.3h.01M42.4,348.3h.01M40.1,346.1h.01M99.3,290.9h.01M101.8,293.8h.01M104.0,297.0h.01M105.9,300.3h.01M107.6,303.8h.01M108.9,307.4h.01M110.0,311.1h.01M110.7,314.9h.01M111.0,318.7h.01M111.1,322.5h.01M110.8,326.4h.01M110.1,330.2h.01M109.2,333.9h.01M107.9,337.5h.01M106.3,341.0h.01M104.4,344.4h.01M102.2,347.5h.01M99.8,350.5h.01M97.1,353.3h.01M94.2,355.8h.01M91.0,358.0h.01M87.7,359.9h.01M84.2,361.6h.01M80.6,362.9h.01M76.9,364.0h.01M73.1,364.7h.01M69.3,365.0h.01M65.5,365.1h.01M61.6,364.8h.01M57.8,364.1h.01M54.1,363.2h.01M50.5,361.9h.01M47.0,360.3h.01M43.6,358.4h.01M40.5,356.2h.01M37.5,353.8h.01M34.7,351.1h.01M32.2,348.2h.01M104.6,285.9h.01M107.5,289.3h.01M110.1,293.0h.01M112.4,296.8h.01M114.4,300.9h.01M115.9,305.1h.01M117.1,309.4h.01M117.9,313.8h.01M118.4,318.3h.01M118.4,322.8h.01M118.1,327.3h.01M117.3,331.7h.01M116.2,336.0h.01M114.7,340.3h.01M112.8,344.4h.01M110.6,348.3h.01M108.1,352.0h.01M105.2,355.4h.01M102.1,358.6h.01M98.7,361.5h.01M95.0,364.1h.01M91.2,366.4h.01M87.1,368.4h.01M82.9,369.9h.01M78.6,371.1h.01M74.2,371.9h.01M69.7,372.4h.01M65.2,372.4h.01M60.7,372.1h.01M56.3,371.3h.01M52.0,370.2h.01M47.7,368.7h.01M43.6,366.8h.01M39.7,364.6h.01M36.0,362.1h.01M32.6,359.2h.01M29.4,356.1h.01M26.5,352.7h.01M23.9,349.0h.01M110.0,280.9h.01M113.3,284.8h.01M116.3,289.0h.01M118.9,293.4h.01M121.1,298.0h.01M122.9,302.8h.01M124.3,307.8h.01M125.2,312.8h.01M125.7,317.9h.01M125.8,323.1h.01M125.4,328.2h.01M124.5,333.2h.01M123.2,338.2h.01M121.5,343.0h.01M119.4,347.7h.01M116.9,352.2h.01M114.0,356.4h.01M110.7,360.3h.01M107.1,364.0h.01M103.2,367.3h.01M99.0,370.3h.01M94.6,372.9h.01M90.0,375.1h.01M85.2,376.9h.01M80.2,378.3h.01M75.2,379.2h.01M70.1,379.7h.01M64.9,379.8h.01M59.8,379.4h.01M54.8,378.5h.01M49.8,377.2h.01M45.0,375.5h.01M40.3,373.4h.01M35.8,370.9h.01M31.6,368.0h.01M27.7,364.7h.01M24.0,361.1h.01M20.7,357.2h.01M17.7,353.0h.01M15.1,348.6h.01M119.1,280.3h.01M122.5,285.0h.01M125.4,289.9h.01M127.9,295.2h.01M129.9,300.6h.01M131.5,306.1h.01M132.5,311.8h.01M133.1,317.5h.01M133.1,323.3h.01M132.7,329.1h.01M131.7,334.8h.01M130.3,340.3h.01M128.3,345.8h.01M125.9,351.0h.01M123.1,356.1h.01M119.8,360.8h.01M116.2,365.3h.01M112.1,369.4h.01M107.7,373.1h.01M103.0,376.5h.01M98.1,379.4h.01M92.8,381.9h.01M87.4,383.9h.01M81.9,385.5h.01M76.2,386.5h.01M70.5,387.1h.01M64.7,387.1h.01M58.9,386.7h.01M53.2,385.7h.01M47.7,384.3h.01M42.2,382.3h.01M37.0,379.9h.01M31.9,377.1h.01M27.2,373.8h.01M22.7,370.2h.01M18.6,366.1h.01M14.9,361.7h.01M11.5,357.0h.01M8.6,352.1h.01M6.1,346.8h.01M124.9,275.7h.01M128.6,281.0h.01M131.9,286.5h.01M134.7,292.3h.01M136.9,298.3h.01M138.6,304.5h.01M139.8,310.8h.01M140.4,317.2h.01M140.5,323.6h.01M140.0,330.0h.01M138.9,336.3h.01M137.3,342.5h.01M135.1,348.5h.01M132.5,354.4h.01M129.3,359.9h.01M125.7,365.2h.01M121.6,370.2h.01M117.1,374.8h.01M112.3,378.9h.01M107.0,382.6h.01M101.5,385.9h.01M95.7,388.7h.01M89.7,390.9h.01M83.5,392.6h.01M77.2,393.8h.01M70.8,394.4h.01M64.4,394.5h.01M58.0,394.0h.01M51.7,392.9h.01M45.5,391.3h.01M39.5,389.1h.01M33.6,386.5h.01M28.1,383.3h.01M22.8,379.7h.01M17.8,375.6h.01M13.2,371.1h.01M9.1,366.3h.01M5.4,361.0h.01M2.1,355.5h.01M-0.7,349.7h.01M130.7,271.2h.01M134.8,277.0h.01M138.4,283.0h.01M141.4,289.4h.01M143.9,296.0h.01M145.8,302.8h.01M147.1,309.7h.01M147.7,316.8h.01M147.8,323.8h.01M147.2,330.9h.01M146.1,337.8h.01M144.3,344.6h.01M142.0,351.3h.01M139.0,357.7h.01M135.6,363.8h.01M131.6,369.7h.01M127.1,375.1h.01M122.1,380.1h.01M116.8,384.7h.01M111.0,388.8h.01M105.0,392.4h.01M98.6,395.4h.01M92.0,397.9h.01M85.2,399.8h.01M78.3,401.1h.01M71.2,401.7h.01M64.2,401.8h.01M57.1,401.2h.01M50.2,400.1h.01M43.4,398.3h.01M36.7,396.0h.01M30.3,393.0h.01M24.2,389.6h.01M18.3,385.6h.01M12.9,381.1h.01M7.9,376.1h.01M3.3,370.8h.01M-0.8,365.0h.01M136.5,266.7h.01M141.0,273.0h.01M144.9,279.6h.01M148.2,286.5h.01M150.9,293.7h.01M152.9,301.2h.01M154.3,308.7h.01M155.1,316.4h.01M155.1,324.1h.01M154.5,331.7h.01M153.3,339.3h.01M151.3,346.8h.01M148.8,354.0h.01M145.6,361.0h.01M141.8,367.7h.01M137.4,374.1h.01M132.5,380.0h.01M127.2,385.5h.01M121.3,390.5h.01M115.0,395.0h.01M108.4,398.9h.01M101.5,402.2h.01M94.3,404.9h.01M86.8,406.9h.01M79.3,408.3h.01M71.6,409.1h.01M63.9,409.1h.01M56.3,408.5h.01M48.7,407.3h.01M41.2,405.3h.01M34.0,402.8h.01M27.0,399.6h.01M20.3,395.8h.01M13.9,391.4h.01M8.0,386.5h.01M2.5,381.2h.01M142.3,262.2h.01M147.1,269.0h.01M151.4,276.1h.01M155.0,283.7h.01M157.9,291.5h.01M160.1,299.5h.01M161.6,307.7h.01M162.4,316.0h.01M162.5,324.3h.01M161.8,332.6h.01M160.5,340.9h.01M158.4,348.9h.01M155.6,356.8h.01M152.1,364.4h.01M148.0,371.6h.01M143.3,378.5h.01M138.0,384.9h.01M132.2,390.9h.01M125.8,396.3h.01M119.0,401.1h.01M111.9,405.4h.01M104.3,409.0h.01M96.5,411.9h.01M88.5,414.1h.01M80.3,415.6h.01M72.0,416.4h.01M63.7,416.5h.01M55.4,415.8h.01M47.1,414.5h.01M39.1,412.4h.01M31.2,409.6h.01M23.6,406.1h.01M16.4,402.0h.01M9.5,397.3h.01M3.1,392.0h.01M153.3,265.0h.01M157.9,272.7h.01M161.7,280.8h.01M164.9,289.2h.01M167.3,297.9h.01M168.9,306.7h.01M169.8,315.6h.01M169.8,324.6h.01M169.1,333.5h.01M167.7,342.4h.01M165.4,351.1h.01M162.4,359.5h.01M158.7,367.7h.01M154.3,375.5h.01M149.2,382.9h.01M143.5,389.9h.01M137.2,396.3h.01M130.4,402.1h.01M123.0,407.3h.01M115.3,411.9h.01M107.2,415.7h.01M98.8,418.9h.01M90.1,421.3h.01M81.3,422.9h.01M72.4,423.8h.01M63.4,423.8h.01M54.5,423.1h.01M45.6,421.7h.01M36.9,419.4h.01M28.5,416.4h.01M20.3,412.7h.01M12.5,408.3h.01M5.1,403.2h.01M159.5,261.0h.01M164.3,269.2h.01M168.5,277.9h.01M171.9,286.9h.01M174.4,296.2h.01M176.2,305.7h.01M177.1,315.2h.01M177.2,324.8h.01M176.4,334.4h.01M174.8,343.9h.01M172.4,353.2h.01M169.2,362.3h.01M165.2,371.1h.01M160.5,379.4h.01M155.0,387.4h.01M148.9,394.8h.01M142.2,401.6h.01M134.9,407.9h.01M127.0,413.5h.01M118.8,418.3h.01M110.1,422.5h.01M101.1,425.9h.01M91.8,428.4h.01M34.8,426.4h.01M25.7,423.2h.01M16.9,419.2h.01M8.6,414.5h.01M0.6,409.0h.01M165.6,257.0h.01M170.8,265.8h.01M175.3,275.1h.01M178.8,284.7h.01M181.6,294.5h.01M183.5,304.6h.01M184.4,314.8h.01M184.5,325.1h.01M183.7,335.3h.01M182.0,345.5h.01M179.5,355.4h.01M176.0,365.1h.01M171.8,374.4h.01M166.7,383.3h.01M160.9,391.8h.01M154.4,399.7h.01M147.2,407.0h.01M139.4,413.7h.01M131.0,419.6h.01M122.2,424.8h.01M13.6,425.8h.01M4.7,420.7h.01M171.8,252.9h.01M177.3,262.3h.01M182.0,272.2h.01M185.8,282.4h.01M188.7,292.9h.01M190.7,303.6h.01M191.8,314.5h.01M191.9,325.4h.01M191.0,336.2h.01M189.2,347.0h.01M186.5,357.5h.01M182.9,367.8h.01M178.3,377.7h.01M173.0,387.2h.01M166.8,396.2h.01M159.9,404.6h.01M152.2,412.4h.01M143.9,419.5h.01M135.1,425.8h.01M0.8,427.0h.01M178.0,248.9h.01M183.8,258.9h.01M188.8,269.3h.01M192.8,280.1h.01M195.9,291.2h.01M198.0,302.6h.01M199.1,314.1h.01M199.2,325.6h.01M198.3,337.1h.01M196.4,348.5h.01M193.5,359.7h.01M189.7,370.6h.01M184.9,381.1h.01M179.2,391.1h.01M172.7,400.6h.01M165.3,409.5h.01M157.2,417.8h.01M148.5,425.3h.01M177.0,235.0h.01M184.1,244.9h.01M190.3,255.4h.01M195.5,266.4h.01M199.8,277.8h.01M203.1,289.6h.01M205.3,301.6h.01M206.5,313.7h.01M206.6,325.9h.01M205.6,338.0h.01M203.6,350.0h.01M200.5,361.8h.01M196.5,373.3h.01M191.4,384.4h.01M185.4,395.0h.01M178.5,405.0h.01M170.8,414.4h.01M162.2,423.1h.01M182.8,230.5h.01M190.3,240.9h.01M196.8,252.0h.01M202.3,263.6h.01M206.8,275.6h.01M210.2,287.9h.01M212.6,300.5h.01M213.8,313.3h.01M213.9,326.1h.01M212.9,338.9h.01M210.8,351.6h.01M207.6,364.0h.01M203.3,376.1h.01M198.0,387.7h.01M191.7,398.9h.01M184.4,409.5h.01M176.2,419.4h.01M179.9,215.7h.01M188.6,226.0h.01M196.4,236.9h.01M203.3,248.5h.01M209.1,260.7h.01M213.8,273.3h.01M217.4,286.3h.01M219.8,299.5h.01M221.1,312.9h.01M221.3,326.4h.01M220.2,339.8h.01M218.0,353.1h.01M214.6,366.1h.01M210.1,378.8h.01M204.5,391.1h.01M197.9,402.8h.01M190.3,413.9h.01M181.7,424.3h.01M185.3,210.7h.01M194.4,221.4h.01M209.8,245.1h.01M215.8,257.8h.01M220.8,271.0h.01M224.6,284.6h.01M227.1,298.5h.01M228.5,312.5h.01M228.6,326.6h.01M227.5,340.7h.01M225.2,354.6h.01M221.6,368.3h.01M216.9,381.6h.01M211.1,394.4h.01M204.1,406.7h.01M196.1,418.3h.01M190.6,205.7h.01M222.6,254.9h.01M227.8,268.8h.01M231.7,283.0h.01M234.4,297.5h.01M235.8,312.2h.01M235.9,326.9h.01M234.8,341.6h.01M232.4,356.1h.01M228.7,370.4h.01M223.7,384.3h.01M217.6,397.7h.01M210.4,410.6h.01M202.0,422.7h.01M196.0,200.7h.01M229.4,252.1h.01M234.8,266.5h.01M238.9,281.3h.01M241.7,296.4h.01M243.2,311.8h.01M243.3,327.2h.01M242.1,342.5h.01M239.5,357.7h.01M235.7,372.6h.01M230.6,387.1h.01M224.2,401.1h.01M216.6,414.5h.01M207.9,427.2h.01M236.1,249.2h.01M241.8,264.2h.01M246.0,279.7h.01M249.0,295.4h.01M250.5,311.4h.01M250.6,327.4h.01M249.4,343.4h.01M246.7,359.2h.01M242.7,374.7h.01M237.4,389.8h.01M230.7,404.4h.01M222.8,418.4h.01M242.9,246.3h.01M248.7,261.9h.01M253.2,278.0h.01M256.2,294.4h.01M257.8,311.0h.01M258.0,327.7h.01M256.7,344.3h.01M253.9,360.7h.01M249.7,376.9h.01M244.2,392.6h.01M237.3,407.8h.01M229.1,422.3h.01M255.7,259.7h.01M260.4,276.4h.01M263.5,293.4h.01M265.2,310.6h.01M265.3,327.9h.01M264.0,345.2h.01M261.1,362.3h.01M256.8,379.0h.01M251.0,395.3h.01M243.8,411.1h.01M235.3,426.2h.01M262.7,257.4h.01M267.5,274.7h.01M270.8,292.4h.01M272.5,310.2h.01M272.7,328.2h.01M271.3,346.1h.01M268.3,363.8h.01M263.8,381.2h.01M257.8,398.1h.01M250.4,414.4h.01M269.7,255.1h.01M274.7,273.1h.01M278.1,291.3h.01M279.9,309.8h.01M280.0,328.4h.01M278.6,347.0h.01M275.5,365.3h.01M270.8,383.3h.01M264.6,400.8h.01M256.9,417.8h.01M276.7,252.9h.01M281.8,271.4h.01M285.4,290.3h.01M287.2,309.5h.01M287.4,328.7h.01M285.9,347.9h.01M282.7,366.8h.01M277.9,385.5h.01M271.4,403.6h.01M263.5,421.1h.01M283.7,250.6h.01M289.0,269.7h.01M289.9,368.4h.01M284.9,387.6h.01M278.3,406.4h.01M270.0,424.4h.01M290.7,248.3h.01M291.9,389.8h.01M285.1,409.1h.01M276.6,427.8h.01M291.9,411.9h.01"/><path stroke="#00f" d="M0.5,117.0h.01M0.5,150.0h.01M0.5,185.0h.01M0.5,196.0h.01M0.5,222.0h.01M0.5,228.0h.01M0.5,245.0h.01M0.5,262.0h.01M0.5,280.0h.01"/></g><text x="360.2" y="779.6" font-size="20.5">10 km</text><path d="M382.1,785.7h12.4" stroke="#000" stroke-width="3.6" stroke-linecap="round"/><path d="M238.0,891.5L238.0,907.5M243.7,893.8L232.3,905.2M246.0,899.5L230.0,899.5M243.7,905.2L232.3,893.8" stroke="#f00" stroke-width="1.25" fill="none"/><path d="M246.5,984.5L246.5,1000.5M252.2,986.8L240.8,998.2M254.5,992.5L238.5,992.5M252.2,998.2L240.8,986.8" stroke="#f00" stroke-width="1.25" fill="none"/><path d="M142.0,1055.5L142.0,1071.5M147.7,1057.8L136.3,1069.2M150.0,1063.5L134.0,1063.5M147.7,1069.2L136.3,1057.8" stroke="#f00" stroke-width="1.25" fill="none"/></g><rect x="75" y="742.8" width="348" height="427.2" fill="none" stroke="#1a1a1a" stroke-width="1.5"/><path d="M133.0,742.5v4M133.0,1170.0v-4M191.0,742.5v4M191.0,1170.0v-4M249.0,742.5v4M249.0,1170.0v-4M307.0,742.5v4M307.0,1170.0v-4M365.0,742.5v4M365.0,1170.0v-4M75.0,814.9h4M423.0,814.9h-4M75.0,886.8h4M423.0,886.8h-4M75.0,958.2h4M423.0,958.2h-4M75.0,1029.3h4M423.0,1029.3h-4M75.0,1099.8h4M423.0,1099.8h-4" stroke="#1a1a1a" stroke-width="0.9" fill="none"/><text x="67.5" y="749.1" text-anchor="end" font-size="20.5">37°N</text><text x="67.5" y="893.4" text-anchor="end" font-size="20.5">36°N</text><text x="67.5" y="1035.9" text-anchor="end" font-size="20.5">35°N</text><text x="67.5" y="1176.6" text-anchor="end" font-size="20.5">34°N</text><text x="68.5" y="820.5" text-anchor="end" font-size="14.8">30'</text><text x="68.5" y="963.8" text-anchor="end" font-size="14.8">30'</text><text x="68.5" y="1105.4" text-anchor="end" font-size="14.8">30'</text><text x="77.5" y="1191.0" text-anchor="middle" font-size="20.5">77°W</text><text x="193.5" y="1191.0" text-anchor="middle" font-size="20.5">76°W</text><text x="309.5" y="1191.0" text-anchor="middle" font-size="20.5">75°W</text><text x="425.5" y="1191.0" text-anchor="middle" font-size="20.5">74°W</text><text x="133.0" y="1186.5" text-anchor="middle" font-size="14.8">30'</text><text x="249.0" y="1186.5" text-anchor="middle" font-size="14.8">30'</text><text x="365.0" y="1186.5" text-anchor="middle" font-size="14.8">30'</text><text x="249.0" y="729.9" text-anchor="middle" font-size="24.6" font-weight="bold">Radial Grid</text><g clip-path="url(#cp6)"><use href="#land" x="458.5" y="742.5"/><path d="M516.5,742.5V1170.0M574.5,742.5V1170.0M632.5,742.5V1170.0M690.5,742.5V1170.0M748.5,742.5V1170.0M458.5,814.9H806.5M458.5,886.8H806.5M458.5,958.2H806.5M458.5,1029.3H806.5M458.5,1099.8H806.5" stroke="#6e6e6e" stroke-width="0.8" stroke-dasharray="2,6.3" fill="none" opacity="0.8"/><g transform="translate(458.5,742.5)" shape-rendering="crispEdges"><path fill="#00bfff" d="M186.5,-1.0H194.5V7.1H186.5ZM217.1,163.0H225.1V171.0H217.1ZM217.1,217.1H225.1V225.1H217.1ZM232.5,217.1H240.4V225.1H232.5ZM186.5,240.2H194.5V248.2H186.5ZM224.8,247.9H232.8V255.9H224.8ZM178.9,271.0H186.8V279.0H178.9ZM171.2,278.7H179.2V286.6H171.2ZM224.8,278.7H232.8V286.6H224.8ZM217.1,294.0H225.1V302.0H217.1ZM309.0,294.0H317.0V302.0H309.0ZM194.2,301.7H202.1V309.6H194.2ZM217.1,355.1H225.1V363.1H217.1ZM155.9,378.0H163.9V385.9H155.9ZM186.5,385.6H194.5V393.5H186.5ZM201.8,385.6H209.8V393.5H201.8ZM186.5,408.4H194.5V416.3H186.5Z"/><path fill="#00ffff" d="M186.5,6.8H194.5V15.0H186.5ZM217.1,247.9H225.1V255.9H217.1ZM232.5,255.6H240.4V263.6H232.5ZM232.5,263.3H240.4V271.3H232.5ZM186.5,271.0H194.5V279.0H186.5ZM186.5,278.7H194.5V286.6H186.5ZM209.5,286.3H217.4V294.3H209.5Z"/><path fill="#0060ff" d="M201.8,6.8H209.8V15.0H201.8ZM186.5,14.7H194.5V22.9H186.5ZM194.2,30.4H202.1V38.5H194.2ZM232.5,30.4H240.4V38.5H232.5ZM186.5,38.2H194.5V46.4H186.5ZM178.9,61.7H186.8V69.9H178.9ZM201.8,61.7H209.8V69.9H201.8ZM232.5,61.7H240.4V69.9H232.5ZM178.9,69.6H186.8V77.7H178.9ZM217.1,69.6H225.1V77.7H217.1ZM240.1,77.4H248.1V85.5H240.1ZM232.5,85.2H240.4V93.3H232.5ZM270.7,93.0H278.7V101.1H270.7ZM209.5,100.8H217.4V108.9H209.5ZM255.4,116.4H263.4V124.4H255.4ZM232.5,131.9H240.4V140.0H232.5ZM247.8,131.9H255.7V140.0H247.8ZM178.9,155.2H186.8V163.3H178.9ZM263.1,163.0H271.0V171.0H263.1ZM263.1,170.7H271.0V178.8H263.1ZM255.4,178.5H263.4V186.5H255.4ZM201.8,193.9H209.8V202.0H201.8ZM247.8,201.7H255.7V209.7H247.8ZM194.2,209.4H202.1V217.4H194.2ZM240.1,209.4H248.1V217.4H240.1ZM186.5,217.1H194.5V225.1H186.5ZM240.1,217.1H248.1V225.1H240.1ZM209.5,224.8H217.4V232.8H209.5ZM217.1,240.2H225.1V248.2H217.1ZM163.6,263.3H171.5V271.3H163.6ZM255.4,294.0H263.4V302.0H255.4ZM316.7,294.0H324.6V302.0H316.7ZM316.7,301.7H324.6V309.6H316.7ZM217.1,309.3H225.1V317.3H217.1ZM301.3,309.3H324.6V317.3H301.3ZM186.5,317.0H194.5V324.9H186.5ZM263.1,317.0H271.0V324.9H263.1ZM163.6,324.6H171.5V332.5H163.6ZM178.9,324.6H186.8V332.5H178.9ZM201.8,324.6H209.8V332.5H201.8ZM224.8,324.6H232.8V332.5H224.8ZM278.4,324.6H286.3V332.5H278.4ZM232.5,332.2H240.4V340.2H232.5ZM247.8,332.2H255.7V340.2H247.8ZM263.1,332.2H271.0V340.2H263.1ZM247.8,339.9H255.7V347.8H247.8ZM247.8,355.1H255.7V363.1H247.8ZM171.2,370.4H179.2V378.3H171.2ZM263.1,370.4H271.0V378.3H263.1ZM224.8,378.0H232.8V385.9H224.8ZM217.1,385.6H225.1V393.5H217.1ZM255.4,393.2H263.4V401.1H255.4ZM201.8,400.8H209.8V408.7H201.8ZM232.5,400.8H240.4V408.7H232.5ZM270.7,408.4H278.7V416.3H270.7ZM155.9,423.6H163.9V431.4H155.9ZM224.8,423.6H232.8V431.4H224.8Z"/><path fill="#0000cf" d="M178.9,14.7H186.8V22.9H178.9ZM232.5,53.9H240.4V62.0H232.5ZM186.5,100.8H194.5V108.9H186.5ZM224.8,108.6H232.8V116.7H224.8ZM247.8,155.2H255.7V163.3H247.8ZM178.9,170.7H186.8V178.8H178.9ZM247.8,178.5H255.7V186.5H247.8ZM263.1,301.7H271.0V309.6H263.1ZM247.8,378.0H255.7V385.9H247.8Z"/><path fill="#0000ff" d="M194.2,14.7H202.1V22.9H194.2ZM209.5,22.6H217.4V30.7H209.5ZM217.1,30.4H225.1V38.5H217.1ZM240.1,30.4H248.1V38.5H240.1ZM194.2,46.1H202.1V54.2H194.2ZM217.1,46.1H225.1V54.2H217.1ZM232.5,46.1H240.4V54.2H232.5ZM247.8,61.7H255.7V69.9H247.8ZM240.1,69.6H248.1V77.7H240.1ZM178.9,85.2H186.8V93.3H178.9ZM240.1,85.2H248.1V93.3H240.1ZM209.5,93.0H217.4V101.1H209.5ZM194.2,100.8H209.8V108.9H194.2ZM178.9,108.6H186.8V116.7H178.9ZM232.5,116.4H240.4V124.4H232.5ZM240.1,124.1H248.1V132.2H240.1ZM255.4,124.1H263.4V132.2H255.4ZM270.7,124.1H278.7V132.2H270.7ZM217.1,131.9H225.1V140.0H217.1ZM263.1,131.9H271.0V140.0H263.1ZM278.4,131.9H286.3V140.0H278.4ZM201.8,139.7H209.8V147.8H201.8ZM217.1,139.7H232.8V147.8H217.1ZM278.4,139.7H286.3V147.8H278.4ZM232.5,147.5H240.4V155.5H232.5ZM247.8,147.5H255.7V155.5H247.8ZM255.4,155.2H263.4V163.3H255.4ZM270.7,155.2H278.7V163.3H270.7ZM240.1,170.7H255.7V178.8H240.1ZM194.2,178.5H202.1V186.5H194.2ZM186.5,186.2H194.5V194.2H186.5ZM232.5,186.2H248.1V194.2H232.5ZM209.5,193.9H217.4V202.0H209.5ZM194.2,201.7H202.1V209.7H194.2ZM278.4,263.3H286.3V271.3H278.4ZM270.7,278.7H278.7V286.6H270.7ZM263.1,286.3H271.0V294.3H263.1ZM278.4,301.7H286.3V309.6H278.4ZM270.7,309.3H278.7V317.3H270.7ZM270.7,317.0H278.7V324.9H270.7ZM255.4,324.6H263.4V332.5H255.4ZM270.7,324.6H278.7V332.5H270.7ZM263.1,347.5H271.0V355.4H263.1ZM194.2,355.1H209.8V363.1H194.2ZM278.4,370.4H286.3V378.3H278.4ZM224.8,385.6H232.8V393.5H224.8ZM255.4,385.6H263.4V393.5H255.4ZM278.4,393.2H286.3V401.1H278.4ZM247.8,400.8H255.7V408.7H247.8ZM201.8,416.0H209.8V423.9H201.8ZM247.8,416.0H255.7V423.9H247.8ZM247.8,423.6H263.4V431.4H247.8Z"/><path fill="#008fff" d="M201.8,14.7H209.8V22.9H201.8ZM201.8,38.2H209.8V46.4H201.8ZM232.5,69.6H240.4V77.7H232.5ZM209.5,77.4H217.4V85.5H209.5ZM186.5,85.2H194.5V93.3H186.5ZM240.1,93.0H248.1V101.1H240.1ZM232.5,108.6H240.4V116.7H232.5ZM186.5,131.9H194.5V140.0H186.5ZM263.1,193.9H271.0V202.0H263.1ZM201.8,232.5H209.8V240.5H201.8ZM263.1,271.0H271.0V279.0H263.1ZM240.1,286.3H248.1V294.3H240.1ZM247.8,294.0H255.7V302.0H247.8ZM270.7,294.0H278.7V302.0H270.7ZM224.8,301.7H232.8V309.6H224.8ZM209.5,355.1H217.4V363.1H209.5ZM217.1,362.8H240.4V370.7H217.1ZM232.5,370.4H240.4V378.3H232.5ZM148.2,378.0H156.2V385.9H148.2ZM171.2,378.0H179.2V385.9H171.2ZM155.9,385.6H163.9V393.5H155.9ZM148.2,393.2H156.2V401.1H148.2ZM148.2,416.0H163.9V423.9H148.2Z"/><path fill="#0040ff" d="M209.5,14.7H217.4V22.9H209.5ZM178.9,22.6H186.8V30.7H178.9ZM194.2,22.6H202.1V30.7H194.2ZM186.5,30.4H194.5V38.5H186.5ZM178.9,38.2H186.8V46.4H178.9ZM186.5,69.6H202.1V77.7H186.5ZM217.1,77.4H225.1V85.5H217.1ZM201.8,85.2H209.8V93.3H201.8ZM171.2,108.6H179.2V116.7H171.2ZM201.8,108.6H209.8V116.7H201.8ZM217.1,108.6H225.1V116.7H217.1ZM270.7,108.6H278.7V116.7H270.7ZM201.8,116.4H209.8V124.4H201.8ZM186.5,124.1H194.5V132.2H186.5ZM201.8,124.1H209.8V132.2H201.8ZM232.5,124.1H240.4V132.2H232.5ZM186.5,139.7H194.5V147.8H186.5ZM240.1,139.7H248.1V147.8H240.1ZM255.4,139.7H263.4V147.8H255.4ZM194.2,147.5H202.1V155.5H194.2ZM224.8,147.5H232.8V155.5H224.8ZM240.1,147.5H248.1V155.5H240.1ZM263.1,155.2H271.0V163.3H263.1ZM278.4,155.2H286.3V163.3H278.4ZM209.5,170.7H225.1V178.8H209.5ZM286.0,170.7H294.0V178.8H286.0ZM201.8,178.5H209.8V186.5H201.8ZM209.5,186.2H217.4V194.2H209.5ZM278.4,186.2H286.3V194.2H278.4ZM217.1,193.9H232.8V202.0H217.1ZM247.8,193.9H255.7V202.0H247.8ZM186.5,201.7H194.5V209.7H186.5ZM270.7,201.7H278.7V209.7H270.7ZM201.8,217.1H209.8V225.1H201.8ZM194.2,224.8H209.8V232.8H194.2ZM232.5,232.5H240.4V240.5H232.5ZM163.6,286.3H171.5V294.3H163.6ZM270.7,286.3H278.7V294.3H270.7ZM201.8,309.3H209.8V317.3H201.8ZM240.1,309.3H255.7V317.3H240.1ZM171.2,317.0H186.8V324.9H171.2ZM194.2,317.0H202.1V324.9H194.2ZM209.5,317.0H217.4V324.9H209.5ZM224.8,317.0H232.8V324.9H224.8ZM247.8,324.6H255.7V332.5H247.8ZM263.1,324.6H271.0V332.5H263.1ZM270.7,332.2H278.7V340.2H270.7ZM270.7,339.9H278.7V347.8H270.7ZM255.4,347.5H263.4V355.4H255.4ZM263.1,355.1H271.0V363.1H263.1ZM286.0,362.8H294.0V370.7H286.0ZM209.5,370.4H217.4V378.3H209.5ZM240.1,378.0H248.1V385.9H240.1ZM255.4,378.0H263.4V385.9H255.4ZM270.7,378.0H278.7V385.9H270.7ZM209.5,385.6H217.4V393.5H209.5ZM240.1,385.6H248.1V393.5H240.1ZM217.1,393.2H232.8V401.1H217.1ZM247.8,393.2H255.7V401.1H247.8ZM270.7,393.2H278.7V401.1H270.7ZM263.1,400.8H271.0V408.7H263.1ZM263.1,408.4H271.0V416.3H263.1ZM232.5,416.0H240.4V423.9H232.5ZM171.2,423.6H179.2V431.4H171.2Z"/><path fill="#0070ff" d="M217.1,14.7H225.1V22.9H217.1ZM186.5,53.9H194.5V62.0H186.5ZM201.8,53.9H209.8V62.0H201.8ZM201.8,69.6H209.8V77.7H201.8ZM194.2,77.4H202.1V85.5H194.2ZM232.5,77.4H240.4V85.5H232.5ZM209.5,85.2H217.4V93.3H209.5ZM178.9,93.0H186.8V101.1H178.9ZM247.8,93.0H255.7V101.1H247.8ZM224.8,100.8H232.8V108.9H224.8ZM247.8,100.8H255.7V108.9H247.8ZM240.1,108.6H248.1V116.7H240.1ZM240.1,116.4H248.1V124.4H240.1ZM178.9,124.1H186.8V132.2H178.9ZM171.2,139.7H179.2V147.8H171.2ZM201.8,155.2H209.8V163.3H201.8ZM232.5,170.7H240.4V178.8H232.5ZM224.8,201.7H232.8V209.7H224.8ZM247.8,209.4H255.7V217.4H247.8ZM194.2,217.1H202.1V225.1H194.2ZM240.1,224.8H248.1V232.8H240.1ZM217.1,232.5H225.1V240.5H217.1ZM240.1,232.5H248.1V240.5H240.1ZM163.6,271.0H171.5V279.0H163.6ZM163.6,278.7H171.5V286.6H163.6ZM255.4,278.7H263.4V286.6H255.4ZM171.2,286.3H179.2V294.3H171.2ZM240.1,301.7H248.1V309.6H240.1ZM270.7,301.7H278.7V309.6H270.7ZM309.0,301.7H317.0V309.6H309.0ZM209.5,309.3H217.4V317.3H209.5ZM217.1,317.0H225.1V324.9H217.1ZM240.1,324.6H248.1V332.5H240.1ZM240.1,332.2H248.1V340.2H240.1ZM201.8,339.9H209.8V347.8H201.8ZM201.8,347.5H209.8V355.4H201.8ZM278.4,355.1H286.3V363.1H278.4ZM240.1,362.8H248.1V370.7H240.1ZM178.9,370.4H186.8V378.3H178.9ZM194.2,378.0H209.8V385.9H194.2ZM232.5,378.0H240.4V385.9H232.5ZM194.2,393.2H202.1V401.1H194.2ZM148.2,408.4H156.2V416.3H148.2ZM163.6,416.0H171.5V423.9H163.6ZM209.5,416.0H217.4V423.9H209.5ZM209.5,423.6H217.4V431.4H209.5Z"/><path fill="#0010ff" d="M224.8,14.7H232.8V22.9H224.8ZM217.1,22.6H225.1V30.7H217.1ZM186.5,46.1H194.5V54.2H186.5ZM224.8,46.1H232.8V54.2H224.8ZM240.1,46.1H248.1V54.2H240.1ZM247.8,69.6H255.7V77.7H247.8ZM194.2,85.2H202.1V93.3H194.2ZM224.8,93.0H232.8V101.1H224.8ZM194.2,108.6H202.1V116.7H194.2ZM255.4,108.6H263.4V116.7H255.4ZM217.1,116.4H225.1V124.4H217.1ZM194.2,131.9H202.1V140.0H194.2ZM194.2,139.7H202.1V147.8H194.2ZM286.0,139.7H294.0V147.8H286.0ZM255.4,147.5H263.4V155.5H255.4ZM232.5,155.2H240.4V163.3H232.5ZM224.8,163.0H248.1V171.0H224.8ZM224.8,170.7H232.8V178.8H224.8ZM255.4,170.7H263.4V178.8H255.4ZM278.4,170.7H286.3V178.8H278.4ZM186.5,178.5H194.5V186.5H186.5ZM178.9,193.9H186.8V202.0H178.9ZM255.4,193.9H263.4V202.0H255.4ZM232.5,224.8H240.4V232.8H232.5ZM163.6,301.7H171.5V309.6H163.6ZM263.1,309.3H271.0V317.3H263.1ZM278.4,332.2H286.3V340.2H278.4ZM278.4,362.8H286.3V370.7H278.4ZM224.8,370.4H232.8V378.3H224.8ZM209.5,378.0H217.4V385.9H209.5ZM224.8,400.8H232.8V408.7H224.8ZM209.5,408.4H217.4V416.3H209.5ZM232.5,408.4H240.4V416.3H232.5ZM217.1,416.0H225.1V423.9H217.1ZM263.1,416.0H271.0V423.9H263.1ZM278.4,416.0H286.3V423.9H278.4ZM278.4,423.6H286.3V431.4H278.4Z"/><path fill="#0030ff" d="M186.5,22.6H194.5V30.7H186.5ZM224.8,22.6H232.8V30.7H224.8ZM217.1,53.9H225.1V62.0H217.1ZM186.5,61.7H202.1V69.9H186.5ZM209.5,61.7H217.4V69.9H209.5ZM186.5,77.4H194.5V85.5H186.5ZM186.5,93.0H194.5V101.1H186.5ZM178.9,100.8H186.8V108.9H178.9ZM263.1,108.6H271.0V116.7H263.1ZM278.4,108.6H286.3V116.7H278.4ZM186.5,116.4H194.5V124.4H186.5ZM247.8,116.4H255.7V124.4H247.8ZM263.1,116.4H271.0V124.4H263.1ZM209.5,124.1H217.4V132.2H209.5ZM224.8,131.9H232.8V140.0H224.8ZM178.9,139.7H186.8V147.8H178.9ZM263.1,139.7H271.0V147.8H263.1ZM263.1,147.5H271.0V155.5H263.1ZM286.0,147.5H294.0V155.5H286.0ZM171.2,155.2H179.2V163.3H171.2ZM224.8,155.2H232.8V163.3H224.8ZM201.8,163.0H209.8V171.0H201.8ZM247.8,163.0H263.4V171.0H247.8ZM194.2,170.7H202.1V178.8H194.2ZM270.7,170.7H278.7V178.8H270.7ZM209.5,178.5H225.1V186.5H209.5ZM263.1,178.5H271.0V186.5H263.1ZM178.9,186.2H186.8V194.2H178.9ZM201.8,186.2H209.8V194.2H201.8ZM255.4,186.2H271.0V194.2H255.4ZM278.4,193.9H286.3V202.0H278.4ZM209.5,201.7H217.4V209.7H209.5ZM201.8,209.4H217.4V217.4H201.8ZM224.8,224.8H232.8V232.8H224.8ZM155.9,294.0H163.9V302.0H155.9ZM155.9,301.7H163.9V309.6H155.9ZM286.0,301.7H294.0V309.6H286.0ZM286.0,309.3H294.0V317.3H286.0ZM217.1,324.6H225.1V332.5H217.1ZM232.5,324.6H240.4V332.5H232.5ZM255.4,339.9H263.4V347.8H255.4ZM194.2,347.5H202.1V355.4H194.2ZM247.8,347.5H255.7V355.4H247.8ZM270.7,355.1H278.7V363.1H270.7ZM286.0,355.1H294.0V363.1H286.0ZM201.8,370.4H209.8V378.3H201.8ZM217.1,370.4H225.1V378.3H217.1ZM270.7,385.6H278.7V393.5H270.7ZM240.1,393.2H248.1V401.1H240.1ZM263.1,393.2H271.0V401.1H263.1ZM217.1,400.8H225.1V408.7H217.1ZM255.4,400.8H263.4V408.7H255.4ZM278.4,400.8H286.3V408.7H278.4ZM247.8,408.4H255.7V416.3H247.8ZM278.4,408.4H286.3V416.3H278.4ZM255.4,416.0H263.4V423.9H255.4ZM148.2,423.6H156.2V431.4H148.2ZM240.1,423.6H248.1V431.4H240.1Z"/><path fill="#0080ff" d="M201.8,22.6H209.8V30.7H201.8ZM232.5,22.6H240.4V30.7H232.5ZM217.1,38.2H225.1V46.4H217.1ZM224.8,69.6H232.8V77.7H224.8ZM201.8,77.4H209.8V85.5H201.8ZM232.5,100.8H240.4V108.9H232.5ZM263.1,100.8H278.7V108.9H263.1ZM171.2,116.4H179.2V124.4H171.2ZM194.2,116.4H202.1V124.4H194.2ZM194.2,124.1H202.1V132.2H194.2ZM217.1,124.1H225.1V132.2H217.1ZM240.1,131.9H248.1V140.0H240.1ZM270.7,147.5H278.7V155.5H270.7ZM186.5,155.2H202.1V163.3H186.5ZM270.7,186.2H278.7V194.2H270.7ZM178.9,201.7H186.8V209.7H178.9ZM217.1,201.7H225.1V209.7H217.1ZM178.9,209.4H194.5V217.4H178.9ZM194.2,232.5H202.1V240.5H194.2ZM224.8,240.2H232.8V248.2H224.8ZM263.1,278.7H271.0V286.6H263.1ZM255.4,286.3H263.4V294.3H255.4ZM171.2,294.0H179.2V302.0H171.2ZM263.1,294.0H271.0V302.0H263.1ZM201.8,301.7H209.8V309.6H201.8ZM301.3,301.7H309.3V309.6H301.3ZM232.5,309.3H240.4V317.3H232.5ZM209.5,324.6H217.4V332.5H209.5ZM255.4,332.2H263.4V340.2H255.4ZM240.1,355.1H248.1V363.1H240.1ZM247.8,362.8H255.7V370.7H247.8ZM155.9,370.4H163.9V378.3H155.9ZM186.5,370.4H194.5V378.3H186.5ZM163.6,378.0H171.5V385.9H163.6ZM201.8,408.4H209.8V416.3H201.8ZM171.2,416.0H179.2V423.9H171.2ZM194.2,416.0H202.1V423.9H194.2Z"/><path fill="#0020ff" d="M240.1,22.6H248.1V30.7H240.1ZM209.5,30.4H217.4V38.5H209.5ZM209.5,38.2H217.4V46.4H209.5ZM240.1,38.2H248.1V46.4H240.1ZM209.5,46.1H217.4V54.2H209.5ZM178.9,53.9H186.8V62.0H178.9ZM209.5,53.9H217.4V62.0H209.5ZM224.8,53.9H232.8V62.0H224.8ZM217.1,61.7H225.1V69.9H217.1ZM240.1,61.7H248.1V69.9H240.1ZM194.2,93.0H202.1V101.1H194.2ZM217.1,93.0H225.1V101.1H217.1ZM171.2,100.8H179.2V108.9H171.2ZM240.1,100.8H248.1V108.9H240.1ZM209.5,108.6H217.4V116.7H209.5ZM247.8,108.6H255.7V116.7H247.8ZM178.9,116.4H186.8V124.4H178.9ZM209.5,131.9H217.4V140.0H209.5ZM255.4,131.9H263.4V140.0H255.4ZM209.5,139.7H217.4V147.8H209.5ZM171.2,147.5H179.2V155.5H171.2ZM240.1,155.2H248.1V163.3H240.1ZM186.5,163.0H194.5V171.0H186.5ZM278.4,163.0H294.0V171.0H278.4ZM201.8,170.7H209.8V178.8H201.8ZM232.5,178.5H248.1V186.5H232.5ZM270.7,178.5H278.7V186.5H270.7ZM194.2,186.2H202.1V194.2H194.2ZM217.1,186.2H225.1V194.2H217.1ZM186.5,193.9H202.1V202.0H186.5ZM240.1,201.7H248.1V209.7H240.1ZM278.4,278.7H286.3V286.6H278.4ZM278.4,294.0H286.3V302.0H278.4ZM278.4,309.3H286.3V317.3H278.4ZM286.0,324.6H294.0V332.5H286.0ZM263.1,339.9H271.0V347.8H263.1ZM209.5,362.8H217.4V370.7H209.5ZM263.1,362.8H278.7V370.7H263.1ZM240.1,370.4H248.1V378.3H240.1ZM270.7,370.4H278.7V378.3H270.7ZM263.1,378.0H271.0V385.9H263.1ZM278.4,378.0H286.3V385.9H278.4ZM232.5,385.6H240.4V393.5H232.5ZM209.5,393.2H217.4V401.1H209.5ZM286.0,393.2H294.0V401.1H286.0ZM148.2,400.8H156.2V408.7H148.2ZM209.5,400.8H217.4V408.7H209.5ZM240.1,400.8H248.1V408.7H240.1ZM224.8,408.4H232.8V416.3H224.8ZM224.8,416.0H232.8V423.9H224.8ZM240.1,416.0H248.1V423.9H240.1ZM201.8,423.6H209.8V431.4H201.8Z"/><path fill="#009fff" d="M178.9,30.4H186.8V38.5H178.9ZM201.8,30.4H209.8V38.5H201.8ZM178.9,46.1H186.8V54.2H178.9ZM194.2,53.9H202.1V62.0H194.2ZM224.8,85.2H232.8V93.3H224.8ZM263.1,93.0H271.0V101.1H263.1ZM209.5,155.2H217.4V163.3H209.5ZM278.4,178.5H286.3V186.5H278.4ZM270.7,193.9H278.7V202.0H270.7ZM217.1,209.4H225.1V217.4H217.1ZM263.1,209.4H271.0V217.4H263.1ZM194.2,240.2H209.8V248.2H194.2ZM171.2,263.3H179.2V271.3H171.2ZM263.1,263.3H271.0V271.3H263.1ZM178.9,286.3H186.8V294.3H178.9ZM247.8,286.3H255.7V294.3H247.8ZM240.1,294.0H248.1V302.0H240.1ZM217.1,301.7H225.1V309.6H217.1ZM232.5,301.7H240.4V309.6H232.5ZM224.8,332.2H232.8V340.2H224.8ZM240.1,339.9H248.1V347.8H240.1ZM148.2,385.6H156.2V393.5H148.2ZM155.9,393.2H163.9V401.1H155.9ZM163.6,408.4H171.5V416.3H163.6ZM178.9,408.4H186.8V416.3H178.9ZM194.2,408.4H202.1V416.3H194.2ZM217.1,408.4H225.1V416.3H217.1Z"/><path fill="#0000ef" d="M224.8,30.4H232.8V38.5H224.8ZM240.1,53.9H248.1V62.0H240.1ZM263.1,77.4H271.0V85.5H263.1ZM209.5,116.4H217.4V124.4H209.5ZM224.8,116.4H232.8V124.4H224.8ZM247.8,124.1H255.7V132.2H247.8ZM286.0,131.9H294.0V140.0H286.0ZM247.8,139.7H255.7V147.8H247.8ZM286.0,155.2H294.0V163.3H286.0ZM293.7,163.0H301.6V171.0H293.7ZM186.5,170.7H194.5V178.8H186.5ZM224.8,186.2H232.8V194.2H224.8ZM247.8,186.2H255.7V194.2H247.8ZM232.5,193.9H240.4V202.0H232.5ZM171.2,301.7H179.2V309.6H171.2ZM155.9,309.3H163.9V317.3H155.9ZM232.5,393.2H240.4V401.1H232.5ZM255.4,408.4H263.4V416.3H255.4ZM286.0,408.4H294.0V416.3H286.0ZM163.6,423.6H171.5V431.4H163.6Z"/><path fill="#00cfff" d="M194.2,38.2H202.1V46.4H194.2ZM255.4,100.8H263.4V108.9H255.4ZM178.9,131.9H186.8V140.0H178.9ZM255.4,209.4H263.4V217.4H255.4ZM194.2,247.9H202.1V255.9H194.2ZM209.5,247.9H217.4V255.9H209.5ZM163.6,255.6H171.5V263.6H163.6ZM224.8,255.6H232.8V263.6H224.8ZM217.1,263.3H225.1V271.3H217.1ZM171.2,271.0H179.2V279.0H171.2ZM240.1,271.0H248.1V279.0H240.1ZM178.9,278.7H186.8V286.6H178.9ZM186.5,294.0H194.5V302.0H186.5ZM186.5,393.2H194.5V401.1H186.5ZM155.9,400.8H163.9V408.7H155.9ZM194.2,400.8H202.1V408.7H194.2Z"/><path fill="#0000bf" d="M224.8,38.2H232.8V46.4H224.8ZM224.8,61.7H232.8V69.9H224.8ZM247.8,85.2H255.7V93.3H247.8ZM270.7,116.4H278.7V124.4H270.7ZM278.4,124.1H286.3V132.2H278.4ZM270.7,131.9H278.7V140.0H270.7ZM255.4,309.3H263.4V317.3H255.4ZM286.0,400.8H294.0V408.7H286.0Z"/><path fill="#0000df" d="M232.5,38.2H240.4V46.4H232.5ZM178.9,77.4H186.8V85.5H178.9ZM255.4,77.4H263.4V85.5H255.4ZM278.4,116.4H286.3V124.4H278.4ZM224.8,124.1H232.8V132.2H224.8ZM224.8,178.5H232.8V186.5H224.8ZM278.4,286.3H286.3V294.3H278.4ZM201.8,332.2H209.8V340.2H201.8ZM270.7,347.5H278.7V355.4H270.7ZM255.4,362.8H263.4V370.7H255.4ZM240.1,408.4H248.1V416.3H240.1ZM232.5,423.6H240.4V431.4H232.5Z"/><path fill="#00afff" d="M201.8,46.1H209.8V54.2H201.8ZM209.5,69.6H217.4V77.7H209.5ZM217.1,85.2H225.1V93.3H217.1ZM255.4,93.0H263.4V101.1H255.4ZM201.8,131.9H209.8V140.0H201.8ZM263.1,201.7H271.0V209.7H263.1ZM232.5,209.4H240.4V217.4H232.5ZM247.8,224.8H255.7V232.8H247.8ZM232.5,278.7H240.4V286.6H232.5ZM178.9,294.0H186.8V302.0H178.9ZM194.2,294.0H202.1V302.0H194.2ZM224.8,309.3H232.8V317.3H224.8ZM240.1,317.0H248.1V324.9H240.1ZM217.1,332.2H225.1V340.2H217.1ZM209.5,339.9H217.4V347.8H209.5ZM209.5,347.5H217.4V355.4H209.5ZM163.6,370.4H171.5V378.3H163.6ZM186.5,378.0H194.5V385.9H186.5ZM217.1,378.0H225.1V385.9H217.1ZM194.2,385.6H202.1V393.5H194.2ZM163.6,393.2H171.5V401.1H163.6ZM186.5,400.8H194.5V408.7H186.5ZM171.2,408.4H179.2V416.3H171.2Z"/><path fill="#0050ff" d="M255.4,69.6H263.4V77.7H255.4ZM247.8,77.4H255.7V85.5H247.8ZM255.4,85.2H271.0V93.3H255.4ZM201.8,93.0H209.8V101.1H201.8ZM232.5,93.0H240.4V101.1H232.5ZM217.1,100.8H225.1V108.9H217.1ZM186.5,108.6H194.5V116.7H186.5ZM263.1,124.1H271.0V132.2H263.1ZM171.2,131.9H179.2V140.0H171.2ZM232.5,139.7H240.4V147.8H232.5ZM270.7,139.7H278.7V147.8H270.7ZM178.9,147.5H194.5V155.5H178.9ZM201.8,147.5H209.8V155.5H201.8ZM217.1,147.5H225.1V155.5H217.1ZM278.4,147.5H286.3V155.5H278.4ZM217.1,155.2H225.1V163.3H217.1ZM194.2,163.0H202.1V171.0H194.2ZM209.5,163.0H217.4V171.0H209.5ZM270.7,163.0H278.7V171.0H270.7ZM178.9,178.5H186.8V186.5H178.9ZM240.1,193.9H248.1V202.0H240.1ZM201.8,201.7H209.8V209.7H201.8ZM232.5,201.7H240.4V209.7H232.5ZM209.5,217.1H217.4V225.1H209.5ZM217.1,224.8H225.1V232.8H217.1ZM209.5,232.5H217.4V240.5H209.5ZM224.8,232.5H232.8V240.5H224.8ZM209.5,240.2H217.4V248.2H209.5ZM270.7,263.3H278.7V271.3H270.7ZM270.7,271.0H286.3V279.0H270.7ZM163.6,294.0H171.5V302.0H163.6ZM247.8,301.7H263.4V309.6H247.8ZM163.6,309.3H171.5V317.3H163.6ZM194.2,309.3H202.1V317.3H194.2ZM163.6,317.0H171.5V324.9H163.6ZM201.8,317.0H209.8V324.9H201.8ZM232.5,317.0H240.4V324.9H232.5ZM247.8,317.0H263.4V324.9H247.8ZM278.4,317.0H286.3V324.9H278.4ZM171.2,324.6H179.2V332.5H171.2ZM209.5,332.2H217.4V340.2H209.5ZM194.2,339.9H202.1V347.8H194.2ZM278.4,339.9H286.3V347.8H278.4ZM278.4,347.5H286.3V355.4H278.4ZM255.4,355.1H263.4V363.1H255.4ZM194.2,362.8H209.8V370.7H194.2ZM194.2,370.4H202.1V378.3H194.2ZM247.8,370.4H263.4V378.3H247.8ZM247.8,385.6H255.7V393.5H247.8ZM263.1,385.6H271.0V393.5H263.1ZM278.4,385.6H286.3V393.5H278.4ZM201.8,393.2H209.8V401.1H201.8ZM163.6,400.8H171.5V408.7H163.6ZM270.7,400.8H278.7V408.7H270.7ZM270.7,416.0H278.7V423.9H270.7ZM217.1,423.6H225.1V431.4H217.1ZM263.1,423.6H278.7V431.4H263.1Z"/><path fill="#00efff" d="M224.8,77.4H232.8V85.5H224.8ZM171.2,124.1H179.2V132.2H171.2ZM224.8,271.0H232.8V279.0H224.8ZM247.8,278.7H255.7V286.6H247.8ZM186.5,286.3H194.5V294.3H186.5ZM217.1,286.3H225.1V294.3H217.1ZM201.8,294.0H209.8V302.0H201.8ZM240.1,347.5H248.1V355.4H240.1ZM171.2,393.2H179.2V401.1H171.2Z"/><path fill="#20ffdf" d="M209.5,147.5H217.4V155.5H209.5ZM224.8,209.4H232.8V217.4H224.8ZM224.8,263.3H232.8V271.3H224.8ZM232.5,271.0H240.4V279.0H232.5ZM194.2,278.7H202.1V286.6H194.2ZM217.1,339.9H225.1V347.8H217.1ZM232.5,339.9H240.4V347.8H232.5ZM224.8,355.1H232.8V363.1H224.8ZM171.2,400.8H179.2V408.7H171.2Z"/><path fill="#00dfff" d="M255.4,201.7H263.4V209.7H255.4ZM255.4,224.8H263.4V232.8H255.4ZM194.2,255.6H202.1V263.6H194.2ZM217.1,278.7H225.1V286.6H217.1ZM240.1,278.7H248.1V286.6H240.1ZM194.2,286.3H202.1V294.3H194.2ZM224.8,286.3H240.4V294.3H224.8ZM209.5,294.0H217.4V302.0H209.5ZM224.8,294.0H240.4V302.0H224.8ZM209.5,301.7H217.4V309.6H209.5ZM178.9,378.0H186.8V385.9H178.9ZM163.6,385.6H171.5V393.5H163.6ZM178.9,385.6H186.8V393.5H178.9ZM178.9,393.2H186.8V401.1H178.9Z"/><path fill="#80ff80" d="M270.7,209.4H278.7V217.4H270.7ZM171.2,309.3H179.2V317.3H171.2Z"/><path fill="#40ffbf" d="M224.8,217.1H232.8V225.1H224.8ZM186.5,263.3H202.1V271.3H186.5ZM201.8,278.7H209.8V286.6H201.8ZM155.9,408.4H163.9V416.3H155.9Z"/><path fill="#60ff9f" d="M247.8,217.1H255.7V225.1H247.8Z"/><path fill="#70ff8f" d="M255.4,217.1H263.4V225.1H255.4ZM178.9,263.3H186.8V271.3H178.9ZM217.1,347.5H225.1V355.4H217.1Z"/><path fill="#ffdf00" d="M263.1,217.1H271.0V225.1H263.1ZM178.9,301.7H186.8V309.6H178.9ZM186.5,309.3H194.5V317.3H186.5Z"/><path fill="#10ffef" d="M270.7,217.1H278.7V225.1H270.7ZM263.1,224.8H271.0V232.8H263.1ZM186.5,247.9H194.5V255.9H186.5ZM201.8,247.9H209.8V255.9H201.8ZM186.5,255.6H194.5V263.6H186.5ZM201.8,255.6H217.4V263.6H201.8ZM201.8,286.3H209.8V294.3H201.8ZM224.8,339.9H232.8V347.8H224.8ZM232.5,347.5H240.4V355.4H232.5ZM171.2,385.6H179.2V393.5H171.2Z"/><path fill="#8fff70" d="M163.6,247.9H171.5V255.9H163.6ZM171.2,255.6H186.8V263.6H171.2ZM194.2,271.0H202.1V279.0H194.2Z"/><path fill="#9fff60" d="M171.2,247.9H179.2V255.9H171.2ZM201.8,271.0H209.8V279.0H201.8ZM224.8,347.5H232.8V355.4H224.8Z"/><path fill="#afff50" d="M178.9,247.9H186.8V255.9H178.9Z"/><path fill="#30ffcf" d="M217.1,255.6H225.1V263.6H217.1ZM201.8,263.3H217.4V271.3H201.8ZM217.1,271.0H225.1V279.0H217.1ZM178.9,400.8H186.8V408.7H178.9Z"/><path fill="#50ffaf" d="M209.5,271.0H217.4V279.0H209.5ZM209.5,278.7H217.4V286.6H209.5ZM232.5,355.1H240.4V363.1H232.5Z"/><path fill="#ffef00" d="M186.5,301.7H194.5V309.6H186.5ZM178.9,309.3H186.8V317.3H178.9Z"/><path fill="#ff2000" d="M178.9,416.0H186.8V423.9H178.9Z"/><path fill="#d40000" d="M186.5,416.0H194.5V423.9H186.5Z"/><path fill="#ff1000" d="M178.9,423.6H186.8V431.4H178.9Z"/><path fill="#b80000" d="M186.5,423.6H194.5V431.4H186.5Z"/><path fill="#ff3000" d="M194.2,423.6H202.1V431.4H194.2Z"/></g><path transform="translate(458.5,742.5)" d="M266.9,218.1L260.7,221.0M271.1,221.0L266.9,218.1M260.7,221.0L266.9,225.1M175.0,259.5L167.4,251.8M183.9,251.8L182.7,259.5M175.0,259.5L175.0,259.5M182.7,259.5L175.0,259.5M182.7,259.5L182.7,259.5M198.0,274.2L197.6,274.8M205.7,273.4L198.0,274.2M207.5,274.8L205.7,273.4M197.6,274.8L198.0,275.3M205.7,276.4L198.0,275.3M207.5,274.8L205.7,276.4M182.7,302.5L180.7,305.5M190.3,302.3L182.7,302.5M193.3,305.5L190.3,302.3M180.7,305.5L176.1,313.1M193.3,305.5L192.7,313.1M176.1,313.1L182.7,315.2M190.3,315.5L182.7,315.2M192.7,313.1L190.3,315.5M228.6,350.3L225.2,351.3M229.7,351.3L228.6,350.3M225.2,351.3L228.6,352.6M229.7,351.3L228.6,352.6M182.7,415.3L178.4,419.8M190.3,414.7L182.7,415.3M194.9,419.8L190.3,414.7M178.4,419.8L178.8,427.3M194.9,419.8L198.0,423.2M201.6,427.3L198.0,423.2" fill="none" stroke="#000" stroke-width="0.9" stroke-linecap="round"/><text transform="translate(634.5,999.5) rotate(60)" text-anchor="middle" font-size="14.5" y="5">30</text><text transform="translate(640.5,1046.5) rotate(60)" text-anchor="middle" font-size="14.5" y="5">30</text><text transform="translate(684.5,1094.5) rotate(60)" text-anchor="middle" font-size="14.5" y="5">30</text><text transform="translate(642.5,1160.5) rotate(0)" text-anchor="middle" font-size="14.5" y="5">30</text><text x="743.7" y="779.6" font-size="20.5">10 km</text><path d="M765.6,785.7h12.4" stroke="#000" stroke-width="3.6" stroke-linecap="round"/><path d="M621.5,891.5L621.5,907.5M627.2,893.8L615.8,905.2M629.5,899.5L613.5,899.5M627.2,905.2L615.8,893.8" stroke="#f00" stroke-width="1.25" fill="none"/><path d="M630.0,984.5L630.0,1000.5M635.7,986.8L624.3,998.2M638.0,992.5L622.0,992.5M635.7,998.2L624.3,986.8" stroke="#f00" stroke-width="1.25" fill="none"/><path d="M525.5,1055.5L525.5,1071.5M531.2,1057.8L519.8,1069.2M533.5,1063.5L517.5,1063.5M531.2,1069.2L519.8,1057.8" stroke="#f00" stroke-width="1.25" fill="none"/></g><rect x="458.5" y="742.8" width="348" height="427.2" fill="none" stroke="#1a1a1a" stroke-width="1.5"/><path d="M516.5,742.5v4M516.5,1170.0v-4M574.5,742.5v4M574.5,1170.0v-4M632.5,742.5v4M632.5,1170.0v-4M690.5,742.5v4M690.5,1170.0v-4M748.5,742.5v4M748.5,1170.0v-4M458.5,814.9h4M806.5,814.9h-4M458.5,886.8h4M806.5,886.8h-4M458.5,958.2h4M806.5,958.2h-4M458.5,1029.3h4M806.5,1029.3h-4M458.5,1099.8h4M806.5,1099.8h-4" stroke="#1a1a1a" stroke-width="0.9" fill="none"/><text x="451.0" y="749.1" text-anchor="end" font-size="20.5">37°N</text><text x="451.0" y="893.4" text-anchor="end" font-size="20.5">36°N</text><text x="451.0" y="1035.9" text-anchor="end" font-size="20.5">35°N</text><text x="451.0" y="1176.6" text-anchor="end" font-size="20.5">34°N</text><text x="452.0" y="820.5" text-anchor="end" font-size="14.8">30'</text><text x="452.0" y="963.8" text-anchor="end" font-size="14.8">30'</text><text x="452.0" y="1105.4" text-anchor="end" font-size="14.8">30'</text><text x="461.0" y="1191.0" text-anchor="middle" font-size="20.5">77°W</text><text x="577.0" y="1191.0" text-anchor="middle" font-size="20.5">76°W</text><text x="693.0" y="1191.0" text-anchor="middle" font-size="20.5">75°W</text><text x="809.0" y="1191.0" text-anchor="middle" font-size="20.5">74°W</text><text x="516.5" y="1186.5" text-anchor="middle" font-size="14.8">30'</text><text x="632.5" y="1186.5" text-anchor="middle" font-size="14.8">30'</text><text x="748.5" y="1186.5" text-anchor="middle" font-size="14.8">30'</text><text x="632.5" y="730.4" text-anchor="middle" font-size="20.8" font-weight="bold">FitDif TotalErrors (30)</text><text x="495.5" y="721.4" font-size="21.5" fill="#262626">cm/s</text><text x="462.3" y="748.9" text-anchor="middle" font-size="17.2" fill="#262626">0</text><text x="555.4" y="748.9" text-anchor="middle" font-size="17.2" fill="#262626">50</text><rect x="462.3" y="762.5" width="112.8" height="24.6" fill="url(#jet)" stroke="#262626" stroke-width="1.1"/><path d="M462.3,762.5v2.2M555.4,762.5v2.2" stroke="#262626" stroke-width="0.8"/><g clip-path="url(#cp7)"><use href="#land" x="843.5" y="742.5"/><path d="M901.5,742.5V1170.0M959.5,742.5V1170.0M1017.5,742.5V1170.0M1075.5,742.5V1170.0M1133.5,742.5V1170.0M843.5,814.9H1191.5M843.5,886.8H1191.5M843.5,958.2H1191.5M843.5,1029.3H1191.5M843.5,1099.8H1191.5" stroke="#6e6e6e" stroke-width="0.8" stroke-dasharray="2,6.3" fill="none" opacity="0.8"/><g transform="translate(843.5,742.5)" shape-rendering="crispEdges"><path fill="#ff9900" d="M3.5,385.6H149.3V393.5H3.5ZM87.8,309.3H157.0V317.3H87.8ZM3.5,400.8H149.3V408.7H3.5ZM80.1,317.0H164.6V324.9H80.1ZM149.0,255.6H164.6V263.6H149.0ZM3.5,408.4H149.3V416.3H3.5ZM3.5,347.5H26.8V355.4H3.5ZM34.2,347.5H195.2V355.4H34.2ZM3.5,355.1H26.8V363.1H3.5ZM34.2,355.1H195.2V363.1H34.2ZM3.5,378.0H149.3V385.9H3.5ZM3.5,370.4H157.0V378.3H3.5ZM11.2,339.9H26.8V347.8H11.2ZM34.2,339.9H195.2V347.8H34.2ZM110.7,286.3H164.6V294.3H110.7ZM3.5,423.6H149.3V431.4H3.5ZM3.5,362.8H195.2V370.7H3.5ZM3.5,332.2H19.2V340.2H3.5ZM41.8,332.2H57.4V340.2H41.8ZM72.4,332.2H202.9V340.2H72.4ZM118.4,278.7H164.6V286.6H118.4ZM3.5,416.0H149.3V423.9H3.5ZM3.5,393.2H149.3V401.1H3.5ZM126.0,271.0H164.6V279.0H126.0ZM3.5,324.6H11.5V332.5H3.5ZM72.4,324.6H164.6V332.5H72.4ZM187.3,324.6H202.9V332.5H187.3ZM95.4,301.7H157.0V309.6H95.4ZM103.1,294.0H157.0V302.0H103.1ZM141.3,263.3H164.6V271.3H141.3Z"/><path fill="#dc0000" d="M149.0,385.6H287.1V393.5H149.0ZM194.9,224.8H210.5V232.8H194.9ZM240.9,224.8H248.8V232.8H240.9ZM156.7,309.3H294.7V317.3H156.7ZM302.1,309.3H325.4V317.3H302.1ZM149.0,400.8H294.7V408.7H149.0ZM164.3,317.0H287.1V324.9H164.3ZM164.3,255.6H241.2V263.6H164.3ZM149.0,408.4H294.7V416.3H149.0ZM194.9,347.5H287.1V355.4H194.9ZM194.9,355.1H294.7V363.1H194.9ZM149.0,378.0H287.1V385.9H149.0ZM156.7,370.4H287.1V378.3H156.7ZM194.9,339.9H287.1V347.8H194.9ZM164.3,286.3H287.1V294.3H164.3ZM149.0,423.6H287.1V431.4H149.0ZM194.9,362.8H294.7V370.7H194.9ZM202.6,332.2H287.1V340.2H202.6ZM164.3,278.7H287.1V286.6H164.3ZM194.9,217.1H210.5V225.1H194.9ZM149.0,416.0H287.1V423.9H149.0ZM164.3,247.9H233.5V255.9H164.3ZM149.0,393.2H294.7V401.1H149.0ZM164.3,271.0H248.8V279.0H164.3ZM263.8,271.0H287.1V279.0H263.8ZM164.3,324.6H187.6V332.5H164.3ZM202.6,324.6H294.7V332.5H202.6ZM156.7,301.7H294.7V309.6H156.7ZM302.1,301.7H325.4V309.6H302.1ZM194.9,240.2H233.5V248.2H194.9ZM156.7,294.0H287.1V302.0H156.7ZM309.8,294.0H325.4V302.0H309.8ZM194.9,232.5H218.2V240.5H194.9ZM225.5,232.5H248.8V240.5H225.5ZM164.3,263.3H241.2V271.3H164.3ZM263.8,263.3H287.1V271.3H263.8Z"/><path fill="#0033ff" d="M286.8,385.6H348.3V393.5H286.8ZM179.6,224.8H195.2V232.8H179.6ZM271.5,224.8H348.3V232.8H271.5ZM294.4,309.3H302.4V317.3H294.4ZM325.1,309.3H348.3V317.3H325.1ZM294.4,400.8H348.3V408.7H294.4ZM286.8,317.0H348.3V324.9H286.8ZM240.9,255.6H348.3V263.6H240.9ZM286.8,193.9H348.3V202.0H286.8ZM294.4,408.4H348.3V416.3H294.4ZM286.8,347.5H348.3V355.4H286.8ZM294.4,170.7H348.3V178.8H294.4ZM286.8,108.6H348.3V116.7H286.8ZM294.4,355.1H348.3V363.1H294.4ZM286.8,378.0H348.3V385.9H286.8ZM286.8,116.4H348.3V124.4H286.8ZM248.5,53.9H348.3V62.0H248.5ZM286.8,370.4H348.3V378.3H286.8ZM294.4,139.7H348.3V147.8H294.4ZM302.1,163.0H348.3V171.0H302.1ZM286.8,339.9H348.3V347.8H286.8ZM271.5,77.4H348.3V85.5H271.5ZM233.2,14.7H294.7V22.9H233.2ZM309.8,14.7H317.7V22.9H309.8ZM325.1,14.7H348.3V22.9H325.1ZM286.8,286.3H348.3V294.3H286.8ZM248.5,22.6H310.1V30.7H248.5ZM325.1,22.6H348.3V30.7H325.1ZM286.8,423.6H348.3V431.4H286.8ZM294.4,362.8H348.3V370.7H294.4ZM263.8,69.6H348.3V77.7H263.8ZM248.5,46.1H348.3V54.2H248.5ZM286.8,332.2H348.3V340.2H286.8ZM294.4,131.9H348.3V140.0H294.4ZM286.8,278.7H348.3V286.6H286.8ZM179.6,217.1H187.6V225.1H179.6ZM279.1,217.1H348.3V225.1H279.1ZM279.1,100.8H348.3V108.9H279.1ZM286.8,186.2H348.3V194.2H286.8ZM286.8,124.1H348.3V132.2H286.8ZM248.5,38.2H348.3V46.4H248.5ZM286.8,416.0H348.3V423.9H286.8ZM279.1,93.0H348.3V101.1H279.1ZM233.2,247.9H348.3V255.9H233.2ZM294.4,393.2H348.3V401.1H294.4ZM248.5,271.0H264.1V279.0H248.5ZM286.8,271.0H348.3V279.0H286.8ZM194.9,6.8H202.9V15.0H194.9ZM210.2,6.8H287.1V15.0H210.2ZM302.1,6.8H340.7V15.0H302.1ZM294.4,324.6H348.3V332.5H294.4ZM294.4,301.7H302.4V309.6H294.4ZM325.1,301.7H348.3V309.6H325.1ZM179.6,240.2H195.2V248.2H179.6ZM233.2,240.2H348.3V248.2H233.2ZM279.1,209.4H348.3V217.4H279.1ZM294.4,155.2H348.3V163.3H294.4ZM248.5,30.4H325.4V38.5H248.5ZM340.4,30.4H348.3V38.5H340.4ZM286.8,178.5H348.3V186.5H286.8ZM256.2,61.7H348.3V69.9H256.2ZM194.9,-1.0H271.8V7.1H194.9ZM294.4,-1.0H333.0V7.1H294.4ZM286.8,294.0H310.1V302.0H286.8ZM325.1,294.0H348.3V302.0H325.1ZM294.4,147.5H348.3V155.5H294.4ZM179.6,232.5H195.2V240.5H179.6ZM248.5,232.5H348.3V240.5H248.5ZM279.1,201.7H348.3V209.7H279.1ZM271.5,85.2H348.3V93.3H271.5ZM240.9,263.3H264.1V271.3H240.9ZM286.8,263.3H348.3V271.3H286.8Z"/><path fill="#870000" d="M210.2,224.8H241.2V232.8H210.2ZM256.2,224.8H271.8V232.8H256.2ZM179.6,193.9H202.9V202.0H179.6ZM210.2,193.9H233.5V202.0H210.2ZM210.2,170.7H218.2V178.8H210.2ZM202.6,163.0H225.8V171.0H202.6ZM187.3,217.1H195.2V225.1H187.3ZM210.2,217.1H241.2V225.1H210.2ZM248.5,217.1H279.4V225.1H248.5ZM179.6,209.4H241.2V217.4H179.6ZM248.5,209.4H279.4V217.4H248.5ZM202.6,155.2H225.8V163.3H202.6ZM210.2,147.5H218.2V155.5H210.2ZM217.9,232.5H225.8V240.5H217.9ZM179.6,201.7H233.5V209.7H179.6ZM256.2,201.7H271.8V209.7H256.2Z"/><path fill="#0099ff" d="M248.5,224.8H256.5V232.8H248.5ZM202.6,193.9H210.5V202.0H202.6ZM233.2,193.9H287.1V202.0H233.2ZM179.6,170.7H210.5V178.8H179.6ZM217.9,170.7H294.7V178.8H217.9ZM172.0,108.6H287.1V116.7H172.0ZM172.0,116.4H287.1V124.4H172.0ZM179.6,53.9H248.8V62.0H179.6ZM172.0,139.7H294.7V147.8H172.0ZM187.3,163.0H202.9V171.0H187.3ZM225.5,163.0H302.4V171.0H225.5ZM179.6,77.4H271.8V85.5H179.6ZM179.6,14.7H233.5V22.9H179.6ZM179.6,22.6H248.8V30.7H179.6ZM179.6,69.6H264.1V77.7H179.6ZM179.6,46.1H248.8V54.2H179.6ZM172.0,131.9H294.7V140.0H172.0ZM240.9,217.1H248.8V225.1H240.9ZM172.0,100.8H279.4V108.9H172.0ZM179.6,186.2H287.1V194.2H179.6ZM172.0,124.1H287.1V132.2H172.0ZM179.6,38.2H248.8V46.4H179.6ZM179.6,93.0H279.4V101.1H179.6ZM187.3,6.8H195.2V15.0H187.3ZM202.6,6.8H210.5V15.0H202.6ZM240.9,209.4H248.8V217.4H240.9ZM172.0,155.2H202.9V163.3H172.0ZM225.5,155.2H294.7V163.3H225.5ZM179.6,30.4H248.8V38.5H179.6ZM179.6,178.5H287.1V186.5H179.6ZM179.6,61.7H256.5V69.9H179.6ZM187.3,-1.0H195.2V7.1H187.3ZM172.0,147.5H210.5V155.5H172.0ZM217.9,147.5H294.7V155.5H217.9ZM233.2,201.7H256.5V209.7H233.2ZM271.5,201.7H279.4V209.7H271.5ZM179.6,85.2H271.8V93.3H179.6Z"/><path fill="#00008b" d="M26.5,347.5H34.5V355.4H26.5ZM26.5,355.1H34.5V363.1H26.5ZM141.3,53.9H149.3V62.0H141.3ZM3.5,339.9H11.5V347.8H3.5ZM26.5,339.9H34.5V347.8H26.5ZM294.4,14.7H310.1V22.9H294.4ZM317.4,14.7H325.4V22.9H317.4ZM309.8,22.6H325.4V30.7H309.8ZM18.9,332.2H42.1V340.2H18.9ZM3.5,278.7H11.5V286.6H3.5ZM126.0,6.8H172.3V15.0H126.0ZM286.8,6.8H302.4V15.0H286.8ZM340.4,6.8H348.3V15.0H340.4ZM325.1,30.4H340.7V38.5H325.1ZM126.0,-1.0H172.3V7.1H126.0ZM271.5,-1.0H294.7V7.1H271.5ZM332.7,-1.0H348.3V7.1H332.7Z"/><path fill="#0000d0" d="M156.7,108.6H172.3V116.7H156.7ZM156.7,116.4H172.3V124.4H156.7ZM149.0,53.9H179.9V62.0H149.0ZM164.3,139.7H172.3V147.8H164.3ZM172.0,163.0H187.6V171.0H172.0ZM141.3,77.4H179.9V85.5H141.3ZM133.7,14.7H179.9V22.9H133.7ZM133.7,22.6H179.9V30.7H133.7ZM141.3,69.6H179.9V77.7H141.3ZM133.7,46.1H179.9V54.2H133.7ZM164.3,131.9H172.3V140.0H164.3ZM149.0,100.8H172.3V108.9H149.0ZM156.7,124.1H172.3V132.2H156.7ZM133.7,38.2H179.9V46.4H133.7ZM149.0,93.0H179.9V101.1H149.0ZM172.0,6.8H187.6V15.0H172.0ZM133.7,30.4H179.9V38.5H133.7ZM141.3,61.7H179.9V69.9H141.3ZM172.0,-1.0H187.6V7.1H172.0ZM141.3,85.2H179.9V93.3H141.3Z"/></g><text x="1128.7" y="779.6" font-size="20.5">10 km</text><path d="M1150.6,785.7h12.4" stroke="#000" stroke-width="3.6" stroke-linecap="round"/><path d="M1006.5,891.5L1006.5,907.5M1012.2,893.8L1000.8,905.2M1014.5,899.5L998.5,899.5M1012.2,905.2L1000.8,893.8" stroke="#f00" stroke-width="1.25" fill="none"/><path d="M1015.0,984.5L1015.0,1000.5M1020.7,986.8L1009.3,998.2M1023.0,992.5L1007.0,992.5M1020.7,998.2L1009.3,986.8" stroke="#f00" stroke-width="1.25" fill="none"/><path d="M910.5,1055.5L910.5,1071.5M916.2,1057.8L904.8,1069.2M918.5,1063.5L902.5,1063.5M916.2,1069.2L904.8,1057.8" stroke="#f00" stroke-width="1.25" fill="none"/></g><rect x="843.5" y="742.8" width="348" height="427.2" fill="none" stroke="#1a1a1a" stroke-width="1.5"/><path d="M901.5,742.5v4M901.5,1170.0v-4M959.5,742.5v4M959.5,1170.0v-4M1017.5,742.5v4M1017.5,1170.0v-4M1075.5,742.5v4M1075.5,1170.0v-4M1133.5,742.5v4M1133.5,1170.0v-4M843.5,814.9h4M1191.5,814.9h-4M843.5,886.8h4M1191.5,886.8h-4M843.5,958.2h4M1191.5,958.2h-4M843.5,1029.3h4M1191.5,1029.3h-4M843.5,1099.8h4M1191.5,1099.8h-4" stroke="#1a1a1a" stroke-width="0.9" fill="none"/><text x="836.0" y="749.1" text-anchor="end" font-size="20.5">37°N</text><text x="836.0" y="893.4" text-anchor="end" font-size="20.5">36°N</text><text x="836.0" y="1035.9" text-anchor="end" font-size="20.5">35°N</text><text x="836.0" y="1176.6" text-anchor="end" font-size="20.5">34°N</text><text x="837.0" y="820.5" text-anchor="end" font-size="14.8">30'</text><text x="837.0" y="963.8" text-anchor="end" font-size="14.8">30'</text><text x="837.0" y="1105.4" text-anchor="end" font-size="14.8">30'</text><text x="846.0" y="1191.0" text-anchor="middle" font-size="20.5">77°W</text><text x="962.0" y="1191.0" text-anchor="middle" font-size="20.5">76°W</text><text x="1078.0" y="1191.0" text-anchor="middle" font-size="20.5">75°W</text><text x="1194.0" y="1191.0" text-anchor="middle" font-size="20.5">74°W</text><text x="901.5" y="1186.5" text-anchor="middle" font-size="14.8">30'</text><text x="1017.5" y="1186.5" text-anchor="middle" font-size="14.8">30'</text><text x="1133.5" y="1186.5" text-anchor="middle" font-size="14.8">30'</text><text x="1017.5" y="729.9" text-anchor="middle" font-size="24.6" font-weight="bold">Site Codes</text><text x="847.3" y="748.9" text-anchor="middle" font-size="17.2" fill="#262626">0</text><text x="897.3" y="748.9" text-anchor="middle" font-size="17.2" fill="#262626">5</text><text x="947.3" y="748.9" text-anchor="middle" font-size="17.2" fill="#262626">10</text><rect x="847.3" y="762.5" width="111.0" height="24.6" fill="url(#jet)" stroke="#262626" stroke-width="1.1"/><path d="M847.3,762.5v2.2M897.3,762.5v2.2M947.3,762.5v2.2" stroke="#262626" stroke-width="0.8"/></svg></body></html>
